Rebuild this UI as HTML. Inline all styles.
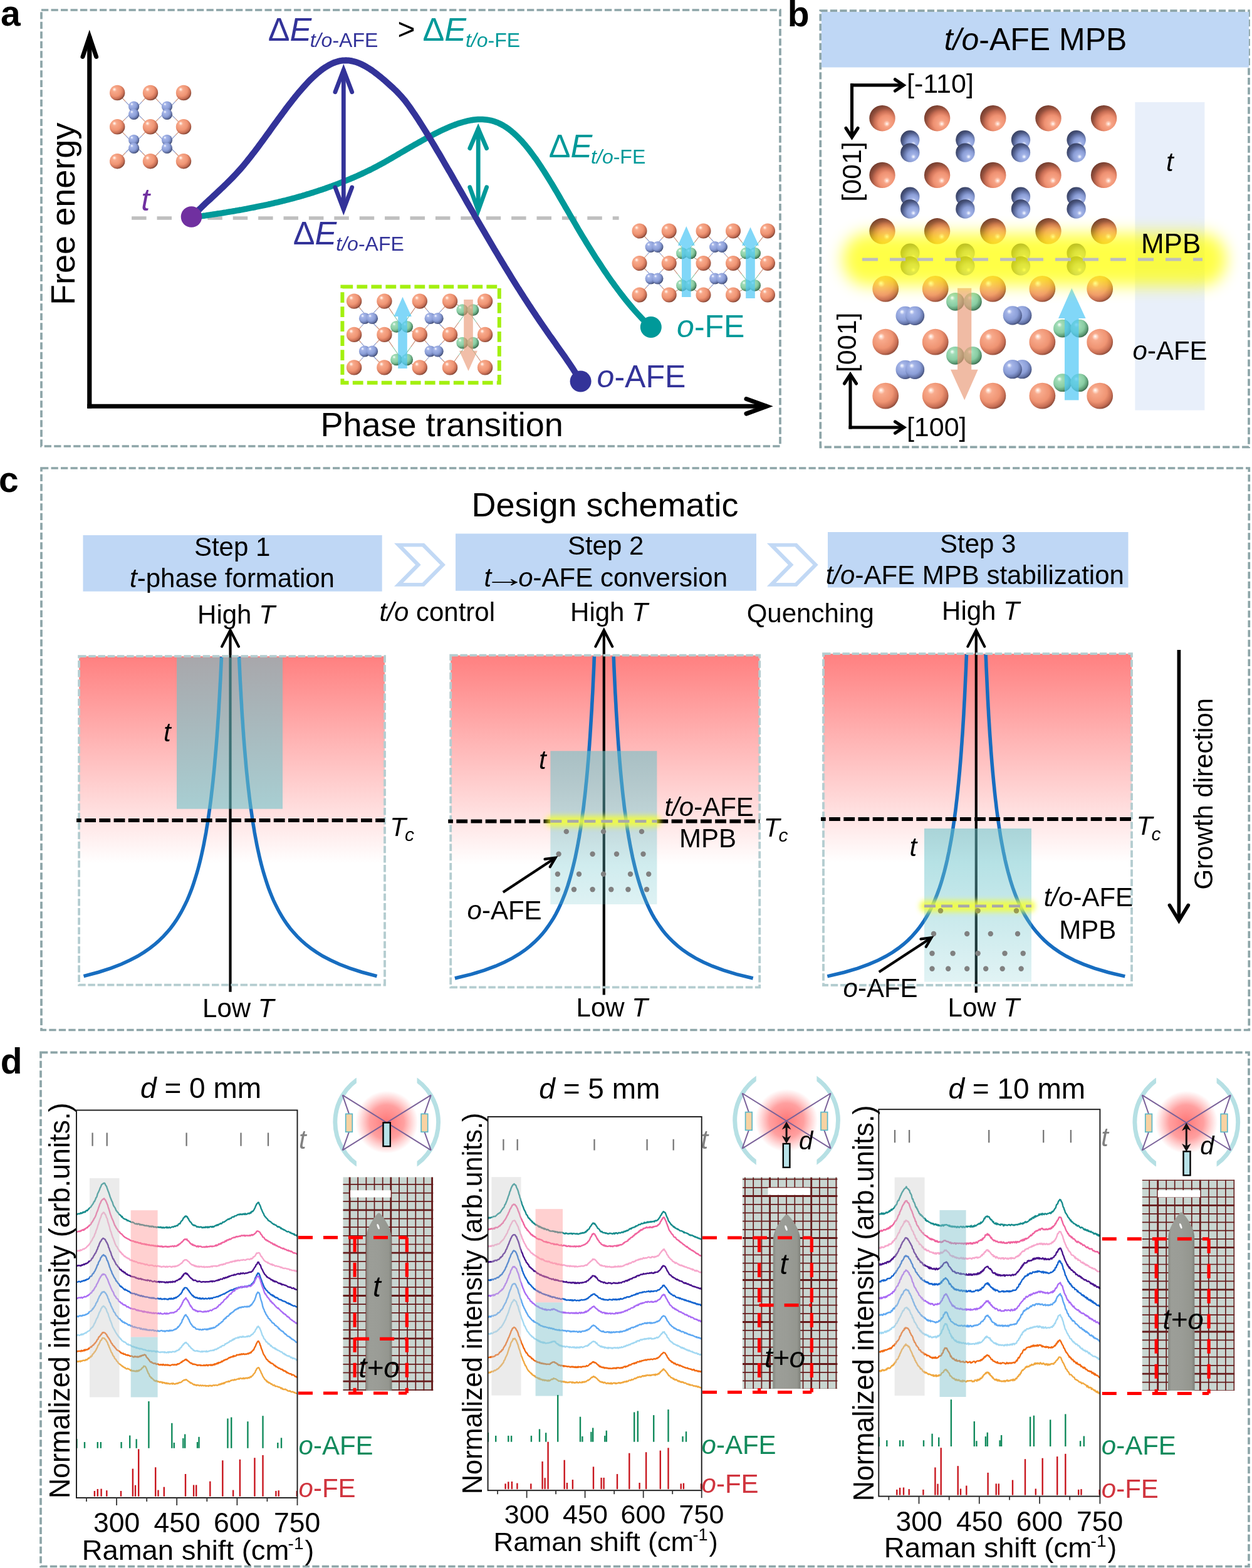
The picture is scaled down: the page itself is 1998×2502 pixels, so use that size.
<!DOCTYPE html>
<html><head><meta charset="utf-8"><title>Figure</title>
<style>html,body{margin:0;padding:0;background:#fff;}svg{display:block}text{font-family:"Liberation Sans",Arial,sans-serif;}</style>
</head><body>
<svg xmlns="http://www.w3.org/2000/svg" width="1998" height="2502" viewBox="0 0 1998 2502">
<rect width="1998" height="2502" fill="#fff"/>
<defs>
<radialGradient id="gO" cx="0.4" cy="0.38" r="0.68" fx="0.3" fy="0.27"><stop offset="0" stop-color="#FFFFFF"/><stop offset="0.07" stop-color="#FFE2D4"/><stop offset="0.2" stop-color="#F8AA8C"/><stop offset="0.58" stop-color="#EF9473"/><stop offset="0.8" stop-color="#C86F55"/><stop offset="0.93" stop-color="#8A4A39"/><stop offset="1" stop-color="#6E3A2D"/></radialGradient>
<radialGradient id="gB" cx="0.4" cy="0.38" r="0.68" fx="0.3" fy="0.27"><stop offset="0" stop-color="#FFFFFF"/><stop offset="0.07" stop-color="#E2E8FB"/><stop offset="0.2" stop-color="#A5B5E8"/><stop offset="0.58" stop-color="#8C9FD8"/><stop offset="0.8" stop-color="#6474A8"/><stop offset="0.93" stop-color="#414C74"/><stop offset="1" stop-color="#333C5C"/></radialGradient>
<radialGradient id="gG" cx="0.4" cy="0.38" r="0.68" fx="0.3" fy="0.27"><stop offset="0" stop-color="#FFFFFF"/><stop offset="0.07" stop-color="#DDF5E6"/><stop offset="0.2" stop-color="#A2DDB8"/><stop offset="0.58" stop-color="#88CCA2"/><stop offset="0.8" stop-color="#5C9A74"/><stop offset="0.93" stop-color="#3A6A4C"/><stop offset="1" stop-color="#2E543C"/></radialGradient>
<radialGradient id="gOo" cx="0.42" cy="0.4" r="0.68" fx="0.32" fy="0.28"><stop offset="0" stop-color="#FFFFFF"/><stop offset="0.07" stop-color="#FFE2D4"/><stop offset="0.2" stop-color="#F8AA8C"/><stop offset="0.58" stop-color="#EF9473"/><stop offset="0.8" stop-color="#C86F55"/><stop offset="0.93" stop-color="#8A4A39"/><stop offset="1" stop-color="#6E3A2D"/></radialGradient>
<radialGradient id="gBo" cx="0.42" cy="0.4" r="0.68" fx="0.32" fy="0.28"><stop offset="0" stop-color="#FFFFFF"/><stop offset="0.07" stop-color="#E2E8FB"/><stop offset="0.2" stop-color="#A5B5E8"/><stop offset="0.58" stop-color="#8C9FD8"/><stop offset="0.8" stop-color="#6474A8"/><stop offset="0.93" stop-color="#414C74"/><stop offset="1" stop-color="#333C5C"/></radialGradient>
<radialGradient id="gGo" cx="0.42" cy="0.4" r="0.68" fx="0.32" fy="0.28"><stop offset="0" stop-color="#FFFFFF"/><stop offset="0.07" stop-color="#DDF5E6"/><stop offset="0.2" stop-color="#A2DDB8"/><stop offset="0.58" stop-color="#88CCA2"/><stop offset="0.8" stop-color="#5C9A74"/><stop offset="0.93" stop-color="#3A6A4C"/><stop offset="1" stop-color="#2E543C"/></radialGradient>
<radialGradient id="gOt" cx="0.63" cy="0.65" r="0.72" fx="0.68" fy="0.72"><stop offset="0" stop-color="#FFFFFF"/><stop offset="0.06" stop-color="#FFD8C8"/><stop offset="0.17" stop-color="#F7A486"/><stop offset="0.42" stop-color="#EF9172"/><stop offset="0.62" stop-color="#C96E54"/><stop offset="0.78" stop-color="#93503D"/><stop offset="1" stop-color="#6A3629"/></radialGradient>
<radialGradient id="gBt" cx="0.63" cy="0.65" r="0.72" fx="0.68" fy="0.72"><stop offset="0" stop-color="#FFFFFF"/><stop offset="0.06" stop-color="#DCE4FA"/><stop offset="0.17" stop-color="#A2B3E7"/><stop offset="0.42" stop-color="#8B9ED7"/><stop offset="0.62" stop-color="#6676A9"/><stop offset="0.78" stop-color="#48547E"/><stop offset="1" stop-color="#343C5A"/></radialGradient>
<filter id="blurB" x="-20%" y="-100%" width="140%" height="300%"><feGaussianBlur stdDeviation="13"/></filter>
<filter id="blurC" x="-20%" y="-200%" width="140%" height="500%"><feGaussianBlur stdDeviation="4"/></filter>
<radialGradient id="glowR"><stop offset="0" stop-color="#FF7070" stop-opacity="0.95"/><stop offset="0.55" stop-color="#FF8080" stop-opacity="0.75"/><stop offset="1" stop-color="#FF9090" stop-opacity="0"/></radialGradient>
<linearGradient id="rodG" x1="0" y1="0" x2="1" y2="0"><stop offset="0" stop-color="#85877F"/><stop offset="0.12" stop-color="#9C9E98"/><stop offset="0.5" stop-color="#9A9C96"/><stop offset="0.88" stop-color="#94968F"/><stop offset="1" stop-color="#7C7E77"/></linearGradient>
</defs>
<rect x="66" y="16" width="1179" height="696" fill="none" stroke="#8DA5A8" stroke-width="3.7" stroke-dasharray="11.3 4.2"/>
<text x="1.1" y="40.9" font-size="57" fill="#000" font-weight="bold" ><tspan font-weight="bold">a</tspan></text>
<line x1="142.8" y1="651.5" x2="142.8" y2="58.0" stroke="#000" stroke-width="7.2" />
<polyline points="132.0,90.5 142.8,58.5 153.6,90.5" stroke="#000" stroke-width="7" fill="none" stroke-linecap="round" stroke-linejoin="miter"/>
<line x1="139.2" y1="648.3" x2="1224.0" y2="648.3" stroke="#000" stroke-width="7" />
<polyline points="1191.0,636.5 1223.5,648.3 1191.0,660.1" stroke="#000" stroke-width="7" fill="none" stroke-linecap="round" stroke-linejoin="miter"/>
<text x="-4.4" y="0.0" font-size="54" fill="#000" transform="translate(119,482.5) rotate(-90)"><tspan>Free energy</tspan></text>
<text x="511.5" y="695.6" font-size="54" fill="#000" ><tspan>Phase transition</tspan></text>
<line x1="210.1" y1="348.0" x2="987.6" y2="348.0" stroke="#BFBFBF" stroke-width="5.6" stroke-dasharray="23.5 16.9"/>
<line x1="187.2" y1="148.0" x2="200.4" y2="162.1" stroke="#C98F78" stroke-width="1.1" />
<line x1="200.4" y1="162.1" x2="213.6" y2="176.2" stroke="#8796C8" stroke-width="1.1" />
<line x1="187.2" y1="202.3" x2="200.4" y2="189.2" stroke="#C98F78" stroke-width="1.1" />
<line x1="200.4" y1="189.2" x2="213.6" y2="176.2" stroke="#8796C8" stroke-width="1.1" />
<line x1="240.0" y1="148.0" x2="226.8" y2="162.1" stroke="#C98F78" stroke-width="1.1" />
<line x1="226.8" y1="162.1" x2="213.6" y2="176.2" stroke="#8796C8" stroke-width="1.1" />
<line x1="240.0" y1="202.3" x2="226.8" y2="189.2" stroke="#C98F78" stroke-width="1.1" />
<line x1="226.8" y1="189.2" x2="213.6" y2="176.2" stroke="#8796C8" stroke-width="1.1" />
<line x1="240.1" y1="148.0" x2="253.3" y2="162.1" stroke="#C98F78" stroke-width="1.1" />
<line x1="253.3" y1="162.1" x2="266.5" y2="176.2" stroke="#8796C8" stroke-width="1.1" />
<line x1="240.1" y1="202.3" x2="253.3" y2="189.2" stroke="#C98F78" stroke-width="1.1" />
<line x1="253.3" y1="189.2" x2="266.5" y2="176.2" stroke="#8796C8" stroke-width="1.1" />
<line x1="292.9" y1="148.0" x2="279.7" y2="162.1" stroke="#C98F78" stroke-width="1.1" />
<line x1="279.7" y1="162.1" x2="266.5" y2="176.2" stroke="#8796C8" stroke-width="1.1" />
<line x1="292.9" y1="202.3" x2="279.7" y2="189.2" stroke="#C98F78" stroke-width="1.1" />
<line x1="279.7" y1="189.2" x2="266.5" y2="176.2" stroke="#8796C8" stroke-width="1.1" />
<line x1="187.2" y1="202.3" x2="200.4" y2="216.1" stroke="#C98F78" stroke-width="1.1" />
<line x1="200.4" y1="216.1" x2="213.6" y2="229.9" stroke="#8796C8" stroke-width="1.1" />
<line x1="187.2" y1="257.2" x2="200.4" y2="243.5" stroke="#C98F78" stroke-width="1.1" />
<line x1="200.4" y1="243.5" x2="213.6" y2="229.9" stroke="#8796C8" stroke-width="1.1" />
<line x1="240.0" y1="202.3" x2="226.8" y2="216.1" stroke="#C98F78" stroke-width="1.1" />
<line x1="226.8" y1="216.1" x2="213.6" y2="229.9" stroke="#8796C8" stroke-width="1.1" />
<line x1="240.0" y1="257.2" x2="226.8" y2="243.5" stroke="#C98F78" stroke-width="1.1" />
<line x1="226.8" y1="243.5" x2="213.6" y2="229.9" stroke="#8796C8" stroke-width="1.1" />
<line x1="240.1" y1="202.3" x2="253.3" y2="216.1" stroke="#C98F78" stroke-width="1.1" />
<line x1="253.3" y1="216.1" x2="266.5" y2="229.9" stroke="#8796C8" stroke-width="1.1" />
<line x1="240.1" y1="257.2" x2="253.3" y2="243.5" stroke="#C98F78" stroke-width="1.1" />
<line x1="253.3" y1="243.5" x2="266.5" y2="229.9" stroke="#8796C8" stroke-width="1.1" />
<line x1="292.9" y1="202.3" x2="279.7" y2="216.1" stroke="#C98F78" stroke-width="1.1" />
<line x1="279.7" y1="216.1" x2="266.5" y2="229.9" stroke="#8796C8" stroke-width="1.1" />
<line x1="292.9" y1="257.2" x2="279.7" y2="243.5" stroke="#C98F78" stroke-width="1.1" />
<line x1="279.7" y1="243.5" x2="266.5" y2="229.9" stroke="#8796C8" stroke-width="1.1" />
<circle cx="187.2" cy="148.0" r="12.2" fill="url(#gO)" />
<circle cx="240.0" cy="148.0" r="12.2" fill="url(#gO)" />
<circle cx="293.0" cy="148.0" r="12.2" fill="url(#gO)" />
<circle cx="187.2" cy="202.3" r="12.2" fill="url(#gO)" />
<circle cx="240.0" cy="202.3" r="12.2" fill="url(#gO)" />
<circle cx="293.0" cy="202.3" r="12.2" fill="url(#gO)" />
<circle cx="187.2" cy="257.2" r="12.2" fill="url(#gO)" />
<circle cx="240.0" cy="257.2" r="12.2" fill="url(#gO)" />
<circle cx="293.0" cy="257.2" r="12.2" fill="url(#gO)" />
<circle cx="213.6" cy="170.0" r="8.6" fill="url(#gB)" />
<circle cx="213.6" cy="182.3" r="8.6" fill="url(#gB)" />
<circle cx="266.5" cy="170.0" r="8.6" fill="url(#gB)" />
<circle cx="266.5" cy="182.3" r="8.6" fill="url(#gB)" />
<circle cx="213.6" cy="223.3" r="8.6" fill="url(#gB)" />
<circle cx="213.6" cy="236.4" r="8.6" fill="url(#gB)" />
<circle cx="266.5" cy="223.3" r="8.6" fill="url(#gB)" />
<circle cx="266.5" cy="236.4" r="8.6" fill="url(#gB)" />
<rect x="546.4" y="457.4" width="250.4" height="153.4" fill="none" stroke="#A3F00F" stroke-width="6" stroke-dasharray="16.8 6.2"/>
<line x1="565.1" y1="480.6" x2="576.5" y2="494.3" stroke="#C98F78" stroke-width="1.1" />
<line x1="576.5" y1="494.3" x2="588.0" y2="508.0" stroke="#8796C8" stroke-width="1.1" />
<line x1="565.1" y1="533.9" x2="576.5" y2="521.0" stroke="#C98F78" stroke-width="1.1" />
<line x1="576.5" y1="521.0" x2="588.0" y2="508.0" stroke="#8796C8" stroke-width="1.1" />
<line x1="613.4" y1="480.6" x2="600.7" y2="494.3" stroke="#C98F78" stroke-width="1.1" />
<line x1="600.7" y1="494.3" x2="588.0" y2="508.0" stroke="#8796C8" stroke-width="1.1" />
<line x1="613.4" y1="533.9" x2="600.7" y2="521.0" stroke="#C98F78" stroke-width="1.1" />
<line x1="600.7" y1="521.0" x2="588.0" y2="508.0" stroke="#8796C8" stroke-width="1.1" />
<line x1="565.1" y1="533.9" x2="576.5" y2="547.2" stroke="#C98F78" stroke-width="1.1" />
<line x1="576.5" y1="547.2" x2="588.0" y2="560.5" stroke="#8796C8" stroke-width="1.1" />
<line x1="565.1" y1="586.4" x2="576.5" y2="573.5" stroke="#C98F78" stroke-width="1.1" />
<line x1="576.5" y1="573.5" x2="588.0" y2="560.5" stroke="#8796C8" stroke-width="1.1" />
<line x1="613.4" y1="533.9" x2="600.7" y2="547.2" stroke="#C98F78" stroke-width="1.1" />
<line x1="600.7" y1="547.2" x2="588.0" y2="560.5" stroke="#8796C8" stroke-width="1.1" />
<line x1="613.4" y1="586.4" x2="600.7" y2="573.5" stroke="#C98F78" stroke-width="1.1" />
<line x1="600.7" y1="573.5" x2="588.0" y2="560.5" stroke="#8796C8" stroke-width="1.1" />
<line x1="669.8" y1="480.6" x2="681.2" y2="494.3" stroke="#C98F78" stroke-width="1.1" />
<line x1="681.2" y1="494.3" x2="692.6" y2="508.0" stroke="#8796C8" stroke-width="1.1" />
<line x1="669.8" y1="533.9" x2="681.2" y2="521.0" stroke="#C98F78" stroke-width="1.1" />
<line x1="681.2" y1="521.0" x2="692.6" y2="508.0" stroke="#8796C8" stroke-width="1.1" />
<line x1="718.0" y1="480.6" x2="705.3" y2="494.3" stroke="#C98F78" stroke-width="1.1" />
<line x1="705.3" y1="494.3" x2="692.6" y2="508.0" stroke="#8796C8" stroke-width="1.1" />
<line x1="718.0" y1="533.9" x2="705.3" y2="521.0" stroke="#C98F78" stroke-width="1.1" />
<line x1="705.3" y1="521.0" x2="692.6" y2="508.0" stroke="#8796C8" stroke-width="1.1" />
<line x1="669.8" y1="533.9" x2="681.2" y2="547.2" stroke="#C98F78" stroke-width="1.1" />
<line x1="681.2" y1="547.2" x2="692.6" y2="560.5" stroke="#8796C8" stroke-width="1.1" />
<line x1="669.8" y1="586.4" x2="681.2" y2="573.5" stroke="#C98F78" stroke-width="1.1" />
<line x1="681.2" y1="573.5" x2="692.6" y2="560.5" stroke="#8796C8" stroke-width="1.1" />
<line x1="718.0" y1="533.9" x2="705.3" y2="547.2" stroke="#C98F78" stroke-width="1.1" />
<line x1="705.3" y1="547.2" x2="692.6" y2="560.5" stroke="#8796C8" stroke-width="1.1" />
<line x1="718.0" y1="586.4" x2="705.3" y2="573.5" stroke="#C98F78" stroke-width="1.1" />
<line x1="705.3" y1="573.5" x2="692.6" y2="560.5" stroke="#8796C8" stroke-width="1.1" />
<line x1="613.4" y1="480.6" x2="627.2" y2="500.9" stroke="#C98F78" stroke-width="1.1" />
<line x1="627.2" y1="500.9" x2="641.1" y2="521.3" stroke="#8CC8A8" stroke-width="1.1" />
<line x1="613.4" y1="533.9" x2="627.2" y2="527.6" stroke="#C98F78" stroke-width="1.1" />
<line x1="627.2" y1="527.6" x2="641.1" y2="521.3" stroke="#8CC8A8" stroke-width="1.1" />
<line x1="669.8" y1="480.6" x2="655.5" y2="500.9" stroke="#C98F78" stroke-width="1.1" />
<line x1="655.5" y1="500.9" x2="641.1" y2="521.3" stroke="#8CC8A8" stroke-width="1.1" />
<line x1="669.8" y1="533.9" x2="655.5" y2="527.6" stroke="#C98F78" stroke-width="1.1" />
<line x1="655.5" y1="527.6" x2="641.1" y2="521.3" stroke="#8CC8A8" stroke-width="1.1" />
<line x1="613.4" y1="533.9" x2="627.2" y2="553.9" stroke="#C98F78" stroke-width="1.1" />
<line x1="627.2" y1="553.9" x2="641.1" y2="573.9" stroke="#8CC8A8" stroke-width="1.1" />
<line x1="613.4" y1="586.4" x2="627.2" y2="580.1" stroke="#C98F78" stroke-width="1.1" />
<line x1="627.2" y1="580.1" x2="641.1" y2="573.9" stroke="#8CC8A8" stroke-width="1.1" />
<line x1="669.8" y1="533.9" x2="655.5" y2="553.9" stroke="#C98F78" stroke-width="1.1" />
<line x1="655.5" y1="553.9" x2="641.1" y2="573.9" stroke="#8CC8A8" stroke-width="1.1" />
<line x1="669.8" y1="586.4" x2="655.5" y2="580.1" stroke="#C98F78" stroke-width="1.1" />
<line x1="655.5" y1="580.1" x2="641.1" y2="573.9" stroke="#8CC8A8" stroke-width="1.1" />
<line x1="718.0" y1="480.6" x2="732.1" y2="487.6" stroke="#C98F78" stroke-width="1.1" />
<line x1="732.1" y1="487.6" x2="746.3" y2="494.7" stroke="#8CC8A8" stroke-width="1.1" />
<line x1="718.0" y1="533.9" x2="732.1" y2="514.3" stroke="#C98F78" stroke-width="1.1" />
<line x1="732.1" y1="514.3" x2="746.3" y2="494.7" stroke="#8CC8A8" stroke-width="1.1" />
<line x1="774.1" y1="480.6" x2="760.2" y2="487.6" stroke="#C98F78" stroke-width="1.1" />
<line x1="760.2" y1="487.6" x2="746.3" y2="494.7" stroke="#8CC8A8" stroke-width="1.1" />
<line x1="774.1" y1="533.9" x2="760.2" y2="514.3" stroke="#C98F78" stroke-width="1.1" />
<line x1="760.2" y1="514.3" x2="746.3" y2="494.7" stroke="#8CC8A8" stroke-width="1.1" />
<line x1="718.0" y1="533.9" x2="732.1" y2="540.5" stroke="#C98F78" stroke-width="1.1" />
<line x1="732.1" y1="540.5" x2="746.3" y2="547.2" stroke="#8CC8A8" stroke-width="1.1" />
<line x1="718.0" y1="586.4" x2="732.1" y2="566.8" stroke="#C98F78" stroke-width="1.1" />
<line x1="732.1" y1="566.8" x2="746.3" y2="547.2" stroke="#8CC8A8" stroke-width="1.1" />
<line x1="774.1" y1="533.9" x2="760.2" y2="540.5" stroke="#C98F78" stroke-width="1.1" />
<line x1="760.2" y1="540.5" x2="746.3" y2="547.2" stroke="#8CC8A8" stroke-width="1.1" />
<line x1="774.1" y1="586.4" x2="760.2" y2="566.8" stroke="#C98F78" stroke-width="1.1" />
<line x1="760.2" y1="566.8" x2="746.3" y2="547.2" stroke="#8CC8A8" stroke-width="1.1" />
<circle cx="565.1" cy="480.6" r="12.2" fill="url(#gO)" />
<circle cx="613.4" cy="480.6" r="12.2" fill="url(#gO)" />
<circle cx="669.8" cy="480.6" r="12.2" fill="url(#gO)" />
<circle cx="718.0" cy="480.6" r="12.2" fill="url(#gO)" />
<circle cx="774.1" cy="480.6" r="12.2" fill="url(#gO)" />
<circle cx="565.1" cy="533.9" r="12.2" fill="url(#gO)" />
<circle cx="613.4" cy="533.9" r="12.2" fill="url(#gO)" />
<circle cx="669.8" cy="533.9" r="12.2" fill="url(#gO)" />
<circle cx="718.0" cy="533.9" r="12.2" fill="url(#gO)" />
<circle cx="774.1" cy="533.9" r="12.2" fill="url(#gO)" />
<circle cx="565.1" cy="586.4" r="12.2" fill="url(#gO)" />
<circle cx="613.4" cy="586.4" r="12.2" fill="url(#gO)" />
<circle cx="669.8" cy="586.4" r="12.2" fill="url(#gO)" />
<circle cx="718.0" cy="586.4" r="12.2" fill="url(#gO)" />
<circle cx="774.1" cy="586.4" r="12.2" fill="url(#gO)" />
<circle cx="582.0" cy="508.0" r="9.1" fill="url(#gB)" />
<circle cx="594.0" cy="508.0" r="9.1" fill="url(#gB)" />
<circle cx="582.0" cy="560.5" r="9.1" fill="url(#gB)" />
<circle cx="594.0" cy="560.5" r="9.1" fill="url(#gB)" />
<circle cx="686.6" cy="508.0" r="9.1" fill="url(#gB)" />
<circle cx="698.6" cy="508.0" r="9.1" fill="url(#gB)" />
<circle cx="686.6" cy="560.5" r="9.1" fill="url(#gB)" />
<circle cx="698.6" cy="560.5" r="9.1" fill="url(#gB)" />
<circle cx="632.5" cy="521.3" r="9.4" fill="url(#gG)" />
<circle cx="649.7" cy="521.3" r="9.4" fill="url(#gG)" />
<circle cx="632.5" cy="573.9" r="9.4" fill="url(#gG)" />
<circle cx="649.7" cy="573.9" r="9.4" fill="url(#gG)" />
<circle cx="737.7" cy="494.7" r="9.4" fill="url(#gG)" />
<circle cx="754.9" cy="494.7" r="9.4" fill="url(#gG)" />
<circle cx="737.7" cy="547.2" r="9.4" fill="url(#gG)" />
<circle cx="754.9" cy="547.2" r="9.4" fill="url(#gG)" />
<polygon points="635.2,588.0 635.2,504.9 628.6,504.9 642.5,473.8 656.8,504.9 649.8,504.9 649.8,588.0" fill="rgba(80,200,245,0.72)" />
<polygon points="740.2,477.9 740.2,559.8 732.9,559.8 747.5,591.9 761.9,559.8 754.8,559.8 754.8,477.9" fill="rgba(232,150,115,0.62)" />
<line x1="1020.5" y1="368.5" x2="1032.2" y2="381.2" stroke="#C98F78" stroke-width="1.1" />
<line x1="1032.2" y1="381.2" x2="1044.0" y2="394.0" stroke="#8796C8" stroke-width="1.1" />
<line x1="1020.5" y1="420.0" x2="1032.2" y2="407.0" stroke="#C98F78" stroke-width="1.1" />
<line x1="1032.2" y1="407.0" x2="1044.0" y2="394.0" stroke="#8796C8" stroke-width="1.1" />
<line x1="1067.7" y1="368.5" x2="1055.8" y2="381.2" stroke="#C98F78" stroke-width="1.1" />
<line x1="1055.8" y1="381.2" x2="1044.0" y2="394.0" stroke="#8796C8" stroke-width="1.1" />
<line x1="1067.7" y1="420.0" x2="1055.8" y2="407.0" stroke="#C98F78" stroke-width="1.1" />
<line x1="1055.8" y1="407.0" x2="1044.0" y2="394.0" stroke="#8796C8" stroke-width="1.1" />
<line x1="1020.5" y1="420.0" x2="1032.2" y2="432.3" stroke="#C98F78" stroke-width="1.1" />
<line x1="1032.2" y1="432.3" x2="1044.0" y2="444.6" stroke="#8796C8" stroke-width="1.1" />
<line x1="1020.5" y1="470.5" x2="1032.2" y2="457.6" stroke="#C98F78" stroke-width="1.1" />
<line x1="1032.2" y1="457.6" x2="1044.0" y2="444.6" stroke="#8796C8" stroke-width="1.1" />
<line x1="1067.7" y1="420.0" x2="1055.8" y2="432.3" stroke="#C98F78" stroke-width="1.1" />
<line x1="1055.8" y1="432.3" x2="1044.0" y2="444.6" stroke="#8796C8" stroke-width="1.1" />
<line x1="1067.7" y1="470.5" x2="1055.8" y2="457.6" stroke="#C98F78" stroke-width="1.1" />
<line x1="1055.8" y1="457.6" x2="1044.0" y2="444.6" stroke="#8796C8" stroke-width="1.1" />
<line x1="1122.5" y1="368.5" x2="1134.5" y2="381.2" stroke="#C98F78" stroke-width="1.1" />
<line x1="1134.5" y1="381.2" x2="1146.5" y2="394.0" stroke="#8796C8" stroke-width="1.1" />
<line x1="1122.5" y1="420.0" x2="1134.5" y2="407.0" stroke="#C98F78" stroke-width="1.1" />
<line x1="1134.5" y1="407.0" x2="1146.5" y2="394.0" stroke="#8796C8" stroke-width="1.1" />
<line x1="1170.0" y1="368.5" x2="1158.2" y2="381.2" stroke="#C98F78" stroke-width="1.1" />
<line x1="1158.2" y1="381.2" x2="1146.5" y2="394.0" stroke="#8796C8" stroke-width="1.1" />
<line x1="1170.0" y1="420.0" x2="1158.2" y2="407.0" stroke="#C98F78" stroke-width="1.1" />
<line x1="1158.2" y1="407.0" x2="1146.5" y2="394.0" stroke="#8796C8" stroke-width="1.1" />
<line x1="1122.5" y1="420.0" x2="1134.5" y2="432.3" stroke="#C98F78" stroke-width="1.1" />
<line x1="1134.5" y1="432.3" x2="1146.5" y2="444.6" stroke="#8796C8" stroke-width="1.1" />
<line x1="1122.5" y1="470.5" x2="1134.5" y2="457.6" stroke="#C98F78" stroke-width="1.1" />
<line x1="1134.5" y1="457.6" x2="1146.5" y2="444.6" stroke="#8796C8" stroke-width="1.1" />
<line x1="1170.0" y1="420.0" x2="1158.2" y2="432.3" stroke="#C98F78" stroke-width="1.1" />
<line x1="1158.2" y1="432.3" x2="1146.5" y2="444.6" stroke="#8796C8" stroke-width="1.1" />
<line x1="1170.0" y1="470.5" x2="1158.2" y2="457.6" stroke="#C98F78" stroke-width="1.1" />
<line x1="1158.2" y1="457.6" x2="1146.5" y2="444.6" stroke="#8796C8" stroke-width="1.1" />
<line x1="1067.7" y1="368.5" x2="1081.5" y2="386.2" stroke="#C98F78" stroke-width="1.1" />
<line x1="1081.5" y1="386.2" x2="1095.3" y2="404.0" stroke="#8CC8A8" stroke-width="1.1" />
<line x1="1067.7" y1="420.0" x2="1081.5" y2="412.0" stroke="#C98F78" stroke-width="1.1" />
<line x1="1081.5" y1="412.0" x2="1095.3" y2="404.0" stroke="#8CC8A8" stroke-width="1.1" />
<line x1="1122.5" y1="368.5" x2="1108.9" y2="386.2" stroke="#C98F78" stroke-width="1.1" />
<line x1="1108.9" y1="386.2" x2="1095.3" y2="404.0" stroke="#8CC8A8" stroke-width="1.1" />
<line x1="1122.5" y1="420.0" x2="1108.9" y2="412.0" stroke="#C98F78" stroke-width="1.1" />
<line x1="1108.9" y1="412.0" x2="1095.3" y2="404.0" stroke="#8CC8A8" stroke-width="1.1" />
<line x1="1067.7" y1="420.0" x2="1081.5" y2="437.7" stroke="#C98F78" stroke-width="1.1" />
<line x1="1081.5" y1="437.7" x2="1095.3" y2="455.4" stroke="#8CC8A8" stroke-width="1.1" />
<line x1="1067.7" y1="470.5" x2="1081.5" y2="462.9" stroke="#C98F78" stroke-width="1.1" />
<line x1="1081.5" y1="462.9" x2="1095.3" y2="455.4" stroke="#8CC8A8" stroke-width="1.1" />
<line x1="1122.5" y1="420.0" x2="1108.9" y2="437.7" stroke="#C98F78" stroke-width="1.1" />
<line x1="1108.9" y1="437.7" x2="1095.3" y2="455.4" stroke="#8CC8A8" stroke-width="1.1" />
<line x1="1122.5" y1="470.5" x2="1108.9" y2="462.9" stroke="#C98F78" stroke-width="1.1" />
<line x1="1108.9" y1="462.9" x2="1095.3" y2="455.4" stroke="#8CC8A8" stroke-width="1.1" />
<line x1="1170.0" y1="368.5" x2="1183.8" y2="386.2" stroke="#C98F78" stroke-width="1.1" />
<line x1="1183.8" y1="386.2" x2="1197.7" y2="404.0" stroke="#8CC8A8" stroke-width="1.1" />
<line x1="1170.0" y1="420.0" x2="1183.8" y2="412.0" stroke="#C98F78" stroke-width="1.1" />
<line x1="1183.8" y1="412.0" x2="1197.7" y2="404.0" stroke="#8CC8A8" stroke-width="1.1" />
<line x1="1225.0" y1="368.5" x2="1211.3" y2="386.2" stroke="#C98F78" stroke-width="1.1" />
<line x1="1211.3" y1="386.2" x2="1197.7" y2="404.0" stroke="#8CC8A8" stroke-width="1.1" />
<line x1="1225.0" y1="420.0" x2="1211.3" y2="412.0" stroke="#C98F78" stroke-width="1.1" />
<line x1="1211.3" y1="412.0" x2="1197.7" y2="404.0" stroke="#8CC8A8" stroke-width="1.1" />
<line x1="1170.0" y1="420.0" x2="1183.8" y2="437.7" stroke="#C98F78" stroke-width="1.1" />
<line x1="1183.8" y1="437.7" x2="1197.7" y2="455.4" stroke="#8CC8A8" stroke-width="1.1" />
<line x1="1170.0" y1="470.5" x2="1183.8" y2="462.9" stroke="#C98F78" stroke-width="1.1" />
<line x1="1183.8" y1="462.9" x2="1197.7" y2="455.4" stroke="#8CC8A8" stroke-width="1.1" />
<line x1="1225.0" y1="420.0" x2="1211.3" y2="437.7" stroke="#C98F78" stroke-width="1.1" />
<line x1="1211.3" y1="437.7" x2="1197.7" y2="455.4" stroke="#8CC8A8" stroke-width="1.1" />
<line x1="1225.0" y1="470.5" x2="1211.3" y2="462.9" stroke="#C98F78" stroke-width="1.1" />
<line x1="1211.3" y1="462.9" x2="1197.7" y2="455.4" stroke="#8CC8A8" stroke-width="1.1" />
<circle cx="1020.5" cy="368.5" r="12.0" fill="url(#gO)" />
<circle cx="1067.7" cy="368.5" r="12.0" fill="url(#gO)" />
<circle cx="1122.5" cy="368.5" r="12.0" fill="url(#gO)" />
<circle cx="1170.0" cy="368.5" r="12.0" fill="url(#gO)" />
<circle cx="1225.0" cy="368.5" r="12.0" fill="url(#gO)" />
<circle cx="1020.5" cy="420.0" r="12.0" fill="url(#gO)" />
<circle cx="1067.7" cy="420.0" r="12.0" fill="url(#gO)" />
<circle cx="1122.5" cy="420.0" r="12.0" fill="url(#gO)" />
<circle cx="1170.0" cy="420.0" r="12.0" fill="url(#gO)" />
<circle cx="1225.0" cy="420.0" r="12.0" fill="url(#gO)" />
<circle cx="1020.5" cy="470.5" r="12.0" fill="url(#gO)" />
<circle cx="1067.7" cy="470.5" r="12.0" fill="url(#gO)" />
<circle cx="1122.5" cy="470.5" r="12.0" fill="url(#gO)" />
<circle cx="1170.0" cy="470.5" r="12.0" fill="url(#gO)" />
<circle cx="1225.0" cy="470.5" r="12.0" fill="url(#gO)" />
<circle cx="1038.5" cy="394.0" r="9.0" fill="url(#gB)" />
<circle cx="1049.5" cy="394.0" r="9.0" fill="url(#gB)" />
<circle cx="1038.5" cy="444.6" r="9.0" fill="url(#gB)" />
<circle cx="1049.5" cy="444.6" r="9.0" fill="url(#gB)" />
<circle cx="1141.0" cy="394.0" r="9.0" fill="url(#gB)" />
<circle cx="1152.0" cy="394.0" r="9.0" fill="url(#gB)" />
<circle cx="1141.0" cy="444.6" r="9.0" fill="url(#gB)" />
<circle cx="1152.0" cy="444.6" r="9.0" fill="url(#gB)" />
<circle cx="1088.3" cy="404.0" r="9.3" fill="url(#gG)" />
<circle cx="1102.3" cy="404.0" r="9.3" fill="url(#gG)" />
<circle cx="1088.3" cy="455.4" r="9.3" fill="url(#gG)" />
<circle cx="1102.3" cy="455.4" r="9.3" fill="url(#gG)" />
<circle cx="1190.7" cy="404.0" r="9.3" fill="url(#gG)" />
<circle cx="1204.7" cy="404.0" r="9.3" fill="url(#gG)" />
<circle cx="1190.7" cy="455.4" r="9.3" fill="url(#gG)" />
<circle cx="1204.7" cy="455.4" r="9.3" fill="url(#gG)" />
<polygon points="1088.0,474.0 1088.0,391.7 1081.8,391.7 1095.3,361.0 1108.8,391.7 1102.6,391.7 1102.6,474.0" fill="rgba(80,200,245,0.72)" />
<polygon points="1190.2,476.0 1190.2,391.7 1184.0,391.7 1197.5,362.4 1211.0,391.7 1204.8,391.7 1204.8,476.0" fill="rgba(80,200,245,0.72)" />
<polyline points="305.7,347.0 308.2,346.7 310.7,346.4 313.2,346.0 315.7,345.7 318.3,345.3 320.8,344.9 323.3,344.6 325.8,344.2 328.3,343.9 330.8,343.5 333.3,343.1 335.8,342.8 338.3,342.4 340.8,342.0 343.4,341.6 345.9,341.2 348.4,340.8 350.9,340.5 353.4,340.1 355.9,339.7 358.4,339.3 360.9,338.9 363.4,338.4 365.9,338.0 368.5,337.6 371.0,337.2 373.5,336.8 376.0,336.3 378.5,335.9 381.0,335.5 383.5,335.0 386.0,334.6 388.5,334.1 391.0,333.6 393.6,333.2 396.1,332.7 398.6,332.2 401.1,331.7 403.6,331.2 406.1,330.8 408.6,330.2 411.1,329.7 413.6,329.2 416.2,328.7 418.7,328.2 421.2,327.7 423.7,327.1 426.2,326.6 428.7,326.0 431.2,325.5 433.7,324.9 436.2,324.3 438.7,323.7 441.3,323.1 443.8,322.6 446.3,321.9 448.8,321.3 451.3,320.7 453.8,320.1 456.3,319.5 458.8,318.8 461.3,318.2 463.8,317.5 466.4,316.8 468.9,316.2 471.4,315.5 473.9,314.8 476.4,314.1 478.9,313.4 481.4,312.7 483.9,311.9 486.4,311.2 488.9,310.4 491.5,309.7 494.0,308.9 496.5,308.1 499.0,307.4 501.5,306.6 504.0,305.8 506.5,304.9 509.0,304.1 511.5,303.3 514.1,302.4 516.6,301.6 519.1,300.7 521.6,299.8 524.1,298.9 526.6,298.0 529.1,297.1 531.6,296.2 534.1,295.3 536.6,294.3 539.2,293.4 541.7,292.4 544.2,291.4 546.7,290.4 549.2,289.4 551.7,288.4 554.2,287.4 556.7,286.4 559.2,285.3 561.7,284.2 564.3,283.2 566.8,282.1 569.3,281.0 571.8,279.9 574.3,278.7 576.8,277.6 579.3,276.4 581.8,275.2 584.3,274.0 586.9,272.8 589.4,271.6 591.9,270.4 594.4,269.1 596.9,267.8 599.4,266.5 601.9,265.2 604.4,263.8 606.9,262.5 609.4,261.1 612.0,259.7 614.5,258.3 617.0,256.9 619.5,255.5 622.0,254.0 624.5,252.6 627.0,251.1 629.5,249.7 632.0,248.2 634.5,246.7 637.1,245.3 639.6,243.8 642.1,242.3 644.6,240.9 647.1,239.4 649.6,237.9 652.1,236.5 654.6,235.0 657.1,233.6 659.6,232.2 662.2,230.7 664.7,229.3 667.2,227.9 669.7,226.5 672.2,225.1 674.7,223.7 677.2,222.3 679.7,220.9 682.2,219.6 684.8,218.2 687.3,216.9 689.8,215.6 692.3,214.3 694.8,213.0 697.3,211.7 699.8,210.5 702.3,209.2 704.8,208.0 707.3,206.9 709.9,205.7 712.4,204.6 714.9,203.5 717.4,202.4 719.9,201.4 722.4,200.4 724.9,199.5 727.4,198.5 729.9,197.6 732.4,196.8 735.0,196.0 737.5,195.2 740.0,194.5 742.5,193.9 745.0,193.2 747.5,192.7 750.0,192.2 752.5,191.7 755.0,191.3 757.5,191.0 760.1,190.8 762.6,190.6 765.1,190.5 767.6,190.5 770.1,190.5 772.6,190.7 775.1,190.9 777.6,191.2 780.1,191.6 782.7,192.1 785.2,192.7 787.7,193.4 790.2,194.3 792.7,195.2 795.2,196.2 797.7,197.4 800.2,198.6 802.7,200.0 805.2,201.5 807.8,203.1 810.3,204.9 812.8,206.7 815.3,208.7 817.8,210.8 820.3,212.9 822.8,215.2 825.3,217.6 827.8,220.1 830.3,222.7 832.9,225.4 835.4,228.3 837.9,231.2 840.4,234.2 842.9,237.3 845.4,240.5 847.9,243.8 850.4,247.2 852.9,250.7 855.5,254.2 858.0,257.9 860.5,261.6 863.0,265.3 865.5,269.2 868.0,273.0 870.5,277.0 873.0,281.0 875.5,285.0 878.0,289.1 880.6,293.3 883.1,297.5 885.6,301.7 888.1,305.9 890.6,310.2 893.1,314.5 895.6,318.8 898.1,323.1 900.6,327.4 903.1,331.8 905.7,336.1 908.2,340.5 910.7,344.8 913.2,349.1 915.7,353.4 918.2,357.7 920.7,362.0 923.2,366.3 925.7,370.5 928.2,374.7 930.8,378.9 933.3,383.0 935.8,387.2 938.3,391.2 940.8,395.3 943.3,399.3 945.8,403.3 948.3,407.3 950.8,411.2 953.4,415.1 955.9,418.9 958.4,422.7 960.9,426.5 963.4,430.3 965.9,434.0 968.4,437.6 970.9,441.3 973.4,444.9 975.9,448.4 978.5,451.9 981.0,455.4 983.5,458.8 986.0,462.2 988.5,465.5 991.0,468.8 993.5,472.0 996.0,475.3 998.5,478.4 1001.0,481.5 1003.6,484.6 1006.1,487.6 1008.6,490.6 1011.1,493.5 1013.6,496.3 1016.1,499.1 1018.6,501.9 1021.1,504.6 1023.6,507.3 1026.1,509.9 1028.7,512.4 1031.2,514.9 1033.7,517.4 1036.2,519.8 1038.7,522.1" stroke="#009999" stroke-width="9.5" fill="none" stroke-linecap="round" stroke-linejoin="round"/>
<polyline points="305.7,346.8 308.2,344.1 310.7,341.5 313.2,338.9 315.8,336.4 318.3,333.9 320.8,331.5 323.3,329.0 325.8,326.6 328.3,324.2 330.8,321.9 333.4,319.5 335.9,317.2 338.4,314.8 340.9,312.5 343.4,310.2 345.9,307.8 348.4,305.5 350.9,303.1 353.5,300.7 356.0,298.3 358.5,295.9 361.0,293.5 363.5,291.0 366.0,288.5 368.5,286.0 371.1,283.4 373.6,280.8 376.1,278.1 378.6,275.4 381.1,272.6 383.6,269.8 386.1,266.9 388.7,263.9 391.2,260.9 393.7,257.9 396.2,254.7 398.7,251.6 401.2,248.4 403.7,245.1 406.3,241.9 408.8,238.5 411.3,235.2 413.8,231.8 416.3,228.4 418.8,225.0 421.3,221.6 423.8,218.1 426.4,214.6 428.9,211.2 431.4,207.7 433.9,204.2 436.4,200.7 438.9,197.3 441.4,193.8 444.0,190.3 446.5,186.9 449.0,183.5 451.5,180.1 454.0,176.7 456.5,173.3 459.0,170.0 461.6,166.7 464.1,163.5 466.6,160.2 469.1,157.1 471.6,153.9 474.1,150.9 476.6,147.8 479.1,144.9 481.7,141.9 484.2,139.1 486.7,136.3 489.2,133.6 491.7,130.9 494.2,128.3 496.7,125.8 499.3,123.4 501.8,121.1 504.3,118.8 506.8,116.6 509.3,114.6 511.8,112.6 514.3,110.7 516.9,108.9 519.4,107.2 521.9,105.7 524.4,104.2 526.9,102.9 529.4,101.6 531.9,100.5 534.5,99.5 537.0,98.7 539.5,97.9 542.0,97.3 544.5,96.9 547.0,96.5 549.5,96.4 552.0,96.3 554.6,96.4 557.1,96.6 559.6,97.0 562.1,97.5 564.6,98.1 567.1,98.8 569.6,99.6 572.2,100.5 574.7,101.6 577.2,102.7 579.7,104.0 582.2,105.3 584.7,106.7 587.2,108.2 589.8,109.8 592.3,111.5 594.8,113.2 597.3,115.0 599.8,116.9 602.3,118.8 604.8,120.8 607.4,122.9 609.9,125.0 612.4,127.1 614.9,129.3 617.4,131.5 619.9,133.7 622.4,136.0 624.9,138.3 627.5,140.6 630.0,143.0 632.5,145.4 635.0,148.0 637.5,150.6 640.0,153.3 642.5,156.2 645.1,159.2 647.6,162.4 650.1,165.7 652.6,169.1 655.1,172.7 657.6,176.3 660.1,180.0 662.7,183.7 665.2,187.5 667.7,191.3 670.2,195.2 672.7,199.1 675.2,203.1 677.7,207.1 680.3,211.2 682.8,215.3 685.3,219.4 687.8,223.5 690.3,227.7 692.8,231.9 695.3,236.1 697.8,240.4 700.4,244.7 702.9,248.9 705.4,253.2 707.9,257.6 710.4,261.9 712.9,266.2 715.4,270.6 718.0,274.9 720.5,279.3 723.0,283.7 725.5,288.1 728.0,292.5 730.5,296.8 733.0,301.2 735.6,305.6 738.1,310.0 740.6,314.4 743.1,318.8 745.6,323.2 748.1,327.5 750.6,331.9 753.2,336.3 755.7,340.6 758.2,345.0 760.7,349.3 763.2,353.7 765.7,358.0 768.2,362.3 770.7,366.6 773.3,370.9 775.8,375.2 778.3,379.5 780.8,383.8 783.3,388.1 785.8,392.3 788.3,396.6 790.9,400.8 793.4,405.0 795.9,409.2 798.4,413.4 800.9,417.6 803.4,421.7 805.9,425.9 808.5,430.0 811.0,434.1 813.5,438.2 816.0,442.3 818.5,446.3 821.0,450.4 823.5,454.4 826.0,458.4 828.6,462.3 831.1,466.3 833.6,470.2 836.1,474.2 838.6,478.0 841.1,481.9 843.6,485.8 846.2,489.6 848.7,493.4 851.2,497.2 853.7,500.9 856.2,504.7 858.7,508.4 861.2,512.1 863.8,515.8 866.3,519.5 868.8,523.1 871.3,526.8 873.8,530.4 876.3,534.0 878.8,537.6 881.4,541.1 883.9,544.7 886.4,548.2 888.9,551.8 891.4,555.3 893.9,558.8 896.4,562.4 898.9,565.9 901.5,569.5 904.0,573.2 906.5,576.8 909.0,580.5 911.5,584.3 914.0,588.1 916.5,592.0 919.1,596.0 921.6,600.1 924.1,604.2 926.6,608.5" stroke="#333399" stroke-width="10" fill="none" stroke-linecap="round" stroke-linejoin="round"/>
<circle cx="305.5" cy="346.0" r="16.8" fill="#7030A0" />
<circle cx="926.6" cy="608.5" r="17.0" fill="#333399" />
<circle cx="1038.8" cy="522.0" r="17.0" fill="#009999" />
<line x1="548.3" y1="110.6" x2="548.3" y2="335.1" stroke="#333399" stroke-width="6.8" />
<polyline points="534.9,146.7 548.3,111.6 561.7,146.7" stroke="#333399" stroke-width="6.8" fill="none" stroke-linecap="round" stroke-linejoin="miter"/>
<polyline points="534.9,299.0 548.3,334.1 561.7,299.0" stroke="#333399" stroke-width="6.8" fill="none" stroke-linecap="round" stroke-linejoin="miter"/>
<line x1="763.2" y1="204.3" x2="763.2" y2="337.1" stroke="#009999" stroke-width="6.8" />
<polyline points="749.8,236.6 763.2,205.3 776.6,236.6" stroke="#009999" stroke-width="6.8" fill="none" stroke-linecap="round" stroke-linejoin="miter"/>
<polyline points="749.8,298.8 763.2,336.1 776.6,298.8" stroke="#009999" stroke-width="6.8" fill="none" stroke-linecap="round" stroke-linejoin="miter"/>
<text x="427.8" y="65.1" font-size="52" fill="#333399" ><tspan>Δ</tspan><tspan font-style="italic">E</tspan></text>
<text x="494.8" y="74.9" font-size="32" fill="#333399" ><tspan font-style="italic">t/o</tspan><tspan>-AFE</tspan></text>
<text x="634.6" y="63.3" font-size="48" fill="#000" ><tspan>&gt;</tspan></text>
<text x="674.6" y="65.1" font-size="52" fill="#009999" ><tspan>Δ</tspan><tspan font-style="italic">E</tspan></text>
<text x="742.9" y="74.9" font-size="32" fill="#009999" ><tspan font-style="italic">t/o</tspan><tspan>-FE</tspan></text>
<text x="875.7" y="250.8" font-size="52" fill="#009999" ><tspan>Δ</tspan><tspan font-style="italic">E</tspan></text>
<text x="943.1" y="260.6" font-size="32" fill="#009999" ><tspan font-style="italic">t/o</tspan><tspan>-FE</tspan></text>
<text x="467.8" y="389.7" font-size="52" fill="#333399" ><tspan>Δ</tspan><tspan font-style="italic">E</tspan></text>
<text x="536.3" y="399.8" font-size="32" fill="#333399" ><tspan font-style="italic">t/o</tspan><tspan>-AFE</tspan></text>
<text x="225.2" y="336.0" font-size="50" fill="#7030A0" ><tspan font-style="italic">t</tspan></text>
<text x="952.6" y="617.5" font-size="50" fill="#333399" ><tspan font-style="italic">o</tspan><tspan>-AFE</tspan></text>
<text x="1080.1" y="538.0" font-size="50" fill="#009999" ><tspan font-style="italic">o</tspan><tspan>-FE</tspan></text>
<rect x="1309.3" y="17.2" width="683.7" height="696.1999999999999" fill="none" stroke="#8DA5A8" stroke-width="3.7" stroke-dasharray="11.3 4.2"/>
<rect x="1310.9" y="18.9" width="682.1" height="88.6" fill="#BFD7F5" />
<text x="1256.7" y="41.7" font-size="57" fill="#000" font-weight="bold" ><tspan font-weight="bold">b</tspan></text>
<text x="1506.7" y="80.1" font-size="50" fill="#000" ><tspan font-style="italic">t/o</tspan><tspan>-AFE MPB</tspan></text>
<rect x="1811.4" y="163.0" width="111.0" height="491.6" fill="#E8EFFA" />
<line x1="1359.5" y1="133.4" x2="1359.5" y2="218.0" stroke="#000" stroke-width="5.1" />
<line x1="1357.0" y1="135.9" x2="1441.0" y2="135.9" stroke="#000" stroke-width="5.1" />
<polyline points="1428.5,126.8 1442.0,135.9 1428.5,145.0" stroke="#000" stroke-width="5.1" fill="none" stroke-linecap="round" stroke-linejoin="miter"/>
<polyline points="1350.0,204.5 1359.5,219.0 1369.0,204.5" stroke="#000" stroke-width="5.1" fill="none" stroke-linecap="round" stroke-linejoin="miter"/>
<text x="1447.1" y="147.5" font-size="43" fill="#000" ><tspan>[-110]</tspan></text>
<text x="-3.1" y="0.0" font-size="43" fill="#000" transform="translate(1373.5,318.7) rotate(-90)"><tspan>[001]</tspan></text>
<line x1="1357.0" y1="598.0" x2="1357.0" y2="684.5" stroke="#000" stroke-width="5.1" />
<line x1="1354.5" y1="682.0" x2="1441.0" y2="682.0" stroke="#000" stroke-width="5.1" />
<polyline points="1347.5,612.0 1357.0,597.5 1366.5,612.0" stroke="#000" stroke-width="5.1" fill="none" stroke-linecap="round" stroke-linejoin="miter"/>
<polyline points="1428.5,672.9 1442.5,682.0 1428.5,691.1" stroke="#000" stroke-width="5.1" fill="none" stroke-linecap="round" stroke-linejoin="miter"/>
<text x="1446.9" y="695.7" font-size="43" fill="#000" ><tspan>[100]</tspan></text>
<text x="-3.1" y="0.0" font-size="43" fill="#000" transform="translate(1366,591) rotate(-90)"><tspan>[001]</tspan></text>
<circle cx="1408.0" cy="188.7" r="20.7" fill="url(#gOt)" />
<circle cx="1495.6" cy="188.7" r="20.7" fill="url(#gOt)" />
<circle cx="1584.8" cy="188.7" r="20.7" fill="url(#gOt)" />
<circle cx="1673.0" cy="188.7" r="20.7" fill="url(#gOt)" />
<circle cx="1761.6" cy="188.7" r="20.7" fill="url(#gOt)" />
<circle cx="1408.0" cy="279.4" r="20.7" fill="url(#gOt)" />
<circle cx="1495.6" cy="279.4" r="20.7" fill="url(#gOt)" />
<circle cx="1584.8" cy="279.4" r="20.7" fill="url(#gOt)" />
<circle cx="1673.0" cy="279.4" r="20.7" fill="url(#gOt)" />
<circle cx="1761.6" cy="279.4" r="20.7" fill="url(#gOt)" />
<circle cx="1408.0" cy="368.8" r="20.7" fill="url(#gOt)" />
<circle cx="1495.6" cy="368.8" r="20.7" fill="url(#gOt)" />
<circle cx="1584.8" cy="368.8" r="20.7" fill="url(#gOt)" />
<circle cx="1673.0" cy="368.8" r="20.7" fill="url(#gOt)" />
<circle cx="1761.6" cy="368.8" r="20.7" fill="url(#gOt)" />
<circle cx="1452.3" cy="223.2" r="15.2" fill="url(#gBt)" />
<circle cx="1452.3" cy="243.6" r="15.2" fill="url(#gBt)" />
<circle cx="1540.4" cy="223.2" r="15.2" fill="url(#gBt)" />
<circle cx="1540.4" cy="243.6" r="15.2" fill="url(#gBt)" />
<circle cx="1629.0" cy="223.2" r="15.2" fill="url(#gBt)" />
<circle cx="1629.0" cy="243.6" r="15.2" fill="url(#gBt)" />
<circle cx="1717.6" cy="223.2" r="15.2" fill="url(#gBt)" />
<circle cx="1717.6" cy="243.6" r="15.2" fill="url(#gBt)" />
<circle cx="1452.3" cy="313.7" r="15.2" fill="url(#gBt)" />
<circle cx="1452.3" cy="333.5" r="15.2" fill="url(#gBt)" />
<circle cx="1540.4" cy="313.7" r="15.2" fill="url(#gBt)" />
<circle cx="1540.4" cy="333.5" r="15.2" fill="url(#gBt)" />
<circle cx="1629.0" cy="313.7" r="15.2" fill="url(#gBt)" />
<circle cx="1629.0" cy="333.5" r="15.2" fill="url(#gBt)" />
<circle cx="1717.6" cy="313.7" r="15.2" fill="url(#gBt)" />
<circle cx="1717.6" cy="333.5" r="15.2" fill="url(#gBt)" />
<circle cx="1452.3" cy="403.7" r="15.2" fill="url(#gBt)" />
<circle cx="1452.3" cy="424.3" r="15.2" fill="url(#gBt)" />
<circle cx="1540.4" cy="403.7" r="15.2" fill="url(#gBt)" />
<circle cx="1540.4" cy="424.3" r="15.2" fill="url(#gBt)" />
<circle cx="1629.0" cy="403.7" r="15.2" fill="url(#gBt)" />
<circle cx="1629.0" cy="424.3" r="15.2" fill="url(#gBt)" />
<circle cx="1717.6" cy="403.7" r="15.2" fill="url(#gBt)" />
<circle cx="1717.6" cy="424.3" r="15.2" fill="url(#gBt)" />
<circle cx="1413.2" cy="460.9" r="20.9" fill="url(#gOo)" />
<circle cx="1492.7" cy="460.9" r="20.9" fill="url(#gOo)" />
<circle cx="1584.4" cy="460.9" r="20.9" fill="url(#gOo)" />
<circle cx="1663.4" cy="460.9" r="20.9" fill="url(#gOo)" />
<circle cx="1755.2" cy="460.9" r="20.9" fill="url(#gOo)" />
<circle cx="1413.2" cy="545.7" r="20.9" fill="url(#gOo)" />
<circle cx="1492.7" cy="545.7" r="20.9" fill="url(#gOo)" />
<circle cx="1584.4" cy="545.7" r="20.9" fill="url(#gOo)" />
<circle cx="1663.4" cy="545.7" r="20.9" fill="url(#gOo)" />
<circle cx="1755.2" cy="545.7" r="20.9" fill="url(#gOo)" />
<circle cx="1413.2" cy="631.6" r="20.9" fill="url(#gOo)" />
<circle cx="1492.7" cy="631.6" r="20.9" fill="url(#gOo)" />
<circle cx="1584.4" cy="631.6" r="20.9" fill="url(#gOo)" />
<circle cx="1663.4" cy="631.6" r="20.9" fill="url(#gOo)" />
<circle cx="1755.2" cy="631.6" r="20.9" fill="url(#gOo)" />
<circle cx="1444.6" cy="503.9" r="15.1" fill="url(#gBo)" />
<circle cx="1460.1" cy="503.9" r="15.1" fill="url(#gBo)" />
<circle cx="1631.3" cy="503.3" r="15.1" fill="url(#gBo)" />
<circle cx="1615.8" cy="503.3" r="15.1" fill="url(#gBo)" />
<circle cx="1444.6" cy="589.8" r="15.1" fill="url(#gBo)" />
<circle cx="1460.1" cy="589.8" r="15.1" fill="url(#gBo)" />
<circle cx="1631.3" cy="589.2" r="15.1" fill="url(#gBo)" />
<circle cx="1615.8" cy="589.2" r="15.1" fill="url(#gBo)" />
<circle cx="1524.5" cy="481.3" r="14.4" fill="url(#gGo)" />
<circle cx="1552.4" cy="481.3" r="14.4" fill="url(#gGo)" />
<circle cx="1524.5" cy="567.3" r="14.4" fill="url(#gGo)" />
<circle cx="1552.4" cy="567.3" r="14.4" fill="url(#gGo)" />
<circle cx="1695.5" cy="524.1" r="14.4" fill="url(#gGo)" />
<circle cx="1722.6" cy="524.1" r="14.4" fill="url(#gGo)" />
<circle cx="1695.5" cy="610.7" r="14.4" fill="url(#gGo)" />
<circle cx="1722.6" cy="610.7" r="14.4" fill="url(#gGo)" />
<polygon points="1528.0,459.7 1528.0,589.8 1517.0,589.8 1539.2,638.6 1560.7,589.8 1550.3,589.8 1550.3,459.7" fill="rgba(232,150,115,0.65)" />
<polygon points="1699.0,638.6 1699.0,508.0 1689.0,508.0 1710.3,459.7 1732.6,508.0 1721.5,508.0 1721.5,638.6" fill="rgba(80,200,245,0.72)" />
<rect x="1345" y="372" width="612" height="84" rx="40" fill="#FFFF00" opacity="0.72" filter="url(#blurB)"/>
<line x1="1376.0" y1="414.0" x2="1919.0" y2="414.0" stroke="#BDBDBD" stroke-width="5" stroke-dasharray="25 19"/>
<text x="1860.9" y="273.4" font-size="42" fill="#000" ><tspan font-style="italic">t</tspan></text>
<text x="1820.9" y="403.7" font-size="44" fill="#000" ><tspan>MPB</tspan></text>
<text x="1807.6" y="573.5" font-size="42" fill="#000" ><tspan font-style="italic">o</tspan><tspan>-AFE</tspan></text>
<rect x="66" y="747" width="1927.3" height="896.5" fill="none" stroke="#8DA5A8" stroke-width="3.7" stroke-dasharray="11.3 4.2"/>
<text x="-2.0" y="785.2" font-size="57" fill="#000" font-weight="bold" ><tspan font-weight="bold">c</tspan></text>
<text x="752.4" y="823.9" font-size="54" fill="#000" ><tspan>Design schematic</tspan></text>
<rect x="132.5" y="854.0" width="477.2" height="89.7" fill="#BFD7F5" />
<rect x="727.0" y="851.5" width="480.0" height="91.2" fill="#BFD7F5" />
<rect x="1321.0" y="849.0" width="479.5" height="88.5" fill="#BFD7F5" />
<path d="M629.0,866.7 L676.9,866.7 L710.9,901.2 L676.9,935.8 L629.0,935.8 L663.0,901.2 Z M643.3,872.6 L673.9,872.6 L702.5,901.2 L673.9,930.0 L643.3,930.0 L671.7,901.2 Z" fill="#C2D9F5" fill-rule="evenodd"/>
<path d="M1223.8,866.7 L1271.7,866.7 L1305.7,901.2 L1271.7,935.8 L1223.8,935.8 L1257.8,901.2 Z M1238.1,872.6 L1268.7,872.6 L1297.3,901.2 L1268.7,930.0 L1238.1,930.0 L1266.5,901.2 Z" fill="#C2D9F5" fill-rule="evenodd"/>
<text x="309.9" y="887.0" font-size="42" fill="#000" ><tspan>Step 1</tspan></text>
<text x="207.1" y="937.4" font-size="42" fill="#000" ><tspan font-style="italic">t</tspan><tspan>-phase formation</tspan></text>
<text x="905.9" y="884.9" font-size="42" fill="#000" ><tspan>Step 2</tspan></text>
<text x="772.4" y="935.7" font-size="42" fill="#000" ><tspan font-style="italic">t</tspan></text>
<text x="0" y="0" font-size="42" fill="#000" transform="translate(771,935.7) scale(1.635,1)">→</text>
<text x="827.2" y="935.7" font-size="42" fill="#000" ><tspan font-style="italic">o</tspan><tspan>-AFE conversion</tspan></text>
<text x="1500.0" y="881.7" font-size="42" fill="#000" ><tspan>Step 3</tspan></text>
<text x="1317.7" y="932.0" font-size="42" fill="#000" ><tspan font-style="italic">t/o</tspan><tspan>-AFE MPB stabilization</tspan></text>
<text x="605.6" y="991.4" font-size="42" fill="#000" ><tspan font-style="italic">t/o</tspan><tspan> control</tspan></text>
<text x="1191.7" y="992.5" font-size="42" fill="#000" ><tspan>Quenching</tspan></text>
<text x="315.1" y="994.7" font-size="42" fill="#000" ><tspan>High </tspan><tspan font-style="italic">T</tspan></text>
<text x="910.1" y="991.4" font-size="42" fill="#000" ><tspan>High </tspan><tspan font-style="italic">T</tspan></text>
<text x="1503.1" y="988.7" font-size="42" fill="#000" ><tspan>High </tspan><tspan font-style="italic">T</tspan></text>
<linearGradient id="redg1" x1="0" y1="1047.2" x2="0" y2="1571.6" gradientUnits="userSpaceOnUse"><stop offset="0" stop-color="#FF8080"/><stop offset="0.63" stop-color="#FFFFFF"/></linearGradient>
<rect x="126.1" y="1047.2" width="487.9" height="524.4" fill="url(#redg1)" />
<polyline points="353.5,1048.0 353.2,1054.4 352.9,1060.7 352.6,1067.1 352.3,1073.5 352.0,1079.8 351.7,1086.2 351.3,1092.6 351.0,1099.0 350.6,1105.3 350.3,1111.7 349.9,1118.1 349.5,1124.4 349.2,1130.8 348.8,1137.2 348.4,1143.5 347.9,1149.9 347.5,1156.3 347.1,1162.7 346.6,1169.0 346.2,1175.4 345.7,1181.8 345.2,1188.1 344.7,1194.5 344.1,1200.9 343.6,1207.2 343.0,1213.6 342.5,1220.0 341.9,1226.4 341.3,1232.7 340.6,1239.1 340.0,1245.5 339.3,1251.8 338.6,1258.2 337.8,1264.6 337.1,1271.0 336.3,1277.3 335.5,1283.7 334.6,1290.1 333.7,1296.4 332.8,1302.8 331.9,1309.2 330.9,1315.5 329.8,1321.9 328.8,1328.3 327.6,1334.7 326.4,1341.0 325.2,1347.4 323.9,1353.8 322.5,1360.1 321.1,1366.5 319.6,1372.9 318.0,1379.2 316.3,1385.6 314.5,1392.0 312.6,1398.3 310.6,1404.7 308.5,1411.1 306.3,1417.5 303.9,1423.8 301.3,1430.2 298.6,1436.6 295.6,1442.9 292.4,1449.3 289.0,1455.7 285.3,1462.0 281.3,1468.4 276.9,1474.8 272.1,1481.2 266.8,1487.5 261.0,1493.9 254.5,1500.3 247.3,1506.6 239.2,1513.0 230.0,1519.4 219.6,1525.8 207.6,1532.1 193.6,1538.5 177.1,1544.9 157.4,1551.2 133.5,1557.6" fill="none" stroke="#176DC0" stroke-width="5.6"/>
<polyline points="381.5,1048.0 381.8,1054.4 382.1,1060.7 382.4,1067.1 382.7,1073.5 383.0,1079.8 383.3,1086.2 383.7,1092.6 384.0,1099.0 384.4,1105.3 384.7,1111.7 385.1,1118.1 385.5,1124.4 385.8,1130.8 386.2,1137.2 386.6,1143.5 387.1,1149.9 387.5,1156.3 387.9,1162.7 388.4,1169.0 388.8,1175.4 389.3,1181.8 389.8,1188.1 390.3,1194.5 390.9,1200.9 391.4,1207.2 392.0,1213.6 392.5,1220.0 393.1,1226.4 393.7,1232.7 394.4,1239.1 395.0,1245.5 395.7,1251.8 396.4,1258.2 397.2,1264.6 397.9,1271.0 398.7,1277.3 399.5,1283.7 400.4,1290.1 401.3,1296.4 402.2,1302.8 403.1,1309.2 404.1,1315.5 405.2,1321.9 406.2,1328.3 407.4,1334.7 408.6,1341.0 409.8,1347.4 411.1,1353.8 412.5,1360.1 413.9,1366.5 415.4,1372.9 417.0,1379.2 418.7,1385.6 420.5,1392.0 422.4,1398.3 424.4,1404.7 426.5,1411.1 428.7,1417.5 431.1,1423.8 433.7,1430.2 436.4,1436.6 439.4,1442.9 442.6,1449.3 446.0,1455.7 449.7,1462.0 453.7,1468.4 458.1,1474.8 462.9,1481.2 468.2,1487.5 474.0,1493.9 480.5,1500.3 487.7,1506.6 495.8,1513.0 505.0,1519.4 515.4,1525.8 527.4,1532.1 541.4,1538.5 557.9,1544.9 577.6,1551.2 601.5,1557.6" fill="none" stroke="#176DC0" stroke-width="5.6"/>
<line x1="367.5" y1="1010.0" x2="367.5" y2="1582.7" stroke="#000" stroke-width="4.2" />
<polyline points="354.1,1031.6 367.5,1005.5 380.9,1031.6" stroke="#000" stroke-width="4.2" fill="none" stroke-linecap="round" stroke-linejoin="miter"/>
<linearGradient id="tealg1" x1="0" y1="1049.2" x2="0" y2="1290.7" gradientUnits="userSpaceOnUse"><stop offset="0" stop-color="#69C3CA" stop-opacity="0.58"/><stop offset="1" stop-color="#69C3CA" stop-opacity="0.58"/></linearGradient>
<rect x="282.0" y="1049.2" width="169.0" height="241.5" fill="url(#tealg1)" />
<rect x="126.1" y="1047.2" width="487.9" height="524.3999999999999" fill="none" stroke="#B4CDD0" stroke-width="3.8" stroke-dasharray="11.5 3.7"/>
<line x1="122.1" y1="1309.0" x2="614.0" y2="1309.0" stroke="#000" stroke-width="6" stroke-dasharray="17.8 5.4" stroke-dashoffset="10.1"/>
<linearGradient id="redg2" x1="0" y1="1045.7" x2="0" y2="1575.3" gradientUnits="userSpaceOnUse"><stop offset="0" stop-color="#FF8080"/><stop offset="0.63" stop-color="#FFFFFF"/></linearGradient>
<rect x="719.2" y="1045.7" width="493.0" height="529.6" fill="url(#redg2)" />
<polyline points="948.4,1047.4 948.1,1053.8 947.9,1060.2 947.6,1066.7 947.3,1073.1 947.0,1079.5 946.7,1085.9 946.4,1092.3 946.1,1098.8 945.8,1105.2 945.4,1111.6 945.1,1118.0 944.7,1124.4 944.4,1130.9 944.0,1137.3 943.6,1143.7 943.2,1150.1 942.8,1156.5 942.4,1163.0 942.0,1169.4 941.6,1175.8 941.1,1182.2 940.7,1188.6 940.2,1195.1 939.7,1201.5 939.2,1207.9 938.7,1214.3 938.1,1220.7 937.6,1227.2 937.0,1233.6 936.4,1240.0 935.8,1246.4 935.1,1252.8 934.5,1259.3 933.8,1265.7 933.1,1272.1 932.3,1278.5 931.6,1284.9 930.8,1291.4 929.9,1297.8 929.1,1304.2 928.2,1310.6 927.2,1317.0 926.3,1323.5 925.2,1329.9 924.2,1336.3 923.0,1342.7 921.9,1349.1 920.6,1355.6 919.3,1362.0 918.0,1368.4 916.5,1374.8 915.0,1381.2 913.4,1387.7 911.7,1394.1 909.9,1400.5 908.0,1406.9 906.0,1413.3 903.8,1419.8 901.5,1426.2 899.0,1432.6 896.4,1439.0 893.5,1445.4 890.4,1451.9 887.1,1458.3 883.5,1464.7 879.5,1471.1 875.2,1477.5 870.5,1484.0 865.3,1490.4 859.5,1496.8 853.0,1503.2 845.8,1509.6 837.6,1516.1 828.3,1522.5 817.6,1528.9 805.2,1535.3 790.6,1541.7 773.2,1548.2 752.0,1554.6 725.9,1561.0" fill="none" stroke="#176DC0" stroke-width="5.6"/>
<polyline points="979.2,1047.4 979.5,1053.8 979.7,1060.2 980.0,1066.7 980.3,1073.1 980.6,1079.5 980.9,1085.9 981.2,1092.3 981.5,1098.8 981.8,1105.2 982.2,1111.6 982.5,1118.0 982.9,1124.4 983.2,1130.9 983.6,1137.3 984.0,1143.7 984.4,1150.1 984.8,1156.5 985.2,1163.0 985.6,1169.4 986.0,1175.8 986.5,1182.2 986.9,1188.6 987.4,1195.1 987.9,1201.5 988.4,1207.9 988.9,1214.3 989.5,1220.7 990.0,1227.2 990.6,1233.6 991.2,1240.0 991.8,1246.4 992.5,1252.8 993.1,1259.3 993.8,1265.7 994.5,1272.1 995.3,1278.5 996.0,1284.9 996.8,1291.4 997.7,1297.8 998.5,1304.2 999.4,1310.6 1000.4,1317.0 1001.3,1323.5 1002.4,1329.9 1003.4,1336.3 1004.6,1342.7 1005.7,1349.1 1007.0,1355.6 1008.3,1362.0 1009.6,1368.4 1011.1,1374.8 1012.6,1381.2 1014.2,1387.7 1015.9,1394.1 1017.7,1400.5 1019.6,1406.9 1021.6,1413.3 1023.8,1419.8 1026.1,1426.2 1028.6,1432.6 1031.2,1439.0 1034.1,1445.4 1037.2,1451.9 1040.5,1458.3 1044.1,1464.7 1048.1,1471.1 1052.4,1477.5 1057.1,1484.0 1062.3,1490.4 1068.1,1496.8 1074.6,1503.2 1081.8,1509.6 1090.0,1516.1 1099.3,1522.5 1110.0,1528.9 1122.4,1535.3 1137.0,1541.7 1154.4,1548.2 1175.6,1554.6 1201.7,1561.0" fill="none" stroke="#176DC0" stroke-width="5.6"/>
<line x1="963.8" y1="1010.0" x2="963.8" y2="1587.5" stroke="#000" stroke-width="4.2" />
<polyline points="950.4,1031.6 963.8,1005.5 977.2,1031.6" stroke="#000" stroke-width="4.2" fill="none" stroke-linecap="round" stroke-linejoin="miter"/>
<linearGradient id="tealg2" x1="0" y1="1198.3" x2="0" y2="1443" gradientUnits="userSpaceOnUse"><stop offset="0" stop-color="#69C3CA" stop-opacity="0.58"/><stop offset="1" stop-color="#69C3CA" stop-opacity="0.22"/></linearGradient>
<rect x="878.4" y="1198.3" width="170.0" height="244.7" fill="url(#tealg2)" />
<rect x="719.2" y="1045.7" width="493.0" height="529.5999999999999" fill="none" stroke="#B4CDD0" stroke-width="3.8" stroke-dasharray="11.5 3.7"/>
<line x1="715.2" y1="1310.5" x2="878.4" y2="1310.5" stroke="#000" stroke-width="6" stroke-dasharray="17.8 5.4" stroke-dashoffset="10.1"/>
<line x1="1048.4" y1="1310.5" x2="1212.2" y2="1310.5" stroke="#000" stroke-width="6" stroke-dasharray="17.8 5.4"/>
<linearGradient id="redg3" x1="0" y1="1043.2" x2="0" y2="1572" gradientUnits="userSpaceOnUse"><stop offset="0" stop-color="#FF8080"/><stop offset="0.63" stop-color="#FFFFFF"/></linearGradient>
<rect x="1314.0" y="1043.2" width="492.0" height="528.8" fill="url(#redg3)" />
<polyline points="1542.5,1044.0 1542.2,1050.4 1541.9,1056.8 1541.7,1063.3 1541.4,1069.7 1541.1,1076.1 1540.8,1082.5 1540.5,1089.0 1540.2,1095.4 1539.9,1101.8 1539.6,1108.2 1539.3,1114.7 1538.9,1121.1 1538.6,1127.5 1538.2,1133.9 1537.9,1140.4 1537.5,1146.8 1537.1,1153.2 1536.7,1159.6 1536.3,1166.1 1535.9,1172.5 1535.4,1178.9 1535.0,1185.3 1534.5,1191.7 1534.1,1198.2 1533.6,1204.6 1533.1,1211.0 1532.6,1217.4 1532.0,1223.9 1531.5,1230.3 1530.9,1236.7 1530.3,1243.1 1529.7,1249.6 1529.0,1256.0 1528.4,1262.4 1527.7,1268.8 1527.0,1275.3 1526.2,1281.7 1525.5,1288.1 1524.7,1294.5 1523.8,1301.0 1523.0,1307.4 1522.0,1313.8 1521.1,1320.2 1520.1,1326.6 1519.1,1333.1 1518.0,1339.5 1516.8,1345.9 1515.6,1352.3 1514.4,1358.8 1513.0,1365.2 1511.7,1371.6 1510.2,1378.0 1508.6,1384.5 1507.0,1390.9 1505.2,1397.3 1503.4,1403.7 1501.4,1410.2 1499.3,1416.6 1497.0,1423.0 1494.6,1429.4 1492.0,1435.8 1489.2,1442.3 1486.2,1448.7 1482.9,1455.1 1479.4,1461.5 1475.5,1468.0 1471.2,1474.4 1466.6,1480.8 1461.4,1487.2 1455.7,1493.7 1449.3,1500.1 1442.1,1506.5 1434.0,1512.9 1424.7,1519.4 1413.9,1525.8 1401.4,1532.2 1386.6,1538.6 1368.9,1545.1 1347.3,1551.5 1320.3,1557.9" fill="none" stroke="#176DC0" stroke-width="5.6"/>
<polyline points="1573.1,1044.0 1573.4,1050.4 1573.7,1056.8 1573.9,1063.3 1574.2,1069.7 1574.5,1076.1 1574.8,1082.5 1575.1,1089.0 1575.4,1095.4 1575.7,1101.8 1576.0,1108.2 1576.3,1114.7 1576.7,1121.1 1577.0,1127.5 1577.4,1133.9 1577.7,1140.4 1578.1,1146.8 1578.5,1153.2 1578.9,1159.6 1579.3,1166.1 1579.7,1172.5 1580.2,1178.9 1580.6,1185.3 1581.1,1191.7 1581.5,1198.2 1582.0,1204.6 1582.5,1211.0 1583.0,1217.4 1583.6,1223.9 1584.1,1230.3 1584.7,1236.7 1585.3,1243.1 1585.9,1249.6 1586.6,1256.0 1587.2,1262.4 1587.9,1268.8 1588.6,1275.3 1589.4,1281.7 1590.1,1288.1 1590.9,1294.5 1591.8,1301.0 1592.6,1307.4 1593.6,1313.8 1594.5,1320.2 1595.5,1326.6 1596.5,1333.1 1597.6,1339.5 1598.8,1345.9 1600.0,1352.3 1601.2,1358.8 1602.6,1365.2 1603.9,1371.6 1605.4,1378.0 1607.0,1384.5 1608.6,1390.9 1610.4,1397.3 1612.2,1403.7 1614.2,1410.2 1616.3,1416.6 1618.6,1423.0 1621.0,1429.4 1623.6,1435.8 1626.4,1442.3 1629.4,1448.7 1632.7,1455.1 1636.2,1461.5 1640.1,1468.0 1644.4,1474.4 1649.0,1480.8 1654.2,1487.2 1659.9,1493.7 1666.3,1500.1 1673.5,1506.5 1681.6,1512.9 1690.9,1519.4 1701.7,1525.8 1714.2,1532.2 1729.0,1538.6 1746.7,1545.1 1768.3,1551.5 1795.3,1557.9" fill="none" stroke="#176DC0" stroke-width="5.6"/>
<line x1="1557.8" y1="1010.0" x2="1557.8" y2="1584.0" stroke="#000" stroke-width="4.2" />
<polyline points="1544.4,1031.6 1557.8,1005.5 1571.2,1031.6" stroke="#000" stroke-width="4.2" fill="none" stroke-linecap="round" stroke-linejoin="miter"/>
<linearGradient id="tealg3" x1="0" y1="1322" x2="0" y2="1566.6" gradientUnits="userSpaceOnUse"><stop offset="0" stop-color="#69C3CA" stop-opacity="0.57"/><stop offset="1" stop-color="#69C3CA" stop-opacity="0.2"/></linearGradient>
<rect x="1475.0" y="1322.0" width="171.0" height="244.6" fill="url(#tealg3)" />
<rect x="1314" y="1043.2" width="492" height="528.8" fill="none" stroke="#B4CDD0" stroke-width="3.8" stroke-dasharray="11.5 3.7"/>
<line x1="1310.0" y1="1307.0" x2="1806.0" y2="1307.0" stroke="#000" stroke-width="6" stroke-dasharray="17.8 5.4" stroke-dashoffset="10.1"/>
<rect x="872" y="1302" width="182" height="17" rx="8" fill="#F5FF30" opacity="0.85" filter="url(#blurC)"/>
<line x1="878.4" y1="1310.5" x2="1048.4" y2="1310.5" stroke="#A8A8A8" stroke-width="4.5" stroke-dasharray="18 9"/>
<circle cx="903.8" cy="1326.9" r="4.2" fill="#808080" />
<circle cx="963.0" cy="1326.9" r="4.2" fill="#808080" />
<circle cx="1024.0" cy="1326.9" r="4.2" fill="#808080" />
<circle cx="891.6" cy="1362.8" r="4.2" fill="#808080" />
<circle cx="945.6" cy="1362.8" r="4.2" fill="#808080" />
<circle cx="984.0" cy="1362.8" r="4.2" fill="#808080" />
<circle cx="1026.5" cy="1362.8" r="4.2" fill="#808080" />
<circle cx="889.9" cy="1394.8" r="4.2" fill="#808080" />
<circle cx="924.0" cy="1394.8" r="4.2" fill="#808080" />
<circle cx="963.0" cy="1394.8" r="4.2" fill="#808080" />
<circle cx="1006.0" cy="1394.8" r="4.2" fill="#808080" />
<circle cx="1035.2" cy="1394.8" r="4.2" fill="#808080" />
<circle cx="889.9" cy="1419.2" r="4.2" fill="#808080" />
<circle cx="916.0" cy="1419.2" r="4.2" fill="#808080" />
<circle cx="945.6" cy="1419.2" r="4.2" fill="#808080" />
<circle cx="975.3" cy="1419.2" r="4.2" fill="#808080" />
<circle cx="1002.4" cy="1419.2" r="4.2" fill="#808080" />
<circle cx="1032.0" cy="1419.2" r="4.2" fill="#808080" />
<circle cx="1490.0" cy="1490.0" r="4.2" fill="#808080" />
<circle cx="1543.2" cy="1490.0" r="4.2" fill="#808080" />
<circle cx="1580.8" cy="1490.0" r="4.2" fill="#808080" />
<circle cx="1624.0" cy="1490.0" r="4.2" fill="#808080" />
<circle cx="1487.5" cy="1521.3" r="4.2" fill="#808080" />
<circle cx="1520.6" cy="1521.3" r="4.2" fill="#808080" />
<circle cx="1560.6" cy="1521.3" r="4.2" fill="#808080" />
<circle cx="1603.5" cy="1521.3" r="4.2" fill="#808080" />
<circle cx="1632.7" cy="1521.3" r="4.2" fill="#808080" />
<circle cx="1487.5" cy="1545.7" r="4.2" fill="#808080" />
<circle cx="1513.2" cy="1545.7" r="4.2" fill="#808080" />
<circle cx="1543.2" cy="1545.7" r="4.2" fill="#808080" />
<circle cx="1573.2" cy="1545.7" r="4.2" fill="#808080" />
<circle cx="1599.7" cy="1545.7" r="4.2" fill="#808080" />
<circle cx="1629.6" cy="1545.7" r="4.2" fill="#808080" />
<rect x="1468" y="1437" width="184" height="18" rx="8" fill="#F5FF30" opacity="0.85" filter="url(#blurC)"/>
<line x1="1475.0" y1="1445.7" x2="1646.0" y2="1445.7" stroke="#A8A8A8" stroke-width="4.5" stroke-dasharray="18 9"/>
<circle cx="1501.0" cy="1453.3" r="4.2" fill="#9A9A50" />
<circle cx="1560.6" cy="1453.3" r="4.2" fill="#9A9A50" />
<circle cx="1622.0" cy="1453.3" r="4.2" fill="#9A9A50" />
<text x="261.1" y="1182.7" font-size="42" fill="#000" ><tspan font-style="italic">t</tspan></text>
<text x="860.1" y="1226.9" font-size="42" fill="#000" ><tspan font-style="italic">t</tspan></text>
<text x="1451.4" y="1366.0" font-size="42" fill="#000" ><tspan font-style="italic">t</tspan></text>
<text x="622.2" y="1333.6" font-size="42" fill="#000" ><tspan font-style="italic">T</tspan></text>
<text x="646.0" y="1342.1" font-size="30" fill="#000" ><tspan font-style="italic">c</tspan></text>
<text x="1218.8" y="1334.9" font-size="42" fill="#000" ><tspan font-style="italic">T</tspan></text>
<text x="1242.6" y="1343.4" font-size="30" fill="#000" ><tspan font-style="italic">c</tspan></text>
<text x="1813.6" y="1332.4" font-size="42" fill="#000" ><tspan font-style="italic">T</tspan></text>
<text x="1837.4" y="1340.9" font-size="30" fill="#000" ><tspan font-style="italic">c</tspan></text>
<text x="1060.5" y="1301.8" font-size="42" fill="#000" ><tspan font-style="italic">t/o</tspan><tspan>-AFE</tspan></text>
<text x="1084.1" y="1352.3" font-size="42" fill="#000" ><tspan>MPB</tspan></text>
<text x="1665.7" y="1446.4" font-size="42" fill="#000" ><tspan font-style="italic">t/o</tspan><tspan>-AFE</tspan></text>
<text x="1690.3" y="1497.5" font-size="42" fill="#000" ><tspan>MPB</tspan></text>
<text x="745.6" y="1467.3" font-size="42" fill="#000" ><tspan font-style="italic">o</tspan><tspan>-AFE</tspan></text>
<text x="1345.6" y="1591.0" font-size="42" fill="#000" ><tspan font-style="italic">o</tspan><tspan>-AFE</tspan></text>
<line x1="802.8" y1="1423.7" x2="883.4" y2="1370.7" stroke="#000" stroke-width="4.2" />
<polyline points="877.7,1383.3 886.4,1368.7 869.5,1370.9" stroke="#000" stroke-width="4.2" fill="none" stroke-linecap="round" stroke-linejoin="miter"/>
<line x1="1402.8" y1="1551.0" x2="1483.4" y2="1498.2" stroke="#000" stroke-width="4.2" />
<polyline points="1477.7,1510.8 1486.4,1496.2 1469.5,1498.4" stroke="#000" stroke-width="4.2" fill="none" stroke-linecap="round" stroke-linejoin="miter"/>
<text x="323.1" y="1622.8" font-size="42" fill="#000" ><tspan>Low </tspan><tspan font-style="italic">T</tspan></text>
<text x="919.6" y="1622.3" font-size="42" fill="#000" ><tspan>Low </tspan><tspan font-style="italic">T</tspan></text>
<text x="1512.6" y="1622.3" font-size="42" fill="#000" ><tspan>Low </tspan><tspan font-style="italic">T</tspan></text>
<line x1="1881.4" y1="1037.0" x2="1881.4" y2="1468.0" stroke="#000" stroke-width="5.7" />
<polyline points="1866.5,1444.5 1881.4,1469.0 1896.3,1444.5" stroke="#000" stroke-width="5.7" fill="none" stroke-linecap="round" stroke-linejoin="miter"/>
<text x="-152.6" y="0.0" font-size="42" fill="#000" transform="translate(1935.3,1267) rotate(-90)"><tspan>Growth direction</tspan></text>
<rect x="65" y="1679.4" width="1928" height="820.0999999999999" fill="none" stroke="#8DA5A8" stroke-width="3.7" stroke-dasharray="11.3 4.2"/>
<text x="0.7" y="1712.6" font-size="57" fill="#000" font-weight="bold" ><tspan font-weight="bold">d</tspan></text>
<text x="224.1" y="1751.8" font-size="46" fill="#000" ><tspan font-style="italic">d</tspan><tspan> = 0 mm</tspan></text>
<text x="860.3" y="1752.5" font-size="46" fill="#000" ><tspan font-style="italic">d</tspan><tspan> = 5 mm</tspan></text>
<text x="1513.5" y="1752.6" font-size="46" fill="#000" ><tspan font-style="italic">d</tspan><tspan> = 10 mm</tspan></text>
<polyline points="122.0,1936.8 122.8,1937.8 123.6,1937.5 124.4,1936.6 125.2,1936.8 126.0,1936.6 126.8,1936.8 127.6,1936.8 128.4,1935.5 129.2,1935.2 130.0,1936.2 130.8,1935.4 131.6,1935.6 132.4,1934.1 133.2,1934.5 134.0,1934.6 134.8,1933.5 135.6,1934.2 136.4,1933.7 137.2,1931.9 138.0,1931.4 138.8,1931.7 139.6,1931.7 140.4,1930.2 141.2,1929.3 142.0,1928.9 142.8,1927.5 143.6,1927.0 144.4,1926.5 145.2,1925.6 146.0,1924.2 146.8,1923.1 147.6,1921.9 148.4,1921.0 149.2,1919.4 150.0,1917.5 150.8,1917.3 151.6,1915.3 152.4,1913.7 153.2,1911.2 154.0,1910.6 154.8,1908.4 155.6,1905.2 156.4,1903.5 157.2,1902.1 158.1,1900.0 158.9,1898.3 159.7,1895.6 160.5,1894.4 161.3,1892.5 162.1,1890.4 162.9,1889.7 163.7,1889.3 164.5,1888.7 165.3,1887.9 166.1,1888.2 166.9,1887.8 167.7,1889.1 168.5,1891.1 169.3,1892.0 170.1,1893.4 170.9,1895.9 171.7,1898.2 172.5,1900.4 173.3,1902.2 174.1,1904.6 174.9,1907.0 175.7,1909.7 176.5,1911.6 177.3,1913.5 178.1,1915.8 178.9,1917.1 179.7,1919.0 180.5,1921.9 181.3,1924.1 182.1,1925.1 182.9,1926.4 183.7,1927.5 184.5,1929.4 185.3,1931.5 186.1,1932.4 186.9,1933.2 187.7,1934.8 188.5,1934.8 189.3,1936.3 190.1,1937.9 190.9,1938.2 191.7,1938.8 192.5,1939.3 193.3,1940.5 194.1,1941.9 194.9,1941.0 195.7,1942.9 196.5,1943.6 197.3,1944.3 198.1,1944.6 198.9,1945.2 199.7,1945.3 200.5,1945.8 201.3,1946.1 202.1,1945.9 202.9,1947.7 203.7,1947.6 204.5,1947.4 205.3,1948.2 206.1,1948.6 206.9,1948.7 207.7,1949.0 208.5,1949.7 209.3,1950.1 210.1,1950.4 210.9,1950.5 211.7,1950.0 212.5,1950.6 213.3,1950.8 214.1,1951.7 214.9,1952.4 215.7,1952.6 216.5,1952.8 217.3,1953.1 218.1,1952.4 218.9,1953.5 219.7,1953.5 220.5,1952.7 221.3,1952.8 222.1,1953.0 222.9,1954.4 223.7,1953.8 224.5,1953.7 225.3,1954.7 226.1,1954.4 226.9,1954.1 227.8,1954.5 228.6,1955.2 229.4,1954.8 230.2,1955.1 231.0,1955.9 231.8,1955.7 232.6,1955.6 233.4,1956.0 234.2,1955.4 235.0,1956.1 235.8,1956.3 236.6,1956.0 237.4,1956.0 238.2,1957.4 239.0,1956.9 239.8,1956.5 240.6,1957.2 241.4,1957.7 242.2,1956.5 243.0,1956.6 243.8,1956.9 244.6,1957.9 245.4,1957.1 246.2,1958.0 247.0,1958.1 247.8,1957.9 248.6,1957.5 249.4,1958.7 250.2,1958.5 251.0,1958.1 251.8,1957.7 252.6,1958.5 253.4,1958.1 254.2,1958.5 255.0,1958.1 255.8,1958.7 256.6,1957.8 257.4,1958.2 258.2,1959.3 259.0,1959.2 259.8,1958.3 260.6,1959.2 261.4,1958.4 262.2,1959.4 263.0,1959.1 263.8,1958.6 264.6,1958.3 265.4,1957.9 266.2,1959.3 267.0,1958.0 267.8,1959.2 268.6,1959.4 269.4,1958.7 270.2,1958.0 271.0,1959.1 271.8,1959.2 272.6,1958.7 273.4,1958.3 274.2,1957.9 275.0,1957.8 275.8,1957.4 276.6,1958.0 277.4,1957.4 278.2,1956.8 279.0,1956.4 279.8,1957.1 280.6,1956.1 281.4,1956.1 282.2,1955.4 283.0,1955.9 283.8,1955.4 284.6,1953.4 285.4,1953.1 286.2,1952.5 287.0,1952.8 287.8,1951.5 288.6,1949.8 289.4,1948.5 290.2,1948.0 291.0,1947.1 291.8,1945.9 292.6,1943.7 293.4,1943.4 294.2,1942.1 295.0,1941.0 295.8,1941.4 296.6,1940.2 297.4,1941.3 298.2,1941.0 299.1,1942.0 299.9,1944.4 300.7,1944.5 301.5,1946.7 302.3,1947.7 303.1,1949.3 303.9,1949.6 304.7,1950.6 305.5,1951.5 306.3,1953.2 307.1,1953.5 307.9,1954.8 308.7,1955.2 309.5,1954.6 310.3,1955.7 311.1,1955.4 311.9,1955.6 312.7,1956.0 313.5,1957.5 314.3,1957.6 315.1,1957.9 315.9,1957.3 316.7,1957.9 317.5,1958.3 318.3,1957.8 319.1,1958.2 319.9,1957.7 320.7,1957.6 321.5,1957.9 322.3,1959.0 323.1,1958.5 323.9,1959.1 324.7,1958.3 325.5,1958.1 326.3,1958.9 327.1,1958.9 327.9,1957.6 328.7,1958.6 329.5,1957.7 330.3,1957.7 331.1,1958.9 331.9,1957.5 332.7,1957.7 333.5,1958.8 334.3,1957.9 335.1,1957.3 335.9,1957.3 336.7,1957.4 337.5,1958.1 338.3,1956.9 339.1,1958.1 339.9,1957.0 340.7,1957.8 341.5,1957.5 342.3,1956.3 343.1,1956.0 343.9,1956.0 344.7,1955.2 345.5,1955.7 346.3,1954.4 347.1,1954.1 347.9,1955.3 348.7,1953.8 349.5,1953.9 350.3,1953.3 351.1,1952.7 351.9,1951.9 352.7,1952.8 353.5,1952.5 354.3,1952.1 355.1,1950.3 355.9,1950.0 356.7,1950.2 357.5,1950.3 358.3,1949.2 359.1,1948.9 359.9,1948.5 360.7,1947.4 361.5,1947.4 362.3,1946.5 363.1,1946.0 363.9,1945.3 364.7,1945.1 365.5,1945.8 366.3,1944.5 367.1,1944.4 367.9,1944.0 368.8,1944.1 369.6,1942.8 370.4,1942.2 371.2,1941.9 372.0,1941.5 372.8,1942.0 373.6,1941.7 374.4,1940.4 375.2,1940.1 376.0,1940.1 376.8,1939.9 377.6,1939.6 378.4,1938.8 379.2,1938.2 380.0,1938.3 380.8,1937.8 381.6,1938.4 382.4,1937.4 383.2,1937.3 384.0,1938.0 384.8,1937.3 385.6,1938.0 386.4,1937.5 387.2,1938.0 388.0,1936.8 388.8,1937.3 389.6,1937.7 390.4,1936.5 391.2,1937.9 392.0,1936.6 392.8,1937.4 393.6,1937.7 394.4,1937.3 395.2,1936.4 396.0,1935.9 396.8,1936.3 397.6,1936.7 398.4,1935.4 399.2,1936.1 400.0,1934.5 400.8,1935.2 401.6,1933.2 402.4,1933.0 403.2,1933.2 404.0,1932.1 404.8,1931.2 405.6,1929.9 406.4,1928.3 407.2,1926.7 408.0,1924.3 408.8,1923.0 409.6,1921.0 410.4,1920.6 411.2,1919.6 412.0,1918.6 412.8,1918.7 413.6,1921.1 414.4,1922.4 415.2,1923.9 416.0,1926.1 416.8,1928.8 417.6,1930.3 418.4,1932.3 419.2,1934.1 420.0,1935.7 420.8,1936.9 421.6,1939.3 422.4,1940.3 423.2,1941.7 424.0,1942.0 424.8,1943.4 425.6,1944.0 426.4,1944.8 427.2,1945.8 428.0,1947.5 428.8,1947.5 429.6,1948.1 430.4,1949.1 431.2,1949.1 432.0,1949.3 432.8,1950.7 433.6,1951.2 434.4,1952.0 435.2,1952.2 436.0,1953.1 436.8,1953.7 437.6,1953.4 438.4,1954.2 439.2,1954.7 440.1,1954.7 440.9,1955.5 441.7,1956.2 442.5,1957.2 443.3,1957.7 444.1,1957.1 444.9,1958.1 445.7,1957.6 446.5,1958.0 447.3,1959.2 448.1,1960.2 448.9,1959.4 449.7,1960.8 450.5,1961.4 451.3,1960.9 452.1,1961.9 452.9,1962.6 453.7,1962.2 454.5,1963.1 455.3,1963.6 456.1,1963.7 456.9,1964.6 457.7,1965.0 458.5,1965.5 459.3,1965.3 460.1,1965.0 460.9,1965.5 461.7,1965.8 462.5,1966.7 463.3,1967.4 464.1,1966.6 464.9,1968.0 465.7,1968.4 466.5,1968.2 467.3,1968.8 468.1,1968.6 468.9,1969.8 469.7,1969.1 470.5,1970.9 471.3,1970.9 472.1,1971.0 472.9,1970.7 473.7,1972.1 474.5,1972.5" stroke="#178C8C" stroke-width="2.4" fill="none" stroke-linejoin="round"/>
<polyline points="122.0,1964.7 122.8,1965.6 123.6,1965.6 124.4,1965.2 125.2,1965.1 126.0,1964.5 126.8,1965.1 127.6,1965.0 128.4,1963.8 129.2,1964.3 130.0,1963.5 130.8,1962.8 131.6,1962.7 132.4,1962.1 133.2,1963.0 134.0,1962.8 134.8,1961.0 135.6,1961.4 136.4,1960.6 137.2,1959.7 138.0,1959.4 138.8,1958.8 139.6,1959.0 140.4,1957.2 141.2,1956.8 142.0,1956.4 142.8,1954.9 143.6,1955.0 144.4,1954.0 145.2,1953.4 146.0,1951.3 146.8,1950.2 147.6,1949.4 148.4,1947.6 149.2,1946.7 150.0,1944.6 150.8,1943.7 151.6,1942.2 152.4,1940.4 153.2,1938.7 154.0,1936.0 154.8,1933.9 155.6,1932.3 156.4,1930.0 157.2,1927.5 158.1,1925.0 158.9,1922.6 159.7,1920.3 160.5,1919.5 161.3,1916.6 162.1,1916.0 162.9,1914.5 163.7,1914.2 164.5,1913.3 165.3,1913.4 166.1,1912.2 166.9,1913.4 167.7,1914.4 168.5,1915.3 169.3,1917.2 170.1,1918.8 170.9,1921.1 171.7,1922.5 172.5,1925.6 173.3,1928.0 174.1,1930.3 174.9,1932.9 175.7,1936.0 176.5,1938.2 177.3,1940.2 178.1,1942.7 178.9,1944.4 179.7,1946.2 180.5,1947.9 181.3,1950.2 182.1,1952.4 182.9,1954.6 183.7,1956.1 184.5,1957.1 185.3,1959.2 186.1,1959.7 186.9,1961.6 187.7,1962.1 188.5,1963.7 189.3,1965.2 190.1,1965.1 190.9,1965.8 191.7,1967.4 192.5,1968.1 193.3,1968.7 194.1,1968.9 194.9,1970.2 195.7,1970.9 196.5,1971.6 197.3,1972.9 198.1,1973.1 198.9,1973.9 199.7,1974.7 200.5,1975.0 201.3,1975.1 202.1,1975.9 202.9,1976.2 203.7,1976.7 204.5,1977.1 205.3,1977.1 206.1,1977.9 206.9,1978.3 207.7,1979.1 208.5,1979.2 209.3,1979.7 210.1,1979.9 210.9,1980.3 211.7,1980.2 212.5,1980.1 213.3,1980.3 214.1,1981.3 214.9,1981.8 215.7,1981.5 216.5,1981.2 217.3,1982.5 218.1,1982.2 218.9,1982.4 219.7,1981.9 220.5,1982.9 221.3,1983.5 222.1,1983.2 222.9,1983.3 223.7,1984.0 224.5,1983.2 225.3,1984.1 226.1,1985.0 226.9,1984.8 227.8,1984.5 228.6,1985.1 229.4,1985.2 230.2,1984.7 231.0,1984.9 231.8,1986.1 232.6,1985.3 233.4,1985.1 234.2,1986.5 235.0,1986.1 235.8,1986.0 236.6,1986.4 237.4,1986.9 238.2,1986.1 239.0,1987.0 239.8,1987.2 240.6,1987.5 241.4,1986.7 242.2,1987.4 243.0,1986.9 243.8,1987.5 244.6,1987.0 245.4,1988.1 246.2,1988.3 247.0,1987.6 247.8,1987.5 248.6,1988.8 249.4,1988.4 250.2,1988.8 251.0,1987.5 251.8,1989.0 252.6,1988.6 253.4,1988.2 254.2,1988.5 255.0,1989.1 255.8,1989.2 256.6,1988.3 257.4,1989.1 258.2,1988.4 259.0,1989.7 259.8,1988.9 260.6,1989.7 261.4,1989.5 262.2,1989.3 263.0,1988.8 263.8,1989.3 264.6,1988.7 265.4,1988.7 266.2,1989.6 267.0,1989.1 267.8,1989.7 268.6,1988.9 269.4,1989.6 270.2,1989.6 271.0,1988.9 271.8,1988.6 272.6,1989.0 273.4,1989.1 274.2,1988.4 275.0,1988.5 275.8,1988.2 276.6,1989.0 277.4,1989.3 278.2,1988.1 279.0,1987.7 279.8,1988.6 280.6,1988.6 281.4,1988.6 282.2,1987.7 283.0,1987.0 283.8,1987.4 284.6,1985.9 285.4,1986.4 286.2,1984.9 287.0,1984.8 287.8,1984.4 288.6,1983.5 289.4,1982.4 290.2,1981.7 291.0,1981.7 291.8,1980.3 292.6,1979.6 293.4,1978.2 294.2,1978.3 295.0,1977.2 295.8,1977.3 296.6,1977.8 297.4,1978.2 298.2,1977.1 299.1,1979.0 299.9,1979.9 300.7,1979.9 301.5,1980.9 302.3,1982.1 303.1,1983.5 303.9,1983.5 304.7,1985.0 305.5,1985.4 306.3,1985.0 307.1,1986.8 307.9,1985.8 308.7,1986.4 309.5,1987.6 310.3,1987.0 311.1,1987.7 311.9,1987.6 312.7,1988.3 313.5,1989.1 314.3,1989.4 315.1,1988.2 315.9,1988.3 316.7,1989.7 317.5,1988.5 318.3,1988.9 319.1,1988.8 319.9,1988.8 320.7,1988.7 321.5,1989.7 322.3,1989.9 323.1,1989.8 323.9,1990.1 324.7,1989.8 325.5,1989.4 326.3,1989.7 327.1,1990.3 327.9,1989.7 328.7,1989.0 329.5,1988.7 330.3,1990.1 331.1,1989.5 331.9,1989.1 332.7,1989.4 333.5,1989.3 334.3,1989.2 335.1,1988.4 335.9,1988.8 336.7,1988.8 337.5,1988.4 338.3,1989.3 339.1,1988.5 339.9,1988.7 340.7,1988.6 341.5,1988.5 342.3,1988.3 343.1,1988.1 343.9,1987.1 344.7,1988.0 345.5,1986.4 346.3,1987.4 347.1,1987.0 347.9,1986.7 348.7,1985.1 349.5,1984.8 350.3,1985.6 351.1,1984.7 351.9,1984.2 352.7,1984.9 353.5,1983.0 354.3,1983.4 355.1,1982.9 355.9,1982.0 356.7,1982.1 357.5,1982.2 358.3,1982.1 359.1,1980.3 359.9,1980.7 360.7,1979.6 361.5,1980.4 362.3,1978.8 363.1,1978.4 363.9,1978.5 364.7,1978.7 365.5,1977.7 366.3,1977.0 367.1,1977.7 367.9,1977.4 368.8,1977.1 369.6,1975.9 370.4,1975.7 371.2,1975.1 372.0,1975.3 372.8,1974.6 373.6,1974.3 374.4,1974.7 375.2,1974.7 376.0,1973.9 376.8,1972.9 377.6,1973.5 378.4,1973.0 379.2,1973.6 380.0,1973.0 380.8,1973.0 381.6,1972.6 382.4,1972.2 383.2,1972.7 384.0,1972.5 384.8,1971.5 385.6,1971.3 386.4,1971.6 387.2,1971.8 388.0,1971.1 388.8,1971.5 389.6,1971.9 390.4,1971.0 391.2,1972.3 392.0,1972.0 392.8,1971.5 393.6,1971.4 394.4,1971.5 395.2,1971.4 396.0,1972.1 396.8,1971.6 397.6,1971.6 398.4,1970.9 399.2,1972.0 400.0,1970.9 400.8,1970.8 401.6,1970.1 402.4,1971.3 403.2,1970.2 404.0,1970.5 404.8,1970.0 405.6,1969.5 406.4,1968.6 407.2,1968.1 408.0,1967.3 408.8,1966.4 409.6,1964.6 410.4,1964.6 411.2,1964.3 412.0,1964.9 412.8,1964.9 413.6,1965.4 414.4,1966.3 415.2,1966.8 416.0,1969.0 416.8,1969.7 417.6,1970.6 418.4,1971.8 419.2,1973.8 420.0,1974.1 420.8,1974.4 421.6,1975.2 422.4,1976.9 423.2,1977.4 424.0,1978.6 424.8,1978.1 425.6,1979.0 426.4,1980.1 427.2,1979.5 428.0,1980.1 428.8,1981.3 429.6,1981.3 430.4,1981.5 431.2,1982.2 432.0,1983.2 432.8,1983.5 433.6,1983.2 434.4,1983.6 435.2,1985.2 436.0,1985.3 436.8,1984.9 437.6,1986.4 438.4,1985.4 439.2,1986.3 440.1,1987.5 440.9,1987.6 441.7,1987.3 442.5,1988.6 443.3,1988.5 444.1,1989.3 444.9,1989.7 445.7,1989.3 446.5,1990.1 447.3,1990.2 448.1,1991.2 448.9,1991.3 449.7,1991.5 450.5,1992.0 451.3,1992.6 452.1,1991.8 452.9,1992.0 453.7,1993.2 454.5,1993.6 455.3,1993.5 456.1,1993.8 456.9,1994.0 457.7,1995.1 458.5,1995.3 459.3,1995.3 460.1,1994.7 460.9,1996.3 461.7,1996.0 462.5,1995.9 463.3,1996.4 464.1,1997.3 464.9,1996.5 465.7,1997.0 466.5,1997.6 467.3,1998.8 468.1,1998.9 468.9,1999.6 469.7,1999.2 470.5,1999.5 471.3,1999.7 472.1,2000.0 472.9,2000.3 473.7,2001.0 474.5,2001.5" stroke="#F0649E" stroke-width="2.4" fill="none" stroke-linejoin="round"/>
<polyline points="122.0,1996.3 122.8,1996.5 123.6,1995.8 124.4,1995.7 125.2,1995.8 126.0,1995.7 126.8,1995.4 127.6,1995.9 128.4,1994.3 129.2,1994.8 130.0,1995.1 130.8,1994.4 131.6,1993.8 132.4,1993.1 133.2,1992.7 134.0,1993.2 134.8,1992.6 135.6,1991.8 136.4,1991.6 137.2,1991.1 138.0,1990.4 138.8,1989.0 139.6,1988.4 140.4,1988.1 141.2,1986.7 142.0,1986.4 142.8,1985.0 143.6,1983.7 144.4,1982.8 145.2,1981.1 146.0,1980.2 146.8,1979.0 147.6,1976.9 148.4,1975.6 149.2,1974.1 150.0,1973.2 150.8,1970.9 151.6,1968.5 152.4,1967.5 153.2,1964.1 154.0,1962.2 154.8,1960.2 155.6,1957.6 156.4,1954.7 157.2,1952.7 158.1,1949.7 158.9,1947.5 159.7,1944.8 160.5,1943.3 161.3,1940.9 162.1,1938.1 162.9,1936.7 163.7,1936.9 164.5,1935.0 165.3,1934.4 166.1,1935.0 166.9,1936.0 167.7,1937.8 168.5,1938.3 169.3,1940.7 170.1,1943.0 170.9,1944.1 171.7,1947.5 172.5,1950.8 173.3,1952.9 174.1,1955.7 174.9,1958.2 175.7,1961.9 176.5,1964.7 177.3,1966.0 178.1,1969.2 178.9,1971.5 179.7,1974.2 180.5,1975.6 181.3,1977.9 182.1,1980.0 182.9,1982.2 183.7,1984.5 184.5,1986.3 185.3,1987.8 186.1,1989.1 186.9,1989.6 187.7,1991.4 188.5,1993.1 189.3,1993.7 190.1,1995.2 190.9,1996.9 191.7,1996.7 192.5,1998.8 193.3,1998.5 194.1,1999.8 194.9,2001.5 195.7,2001.1 196.5,2002.4 197.3,2002.9 198.1,2004.3 198.9,2005.1 199.7,2004.6 200.5,2005.5 201.3,2006.7 202.1,2006.7 202.9,2006.7 203.7,2008.0 204.5,2007.8 205.3,2008.5 206.1,2008.2 206.9,2010.2 207.7,2010.1 208.5,2010.9 209.3,2011.3 210.1,2010.6 210.9,2011.3 211.7,2011.5 212.5,2012.4 213.3,2012.8 214.1,2012.1 214.9,2012.5 215.7,2013.5 216.5,2013.3 217.3,2013.1 218.1,2013.5 218.9,2014.3 219.7,2014.6 220.5,2015.5 221.3,2015.0 222.1,2015.4 222.9,2014.9 223.7,2015.5 224.5,2015.5 225.3,2016.4 226.1,2015.9 226.9,2016.0 227.8,2016.4 228.6,2016.8 229.4,2016.8 230.2,2017.4 231.0,2016.9 231.8,2018.1 232.6,2018.0 233.4,2017.9 234.2,2017.3 235.0,2017.9 235.8,2018.6 236.6,2018.7 237.4,2019.1 238.2,2019.4 239.0,2018.6 239.8,2019.0 240.6,2018.9 241.4,2018.7 242.2,2018.8 243.0,2019.1 243.8,2019.0 244.6,2019.8 245.4,2020.2 246.2,2020.1 247.0,2020.4 247.8,2019.7 248.6,2019.8 249.4,2020.5 250.2,2021.1 251.0,2020.4 251.8,2019.8 252.6,2019.9 253.4,2020.5 254.2,2021.0 255.0,2020.3 255.8,2020.6 256.6,2021.3 257.4,2021.9 258.2,2020.9 259.0,2021.4 259.8,2021.3 260.6,2020.6 261.4,2021.1 262.2,2020.8 263.0,2021.0 263.8,2021.9 264.6,2021.8 265.4,2020.8 266.2,2020.8 267.0,2021.9 267.8,2020.9 268.6,2021.2 269.4,2021.1 270.2,2020.8 271.0,2020.7 271.8,2020.9 272.6,2021.2 273.4,2022.1 274.2,2021.5 275.0,2020.8 275.8,2021.4 276.6,2020.7 277.4,2021.0 278.2,2020.5 279.0,2021.4 279.8,2020.3 280.6,2020.8 281.4,2020.3 282.2,2020.4 283.0,2019.7 283.8,2019.9 284.6,2018.8 285.4,2018.8 286.2,2018.2 287.0,2017.6 287.8,2017.1 288.6,2016.4 289.4,2015.5 290.2,2015.5 291.0,2014.3 291.8,2013.4 292.6,2011.8 293.4,2011.8 294.2,2010.7 295.0,2010.3 295.8,2010.3 296.6,2010.5 297.4,2010.2 298.2,2010.7 299.1,2011.7 299.9,2012.3 300.7,2013.0 301.5,2013.3 302.3,2014.5 303.1,2015.7 303.9,2016.2 304.7,2016.8 305.5,2017.9 306.3,2018.2 307.1,2018.6 307.9,2018.0 308.7,2018.8 309.5,2019.7 310.3,2019.1 311.1,2020.6 311.9,2019.6 312.7,2021.0 313.5,2020.1 314.3,2021.2 315.1,2021.3 315.9,2020.6 316.7,2021.6 317.5,2020.5 318.3,2021.7 319.1,2021.0 319.9,2021.2 320.7,2020.7 321.5,2021.5 322.3,2021.0 323.1,2021.7 323.9,2021.9 324.7,2021.6 325.5,2020.7 326.3,2022.2 327.1,2022.1 327.9,2021.7 328.7,2021.2 329.5,2021.5 330.3,2022.0 331.1,2021.3 331.9,2021.8 332.7,2021.5 333.5,2021.2 334.3,2022.0 335.1,2021.1 335.9,2021.4 336.7,2020.4 337.5,2021.1 338.3,2020.3 339.1,2021.3 339.9,2020.1 340.7,2020.1 341.5,2020.1 342.3,2020.0 343.1,2020.5 343.9,2020.1 344.7,2019.8 345.5,2020.8 346.3,2020.5 347.1,2019.9 347.9,2020.0 348.7,2019.8 349.5,2018.7 350.3,2019.4 351.1,2018.3 351.9,2018.6 352.7,2018.1 353.5,2017.5 354.3,2018.3 355.1,2018.3 355.9,2017.1 356.7,2017.8 357.5,2016.7 358.3,2016.9 359.1,2017.2 359.9,2016.6 360.7,2015.3 361.5,2015.6 362.3,2015.3 363.1,2014.9 363.9,2015.5 364.7,2014.7 365.5,2014.9 366.3,2014.5 367.1,2014.1 367.9,2013.2 368.8,2013.9 369.6,2014.1 370.4,2012.7 371.2,2013.3 372.0,2012.8 372.8,2012.4 373.6,2012.8 374.4,2013.0 375.2,2011.3 376.0,2012.6 376.8,2011.6 377.6,2012.1 378.4,2010.9 379.2,2011.7 380.0,2010.6 380.8,2010.8 381.6,2011.7 382.4,2011.1 383.2,2011.2 384.0,2010.6 384.8,2010.6 385.6,2010.5 386.4,2010.9 387.2,2010.8 388.0,2009.9 388.8,2010.3 389.6,2010.4 390.4,2010.4 391.2,2010.9 392.0,2010.7 392.8,2009.6 393.6,2009.9 394.4,2009.4 395.2,2009.1 396.0,2009.1 396.8,2009.1 397.6,2009.9 398.4,2009.5 399.2,2009.5 400.0,2008.5 400.8,2007.9 401.6,2008.9 402.4,2008.2 403.2,2007.9 404.0,2005.8 404.8,2005.7 405.6,2005.3 406.4,2004.6 407.2,2003.9 408.0,2002.3 408.8,2001.0 409.6,1999.4 410.4,1999.8 411.2,1999.6 412.0,1999.2 412.8,1999.0 413.6,1999.1 414.4,1999.9 415.2,2001.9 416.0,2003.4 416.8,2004.8 417.6,2004.9 418.4,2006.8 419.2,2007.8 420.0,2008.7 420.8,2010.3 421.6,2011.4 422.4,2011.8 423.2,2012.5 424.0,2013.1 424.8,2013.6 425.6,2013.9 426.4,2014.0 427.2,2015.3 428.0,2014.6 428.8,2015.9 429.6,2015.9 430.4,2016.5 431.2,2017.0 432.0,2017.0 432.8,2018.1 433.6,2017.3 434.4,2017.2 435.2,2019.0 436.0,2018.2 436.8,2018.5 437.6,2019.0 438.4,2019.5 439.2,2020.4 440.1,2020.2 440.9,2019.8 441.7,2020.4 442.5,2020.5 443.3,2020.8 444.1,2020.9 444.9,2020.8 445.7,2021.4 446.5,2021.6 447.3,2021.5 448.1,2022.7 448.9,2022.2 449.7,2022.1 450.5,2023.0 451.3,2023.6 452.1,2023.8 452.9,2023.7 453.7,2024.1 454.5,2023.7 455.3,2023.6 456.1,2024.0 456.9,2024.3 457.7,2024.4 458.5,2024.9 459.3,2024.6 460.1,2024.8 460.9,2025.2 461.7,2025.3 462.5,2026.5 463.3,2026.2 464.1,2025.9 464.9,2026.4 465.7,2027.3 466.5,2027.0 467.3,2027.2 468.1,2027.1 468.9,2027.0 469.7,2027.8 470.5,2027.1 471.3,2028.5 472.1,2027.5 472.9,2028.7 473.7,2028.3 474.5,2029.0" stroke="#F7A8CC" stroke-width="2.4" fill="none" stroke-linejoin="round"/>
<polyline points="122.0,2020.2 122.8,2019.4 123.6,2020.0 124.4,2019.2 125.2,2019.3 126.0,2019.5 126.8,2019.2 127.6,2019.7 128.4,2020.0 129.2,2018.9 130.0,2019.4 130.8,2018.3 131.6,2018.8 132.4,2018.0 133.2,2018.1 134.0,2017.1 134.8,2018.0 135.6,2016.6 136.4,2016.7 137.2,2016.0 138.0,2016.4 138.8,2015.6 139.6,2015.2 140.4,2014.9 141.2,2013.5 142.0,2012.6 142.8,2013.1 143.6,2011.6 144.4,2011.6 145.2,2010.9 146.0,2009.5 146.8,2007.7 147.6,2007.8 148.4,2006.3 149.2,2004.5 150.0,2003.1 150.8,2002.2 151.6,2000.2 152.4,1999.9 153.2,1997.9 154.0,1996.4 154.8,1993.9 155.6,1992.9 156.4,1989.8 157.2,1988.8 158.1,1986.2 158.9,1984.0 159.7,1982.4 160.5,1980.8 161.3,1980.2 162.1,1978.3 162.9,1977.4 163.7,1976.8 164.5,1975.8 165.3,1976.2 166.1,1976.5 166.9,1977.4 167.7,1977.6 168.5,1979.3 169.3,1980.9 170.1,1982.2 170.9,1983.5 171.7,1985.3 172.5,1987.1 173.3,1990.5 174.1,1991.5 174.9,1994.4 175.7,1996.4 176.5,1997.9 177.3,2000.2 178.1,2003.2 178.9,2004.7 179.7,2007.1 180.5,2008.9 181.3,2009.2 182.1,2011.7 182.9,2012.2 183.7,2014.3 184.5,2015.6 185.3,2017.7 186.1,2018.3 186.9,2018.8 187.7,2020.4 188.5,2021.4 189.3,2021.9 190.1,2023.1 190.9,2024.7 191.7,2025.7 192.5,2026.2 193.3,2025.8 194.1,2027.8 194.9,2027.8 195.7,2029.0 196.5,2028.6 197.3,2029.1 198.1,2030.9 198.9,2030.4 199.7,2030.5 200.5,2031.8 201.3,2033.0 202.1,2033.2 202.9,2032.9 203.7,2034.3 204.5,2034.4 205.3,2034.9 206.1,2034.9 206.9,2034.9 207.7,2036.1 208.5,2035.7 209.3,2036.8 210.1,2036.5 210.9,2037.3 211.7,2037.0 212.5,2037.2 213.3,2037.7 214.1,2037.5 214.9,2037.5 215.7,2038.5 216.5,2039.2 217.3,2038.5 218.1,2039.7 218.9,2039.8 219.7,2040.0 220.5,2039.6 221.3,2040.8 222.1,2040.7 222.9,2040.5 223.7,2040.0 224.5,2040.9 225.3,2040.2 226.1,2041.8 226.9,2041.1 227.8,2041.3 228.6,2041.8 229.4,2042.1 230.2,2042.2 231.0,2042.2 231.8,2042.6 232.6,2043.1 233.4,2042.6 234.2,2042.9 235.0,2043.5 235.8,2042.3 236.6,2042.7 237.4,2043.1 238.2,2043.1 239.0,2044.3 239.8,2043.2 240.6,2043.3 241.4,2043.7 242.2,2044.2 243.0,2044.8 243.8,2045.2 244.6,2045.0 245.4,2044.8 246.2,2044.0 247.0,2044.1 247.8,2045.1 248.6,2045.5 249.4,2044.7 250.2,2045.9 251.0,2045.3 251.8,2045.4 252.6,2045.6 253.4,2044.8 254.2,2045.0 255.0,2046.3 255.8,2045.3 256.6,2045.0 257.4,2045.4 258.2,2046.1 259.0,2045.4 259.8,2045.4 260.6,2045.5 261.4,2045.9 262.2,2046.3 263.0,2045.6 263.8,2046.6 264.6,2046.7 265.4,2046.5 266.2,2045.3 267.0,2045.7 267.8,2046.7 268.6,2046.5 269.4,2045.3 270.2,2045.8 271.0,2045.6 271.8,2046.2 272.6,2045.0 273.4,2045.4 274.2,2046.0 275.0,2046.1 275.8,2044.6 276.6,2045.4 277.4,2045.3 278.2,2045.5 279.0,2044.6 279.8,2045.2 280.6,2043.8 281.4,2043.4 282.2,2043.1 283.0,2043.4 283.8,2042.3 284.6,2042.1 285.4,2041.5 286.2,2040.7 287.0,2041.5 287.8,2039.8 288.6,2040.0 289.4,2038.8 290.2,2037.0 291.0,2037.2 291.8,2034.7 292.6,2035.3 293.4,2032.9 294.2,2032.5 295.0,2032.4 295.8,2031.2 296.6,2032.3 297.4,2031.5 298.2,2033.2 299.1,2032.6 299.9,2034.3 300.7,2034.7 301.5,2035.8 302.3,2037.1 303.1,2037.8 303.9,2038.7 304.7,2039.8 305.5,2039.8 306.3,2040.4 307.1,2041.8 307.9,2041.6 308.7,2043.1 309.5,2042.7 310.3,2043.1 311.1,2042.7 311.9,2042.9 312.7,2043.3 313.5,2044.3 314.3,2044.6 315.1,2045.2 315.9,2044.5 316.7,2045.0 317.5,2044.5 318.3,2044.2 319.1,2044.8 319.9,2045.3 320.7,2045.5 321.5,2045.8 322.3,2045.7 323.1,2045.2 323.9,2045.2 324.7,2045.2 325.5,2045.1 326.3,2045.5 327.1,2045.3 327.9,2045.7 328.7,2045.1 329.5,2045.1 330.3,2045.6 331.1,2045.3 331.9,2045.1 332.7,2045.1 333.5,2045.5 334.3,2045.1 335.1,2044.5 335.9,2044.5 336.7,2045.0 337.5,2044.0 338.3,2044.6 339.1,2045.2 339.9,2044.0 340.7,2044.3 341.5,2044.5 342.3,2044.7 343.1,2044.2 343.9,2043.9 344.7,2043.4 345.5,2043.3 346.3,2043.4 347.1,2042.7 347.9,2043.2 348.7,2041.7 349.5,2042.7 350.3,2042.4 351.1,2041.5 351.9,2040.8 352.7,2041.0 353.5,2041.1 354.3,2041.2 355.1,2041.0 355.9,2039.7 356.7,2039.2 357.5,2039.0 358.3,2040.1 359.1,2039.3 359.9,2038.2 360.7,2038.8 361.5,2038.9 362.3,2038.1 363.1,2037.2 363.9,2038.1 364.7,2037.4 365.5,2036.3 366.3,2036.9 367.1,2036.2 367.9,2036.1 368.8,2035.5 369.6,2035.1 370.4,2035.1 371.2,2035.0 372.0,2034.6 372.8,2035.1 373.6,2033.6 374.4,2033.6 375.2,2034.5 376.0,2033.8 376.8,2033.6 377.6,2033.5 378.4,2032.7 379.2,2032.8 380.0,2032.3 380.8,2032.1 381.6,2033.3 382.4,2032.8 383.2,2032.9 384.0,2031.4 384.8,2032.4 385.6,2031.7 386.4,2032.0 387.2,2032.2 388.0,2031.1 388.8,2031.7 389.6,2031.9 390.4,2032.4 391.2,2031.7 392.0,2031.3 392.8,2031.7 393.6,2031.6 394.4,2031.0 395.2,2031.3 396.0,2030.7 396.8,2030.1 397.6,2030.3 398.4,2029.7 399.2,2030.0 400.0,2029.6 400.8,2029.8 401.6,2029.0 402.4,2028.4 403.2,2028.1 404.0,2026.0 404.8,2025.2 405.6,2023.8 406.4,2022.3 407.2,2021.6 408.0,2020.1 408.8,2017.9 409.6,2017.7 410.4,2016.6 411.2,2014.3 412.0,2013.9 412.8,2014.2 413.6,2016.2 414.4,2017.7 415.2,2018.1 416.0,2019.9 416.8,2022.7 417.6,2024.3 418.4,2025.6 419.2,2027.3 420.0,2029.1 420.8,2030.5 421.6,2031.9 422.4,2033.4 423.2,2034.0 424.0,2034.8 424.8,2035.6 425.6,2037.5 426.4,2037.2 427.2,2038.3 428.0,2038.8 428.8,2039.1 429.6,2039.8 430.4,2039.7 431.2,2040.5 432.0,2041.6 432.8,2042.3 433.6,2041.8 434.4,2042.2 435.2,2043.8 436.0,2042.9 436.8,2044.4 437.6,2044.9 438.4,2044.1 439.2,2045.5 440.1,2044.8 440.9,2045.0 441.7,2045.7 442.5,2046.1 443.3,2046.9 444.1,2047.0 444.9,2047.8 445.7,2048.0 446.5,2047.4 447.3,2047.9 448.1,2049.0 448.9,2048.3 449.7,2050.0 450.5,2050.1 451.3,2049.4 452.1,2049.8 452.9,2050.1 453.7,2050.6 454.5,2050.7 455.3,2050.6 456.1,2051.3 456.9,2051.4 457.7,2052.0 458.5,2052.4 459.3,2053.4 460.1,2053.3 460.9,2053.5 461.7,2054.2 462.5,2053.7 463.3,2054.0 464.1,2054.0 464.9,2055.2 465.7,2055.6 466.5,2055.9 467.3,2055.6 468.1,2055.1 468.9,2055.3 469.7,2056.7 470.5,2057.1 471.3,2056.8 472.1,2057.6 472.9,2057.9 473.7,2057.9 474.5,2057.5" stroke="#4A148C" stroke-width="2.4" fill="none" stroke-linejoin="round"/>
<polyline points="122.0,2045.8 122.8,2045.6 123.6,2045.6 124.4,2045.6 125.2,2044.8 126.0,2044.9 126.8,2044.8 127.6,2045.4 128.4,2045.7 129.2,2045.3 130.0,2044.2 130.8,2044.6 131.6,2044.6 132.4,2043.6 133.2,2043.3 134.0,2043.9 134.8,2043.0 135.6,2043.3 136.4,2042.2 137.2,2042.9 138.0,2041.7 138.8,2041.4 139.6,2041.1 140.4,2041.2 141.2,2040.6 142.0,2039.9 142.8,2039.0 143.6,2037.3 144.4,2036.7 145.2,2036.5 146.0,2036.3 146.8,2034.9 147.6,2033.0 148.4,2032.2 149.2,2032.0 150.0,2030.0 150.8,2029.2 151.6,2027.7 152.4,2026.1 153.2,2024.2 154.0,2022.6 154.8,2020.3 155.6,2018.2 156.4,2017.7 157.2,2014.3 158.1,2012.9 158.9,2011.6 159.7,2010.4 160.5,2007.6 161.3,2006.2 162.1,2005.8 162.9,2004.0 163.7,2003.3 164.5,2002.8 165.3,2002.1 166.1,2003.8 166.9,2003.9 167.7,2003.6 168.5,2004.9 169.3,2006.4 170.1,2008.5 170.9,2011.1 171.7,2011.9 172.5,2014.1 173.3,2016.4 174.1,2018.9 174.9,2021.7 175.7,2023.3 176.5,2026.0 177.3,2027.5 178.1,2029.3 178.9,2031.9 179.7,2033.3 180.5,2034.8 181.3,2036.6 182.1,2037.9 182.9,2039.5 183.7,2040.3 184.5,2041.9 185.3,2044.0 186.1,2044.2 186.9,2045.5 187.7,2046.5 188.5,2047.8 189.3,2048.3 190.1,2049.7 190.9,2050.9 191.7,2051.9 192.5,2052.9 193.3,2052.4 194.1,2054.0 194.9,2054.0 195.7,2054.9 196.5,2055.8 197.3,2056.8 198.1,2057.1 198.9,2058.2 199.7,2057.1 200.5,2058.1 201.3,2058.8 202.1,2058.6 202.9,2059.0 203.7,2060.0 204.5,2060.7 205.3,2060.4 206.1,2060.7 206.9,2061.4 207.7,2062.5 208.5,2062.5 209.3,2063.6 210.1,2063.2 210.9,2064.0 211.7,2063.8 212.5,2064.0 213.3,2064.1 214.1,2063.9 214.9,2064.1 215.7,2065.3 216.5,2065.9 217.3,2064.8 218.1,2065.3 218.9,2065.8 219.7,2066.0 220.5,2067.1 221.3,2066.4 222.1,2066.7 222.9,2067.2 223.7,2068.1 224.5,2067.3 225.3,2068.0 226.1,2067.3 226.9,2068.1 227.8,2069.0 228.6,2068.1 229.4,2068.5 230.2,2069.1 231.0,2069.2 231.8,2069.3 232.6,2069.5 233.4,2069.8 234.2,2069.4 235.0,2069.6 235.8,2069.8 236.6,2070.2 237.4,2070.4 238.2,2071.0 239.0,2070.4 239.8,2070.6 240.6,2071.3 241.4,2071.6 242.2,2070.6 243.0,2071.5 243.8,2070.8 244.6,2071.7 245.4,2070.7 246.2,2071.6 247.0,2071.8 247.8,2072.1 248.6,2072.5 249.4,2072.4 250.2,2072.1 251.0,2072.1 251.8,2071.4 252.6,2072.3 253.4,2072.4 254.2,2072.8 255.0,2071.9 255.8,2072.6 256.6,2071.8 257.4,2073.0 258.2,2073.2 259.0,2072.6 259.8,2073.0 260.6,2073.0 261.4,2072.5 262.2,2072.1 263.0,2073.2 263.8,2072.6 264.6,2072.3 265.4,2072.7 266.2,2073.4 267.0,2073.5 267.8,2072.9 268.6,2073.5 269.4,2072.2 270.2,2072.7 271.0,2071.8 271.8,2072.1 272.6,2073.1 273.4,2071.6 274.2,2072.5 275.0,2072.1 275.8,2072.7 276.6,2072.6 277.4,2071.0 278.2,2071.0 279.0,2071.9 279.8,2070.6 280.6,2070.0 281.4,2070.8 282.2,2070.0 283.0,2069.0 283.8,2068.9 284.6,2068.1 285.4,2067.5 286.2,2066.9 287.0,2065.5 287.8,2065.2 288.6,2064.8 289.4,2063.1 290.2,2062.2 291.0,2060.1 291.8,2058.6 292.6,2057.1 293.4,2057.5 294.2,2055.1 295.0,2054.8 295.8,2054.8 296.6,2054.9 297.4,2055.0 298.2,2055.4 299.1,2056.9 299.9,2057.5 300.7,2059.3 301.5,2059.4 302.3,2061.7 303.1,2061.9 303.9,2063.5 304.7,2064.6 305.5,2065.1 306.3,2066.4 307.1,2067.7 307.9,2067.1 308.7,2067.9 309.5,2069.7 310.3,2069.3 311.1,2069.6 311.9,2070.8 312.7,2070.9 313.5,2070.2 314.3,2071.1 315.1,2070.6 315.9,2071.8 316.7,2071.6 317.5,2072.1 318.3,2071.0 319.1,2072.5 319.9,2071.5 320.7,2072.6 321.5,2072.0 322.3,2072.7 323.1,2071.5 323.9,2071.4 324.7,2072.1 325.5,2072.9 326.3,2072.1 327.1,2072.2 327.9,2071.6 328.7,2072.2 329.5,2072.0 330.3,2072.7 331.1,2072.4 331.9,2072.0 332.7,2071.4 333.5,2071.3 334.3,2072.6 335.1,2072.0 335.9,2071.3 336.7,2072.1 337.5,2071.1 338.3,2071.4 339.1,2071.9 339.9,2070.6 340.7,2070.4 341.5,2070.1 342.3,2070.1 343.1,2070.2 343.9,2069.9 344.7,2069.6 345.5,2068.9 346.3,2069.3 347.1,2069.0 347.9,2069.2 348.7,2068.1 349.5,2068.2 350.3,2067.5 351.1,2067.8 351.9,2066.6 352.7,2066.7 353.5,2066.2 354.3,2065.9 355.1,2065.6 355.9,2065.2 356.7,2064.5 357.5,2064.9 358.3,2064.7 359.1,2063.7 359.9,2063.4 360.7,2063.1 361.5,2062.1 362.3,2062.1 363.1,2061.5 363.9,2061.1 364.7,2060.6 365.5,2060.4 366.3,2059.5 367.1,2059.2 367.9,2058.8 368.8,2059.0 369.6,2058.1 370.4,2058.6 371.2,2058.5 372.0,2057.9 372.8,2056.9 373.6,2057.5 374.4,2056.3 375.2,2056.0 376.0,2056.1 376.8,2055.9 377.6,2055.3 378.4,2055.6 379.2,2055.5 380.0,2054.4 380.8,2054.1 381.6,2054.2 382.4,2054.5 383.2,2054.3 384.0,2053.3 384.8,2053.5 385.6,2054.3 386.4,2054.3 387.2,2053.6 388.0,2053.8 388.8,2053.9 389.6,2052.8 390.4,2052.5 391.2,2053.3 392.0,2052.8 392.8,2053.2 393.6,2052.4 394.4,2052.5 395.2,2052.9 396.0,2051.6 396.8,2051.8 397.6,2051.1 398.4,2051.4 399.2,2051.3 400.0,2051.2 400.8,2050.3 401.6,2048.6 402.4,2048.3 403.2,2047.6 404.0,2046.7 404.8,2045.5 405.6,2044.5 406.4,2042.9 407.2,2039.9 408.0,2038.0 408.8,2037.4 409.6,2034.3 410.4,2034.1 411.2,2031.6 412.0,2032.0 412.8,2031.6 413.6,2032.7 414.4,2034.7 415.2,2037.5 416.0,2039.7 416.8,2041.5 417.6,2043.6 418.4,2046.2 419.2,2048.0 420.0,2050.0 420.8,2052.1 421.6,2053.6 422.4,2055.7 423.2,2055.6 424.0,2057.5 424.8,2058.6 425.6,2058.9 426.4,2060.1 427.2,2060.6 428.0,2062.5 428.8,2062.4 429.6,2062.6 430.4,2063.9 431.2,2064.6 432.0,2065.8 432.8,2066.0 433.6,2065.8 434.4,2067.4 435.2,2066.5 436.0,2068.1 436.8,2067.5 437.6,2069.2 438.4,2068.7 439.2,2070.1 440.1,2070.6 440.9,2070.9 441.7,2070.3 442.5,2071.2 443.3,2071.2 444.1,2072.6 444.9,2073.4 445.7,2073.1 446.5,2073.7 447.3,2074.1 448.1,2073.7 448.9,2074.4 449.7,2074.8 450.5,2075.8 451.3,2075.6 452.1,2076.0 452.9,2076.6 453.7,2076.4 454.5,2076.6 455.3,2077.2 456.1,2077.3 456.9,2078.7 457.7,2078.7 458.5,2079.3 459.3,2079.6 460.1,2079.1 460.9,2080.7 461.7,2081.0 462.5,2080.1 463.3,2081.1 464.1,2082.0 464.9,2081.7 465.7,2082.8 466.5,2082.8 467.3,2083.1 468.1,2083.8 468.9,2083.9 469.7,2083.9 470.5,2083.4 471.3,2084.4 472.1,2085.0 472.9,2085.1 473.7,2085.5 474.5,2085.4" stroke="#1565D0" stroke-width="2.4" fill="none" stroke-linejoin="round"/>
<polyline points="122.0,2072.2 122.8,2071.2 123.6,2071.8 124.4,2071.4 125.2,2070.8 126.0,2070.5 126.8,2070.6 127.6,2070.8 128.4,2071.0 129.2,2070.1 130.0,2070.0 130.8,2071.0 131.6,2071.2 132.4,2070.1 133.2,2069.9 134.0,2069.9 134.8,2068.8 135.6,2069.3 136.4,2069.2 137.2,2069.3 138.0,2068.4 138.8,2067.9 139.6,2067.2 140.4,2067.6 141.2,2066.5 142.0,2065.8 142.8,2065.7 143.6,2064.5 144.4,2063.3 145.2,2063.4 146.0,2063.0 146.8,2061.3 147.6,2060.0 148.4,2059.0 149.2,2059.2 150.0,2056.8 150.8,2056.4 151.6,2054.2 152.4,2053.5 153.2,2052.7 154.0,2050.1 154.8,2048.6 155.6,2047.5 156.4,2045.8 157.2,2044.1 158.1,2042.1 158.9,2039.9 159.7,2039.2 160.5,2037.2 161.3,2036.5 162.1,2035.0 162.9,2033.8 163.7,2034.3 164.5,2032.8 165.3,2033.7 166.1,2033.1 166.9,2033.7 167.7,2034.0 168.5,2034.9 169.3,2037.1 170.1,2038.2 170.9,2040.1 171.7,2041.2 172.5,2043.7 173.3,2045.9 174.1,2048.0 174.9,2049.8 175.7,2051.4 176.5,2053.8 177.3,2055.5 178.1,2057.1 178.9,2059.1 179.7,2060.3 180.5,2061.5 181.3,2063.1 182.1,2065.9 182.9,2067.1 183.7,2068.3 184.5,2068.6 185.3,2070.7 186.1,2071.7 186.9,2072.3 187.7,2072.9 188.5,2073.5 189.3,2075.8 190.1,2076.7 190.9,2077.2 191.7,2077.3 192.5,2078.5 193.3,2079.4 194.1,2079.5 194.9,2079.4 195.7,2081.4 196.5,2081.2 197.3,2082.2 198.1,2082.4 198.9,2082.0 199.7,2083.1 200.5,2082.9 201.3,2083.7 202.1,2085.2 202.9,2085.2 203.7,2085.4 204.5,2085.0 205.3,2086.3 206.1,2086.5 206.9,2086.9 207.7,2087.3 208.5,2088.0 209.3,2087.5 210.1,2088.1 210.9,2088.2 211.7,2088.6 212.5,2089.0 213.3,2088.5 214.1,2088.5 214.9,2088.9 215.7,2089.0 216.5,2090.0 217.3,2089.9 218.1,2090.9 218.9,2090.1 219.7,2090.3 220.5,2091.6 221.3,2090.6 222.1,2091.2 222.9,2091.9 223.7,2091.9 224.5,2091.6 225.3,2091.5 226.1,2092.4 226.9,2092.1 227.8,2093.2 228.6,2092.4 229.4,2093.6 230.2,2092.3 231.0,2093.4 231.8,2093.0 232.6,2093.4 233.4,2093.5 234.2,2094.2 235.0,2093.4 235.8,2094.4 236.6,2093.4 237.4,2094.4 238.2,2094.8 239.0,2094.3 239.8,2095.1 240.6,2094.4 241.4,2094.5 242.2,2095.5 243.0,2095.7 243.8,2095.4 244.6,2094.6 245.4,2095.8 246.2,2095.0 247.0,2095.9 247.8,2095.1 248.6,2095.0 249.4,2095.1 250.2,2095.8 251.0,2096.3 251.8,2095.7 252.6,2095.1 253.4,2096.0 254.2,2096.4 255.0,2096.3 255.8,2095.1 256.6,2095.6 257.4,2096.4 258.2,2096.3 259.0,2096.7 259.8,2096.6 260.6,2096.5 261.4,2096.3 262.2,2095.8 263.0,2095.2 263.8,2096.4 264.6,2095.9 265.4,2096.5 266.2,2095.3 267.0,2096.4 267.8,2096.0 268.6,2096.4 269.4,2096.0 270.2,2095.5 271.0,2095.5 271.8,2094.7 272.6,2094.8 273.4,2095.2 274.2,2094.4 275.0,2094.5 275.8,2094.8 276.6,2094.5 277.4,2094.7 278.2,2093.6 279.0,2093.5 279.8,2092.9 280.6,2093.0 281.4,2092.3 282.2,2092.3 283.0,2090.4 283.8,2089.7 284.6,2089.2 285.4,2088.9 286.2,2088.0 287.0,2086.2 287.8,2085.1 288.6,2084.3 289.4,2082.3 290.2,2081.6 291.0,2078.8 291.8,2078.2 292.6,2075.6 293.4,2074.9 294.2,2073.7 295.0,2073.0 295.8,2072.4 296.6,2070.9 297.4,2072.3 298.2,2073.6 299.1,2074.5 299.9,2075.5 300.7,2077.5 301.5,2078.4 302.3,2080.8 303.1,2081.7 303.9,2084.0 304.7,2083.8 305.5,2085.8 306.3,2086.1 307.1,2088.1 307.9,2089.2 308.7,2089.1 309.5,2090.3 310.3,2089.9 311.1,2090.0 311.9,2091.7 312.7,2091.4 313.5,2091.2 314.3,2092.4 315.1,2093.0 315.9,2091.9 316.7,2092.9 317.5,2092.6 318.3,2092.2 319.1,2092.3 319.9,2092.3 320.7,2092.7 321.5,2092.8 322.3,2093.1 323.1,2093.2 323.9,2093.6 324.7,2093.5 325.5,2092.4 326.3,2093.0 327.1,2093.3 327.9,2092.2 328.7,2092.7 329.5,2093.2 330.3,2092.5 331.1,2092.5 331.9,2091.7 332.7,2092.7 333.5,2092.2 334.3,2091.3 335.1,2091.0 335.9,2090.4 336.7,2091.0 337.5,2091.4 338.3,2091.0 339.1,2089.6 339.9,2089.4 340.7,2088.9 341.5,2088.7 342.3,2088.1 343.1,2087.6 343.9,2087.7 344.7,2087.7 345.5,2087.0 346.3,2086.0 347.1,2084.9 347.9,2085.2 348.7,2083.4 349.5,2082.4 350.3,2082.0 351.1,2082.2 351.9,2081.3 352.7,2079.9 353.5,2078.9 354.3,2078.8 355.1,2077.8 355.9,2077.4 356.7,2076.1 357.5,2074.6 358.3,2073.8 359.1,2073.2 359.9,2072.8 360.7,2072.3 361.5,2071.2 362.3,2069.5 363.1,2070.2 363.9,2068.6 364.7,2067.9 365.5,2066.5 366.3,2065.8 367.1,2064.9 367.9,2064.8 368.8,2064.5 369.6,2062.7 370.4,2062.2 371.2,2061.3 372.0,2060.2 372.8,2059.5 373.6,2060.1 374.4,2059.8 375.2,2057.7 376.0,2057.2 376.8,2057.3 377.6,2056.5 378.4,2056.0 379.2,2056.5 380.0,2055.0 380.8,2054.6 381.6,2055.4 382.4,2054.7 383.2,2054.5 384.0,2054.2 384.8,2053.0 385.6,2054.4 386.4,2052.7 387.2,2053.0 388.0,2053.3 388.8,2053.9 389.6,2054.1 390.4,2052.6 391.2,2052.8 392.0,2052.5 392.8,2052.7 393.6,2053.9 394.4,2052.5 395.2,2053.2 396.0,2052.5 396.8,2052.1 397.6,2052.4 398.4,2052.1 399.2,2052.3 400.0,2052.5 400.8,2051.5 401.6,2051.0 402.4,2050.0 403.2,2049.1 404.0,2048.6 404.8,2047.4 405.6,2047.0 406.4,2044.5 407.2,2042.6 408.0,2041.0 408.8,2039.7 409.6,2037.9 410.4,2036.9 411.2,2036.9 412.0,2036.4 412.8,2036.8 413.6,2038.4 414.4,2040.4 415.2,2041.5 416.0,2045.1 416.8,2046.9 417.6,2049.9 418.4,2052.4 419.2,2054.5 420.0,2056.3 420.8,2058.6 421.6,2061.2 422.4,2063.3 423.2,2064.7 424.0,2064.7 424.8,2066.9 425.6,2067.6 426.4,2069.3 427.2,2070.4 428.0,2070.8 428.8,2071.7 429.6,2073.3 430.4,2073.6 431.2,2075.8 432.0,2076.7 432.8,2076.2 433.6,2078.3 434.4,2079.2 435.2,2078.7 436.0,2080.4 436.8,2081.0 437.6,2081.3 438.4,2083.1 439.2,2083.5 440.1,2084.6 440.9,2085.6 441.7,2086.4 442.5,2086.6 443.3,2087.7 444.1,2087.1 444.9,2088.3 445.7,2089.3 446.5,2090.0 447.3,2090.5 448.1,2091.9 448.9,2092.3 449.7,2093.4 450.5,2093.5 451.3,2095.0 452.1,2094.7 452.9,2096.4 453.7,2096.4 454.5,2096.8 455.3,2097.9 456.1,2097.7 456.9,2099.3 457.7,2099.9 458.5,2100.9 459.3,2100.4 460.1,2101.6 460.9,2102.5 461.7,2102.3 462.5,2104.0 463.3,2104.9 464.1,2105.1 464.9,2105.9 465.7,2106.8 466.5,2106.7 467.3,2107.4 468.1,2108.6 468.9,2108.8 469.7,2108.8 470.5,2109.8 471.3,2110.7 472.1,2111.4 472.9,2110.8 473.7,2111.4 474.5,2112.8" stroke="#AA6CF5" stroke-width="2.4" fill="none" stroke-linejoin="round"/>
<polyline points="122.0,2101.0 122.8,2101.0 123.6,2100.5 124.4,2100.3 125.2,2101.1 126.0,2099.9 126.8,2099.8 127.6,2099.3 128.4,2099.3 129.2,2100.0 130.0,2099.9 130.8,2099.0 131.6,2099.6 132.4,2098.5 133.2,2098.6 134.0,2098.8 134.8,2098.8 135.6,2097.9 136.4,2098.2 137.2,2097.3 138.0,2097.2 138.8,2097.1 139.6,2096.2 140.4,2095.7 141.2,2095.8 142.0,2093.8 142.8,2093.2 143.6,2092.6 144.4,2092.3 145.2,2091.9 146.0,2091.2 146.8,2090.4 147.6,2088.4 148.4,2088.7 149.2,2086.6 150.0,2086.6 150.8,2084.4 151.6,2083.8 152.4,2082.2 153.2,2079.6 154.0,2078.9 154.8,2077.1 155.6,2076.4 156.4,2073.4 157.2,2072.0 158.1,2069.9 158.9,2068.0 159.7,2067.2 160.5,2065.9 161.3,2063.8 162.1,2063.7 162.9,2061.7 163.7,2062.1 164.5,2061.3 165.3,2061.6 166.1,2060.9 166.9,2062.1 167.7,2062.5 168.5,2063.7 169.3,2064.5 170.1,2066.2 170.9,2067.5 171.7,2069.4 172.5,2072.3 173.3,2072.9 174.1,2076.1 174.9,2078.0 175.7,2079.0 176.5,2081.4 177.3,2083.9 178.1,2085.2 178.9,2087.0 179.7,2088.7 180.5,2089.7 181.3,2092.6 182.1,2093.6 182.9,2094.2 183.7,2095.6 184.5,2097.4 185.3,2098.9 186.1,2099.4 186.9,2100.1 187.7,2101.2 188.5,2102.4 189.3,2103.8 190.1,2104.3 190.9,2104.4 191.7,2104.8 192.5,2106.5 193.3,2106.6 194.1,2108.2 194.9,2107.6 195.7,2109.6 196.5,2109.8 197.3,2109.5 198.1,2109.6 198.9,2111.4 199.7,2110.7 200.5,2111.2 201.3,2112.0 202.1,2112.1 202.9,2112.3 203.7,2113.5 204.5,2114.0 205.3,2114.6 206.1,2113.7 206.9,2114.1 207.7,2115.0 208.5,2115.8 209.3,2115.2 210.1,2116.1 210.9,2115.6 211.7,2117.2 212.5,2117.4 213.3,2117.7 214.1,2117.1 214.9,2116.9 215.7,2118.3 216.5,2117.9 217.3,2118.0 218.1,2118.3 218.9,2119.0 219.7,2119.2 220.5,2118.9 221.3,2118.9 222.1,2118.9 222.9,2118.9 223.7,2120.5 224.5,2120.7 225.3,2119.4 226.1,2120.4 226.9,2121.2 227.8,2120.7 228.6,2121.5 229.4,2120.3 230.2,2121.4 231.0,2121.7 231.8,2120.7 232.6,2121.0 233.4,2122.3 234.2,2121.3 235.0,2122.0 235.8,2122.6 236.6,2122.4 237.4,2122.6 238.2,2122.0 239.0,2122.9 239.8,2121.9 240.6,2122.4 241.4,2122.7 242.2,2123.1 243.0,2122.1 243.8,2122.2 244.6,2122.8 245.4,2122.5 246.2,2123.8 247.0,2123.1 247.8,2123.4 248.6,2123.2 249.4,2124.0 250.2,2124.1 251.0,2124.2 251.8,2122.9 252.6,2123.8 253.4,2124.1 254.2,2124.4 255.0,2123.8 255.8,2123.7 256.6,2123.3 257.4,2123.0 258.2,2123.1 259.0,2123.5 259.8,2124.2 260.6,2123.7 261.4,2124.0 262.2,2123.5 263.0,2124.7 263.8,2124.6 264.6,2123.5 265.4,2123.6 266.2,2123.2 267.0,2123.6 267.8,2123.3 268.6,2124.0 269.4,2123.3 270.2,2123.8 271.0,2122.6 271.8,2123.6 272.6,2123.3 273.4,2122.6 274.2,2123.2 275.0,2123.2 275.8,2123.0 276.6,2122.5 277.4,2121.8 278.2,2121.7 279.0,2121.6 279.8,2120.5 280.6,2121.0 281.4,2120.4 282.2,2119.6 283.0,2119.1 283.8,2117.3 284.6,2117.7 285.4,2116.2 286.2,2115.6 287.0,2114.4 287.8,2112.8 288.6,2111.9 289.4,2110.6 290.2,2109.2 291.0,2105.9 291.8,2105.6 292.6,2103.6 293.4,2101.7 294.2,2100.6 295.0,2098.9 295.8,2098.5 296.6,2097.8 297.4,2099.7 298.2,2100.4 299.1,2101.2 299.9,2102.8 300.7,2104.8 301.5,2105.5 302.3,2107.8 303.1,2109.7 303.9,2110.9 304.7,2112.9 305.5,2113.0 306.3,2114.8 307.1,2115.9 307.9,2116.2 308.7,2117.8 309.5,2117.7 310.3,2117.8 311.1,2118.4 311.9,2119.2 312.7,2120.5 313.5,2120.7 314.3,2121.0 315.1,2120.9 315.9,2120.8 316.7,2121.2 317.5,2121.3 318.3,2122.0 319.1,2121.2 319.9,2121.3 320.7,2121.9 321.5,2122.1 322.3,2122.0 323.1,2121.1 323.9,2121.8 324.7,2121.2 325.5,2121.2 326.3,2121.1 327.1,2120.6 327.9,2120.8 328.7,2121.6 329.5,2121.7 330.3,2120.5 331.1,2121.7 331.9,2120.8 332.7,2121.2 333.5,2119.9 334.3,2119.8 335.1,2120.8 335.9,2119.5 336.7,2119.3 337.5,2120.1 338.3,2118.8 339.1,2119.2 339.9,2119.5 340.7,2118.0 341.5,2118.8 342.3,2118.5 343.1,2118.2 343.9,2117.1 344.7,2117.0 345.5,2115.4 346.3,2115.5 347.1,2115.4 347.9,2114.8 348.7,2113.1 349.5,2113.5 350.3,2112.1 351.1,2111.7 351.9,2111.4 352.7,2110.5 353.5,2109.3 354.3,2109.4 355.1,2108.8 355.9,2107.8 356.7,2105.9 357.5,2105.0 358.3,2105.2 359.1,2103.7 359.9,2102.9 360.7,2103.4 361.5,2101.3 362.3,2100.9 363.1,2100.2 363.9,2100.4 364.7,2099.7 365.5,2098.7 366.3,2097.4 367.1,2096.2 367.9,2096.8 368.8,2094.9 369.6,2094.9 370.4,2094.5 371.2,2093.4 372.0,2093.4 372.8,2092.8 373.6,2091.3 374.4,2091.3 375.2,2089.8 376.0,2089.8 376.8,2089.7 377.6,2088.6 378.4,2088.3 379.2,2088.5 380.0,2087.2 380.8,2088.0 381.6,2086.4 382.4,2086.3 383.2,2086.6 384.0,2085.8 384.8,2086.6 385.6,2085.7 386.4,2085.2 387.2,2085.9 388.0,2085.5 388.8,2085.8 389.6,2084.9 390.4,2084.8 391.2,2085.1 392.0,2085.4 392.8,2084.8 393.6,2084.7 394.4,2085.6 395.2,2084.5 396.0,2084.5 396.8,2085.1 397.6,2085.0 398.4,2084.3 399.2,2082.9 400.0,2083.4 400.8,2081.7 401.6,2082.1 402.4,2080.4 403.2,2079.3 404.0,2078.4 404.8,2076.6 405.6,2075.8 406.4,2074.2 407.2,2071.9 408.0,2069.9 408.8,2066.7 409.6,2064.7 410.4,2063.9 411.2,2061.9 412.0,2062.3 412.8,2062.5 413.6,2063.3 414.4,2065.6 415.2,2069.5 416.0,2072.5 416.8,2075.2 417.6,2077.4 418.4,2080.3 419.2,2084.5 420.0,2086.8 420.8,2088.9 421.6,2090.2 422.4,2093.2 423.2,2093.6 424.0,2096.1 424.8,2097.6 425.6,2098.4 426.4,2100.4 427.2,2100.6 428.0,2103.0 428.8,2104.0 429.6,2104.1 430.4,2105.0 431.2,2106.7 432.0,2106.9 432.8,2108.2 433.6,2109.2 434.4,2110.5 435.2,2111.0 436.0,2111.0 436.8,2111.9 437.6,2112.3 438.4,2114.2 439.2,2115.0 440.1,2114.8 440.9,2115.9 441.7,2116.5 442.5,2117.1 443.3,2117.4 444.1,2119.0 444.9,2120.3 445.7,2119.7 446.5,2121.4 447.3,2122.1 448.1,2122.4 448.9,2123.6 449.7,2123.6 450.5,2124.6 451.3,2124.4 452.1,2125.2 452.9,2126.6 453.7,2127.6 454.5,2127.7 455.3,2129.1 456.1,2129.0 456.9,2129.5 457.7,2130.8 458.5,2131.6 459.3,2132.2 460.1,2132.5 460.9,2132.4 461.7,2133.1 462.5,2134.2 463.3,2133.9 464.1,2135.0 464.9,2136.3 465.7,2136.1 466.5,2137.3 467.3,2137.3 468.1,2137.6 468.9,2138.5 469.7,2139.0 470.5,2139.5 471.3,2140.1 472.1,2141.6 472.9,2141.6 473.7,2142.0 474.5,2142.2" stroke="#5EA8F2" stroke-width="2.4" fill="none" stroke-linejoin="round"/>
<polyline points="122.0,2130.4 122.8,2131.1 123.6,2130.3 124.4,2129.9 125.2,2130.2 126.0,2130.6 126.8,2130.9 127.6,2130.5 128.4,2129.9 129.2,2129.2 130.0,2130.1 130.8,2128.6 131.6,2129.2 132.4,2129.6 133.2,2128.3 134.0,2128.3 134.8,2127.6 135.6,2127.5 136.4,2126.6 137.2,2127.0 138.0,2126.7 138.8,2125.3 139.6,2124.6 140.4,2124.4 141.2,2124.0 142.0,2123.5 142.8,2123.2 143.6,2122.1 144.4,2120.5 145.2,2119.6 146.0,2119.3 146.8,2117.9 147.6,2117.8 148.4,2116.5 149.2,2115.3 150.0,2113.6 150.8,2111.5 151.6,2110.9 152.4,2108.5 153.2,2106.6 154.0,2104.6 154.8,2103.3 155.6,2102.3 156.4,2099.9 157.2,2097.9 158.1,2095.4 158.9,2093.6 159.7,2092.5 160.5,2090.9 161.3,2088.2 162.1,2087.3 162.9,2086.0 163.7,2084.7 164.5,2084.7 165.3,2083.8 166.1,2085.2 166.9,2085.1 167.7,2086.4 168.5,2087.8 169.3,2088.4 170.1,2091.3 170.9,2093.3 171.7,2094.6 172.5,2096.2 173.3,2099.3 174.1,2101.7 174.9,2103.3 175.7,2106.4 176.5,2107.9 177.3,2110.0 178.1,2111.8 178.9,2114.7 179.7,2116.9 180.5,2118.6 181.3,2119.7 182.1,2121.4 182.9,2122.6 183.7,2124.2 184.5,2125.8 185.3,2127.0 186.1,2128.0 186.9,2129.8 187.7,2130.3 188.5,2132.1 189.3,2132.4 190.1,2133.9 190.9,2134.4 191.7,2135.3 192.5,2137.0 193.3,2136.8 194.1,2138.6 194.9,2139.2 195.7,2139.8 196.5,2140.2 197.3,2141.2 198.1,2140.9 198.9,2141.8 199.7,2141.7 200.5,2142.2 201.3,2143.3 202.1,2144.1 202.9,2145.2 203.7,2145.4 204.5,2144.6 205.3,2146.3 206.1,2145.9 206.9,2146.3 207.7,2146.3 208.5,2146.5 209.3,2147.4 210.1,2147.9 210.9,2148.7 211.7,2148.7 212.5,2148.3 213.3,2149.2 214.1,2149.9 214.9,2149.2 215.7,2149.6 216.5,2149.8 217.3,2151.2 218.1,2150.1 218.9,2151.1 219.7,2150.9 220.5,2151.7 221.3,2151.6 222.1,2151.4 222.9,2152.6 223.7,2152.3 224.5,2151.7 225.3,2152.2 226.1,2152.3 226.9,2152.8 227.8,2152.7 228.6,2153.6 229.4,2153.8 230.2,2153.6 231.0,2153.5 231.8,2154.3 232.6,2154.0 233.4,2154.8 234.2,2155.1 235.0,2155.1 235.8,2155.6 236.6,2154.7 237.4,2155.7 238.2,2155.1 239.0,2156.0 239.8,2155.7 240.6,2155.3 241.4,2155.4 242.2,2156.5 243.0,2156.0 243.8,2155.6 244.6,2156.3 245.4,2155.7 246.2,2155.7 247.0,2156.1 247.8,2157.1 248.6,2156.2 249.4,2157.4 250.2,2156.1 251.0,2156.7 251.8,2156.2 252.6,2157.4 253.4,2157.4 254.2,2157.7 255.0,2157.8 255.8,2158.0 256.6,2157.3 257.4,2157.3 258.2,2157.7 259.0,2157.6 259.8,2157.1 260.6,2157.6 261.4,2157.5 262.2,2158.3 263.0,2157.1 263.8,2158.1 264.6,2158.1 265.4,2158.5 266.2,2157.9 267.0,2158.1 267.8,2157.2 268.6,2158.4 269.4,2157.0 270.2,2157.9 271.0,2157.0 271.8,2157.2 272.6,2157.8 273.4,2157.3 274.2,2157.7 275.0,2156.8 275.8,2156.5 276.6,2156.8 277.4,2156.9 278.2,2157.2 279.0,2157.1 279.8,2156.0 280.6,2156.7 281.4,2155.8 282.2,2154.8 283.0,2155.0 283.8,2154.8 284.6,2154.5 285.4,2152.9 286.2,2153.6 287.0,2152.3 287.8,2150.6 288.6,2150.2 289.4,2150.2 290.2,2147.9 291.0,2147.3 291.8,2146.8 292.6,2144.8 293.4,2144.8 294.2,2143.7 295.0,2142.6 295.8,2143.1 296.6,2141.9 297.4,2142.3 298.2,2143.8 299.1,2144.3 299.9,2144.6 300.7,2145.9 301.5,2147.7 302.3,2147.7 303.1,2148.5 303.9,2150.1 304.7,2150.4 305.5,2152.0 306.3,2151.9 307.1,2152.4 307.9,2153.7 308.7,2154.7 309.5,2154.4 310.3,2155.4 311.1,2155.8 311.9,2155.7 312.7,2155.6 313.5,2155.5 314.3,2155.2 315.1,2156.1 315.9,2155.6 316.7,2156.4 317.5,2156.2 318.3,2156.5 319.1,2156.6 319.9,2156.6 320.7,2157.2 321.5,2156.6 322.3,2155.9 323.1,2157.2 323.9,2156.9 324.7,2156.3 325.5,2156.4 326.3,2156.5 327.1,2156.2 327.9,2156.6 328.7,2157.1 329.5,2155.5 330.3,2156.8 331.1,2156.9 331.9,2156.6 332.7,2155.9 333.5,2156.1 334.3,2155.7 335.1,2155.5 335.9,2155.0 336.7,2155.0 337.5,2155.3 338.3,2154.8 339.1,2154.5 339.9,2155.0 340.7,2154.2 341.5,2154.9 342.3,2153.4 343.1,2153.3 343.9,2153.4 344.7,2152.7 345.5,2153.3 346.3,2152.4 347.1,2151.4 347.9,2151.2 348.7,2151.6 349.5,2150.6 350.3,2150.1 351.1,2149.5 351.9,2148.8 352.7,2149.5 353.5,2148.3 354.3,2147.7 355.1,2147.0 355.9,2147.2 356.7,2147.1 357.5,2146.9 358.3,2146.4 359.1,2144.4 359.9,2144.7 360.7,2144.1 361.5,2143.7 362.3,2143.0 363.1,2143.3 363.9,2142.3 364.7,2141.6 365.5,2141.9 366.3,2140.7 367.1,2139.5 367.9,2140.0 368.8,2140.1 369.6,2139.1 370.4,2138.0 371.2,2138.5 372.0,2136.9 372.8,2137.7 373.6,2136.2 374.4,2137.0 375.2,2135.6 376.0,2135.2 376.8,2135.0 377.6,2135.1 378.4,2135.1 379.2,2134.5 380.0,2133.6 380.8,2134.7 381.6,2134.4 382.4,2133.4 383.2,2132.7 384.0,2133.2 384.8,2133.9 385.6,2133.8 386.4,2132.5 387.2,2132.4 388.0,2133.6 388.8,2132.6 389.6,2133.1 390.4,2133.5 391.2,2133.3 392.0,2133.2 392.8,2132.8 393.6,2133.1 394.4,2132.1 395.2,2133.0 396.0,2131.8 396.8,2131.5 397.6,2132.3 398.4,2132.5 399.2,2131.8 400.0,2131.2 400.8,2130.0 401.6,2130.2 402.4,2129.0 403.2,2128.9 404.0,2127.9 404.8,2126.5 405.6,2126.0 406.4,2125.2 407.2,2123.7 408.0,2121.3 408.8,2121.0 409.6,2119.6 410.4,2117.5 411.2,2117.7 412.0,2116.2 412.8,2116.9 413.6,2118.6 414.4,2118.9 415.2,2121.2 416.0,2122.7 416.8,2125.1 417.6,2127.4 418.4,2130.1 419.2,2131.6 420.0,2132.5 420.8,2135.1 421.6,2136.5 422.4,2137.0 423.2,2137.9 424.0,2139.9 424.8,2141.2 425.6,2141.0 426.4,2142.0 427.2,2142.8 428.0,2144.6 428.8,2143.8 429.6,2144.4 430.4,2145.4 431.2,2146.4 432.0,2147.8 432.8,2146.9 433.6,2148.7 434.4,2148.9 435.2,2150.0 436.0,2150.6 436.8,2150.8 437.6,2150.5 438.4,2152.1 439.2,2151.2 440.1,2153.2 440.9,2152.8 441.7,2153.0 442.5,2154.5 443.3,2154.4 444.1,2154.7 444.9,2155.0 445.7,2155.7 446.5,2155.8 447.3,2156.7 448.1,2157.1 448.9,2157.2 449.7,2157.3 450.5,2158.0 451.3,2159.4 452.1,2159.7 452.9,2160.5 453.7,2159.7 454.5,2161.4 455.3,2161.8 456.1,2161.3 456.9,2162.7 457.7,2163.2 458.5,2163.4 459.3,2163.3 460.1,2164.3 460.9,2163.5 461.7,2163.9 462.5,2164.3 463.3,2165.6 464.1,2166.4 464.9,2165.6 465.7,2165.9 466.5,2167.5 467.3,2167.8 468.1,2167.0 468.9,2167.2 469.7,2168.0 470.5,2168.4 471.3,2168.3 472.1,2168.9 472.9,2170.3 473.7,2169.4 474.5,2170.4" stroke="#A2D8F2" stroke-width="2.4" fill="none" stroke-linejoin="round"/>
<polyline points="122.0,2156.9 122.8,2156.8 123.6,2156.1 124.4,2155.8 125.2,2156.1 126.0,2156.0 126.8,2156.0 127.6,2155.7 128.4,2155.8 129.2,2156.5 130.0,2154.8 130.8,2155.0 131.6,2155.9 132.4,2155.1 133.2,2155.4 134.0,2154.1 134.8,2155.3 135.6,2153.5 136.4,2154.5 137.2,2153.4 138.0,2153.8 138.8,2153.6 139.6,2153.2 140.4,2153.2 141.2,2151.6 142.0,2152.2 142.8,2151.3 143.6,2150.1 144.4,2149.6 145.2,2148.8 146.0,2149.5 146.8,2147.9 147.6,2147.2 148.4,2146.1 149.2,2146.4 150.0,2145.1 150.8,2143.6 151.6,2143.6 152.4,2142.1 153.2,2141.4 154.0,2140.1 154.8,2138.5 155.6,2137.2 156.4,2136.8 157.2,2134.4 158.1,2133.0 158.9,2133.0 159.7,2131.5 160.5,2130.8 161.3,2129.2 162.1,2129.0 162.9,2127.3 163.7,2126.2 164.5,2126.8 165.3,2126.0 166.1,2126.3 166.9,2126.6 167.7,2127.1 168.5,2128.1 169.3,2129.1 170.1,2129.3 170.9,2131.8 171.7,2132.2 172.5,2134.1 173.3,2134.9 174.1,2135.9 174.9,2137.7 175.7,2138.9 176.5,2140.4 177.3,2142.3 178.1,2143.5 178.9,2144.0 179.7,2146.0 180.5,2146.9 181.3,2147.3 182.1,2148.9 182.9,2149.0 183.7,2150.9 184.5,2151.1 185.3,2152.4 186.1,2153.7 186.9,2154.1 187.7,2154.5 188.5,2155.2 189.3,2155.3 190.1,2156.2 190.9,2156.1 191.7,2157.3 192.5,2158.5 193.3,2158.2 194.1,2159.1 194.9,2159.7 195.7,2159.6 196.5,2159.3 197.3,2161.0 198.1,2160.6 198.9,2160.8 199.7,2160.5 200.5,2161.9 201.3,2162.3 202.1,2162.1 202.9,2161.8 203.7,2162.9 204.5,2162.3 205.3,2162.8 206.1,2162.8 206.9,2163.5 207.7,2163.9 208.5,2163.9 209.3,2163.5 210.1,2163.8 210.9,2163.9 211.7,2164.5 212.5,2165.4 213.3,2165.0 214.1,2165.4 214.9,2164.3 215.7,2164.3 216.5,2165.2 217.3,2164.7 218.1,2164.8 218.9,2165.5 219.7,2164.4 220.5,2165.6 221.3,2164.8 222.1,2165.0 222.9,2163.9 223.7,2163.8 224.5,2164.5 225.3,2163.1 226.1,2163.6 226.9,2162.7 227.8,2162.2 228.6,2162.8 229.4,2162.4 230.2,2161.4 231.0,2161.7 231.8,2162.1 232.6,2162.6 233.4,2164.9 234.2,2165.6 235.0,2166.8 235.8,2167.5 236.6,2168.2 237.4,2169.9 238.2,2170.2 239.0,2172.1 239.8,2172.8 240.6,2173.5 241.4,2172.9 242.2,2173.5 243.0,2174.9 243.8,2174.7 244.6,2175.2 245.4,2175.7 246.2,2175.2 247.0,2175.8 247.8,2175.4 248.6,2175.5 249.4,2177.1 250.2,2176.9 251.0,2176.9 251.8,2176.3 252.6,2176.6 253.4,2177.7 254.2,2177.9 255.0,2177.5 255.8,2178.0 256.6,2177.2 257.4,2178.0 258.2,2177.9 259.0,2177.2 259.8,2178.4 260.6,2177.0 261.4,2177.5 262.2,2177.9 263.0,2178.7 263.8,2177.8 264.6,2177.4 265.4,2178.4 266.2,2178.4 267.0,2177.5 267.8,2178.5 268.6,2178.0 269.4,2178.1 270.2,2178.9 271.0,2178.7 271.8,2179.0 272.6,2178.5 273.4,2178.0 274.2,2177.9 275.0,2177.5 275.8,2177.4 276.6,2178.0 277.4,2177.4 278.2,2178.0 279.0,2177.3 279.8,2177.6 280.6,2178.1 281.4,2177.3 282.2,2177.8 283.0,2176.6 283.8,2176.1 284.6,2176.7 285.4,2175.9 286.2,2176.0 287.0,2175.4 287.8,2174.7 288.6,2174.1 289.4,2173.3 290.2,2173.9 291.0,2172.0 291.8,2171.7 292.6,2171.8 293.4,2171.0 294.2,2170.8 295.0,2169.8 295.8,2169.1 296.6,2170.0 297.4,2168.9 298.2,2170.7 299.1,2170.4 299.9,2171.4 300.7,2172.4 301.5,2172.5 302.3,2173.6 303.1,2174.3 303.9,2174.4 304.7,2175.5 305.5,2175.0 306.3,2175.3 307.1,2176.5 307.9,2177.1 308.7,2176.7 309.5,2176.4 310.3,2177.2 311.1,2177.1 311.9,2177.1 312.7,2177.4 313.5,2178.2 314.3,2178.0 315.1,2178.8 315.9,2177.9 316.7,2178.6 317.5,2178.1 318.3,2178.2 319.1,2178.0 319.9,2179.0 320.7,2178.3 321.5,2178.9 322.3,2179.0 323.1,2178.8 323.9,2178.9 324.7,2179.0 325.5,2178.0 326.3,2179.1 327.1,2178.6 327.9,2179.1 328.7,2177.9 329.5,2177.8 330.3,2178.7 331.1,2178.1 331.9,2179.2 332.7,2178.0 333.5,2178.2 334.3,2178.0 335.1,2178.2 335.9,2177.6 336.7,2178.7 337.5,2177.6 338.3,2178.5 339.1,2178.5 339.9,2177.3 340.7,2177.9 341.5,2177.8 342.3,2176.3 343.1,2177.5 343.9,2176.4 344.7,2176.0 345.5,2176.5 346.3,2175.2 347.1,2174.7 347.9,2175.9 348.7,2174.1 349.5,2174.8 350.3,2174.3 351.1,2173.8 351.9,2174.1 352.7,2173.7 353.5,2172.1 354.3,2172.6 355.1,2172.7 355.9,2171.5 356.7,2170.7 357.5,2171.1 358.3,2169.8 359.1,2170.0 359.9,2169.8 360.7,2168.9 361.5,2169.2 362.3,2169.2 363.1,2168.2 363.9,2167.9 364.7,2167.0 365.5,2166.3 366.3,2166.7 367.1,2166.0 367.9,2166.2 368.8,2165.0 369.6,2165.3 370.4,2165.0 371.2,2165.1 372.0,2163.6 372.8,2164.7 373.6,2163.2 374.4,2164.1 375.2,2163.7 376.0,2163.6 376.8,2163.4 377.6,2161.8 378.4,2162.0 379.2,2162.2 380.0,2161.6 380.8,2161.9 381.6,2162.1 382.4,2160.9 383.2,2161.0 384.0,2161.7 384.8,2160.8 385.6,2160.3 386.4,2161.3 387.2,2160.5 388.0,2160.9 388.8,2160.1 389.6,2160.9 390.4,2161.2 391.2,2160.6 392.0,2160.4 392.8,2161.0 393.6,2160.5 394.4,2160.3 395.2,2159.6 396.0,2160.3 396.8,2160.3 397.6,2158.7 398.4,2158.9 399.2,2159.1 400.0,2157.8 400.8,2158.4 401.6,2156.6 402.4,2156.1 403.2,2155.5 404.0,2154.0 404.8,2154.0 405.6,2152.0 406.4,2150.2 407.2,2148.9 408.0,2147.2 408.8,2145.0 409.6,2143.4 410.4,2142.0 411.2,2140.6 412.0,2140.0 412.8,2140.1 413.6,2142.1 414.4,2143.3 415.2,2146.4 416.0,2147.7 416.8,2151.0 417.6,2152.9 418.4,2154.7 419.2,2157.2 420.0,2159.5 420.8,2161.3 421.6,2162.4 422.4,2163.6 423.2,2164.8 424.0,2166.7 424.8,2167.9 425.6,2169.3 426.4,2169.5 427.2,2170.1 428.0,2171.7 428.8,2172.2 429.6,2173.1 430.4,2172.7 431.2,2174.5 432.0,2174.5 432.8,2175.5 433.6,2175.2 434.4,2175.6 435.2,2176.2 436.0,2176.8 436.8,2177.3 437.6,2179.1 438.4,2179.1 439.2,2178.8 440.1,2180.8 440.9,2180.4 441.7,2181.3 442.5,2181.7 443.3,2181.7 444.1,2182.9 444.9,2183.6 445.7,2183.1 446.5,2183.5 447.3,2184.0 448.1,2185.1 448.9,2185.0 449.7,2184.8 450.5,2185.1 451.3,2186.6 452.1,2186.2 452.9,2187.6 453.7,2187.7 454.5,2187.5 455.3,2187.7 456.1,2189.1 456.9,2188.7 457.7,2190.4 458.5,2190.0 459.3,2190.1 460.1,2191.3 460.9,2191.4 461.7,2191.8 462.5,2192.4 463.3,2192.3 464.1,2192.0 464.9,2192.6 465.7,2194.3 466.5,2194.0 467.3,2193.5 468.1,2194.0 468.9,2194.3 469.7,2194.9 470.5,2195.9 471.3,2196.7 472.1,2196.5 472.9,2196.7 473.7,2197.7 474.5,2196.8" stroke="#F26A12" stroke-width="2.4" fill="none" stroke-linejoin="round"/>
<polyline points="122.0,2173.3 122.8,2172.8 123.6,2172.1 124.4,2172.9 125.2,2171.9 126.0,2172.5 126.8,2172.2 127.6,2171.6 128.4,2172.8 129.2,2171.5 130.0,2171.6 130.8,2171.9 131.6,2171.1 132.4,2170.7 133.2,2170.8 134.0,2170.7 134.8,2171.1 135.6,2170.4 136.4,2170.7 137.2,2169.2 138.0,2169.9 138.8,2169.8 139.6,2169.3 140.4,2167.8 141.2,2167.0 142.0,2167.5 142.8,2166.4 143.6,2166.1 144.4,2164.6 145.2,2165.2 146.0,2163.5 146.8,2163.6 147.6,2161.1 148.4,2160.6 149.2,2159.9 150.0,2158.6 150.8,2157.1 151.6,2157.1 152.4,2155.1 153.2,2154.3 154.0,2152.2 154.8,2151.1 155.6,2149.2 156.4,2146.8 157.2,2146.1 158.1,2144.6 158.9,2142.9 159.7,2141.0 160.5,2138.9 161.3,2138.8 162.1,2137.9 162.9,2135.6 163.7,2134.8 164.5,2135.0 165.3,2135.4 166.1,2135.1 166.9,2136.1 167.7,2136.9 168.5,2137.5 169.3,2138.7 170.1,2140.2 170.9,2141.3 171.7,2142.8 172.5,2145.7 173.3,2146.5 174.1,2149.3 174.9,2150.7 175.7,2152.9 176.5,2154.8 177.3,2156.7 178.1,2158.4 178.9,2159.2 179.7,2161.6 180.5,2163.1 181.3,2164.2 182.1,2164.8 182.9,2167.4 183.7,2168.3 184.5,2168.8 185.3,2169.8 186.1,2171.6 186.9,2172.3 187.7,2172.8 188.5,2174.5 189.3,2175.5 190.1,2175.8 190.9,2176.8 191.7,2177.1 192.5,2177.3 193.3,2178.7 194.1,2179.2 194.9,2180.0 195.7,2179.7 196.5,2181.2 197.3,2181.3 198.1,2181.9 198.9,2182.5 199.7,2182.3 200.5,2183.4 201.3,2183.9 202.1,2184.4 202.9,2184.1 203.7,2183.6 204.5,2184.3 205.3,2184.5 206.1,2184.7 206.9,2185.4 207.7,2186.0 208.5,2186.9 209.3,2185.7 210.1,2187.4 210.9,2186.9 211.7,2187.5 212.5,2187.7 213.3,2187.1 214.1,2187.8 214.9,2188.0 215.7,2187.4 216.5,2188.4 217.3,2188.3 218.1,2186.9 218.9,2188.2 219.7,2187.3 220.5,2188.0 221.3,2186.4 222.1,2187.3 222.9,2186.4 223.7,2185.6 224.5,2185.3 225.3,2185.1 226.1,2183.6 226.9,2182.7 227.8,2182.4 228.6,2181.5 229.4,2179.8 230.2,2180.0 231.0,2180.0 231.8,2180.4 232.6,2181.7 233.4,2183.1 234.2,2185.1 235.0,2187.4 235.8,2188.9 236.6,2191.4 237.4,2192.0 238.2,2193.7 239.0,2196.2 239.8,2196.7 240.6,2197.2 241.4,2199.1 242.2,2198.6 243.0,2199.8 243.8,2200.2 244.6,2201.2 245.4,2201.8 246.2,2203.0 247.0,2202.7 247.8,2203.7 248.6,2204.1 249.4,2202.9 250.2,2203.3 251.0,2204.7 251.8,2204.1 252.6,2204.6 253.4,2205.1 254.2,2204.9 255.0,2205.8 255.8,2204.7 256.6,2205.2 257.4,2205.1 258.2,2205.6 259.0,2206.9 259.8,2205.5 260.6,2206.4 261.4,2206.1 262.2,2207.0 263.0,2206.2 263.8,2207.3 264.6,2207.0 265.4,2207.8 266.2,2206.5 267.0,2207.3 267.8,2208.0 268.6,2207.5 269.4,2207.4 270.2,2208.3 271.0,2208.2 271.8,2208.2 272.6,2207.6 273.4,2207.5 274.2,2207.5 275.0,2208.6 275.8,2207.2 276.6,2207.3 277.4,2208.1 278.2,2208.5 279.0,2208.6 279.8,2207.9 280.6,2208.3 281.4,2207.4 282.2,2207.5 283.0,2207.8 283.8,2206.7 284.6,2207.3 285.4,2206.6 286.2,2205.8 287.0,2206.0 287.8,2206.2 288.6,2205.9 289.4,2205.3 290.2,2204.9 291.0,2203.8 291.8,2203.2 292.6,2202.8 293.4,2202.4 294.2,2201.8 295.0,2202.4 295.8,2202.0 296.6,2201.1 297.4,2201.3 298.2,2202.2 299.1,2202.9 299.9,2203.6 300.7,2203.8 301.5,2204.7 302.3,2205.3 303.1,2205.4 303.9,2206.8 304.7,2206.6 305.5,2206.7 306.3,2207.2 307.1,2208.4 307.9,2208.4 308.7,2209.3 309.5,2209.7 310.3,2208.9 311.1,2210.0 311.9,2210.0 312.7,2210.0 313.5,2210.9 314.3,2209.7 315.1,2210.2 315.9,2210.3 316.7,2210.2 317.5,2210.9 318.3,2211.3 319.1,2210.8 319.9,2210.2 320.7,2210.6 321.5,2211.4 322.3,2211.0 323.1,2210.4 323.9,2210.8 324.7,2211.3 325.5,2211.0 326.3,2210.8 327.1,2211.1 327.9,2210.7 328.7,2211.9 329.5,2211.1 330.3,2211.3 331.1,2211.4 331.9,2211.3 332.7,2212.0 333.5,2210.8 334.3,2211.3 335.1,2210.8 335.9,2210.6 336.7,2211.6 337.5,2211.0 338.3,2211.6 339.1,2211.2 339.9,2210.4 340.7,2210.4 341.5,2210.2 342.3,2210.9 343.1,2210.5 343.9,2210.2 344.7,2210.1 345.5,2210.1 346.3,2210.7 347.1,2210.5 347.9,2210.2 348.7,2209.9 349.5,2208.7 350.3,2208.9 351.1,2209.4 351.9,2208.2 352.7,2208.8 353.5,2207.5 354.3,2208.4 355.1,2207.3 355.9,2207.0 356.7,2207.9 357.5,2206.3 358.3,2207.3 359.1,2206.0 359.9,2205.7 360.7,2205.2 361.5,2204.8 362.3,2205.1 363.1,2204.9 363.9,2204.4 364.7,2203.7 365.5,2204.8 366.3,2204.5 367.1,2203.9 367.9,2202.9 368.8,2202.6 369.6,2202.9 370.4,2202.2 371.2,2202.1 372.0,2201.8 372.8,2202.5 373.6,2202.1 374.4,2201.1 375.2,2202.1 376.0,2201.4 376.8,2201.5 377.6,2201.1 378.4,2200.6 379.2,2200.5 380.0,2200.3 380.8,2199.6 381.6,2200.8 382.4,2199.8 383.2,2199.2 384.0,2199.2 384.8,2199.5 385.6,2200.0 386.4,2199.6 387.2,2199.3 388.0,2200.1 388.8,2198.8 389.6,2199.0 390.4,2200.0 391.2,2199.2 392.0,2199.2 392.8,2198.4 393.6,2199.2 394.4,2199.3 395.2,2199.3 396.0,2198.0 396.8,2198.5 397.6,2198.7 398.4,2198.5 399.2,2196.9 400.0,2196.6 400.8,2197.4 401.6,2196.0 402.4,2195.4 403.2,2195.2 404.0,2193.5 404.8,2192.4 405.6,2191.9 406.4,2190.7 407.2,2189.8 408.0,2187.0 408.8,2186.3 409.6,2184.1 410.4,2183.6 411.2,2182.8 412.0,2182.1 412.8,2182.4 413.6,2183.2 414.4,2185.2 415.2,2186.9 416.0,2188.1 416.8,2190.5 417.6,2191.8 418.4,2193.6 419.2,2195.5 420.0,2197.0 420.8,2198.1 421.6,2199.3 422.4,2201.0 423.2,2201.1 424.0,2202.5 424.8,2202.5 425.6,2204.6 426.4,2203.8 427.2,2205.6 428.0,2205.2 428.8,2206.5 429.6,2206.0 430.4,2207.0 431.2,2207.0 432.0,2208.0 432.8,2208.7 433.6,2208.2 434.4,2209.4 435.2,2209.6 436.0,2210.7 436.8,2210.3 437.6,2210.0 438.4,2210.7 439.2,2212.1 440.1,2211.8 440.9,2212.0 441.7,2212.1 442.5,2212.4 443.3,2212.5 444.1,2213.5 444.9,2213.1 445.7,2213.4 446.5,2213.7 447.3,2214.1 448.1,2215.5 448.9,2214.6 449.7,2214.7 450.5,2216.4 451.3,2216.0 452.1,2217.0 452.9,2217.0 453.7,2216.8 454.5,2217.0 455.3,2216.5 456.1,2217.5 456.9,2217.5 457.7,2217.9 458.5,2219.0 459.3,2218.8 460.1,2219.6 460.9,2219.6 461.7,2220.0 462.5,2219.0 463.3,2219.9 464.1,2220.7 464.9,2220.8 465.7,2221.2 466.5,2220.8 467.3,2220.5 468.1,2221.4 468.9,2221.7 469.7,2222.2 470.5,2221.8 471.3,2222.9 472.1,2223.1 472.9,2223.1 473.7,2223.3 474.5,2223.9" stroke="#F0A840" stroke-width="2.4" fill="none" stroke-linejoin="round"/>
<rect x="143.0" y="1880.0" width="47.5" height="349.5" fill="rgba(205,205,205,0.4)" />
<rect x="208.7" y="1931.2" width="42.9" height="202.3" fill="rgba(255,150,150,0.45)" />
<rect x="208.7" y="2133.5" width="42.9" height="96.0" fill="rgba(130,195,205,0.48)" />
<line x1="122.4" y1="2310.8" x2="122.4" y2="2296.0" stroke="#118A5C" stroke-width="2.4" />
<line x1="135.0" y1="2310.8" x2="135.0" y2="2301.0" stroke="#118A5C" stroke-width="2.4" />
<line x1="155.8" y1="2310.8" x2="155.8" y2="2301.0" stroke="#118A5C" stroke-width="2.4" />
<line x1="160.8" y1="2310.8" x2="160.8" y2="2301.0" stroke="#118A5C" stroke-width="2.4" />
<line x1="193.6" y1="2310.8" x2="193.6" y2="2301.0" stroke="#118A5C" stroke-width="2.4" />
<line x1="207.2" y1="2310.8" x2="207.2" y2="2290.5" stroke="#118A5C" stroke-width="2.4" />
<line x1="217.7" y1="2310.8" x2="217.7" y2="2296.3" stroke="#118A5C" stroke-width="2.4" />
<line x1="237.4" y1="2310.8" x2="237.4" y2="2236.0" stroke="#118A5C" stroke-width="2.4" />
<line x1="274.3" y1="2310.8" x2="274.3" y2="2270.8" stroke="#118A5C" stroke-width="2.4" />
<line x1="277.8" y1="2310.8" x2="277.8" y2="2302.0" stroke="#118A5C" stroke-width="2.4" />
<line x1="292.3" y1="2310.8" x2="292.3" y2="2294.9" stroke="#118A5C" stroke-width="2.4" />
<line x1="295.2" y1="2310.8" x2="295.2" y2="2288.5" stroke="#118A5C" stroke-width="2.4" />
<line x1="315.0" y1="2310.8" x2="315.0" y2="2301.0" stroke="#118A5C" stroke-width="2.4" />
<line x1="317.5" y1="2310.8" x2="317.5" y2="2292.8" stroke="#118A5C" stroke-width="2.4" />
<line x1="363.4" y1="2310.8" x2="363.4" y2="2263.5" stroke="#118A5C" stroke-width="2.4" />
<line x1="369.2" y1="2310.8" x2="369.2" y2="2261.5" stroke="#118A5C" stroke-width="2.4" />
<line x1="395.4" y1="2310.8" x2="395.4" y2="2268.2" stroke="#118A5C" stroke-width="2.4" />
<line x1="419.5" y1="2310.8" x2="419.5" y2="2259.2" stroke="#118A5C" stroke-width="2.4" />
<line x1="443.3" y1="2310.8" x2="443.3" y2="2302.0" stroke="#118A5C" stroke-width="2.4" />
<line x1="449.0" y1="2310.8" x2="449.0" y2="2294.3" stroke="#118A5C" stroke-width="2.4" />
<line x1="150.9" y1="2387.8" x2="150.9" y2="2379.0" stroke="#C8161E" stroke-width="2.4" />
<line x1="155.8" y1="2387.8" x2="155.8" y2="2376.0" stroke="#C8161E" stroke-width="2.4" />
<line x1="161.6" y1="2387.8" x2="161.6" y2="2375.6" stroke="#C8161E" stroke-width="2.4" />
<line x1="170.3" y1="2387.8" x2="170.3" y2="2378.2" stroke="#C8161E" stroke-width="2.4" />
<line x1="193.0" y1="2387.8" x2="193.0" y2="2379.0" stroke="#C8161E" stroke-width="2.4" />
<line x1="211.9" y1="2387.8" x2="211.9" y2="2343.6" stroke="#C8161E" stroke-width="2.4" />
<line x1="216.0" y1="2387.8" x2="216.0" y2="2369.8" stroke="#C8161E" stroke-width="2.4" />
<line x1="221.2" y1="2387.8" x2="221.2" y2="2312.3" stroke="#C8161E" stroke-width="2.4" />
<line x1="248.2" y1="2387.8" x2="248.2" y2="2341.3" stroke="#C8161E" stroke-width="2.4" />
<line x1="252.5" y1="2387.8" x2="252.5" y2="2377.6" stroke="#C8161E" stroke-width="2.4" />
<line x1="261.8" y1="2387.8" x2="261.8" y2="2372.7" stroke="#C8161E" stroke-width="2.4" />
<line x1="296.0" y1="2387.8" x2="296.0" y2="2352.0" stroke="#C8161E" stroke-width="2.4" />
<line x1="309.1" y1="2387.8" x2="309.1" y2="2369.5" stroke="#C8161E" stroke-width="2.4" />
<line x1="313.2" y1="2387.8" x2="313.2" y2="2369.5" stroke="#C8161E" stroke-width="2.4" />
<line x1="335.3" y1="2387.8" x2="335.3" y2="2363.7" stroke="#C8161E" stroke-width="2.4" />
<line x1="355.3" y1="2387.8" x2="355.3" y2="2330.3" stroke="#C8161E" stroke-width="2.4" />
<line x1="372.1" y1="2387.8" x2="372.1" y2="2377.6" stroke="#C8161E" stroke-width="2.4" />
<line x1="382.9" y1="2387.8" x2="382.9" y2="2328.8" stroke="#C8161E" stroke-width="2.4" />
<line x1="406.4" y1="2387.8" x2="406.4" y2="2326.2" stroke="#C8161E" stroke-width="2.4" />
<line x1="419.5" y1="2387.8" x2="419.5" y2="2321.9" stroke="#C8161E" stroke-width="2.4" />
<line x1="440.4" y1="2387.8" x2="440.4" y2="2379.0" stroke="#C8161E" stroke-width="2.4" />
<line x1="444.7" y1="2387.8" x2="444.7" y2="2378.2" stroke="#C8161E" stroke-width="2.4" />
<line x1="473.8" y1="2387.8" x2="473.8" y2="2379.0" stroke="#C8161E" stroke-width="2.4" />
<line x1="147.6" y1="1807.5" x2="147.6" y2="1828.7" stroke="#777" stroke-width="2.3" />
<line x1="170.7" y1="1807.5" x2="170.7" y2="1828.7" stroke="#777" stroke-width="2.3" />
<line x1="297.6" y1="1807.5" x2="297.6" y2="1828.7" stroke="#777" stroke-width="2.3" />
<line x1="384.5" y1="1807.5" x2="384.5" y2="1828.7" stroke="#777" stroke-width="2.3" />
<line x1="428.0" y1="1807.5" x2="428.0" y2="1828.7" stroke="#777" stroke-width="2.3" />
<text x="477.1" y="1832.8" font-size="42" fill="#808080" ><tspan font-style="italic">t</tspan></text>
<rect x="122" y="1771.5" width="352.5" height="618.5" fill="none" stroke="#1a1a1a" stroke-width="1.9"/>
<line x1="138.0" y1="2390.0" x2="138.0" y2="2396.0" stroke="#333" stroke-width="1.8" />
<line x1="186.1" y1="2390.0" x2="186.1" y2="2402.0" stroke="#333" stroke-width="1.8" />
<line x1="234.2" y1="2390.0" x2="234.2" y2="2396.0" stroke="#333" stroke-width="1.8" />
<line x1="282.2" y1="2390.0" x2="282.2" y2="2402.0" stroke="#333" stroke-width="1.8" />
<line x1="330.3" y1="2390.0" x2="330.3" y2="2396.0" stroke="#333" stroke-width="1.8" />
<line x1="378.4" y1="2390.0" x2="378.4" y2="2402.0" stroke="#333" stroke-width="1.8" />
<line x1="426.4" y1="2390.0" x2="426.4" y2="2396.0" stroke="#333" stroke-width="1.8" />
<line x1="474.5" y1="2390.0" x2="474.5" y2="2402.0" stroke="#333" stroke-width="1.8" />
<text x="149.0" y="2444.8" font-size="44.5" fill="#000" ><tspan>300</tspan></text>
<text x="245.5" y="2444.8" font-size="44.5" fill="#000" ><tspan>450</tspan></text>
<text x="341.0" y="2444.8" font-size="44.5" fill="#000" ><tspan>600</tspan></text>
<text x="437.1" y="2444.8" font-size="44.5" fill="#000" ><tspan>750</tspan></text>
<text x="0" y="0" font-size="44" fill="#000" transform="translate(130.67,2489.20) scale(1.0326,1)" ><tspan>Raman shift (cm</tspan></text>
<text x="459.6" y="2471.8" font-size="28.0" fill="#000" ><tspan>-1</tspan></text>
<text x="486.5" y="2489.2" font-size="44" fill="#000" ><tspan>)</tspan></text>
<text x="-3.81" y="0" font-size="46.5" fill="#000" transform="translate(111.3,2387.7) rotate(-90) scale(0.9664,1)">Normalized intensity (arb.units.)</text>
<polyline points="778.6,1944.4 779.4,1944.2 780.2,1942.7 780.9,1942.6 781.7,1943.6 782.5,1943.3 783.3,1943.0 784.0,1942.3 784.8,1942.5 785.6,1942.3 786.4,1942.0 787.1,1941.1 787.9,1941.2 788.7,1940.9 789.5,1941.0 790.2,1941.1 791.0,1940.6 791.8,1939.6 792.6,1939.0 793.3,1938.2 794.1,1937.3 794.9,1936.7 795.7,1936.7 796.4,1935.8 797.2,1935.2 798.0,1935.3 798.8,1933.8 799.5,1933.0 800.3,1931.5 801.1,1930.1 801.9,1929.5 802.6,1928.0 803.4,1927.3 804.2,1926.6 805.0,1924.6 805.7,1922.3 806.5,1921.7 807.3,1919.8 808.1,1917.8 808.8,1916.1 809.6,1913.8 810.4,1911.7 811.2,1908.8 811.9,1907.5 812.7,1905.2 813.5,1901.6 814.3,1900.4 815.0,1898.1 815.8,1895.7 816.6,1894.0 817.4,1892.4 818.1,1891.7 818.9,1890.1 819.7,1890.0 820.5,1889.0 821.2,1890.0 822.0,1890.7 822.8,1890.9 823.6,1892.4 824.3,1894.7 825.1,1896.3 825.9,1898.1 826.7,1900.0 827.4,1902.6 828.2,1905.7 829.0,1907.4 829.8,1911.2 830.5,1912.7 831.3,1916.2 832.1,1917.7 832.9,1921.1 833.6,1922.9 834.4,1924.7 835.2,1926.8 836.0,1929.0 836.7,1930.7 837.5,1932.0 838.3,1933.5 839.1,1935.5 839.8,1937.7 840.6,1938.6 841.4,1939.0 842.2,1941.4 842.9,1942.5 843.7,1943.8 844.5,1943.7 845.3,1945.6 846.0,1945.5 846.8,1947.3 847.6,1947.5 848.4,1948.2 849.1,1950.0 849.9,1949.5 850.7,1950.9 851.5,1952.1 852.2,1951.7 853.0,1952.3 853.8,1953.9 854.6,1953.7 855.3,1954.7 856.1,1954.1 856.9,1955.1 857.7,1955.3 858.4,1956.5 859.2,1956.0 860.0,1957.8 860.8,1956.7 861.5,1958.2 862.3,1957.5 863.1,1958.2 863.9,1959.4 864.7,1958.7 865.4,1959.1 866.2,1960.2 867.0,1960.0 867.8,1959.8 868.5,1961.6 869.3,1960.5 870.1,1960.6 870.9,1961.3 871.6,1962.0 872.4,1962.5 873.2,1961.7 874.0,1962.3 874.7,1962.0 875.5,1962.9 876.3,1963.7 877.1,1963.8 877.8,1964.3 878.6,1964.3 879.4,1964.6 880.2,1964.6 880.9,1964.4 881.7,1964.2 882.5,1965.0 883.3,1964.6 884.0,1964.5 884.8,1965.2 885.6,1966.0 886.4,1965.0 887.1,1965.9 887.9,1965.7 888.7,1966.1 889.5,1965.6 890.2,1967.0 891.0,1966.1 891.8,1966.7 892.6,1966.6 893.3,1966.0 894.1,1967.0 894.9,1966.5 895.7,1966.5 896.4,1966.5 897.2,1966.8 898.0,1966.8 898.8,1967.8 899.5,1967.7 900.3,1968.5 901.1,1968.5 901.9,1968.7 902.6,1967.6 903.4,1968.0 904.2,1967.8 905.0,1968.4 905.7,1968.5 906.5,1968.9 907.3,1968.8 908.1,1968.1 908.8,1968.4 909.6,1968.6 910.4,1967.9 911.2,1967.9 911.9,1968.6 912.7,1968.1 913.5,1969.2 914.3,1968.4 915.0,1968.2 915.8,1968.3 916.6,1968.4 917.4,1968.4 918.1,1968.9 918.9,1968.8 919.7,1968.5 920.5,1969.0 921.2,1968.3 922.0,1969.4 922.8,1969.4 923.6,1969.0 924.3,1968.4 925.1,1968.5 925.9,1968.5 926.7,1967.5 927.4,1968.0 928.2,1968.0 929.0,1967.2 929.8,1966.9 930.5,1967.8 931.3,1966.9 932.1,1966.8 932.9,1967.1 933.6,1966.3 934.4,1965.3 935.2,1966.0 936.0,1964.4 936.7,1963.3 937.5,1963.7 938.3,1962.0 939.1,1961.4 939.8,1961.4 940.6,1960.1 941.4,1957.9 942.2,1957.4 942.9,1956.2 943.7,1955.1 944.5,1953.6 945.3,1953.3 946.0,1951.8 946.8,1951.7 947.6,1951.8 948.4,1953.0 949.2,1952.3 949.9,1954.2 950.7,1954.4 951.5,1956.1 952.3,1957.0 953.0,1958.3 953.8,1959.9 954.6,1960.3 955.4,1960.8 956.1,1961.7 956.9,1962.4 957.7,1964.3 958.5,1964.5 959.2,1965.6 960.0,1965.6 960.8,1965.0 961.6,1966.4 962.3,1966.9 963.1,1967.1 963.9,1966.9 964.7,1966.9 965.4,1967.3 966.2,1968.0 967.0,1967.3 967.8,1967.8 968.5,1967.9 969.3,1968.7 970.1,1968.5 970.9,1968.8 971.6,1968.7 972.4,1967.9 973.2,1967.8 974.0,1968.2 974.7,1967.9 975.5,1968.1 976.3,1968.5 977.1,1968.9 977.8,1968.4 978.6,1968.7 979.4,1967.5 980.2,1967.9 980.9,1968.9 981.7,1967.5 982.5,1967.9 983.3,1967.2 984.0,1967.2 984.8,1968.4 985.6,1968.5 986.4,1967.9 987.1,1967.0 987.9,1967.2 988.7,1966.9 989.5,1967.5 990.2,1967.3 991.0,1966.8 991.8,1966.7 992.6,1965.8 993.3,1966.3 994.1,1966.7 994.9,1966.1 995.7,1964.8 996.4,1965.2 997.2,1965.2 998.0,1964.2 998.8,1964.9 999.5,1963.8 1000.3,1963.9 1001.1,1963.1 1001.9,1963.7 1002.6,1963.0 1003.4,1962.3 1004.2,1961.2 1005.0,1961.3 1005.7,1960.3 1006.5,1960.8 1007.3,1960.9 1008.1,1959.3 1008.8,1959.5 1009.6,1959.0 1010.4,1958.5 1011.2,1958.6 1011.9,1958.6 1012.7,1957.8 1013.5,1957.1 1014.3,1957.5 1015.0,1956.1 1015.8,1956.4 1016.6,1955.9 1017.4,1955.7 1018.1,1955.5 1018.9,1954.1 1019.7,1954.4 1020.5,1953.8 1021.2,1953.9 1022.0,1954.0 1022.8,1953.2 1023.6,1951.9 1024.3,1952.4 1025.1,1952.5 1025.9,1952.5 1026.7,1951.9 1027.4,1951.9 1028.2,1950.4 1029.0,1951.7 1029.8,1951.2 1030.5,1950.8 1031.3,1951.2 1032.1,1951.0 1032.9,1949.6 1033.6,1950.6 1034.4,1950.5 1035.2,1949.5 1036.0,1950.3 1036.8,1950.0 1037.5,1949.3 1038.3,1950.2 1039.1,1949.1 1039.9,1949.8 1040.6,1949.4 1041.4,1949.0 1042.2,1949.4 1043.0,1949.1 1043.7,1948.5 1044.5,1949.5 1045.3,1947.8 1046.1,1947.5 1046.8,1947.9 1047.6,1948.1 1048.4,1947.4 1049.2,1947.0 1049.9,1946.0 1050.7,1945.6 1051.5,1944.2 1052.3,1943.1 1053.0,1942.4 1053.8,1940.4 1054.6,1939.1 1055.4,1938.7 1056.1,1936.3 1056.9,1935.8 1057.7,1934.7 1058.5,1933.3 1059.2,1933.4 1060.0,1933.9 1060.8,1934.8 1061.6,1935.0 1062.3,1936.7 1063.1,1938.9 1063.9,1941.0 1064.7,1942.6 1065.4,1943.9 1066.2,1946.4 1067.0,1948.6 1067.8,1949.0 1068.5,1950.5 1069.3,1951.4 1070.1,1952.5 1070.9,1954.1 1071.6,1954.0 1072.4,1955.3 1073.2,1955.8 1074.0,1956.5 1074.7,1957.8 1075.5,1957.0 1076.3,1958.7 1077.1,1958.4 1077.8,1959.5 1078.6,1960.2 1079.4,1960.4 1080.2,1960.5 1080.9,1961.6 1081.7,1960.9 1082.5,1962.1 1083.3,1962.2 1084.0,1962.8 1084.8,1963.7 1085.6,1964.0 1086.4,1964.1 1087.1,1963.9 1087.9,1964.2 1088.7,1964.9 1089.5,1964.9 1090.2,1965.3 1091.0,1966.8 1091.8,1965.7 1092.6,1967.2 1093.3,1966.9 1094.1,1967.2 1094.9,1967.4 1095.7,1967.4 1096.4,1968.3 1097.2,1968.2 1098.0,1968.9 1098.8,1969.0 1099.5,1970.3 1100.3,1970.7 1101.1,1970.2 1101.9,1970.8 1102.6,1971.6 1103.4,1971.0 1104.2,1970.9 1105.0,1971.4 1105.7,1971.7 1106.5,1972.7 1107.3,1972.5 1108.1,1972.8 1108.8,1973.8 1109.6,1973.2 1110.4,1974.4 1111.2,1974.4 1111.9,1974.3 1112.7,1975.3 1113.5,1974.8 1114.3,1975.9 1115.0,1976.2 1115.8,1975.8 1116.6,1976.4 1117.4,1977.1 1118.1,1977.0 1118.9,1977.2 1119.7,1977.7" stroke="#178C8C" stroke-width="2.4" fill="none" stroke-linejoin="round"/>
<polyline points="778.6,1962.1 779.4,1961.8 780.2,1962.1 780.9,1960.9 781.7,1961.4 782.5,1961.4 783.3,1960.8 784.0,1960.7 784.8,1960.3 785.6,1961.4 786.4,1960.3 787.1,1960.3 787.9,1960.8 788.7,1959.5 789.5,1960.5 790.2,1959.0 791.0,1958.5 791.8,1958.8 792.6,1958.5 793.3,1959.0 794.1,1958.6 794.9,1958.0 795.7,1957.1 796.4,1956.8 797.2,1955.8 798.0,1956.2 798.8,1954.8 799.5,1954.0 800.3,1953.9 801.1,1952.3 801.9,1951.8 802.6,1951.8 803.4,1949.6 804.2,1948.6 805.0,1947.6 805.7,1946.5 806.5,1945.5 807.3,1943.9 808.1,1942.6 808.8,1941.0 809.6,1939.4 810.4,1938.3 811.2,1936.2 811.9,1934.6 812.7,1933.4 813.5,1930.6 814.3,1929.0 815.0,1928.5 815.8,1926.3 816.6,1925.5 817.4,1923.3 818.1,1922.9 818.9,1922.7 819.7,1921.5 820.5,1922.1 821.2,1922.0 822.0,1922.2 822.8,1924.0 823.6,1924.1 824.3,1925.6 825.1,1927.4 825.9,1928.6 826.7,1931.4 827.4,1933.0 828.2,1935.0 829.0,1937.0 829.8,1939.7 830.5,1941.8 831.3,1943.6 832.1,1944.9 832.9,1946.7 833.6,1948.7 834.4,1949.7 835.2,1951.4 836.0,1954.4 836.7,1954.5 837.5,1957.2 838.3,1958.2 839.1,1959.8 839.8,1959.7 840.6,1961.2 841.4,1963.1 842.2,1962.8 842.9,1963.9 843.7,1965.3 844.5,1965.8 845.3,1966.6 846.0,1968.2 846.8,1968.1 847.6,1970.2 848.4,1970.3 849.1,1970.0 849.9,1972.0 850.7,1971.5 851.5,1972.5 852.2,1973.1 853.0,1973.0 853.8,1974.1 854.6,1973.8 855.3,1974.5 856.1,1976.1 856.9,1976.4 857.7,1976.3 858.4,1976.9 859.2,1977.6 860.0,1976.8 860.8,1977.7 861.5,1977.5 862.3,1977.8 863.1,1978.1 863.9,1978.6 864.7,1978.7 865.4,1979.2 866.2,1979.8 867.0,1980.5 867.8,1981.1 868.5,1981.4 869.3,1981.4 870.1,1981.3 870.9,1982.2 871.6,1981.3 872.4,1981.4 873.2,1982.8 874.0,1982.7 874.7,1982.2 875.5,1982.7 876.3,1982.8 877.1,1983.2 877.8,1983.4 878.6,1983.6 879.4,1984.4 880.2,1984.6 880.9,1984.4 881.7,1984.4 882.5,1984.3 883.3,1985.2 884.0,1985.7 884.8,1984.7 885.6,1985.6 886.4,1985.8 887.1,1985.8 887.9,1985.0 888.7,1986.0 889.5,1985.5 890.2,1985.7 891.0,1986.4 891.8,1986.7 892.6,1986.7 893.3,1987.1 894.1,1987.1 894.9,1986.9 895.7,1986.3 896.4,1987.6 897.2,1987.8 898.0,1987.9 898.8,1987.6 899.5,1986.8 900.3,1987.1 901.1,1987.1 901.9,1988.0 902.6,1988.0 903.4,1987.5 904.2,1988.8 905.0,1988.9 905.7,1988.8 906.5,1988.2 907.3,1988.0 908.1,1987.9 908.8,1989.0 909.6,1988.9 910.4,1988.2 911.2,1989.3 911.9,1988.8 912.7,1988.6 913.5,1988.6 914.3,1989.2 915.0,1988.8 915.8,1989.1 916.6,1988.3 917.4,1989.2 918.1,1988.5 918.9,1989.5 919.7,1988.4 920.5,1988.6 921.2,1988.9 922.0,1988.6 922.8,1988.7 923.6,1989.3 924.3,1988.1 925.1,1988.9 925.9,1988.7 926.7,1988.7 927.4,1988.0 928.2,1987.8 929.0,1987.4 929.8,1987.4 930.5,1986.8 931.3,1986.4 932.1,1986.5 932.9,1985.7 933.6,1985.7 934.4,1985.3 935.2,1984.4 936.0,1983.5 936.7,1983.5 937.5,1983.1 938.3,1981.1 939.1,1980.7 939.8,1979.7 940.6,1978.8 941.4,1977.1 942.2,1975.1 942.9,1973.5 943.7,1973.1 944.5,1970.9 945.3,1969.3 946.0,1969.8 946.8,1968.3 947.6,1968.5 948.4,1968.9 949.2,1969.5 949.9,1971.3 950.7,1972.0 951.5,1973.6 952.3,1975.0 953.0,1977.1 953.8,1977.2 954.6,1979.3 955.4,1979.8 956.1,1980.9 956.9,1982.6 957.7,1983.0 958.5,1983.3 959.2,1984.8 960.0,1985.9 960.8,1985.9 961.6,1986.2 962.3,1987.0 963.1,1987.6 963.9,1986.6 964.7,1987.1 965.4,1988.4 966.2,1988.6 967.0,1987.6 967.8,1988.5 968.5,1988.9 969.3,1988.6 970.1,1988.8 970.9,1988.6 971.6,1988.2 972.4,1988.2 973.2,1988.0 974.0,1988.9 974.7,1988.1 975.5,1988.9 976.3,1988.5 977.1,1988.5 977.8,1989.3 978.6,1988.3 979.4,1988.4 980.2,1988.2 980.9,1987.8 981.7,1987.8 982.5,1988.2 983.3,1988.5 984.0,1987.2 984.8,1988.5 985.6,1987.9 986.4,1986.8 987.1,1987.7 987.9,1987.0 988.7,1987.0 989.5,1986.1 990.2,1986.5 991.0,1986.2 991.8,1986.3 992.6,1985.6 993.3,1985.4 994.1,1985.0 994.9,1983.7 995.7,1983.0 996.4,1983.2 997.2,1982.1 998.0,1981.6 998.8,1981.4 999.5,1981.2 1000.3,1980.7 1001.1,1980.2 1001.9,1980.1 1002.6,1978.1 1003.4,1978.2 1004.2,1976.8 1005.0,1977.1 1005.7,1976.1 1006.5,1975.0 1007.3,1974.6 1008.1,1974.5 1008.8,1973.6 1009.6,1973.7 1010.4,1972.1 1011.2,1971.4 1011.9,1971.7 1012.7,1970.5 1013.5,1969.1 1014.3,1969.5 1015.0,1968.2 1015.8,1968.6 1016.6,1967.4 1017.4,1967.1 1018.1,1966.7 1018.9,1965.5 1019.7,1965.7 1020.5,1963.6 1021.2,1963.6 1022.0,1963.9 1022.8,1962.1 1023.6,1962.6 1024.3,1962.7 1025.1,1961.8 1025.9,1961.7 1026.7,1960.0 1027.4,1960.4 1028.2,1960.2 1029.0,1959.6 1029.8,1959.3 1030.5,1959.6 1031.3,1958.4 1032.1,1958.0 1032.9,1958.8 1033.6,1959.2 1034.4,1958.9 1035.2,1958.6 1036.0,1957.9 1036.8,1958.9 1037.5,1957.5 1038.3,1957.8 1039.1,1958.6 1039.9,1958.8 1040.6,1957.9 1041.4,1958.7 1042.2,1957.3 1043.0,1958.0 1043.7,1957.1 1044.5,1957.2 1045.3,1957.0 1046.1,1956.5 1046.8,1956.8 1047.6,1956.7 1048.4,1955.9 1049.2,1956.1 1049.9,1954.5 1050.7,1954.6 1051.5,1953.8 1052.3,1952.6 1053.0,1952.3 1053.8,1949.8 1054.6,1948.9 1055.4,1947.5 1056.1,1945.8 1056.9,1945.4 1057.7,1943.6 1058.5,1942.7 1059.2,1942.4 1060.0,1942.8 1060.8,1944.7 1061.6,1946.1 1062.3,1947.8 1063.1,1949.2 1063.9,1952.2 1064.7,1953.7 1065.4,1956.1 1066.2,1957.6 1067.0,1960.5 1067.8,1962.6 1068.5,1963.6 1069.3,1964.8 1070.1,1965.6 1070.9,1967.1 1071.6,1968.2 1072.4,1969.2 1073.2,1969.9 1074.0,1970.7 1074.7,1972.4 1075.5,1973.5 1076.3,1974.1 1077.1,1974.5 1077.8,1974.3 1078.6,1975.5 1079.4,1977.0 1080.2,1977.9 1080.9,1977.9 1081.7,1978.6 1082.5,1979.4 1083.3,1979.3 1084.0,1980.7 1084.8,1980.7 1085.6,1982.1 1086.4,1982.1 1087.1,1983.0 1087.9,1983.4 1088.7,1984.0 1089.5,1984.4 1090.2,1985.8 1091.0,1986.0 1091.8,1986.1 1092.6,1986.8 1093.3,1988.0 1094.1,1988.3 1094.9,1988.7 1095.7,1989.7 1096.4,1988.9 1097.2,1990.2 1098.0,1990.8 1098.8,1991.1 1099.5,1992.4 1100.3,1993.0 1101.1,1992.6 1101.9,1993.5 1102.6,1994.2 1103.4,1994.7 1104.2,1994.6 1105.0,1995.8 1105.7,1995.6 1106.5,1995.8 1107.3,1997.1 1108.1,1997.6 1108.8,1997.7 1109.6,1998.4 1110.4,1999.6 1111.2,1999.8 1111.9,1999.6 1112.7,2000.9 1113.5,2000.8 1114.3,2001.0 1115.0,2001.9 1115.8,2002.6 1116.6,2003.2 1117.4,2003.3 1118.1,2003.7 1118.9,2003.7 1119.7,2003.5" stroke="#F0649E" stroke-width="2.4" fill="none" stroke-linejoin="round"/>
<polyline points="778.6,1988.5 779.4,1987.9 780.2,1989.2 780.9,1988.3 781.7,1988.6 782.5,1988.7 783.3,1987.8 784.0,1988.7 784.8,1987.8 785.6,1987.3 786.4,1988.0 787.1,1987.5 787.9,1988.2 788.7,1987.2 789.5,1986.5 790.2,1986.1 791.0,1985.9 791.8,1986.4 792.6,1986.4 793.3,1985.0 794.1,1985.1 794.9,1984.9 795.7,1985.1 796.4,1984.8 797.2,1984.1 798.0,1983.2 798.8,1982.4 799.5,1981.2 800.3,1981.1 801.1,1979.6 801.9,1979.0 802.6,1978.9 803.4,1977.5 804.2,1976.7 805.0,1975.1 805.7,1973.6 806.5,1972.6 807.3,1971.3 808.1,1969.3 808.8,1968.8 809.6,1967.3 810.4,1964.4 811.2,1962.7 811.9,1961.8 812.7,1959.9 813.5,1957.3 814.3,1956.1 815.0,1953.9 815.8,1953.3 816.6,1951.4 817.4,1950.0 818.1,1948.5 818.9,1948.1 819.7,1947.8 820.5,1947.5 821.2,1947.5 822.0,1948.1 822.8,1949.7 823.6,1951.3 824.3,1952.6 825.1,1953.9 825.9,1956.0 826.7,1956.9 827.4,1959.2 828.2,1962.1 829.0,1963.2 829.8,1965.5 830.5,1968.8 831.3,1970.0 832.1,1972.0 832.9,1974.3 833.6,1977.0 834.4,1977.5 835.2,1980.6 836.0,1981.4 836.7,1983.4 837.5,1984.7 838.3,1985.6 839.1,1988.3 839.8,1988.3 840.6,1990.6 841.4,1991.8 842.2,1992.2 842.9,1994.1 843.7,1993.6 844.5,1994.7 845.3,1996.1 846.0,1996.3 846.8,1998.3 847.6,1998.6 848.4,1999.7 849.1,1999.6 849.9,1999.9 850.7,2001.9 851.5,2001.4 852.2,2002.3 853.0,2002.4 853.8,2003.7 854.6,2004.0 855.3,2004.1 856.1,2004.3 856.9,2005.2 857.7,2006.4 858.4,2005.8 859.2,2006.4 860.0,2007.4 860.8,2007.8 861.5,2008.5 862.3,2008.6 863.1,2009.3 863.9,2008.5 864.7,2010.1 865.4,2009.0 866.2,2009.4 867.0,2009.7 867.8,2011.1 868.5,2011.0 869.3,2011.9 870.1,2012.3 870.9,2012.5 871.6,2012.3 872.4,2012.1 873.2,2013.3 874.0,2013.2 874.7,2012.6 875.5,2013.4 876.3,2012.8 877.1,2013.1 877.8,2014.3 878.6,2014.6 879.4,2015.1 880.2,2015.1 880.9,2014.3 881.7,2015.5 882.5,2016.1 883.3,2015.8 884.0,2015.7 884.8,2015.6 885.6,2015.4 886.4,2016.5 887.1,2017.2 887.9,2016.0 888.7,2017.3 889.5,2017.6 890.2,2016.9 891.0,2017.9 891.8,2016.9 892.6,2017.3 893.3,2017.9 894.1,2018.5 894.9,2018.1 895.7,2017.6 896.4,2019.1 897.2,2018.6 898.0,2019.1 898.8,2018.3 899.5,2018.6 900.3,2018.4 901.1,2018.6 901.9,2019.2 902.6,2019.2 903.4,2019.7 904.2,2020.1 905.0,2019.4 905.7,2020.5 906.5,2020.1 907.3,2019.7 908.1,2019.6 908.8,2020.9 909.6,2020.5 910.4,2019.6 911.2,2020.7 911.9,2020.3 912.7,2020.4 913.5,2021.0 914.3,2020.2 915.0,2020.3 915.8,2020.8 916.6,2021.4 917.4,2020.2 918.1,2021.4 918.9,2021.2 919.7,2020.4 920.5,2021.2 921.2,2021.1 922.0,2021.2 922.8,2021.0 923.6,2020.6 924.3,2020.9 925.1,2020.4 925.9,2020.7 926.7,2020.6 927.4,2020.0 928.2,2020.1 929.0,2020.2 929.8,2020.2 930.5,2020.3 931.3,2020.4 932.1,2019.5 932.9,2019.7 933.6,2019.1 934.4,2018.7 935.2,2018.2 936.0,2019.1 936.7,2018.7 937.5,2018.0 938.3,2016.5 939.1,2015.8 939.8,2015.1 940.6,2014.7 941.4,2014.1 942.2,2012.6 942.9,2012.4 943.7,2012.0 944.5,2011.5 945.3,2009.8 946.0,2009.0 946.8,2010.0 947.6,2009.3 948.4,2009.4 949.2,2009.6 949.9,2010.5 950.7,2011.2 951.5,2012.0 952.3,2012.9 953.0,2014.2 953.8,2015.4 954.6,2015.4 955.4,2016.2 956.1,2017.0 956.9,2018.1 957.7,2018.5 958.5,2019.3 959.2,2018.4 960.0,2019.7 960.8,2019.2 961.6,2019.9 962.3,2020.1 963.1,2020.4 963.9,2020.1 964.7,2019.9 965.4,2019.9 966.2,2021.5 967.0,2021.6 967.8,2021.0 968.5,2020.5 969.3,2021.7 970.1,2021.2 970.9,2021.2 971.6,2021.5 972.4,2020.8 973.2,2020.9 974.0,2021.9 974.7,2021.8 975.5,2022.2 976.3,2021.3 977.1,2022.1 977.8,2022.0 978.6,2021.4 979.4,2022.0 980.2,2020.8 980.9,2020.6 981.7,2021.7 982.5,2020.6 983.3,2021.2 984.0,2021.5 984.8,2021.4 985.6,2020.6 986.4,2021.4 987.1,2020.2 987.9,2020.9 988.7,2021.4 989.5,2020.7 990.2,2020.2 991.0,2021.2 991.8,2020.6 992.6,2020.5 993.3,2020.5 994.1,2020.3 994.9,2019.5 995.7,2019.7 996.4,2019.0 997.2,2018.3 998.0,2018.1 998.8,2017.8 999.5,2017.2 1000.3,2017.8 1001.1,2017.2 1001.9,2017.7 1002.6,2016.0 1003.4,2016.9 1004.2,2015.7 1005.0,2015.5 1005.7,2015.2 1006.5,2015.9 1007.3,2015.1 1008.1,2014.5 1008.8,2013.7 1009.6,2013.2 1010.4,2013.3 1011.2,2014.0 1011.9,2012.8 1012.7,2012.9 1013.5,2012.9 1014.3,2011.2 1015.0,2011.3 1015.8,2011.2 1016.6,2010.6 1017.4,2010.5 1018.1,2010.7 1018.9,2009.5 1019.7,2010.2 1020.5,2009.2 1021.2,2009.6 1022.0,2008.5 1022.8,2009.3 1023.6,2008.4 1024.3,2008.9 1025.1,2008.9 1025.9,2008.0 1026.7,2006.9 1027.4,2007.3 1028.2,2008.1 1029.0,2007.4 1029.8,2007.5 1030.5,2006.9 1031.3,2007.5 1032.1,2007.3 1032.9,2006.8 1033.6,2006.6 1034.4,2005.8 1035.2,2005.6 1036.0,2005.9 1036.8,2006.7 1037.5,2006.8 1038.3,2006.7 1039.1,2006.8 1039.9,2005.4 1040.6,2005.3 1041.4,2005.6 1042.2,2005.2 1043.0,2006.0 1043.7,2006.4 1044.5,2006.3 1045.3,2004.8 1046.1,2005.5 1046.8,2005.3 1047.6,2005.0 1048.4,2004.3 1049.2,2003.6 1049.9,2004.2 1050.7,2003.7 1051.5,2002.8 1052.3,2001.7 1053.0,2000.1 1053.8,1999.5 1054.6,1998.4 1055.4,1997.3 1056.1,1996.1 1056.9,1995.8 1057.7,1994.9 1058.5,1993.5 1059.2,1994.4 1060.0,1993.2 1060.8,1995.4 1061.6,1995.9 1062.3,1997.3 1063.1,1998.2 1063.9,2000.4 1064.7,2002.2 1065.4,2002.6 1066.2,2003.7 1067.0,2006.0 1067.8,2006.2 1068.5,2007.0 1069.3,2008.5 1070.1,2008.8 1070.9,2009.6 1071.6,2010.4 1072.4,2010.7 1073.2,2012.5 1074.0,2012.6 1074.7,2013.3 1075.5,2013.2 1076.3,2014.4 1077.1,2015.2 1077.8,2015.7 1078.6,2014.5 1079.4,2015.4 1080.2,2015.4 1080.9,2016.4 1081.7,2017.0 1082.5,2017.3 1083.3,2017.2 1084.0,2018.6 1084.8,2018.4 1085.6,2019.3 1086.4,2018.7 1087.1,2019.4 1087.9,2018.8 1088.7,2019.8 1089.5,2020.3 1090.2,2019.9 1091.0,2020.9 1091.8,2020.4 1092.6,2021.2 1093.3,2021.7 1094.1,2021.8 1094.9,2021.6 1095.7,2022.0 1096.4,2022.5 1097.2,2023.3 1098.0,2023.2 1098.8,2023.1 1099.5,2023.6 1100.3,2023.8 1101.1,2023.8 1101.9,2024.8 1102.6,2024.9 1103.4,2025.0 1104.2,2024.7 1105.0,2026.4 1105.7,2025.3 1106.5,2025.7 1107.3,2026.2 1108.1,2027.3 1108.8,2027.8 1109.6,2027.7 1110.4,2027.1 1111.2,2028.4 1111.9,2027.3 1112.7,2027.7 1113.5,2027.9 1114.3,2028.9 1115.0,2029.2 1115.8,2029.5 1116.6,2030.2 1117.4,2030.1 1118.1,2030.3 1118.9,2029.7 1119.7,2031.1" stroke="#F7A8CC" stroke-width="2.4" fill="none" stroke-linejoin="round"/>
<polyline points="778.6,2014.3 779.4,2014.2 780.2,2012.9 780.9,2013.9 781.7,2013.5 782.5,2013.5 783.3,2012.9 784.0,2013.6 784.8,2013.6 785.6,2013.4 786.4,2012.5 787.1,2013.0 787.9,2011.8 788.7,2012.5 789.5,2011.3 790.2,2011.0 791.0,2010.9 791.8,2011.4 792.6,2011.6 793.3,2010.4 794.1,2010.3 794.9,2009.8 795.7,2009.7 796.4,2009.4 797.2,2008.6 798.0,2007.2 798.8,2006.1 799.5,2006.7 800.3,2004.9 801.1,2004.9 801.9,2004.1 802.6,2002.0 803.4,2001.0 804.2,2000.2 805.0,1999.7 805.7,1998.4 806.5,1997.2 807.3,1994.5 808.1,1993.5 808.8,1992.2 809.6,1989.7 810.4,1988.2 811.2,1985.8 811.9,1984.9 812.7,1982.3 813.5,1980.4 814.3,1978.8 815.0,1976.4 815.8,1975.5 816.6,1973.4 817.4,1972.1 818.1,1971.4 818.9,1970.6 819.7,1970.2 820.5,1970.3 821.2,1970.4 822.0,1970.4 822.8,1971.7 823.6,1973.3 824.3,1973.5 825.1,1976.3 825.9,1978.0 826.7,1979.9 827.4,1981.7 828.2,1984.3 829.0,1987.3 829.8,1989.9 830.5,1992.4 831.3,1994.2 832.1,1996.6 832.9,1998.7 833.6,1999.7 834.4,2002.5 835.2,2004.6 836.0,2006.2 836.7,2007.1 837.5,2009.4 838.3,2010.4 839.1,2011.9 839.8,2013.8 840.6,2015.0 841.4,2015.3 842.2,2017.3 842.9,2017.5 843.7,2018.7 844.5,2020.7 845.3,2021.8 846.0,2021.6 846.8,2023.3 847.6,2023.2 848.4,2024.4 849.1,2024.9 849.9,2025.2 850.7,2026.4 851.5,2027.3 852.2,2028.4 853.0,2027.7 853.8,2028.6 854.6,2028.7 855.3,2029.6 856.1,2030.2 856.9,2031.5 857.7,2032.2 858.4,2031.5 859.2,2032.4 860.0,2032.8 860.8,2033.2 861.5,2034.4 862.3,2034.7 863.1,2033.7 863.9,2034.6 864.7,2035.2 865.4,2035.7 866.2,2035.8 867.0,2036.6 867.8,2035.8 868.5,2036.7 869.3,2037.6 870.1,2036.8 870.9,2037.1 871.6,2038.1 872.4,2037.6 873.2,2038.6 874.0,2038.2 874.7,2038.5 875.5,2039.0 876.3,2040.0 877.1,2039.9 877.8,2040.2 878.6,2040.4 879.4,2040.3 880.2,2041.4 880.9,2041.1 881.7,2041.3 882.5,2040.6 883.3,2041.1 884.0,2041.9 884.8,2042.7 885.6,2042.5 886.4,2041.6 887.1,2043.0 887.9,2042.2 888.7,2043.0 889.5,2042.6 890.2,2042.5 891.0,2043.8 891.8,2043.5 892.6,2043.9 893.3,2044.2 894.1,2044.2 894.9,2044.1 895.7,2044.1 896.4,2044.5 897.2,2044.2 898.0,2044.4 898.8,2045.4 899.5,2044.8 900.3,2045.5 901.1,2045.6 901.9,2045.3 902.6,2046.0 903.4,2045.4 904.2,2045.0 905.0,2046.4 905.7,2046.4 906.5,2046.4 907.3,2046.8 908.1,2046.1 908.8,2046.2 909.6,2046.6 910.4,2047.1 911.2,2046.2 911.9,2047.1 912.7,2047.4 913.5,2046.4 914.3,2046.1 915.0,2046.4 915.8,2047.2 916.6,2046.5 917.4,2047.8 918.1,2046.4 918.9,2047.7 919.7,2046.9 920.5,2047.8 921.2,2046.9 922.0,2046.5 922.8,2047.4 923.6,2046.8 924.3,2047.8 925.1,2047.6 925.9,2046.6 926.7,2046.9 927.4,2047.0 928.2,2047.2 929.0,2046.3 929.8,2046.7 930.5,2046.5 931.3,2046.4 932.1,2046.2 932.9,2045.8 933.6,2045.4 934.4,2045.2 935.2,2045.8 936.0,2044.7 936.7,2043.6 937.5,2043.6 938.3,2043.6 939.1,2042.9 939.8,2041.3 940.6,2041.1 941.4,2040.3 942.2,2040.1 942.9,2038.3 943.7,2038.5 944.5,2037.6 945.3,2035.7 946.0,2035.9 946.8,2035.7 947.6,2035.9 948.4,2036.5 949.2,2035.9 949.9,2037.5 950.7,2037.0 951.5,2039.1 952.3,2039.1 953.0,2039.6 953.8,2041.6 954.6,2042.6 955.4,2042.8 956.1,2043.7 956.9,2043.6 957.7,2043.9 958.5,2045.0 959.2,2045.6 960.0,2045.1 960.8,2045.6 961.6,2045.7 962.3,2045.9 963.1,2047.1 963.9,2045.9 964.7,2046.0 965.4,2046.4 966.2,2047.5 967.0,2047.3 967.8,2047.7 968.5,2047.7 969.3,2048.0 970.1,2047.6 970.9,2046.7 971.6,2046.9 972.4,2047.4 973.2,2047.0 974.0,2047.3 974.7,2047.2 975.5,2048.4 976.3,2048.3 977.1,2047.9 977.8,2047.4 978.6,2047.4 979.4,2046.8 980.2,2047.4 980.9,2046.9 981.7,2047.5 982.5,2047.9 983.3,2047.2 984.0,2047.6 984.8,2047.7 985.6,2047.8 986.4,2047.0 987.1,2046.6 987.9,2047.6 988.7,2046.9 989.5,2046.4 990.2,2046.9 991.0,2047.0 991.8,2047.0 992.6,2045.9 993.3,2045.5 994.1,2045.3 994.9,2045.1 995.7,2044.7 996.4,2045.6 997.2,2044.9 998.0,2043.7 998.8,2043.5 999.5,2043.3 1000.3,2044.3 1001.1,2042.9 1001.9,2043.4 1002.6,2042.1 1003.4,2041.7 1004.2,2042.6 1005.0,2040.9 1005.7,2041.2 1006.5,2040.9 1007.3,2040.3 1008.1,2040.6 1008.8,2040.4 1009.6,2039.0 1010.4,2038.8 1011.2,2038.7 1011.9,2038.4 1012.7,2038.3 1013.5,2038.2 1014.3,2037.1 1015.0,2037.8 1015.8,2036.6 1016.6,2035.6 1017.4,2035.9 1018.1,2035.8 1018.9,2034.9 1019.7,2035.7 1020.5,2035.0 1021.2,2034.6 1022.0,2033.9 1022.8,2033.4 1023.6,2033.4 1024.3,2033.7 1025.1,2033.6 1025.9,2033.4 1026.7,2032.1 1027.4,2033.1 1028.2,2032.8 1029.0,2032.6 1029.8,2032.2 1030.5,2032.6 1031.3,2032.6 1032.1,2031.9 1032.9,2031.6 1033.6,2031.7 1034.4,2032.0 1035.2,2031.8 1036.0,2031.9 1036.8,2031.1 1037.5,2031.6 1038.3,2030.9 1039.1,2031.4 1039.9,2030.5 1040.6,2031.3 1041.4,2031.5 1042.2,2031.8 1043.0,2031.0 1043.7,2031.5 1044.5,2030.3 1045.3,2029.9 1046.1,2030.6 1046.8,2030.0 1047.6,2029.9 1048.4,2029.9 1049.2,2029.8 1049.9,2029.6 1050.7,2028.2 1051.5,2028.0 1052.3,2027.4 1053.0,2026.7 1053.8,2025.7 1054.6,2024.5 1055.4,2024.0 1056.1,2021.7 1056.9,2021.9 1057.7,2020.1 1058.5,2019.6 1059.2,2020.2 1060.0,2020.1 1060.8,2020.6 1061.6,2021.2 1062.3,2022.4 1063.1,2024.2 1063.9,2025.4 1064.7,2027.8 1065.4,2028.3 1066.2,2029.9 1067.0,2031.1 1067.8,2032.6 1068.5,2033.8 1069.3,2034.4 1070.1,2034.5 1070.9,2035.1 1071.6,2036.4 1072.4,2036.8 1073.2,2037.9 1074.0,2037.6 1074.7,2038.9 1075.5,2038.9 1076.3,2039.2 1077.1,2039.5 1077.8,2040.8 1078.6,2040.8 1079.4,2041.3 1080.2,2042.1 1080.9,2041.2 1081.7,2042.4 1082.5,2042.4 1083.3,2042.7 1084.0,2044.0 1084.8,2043.4 1085.6,2044.0 1086.4,2044.3 1087.1,2044.2 1087.9,2044.8 1088.7,2044.6 1089.5,2045.7 1090.2,2046.3 1091.0,2047.2 1091.8,2047.4 1092.6,2046.7 1093.3,2048.0 1094.1,2047.0 1094.9,2047.4 1095.7,2048.3 1096.4,2048.8 1097.2,2049.0 1098.0,2048.4 1098.8,2049.3 1099.5,2049.7 1100.3,2049.8 1101.1,2050.7 1101.9,2051.0 1102.6,2050.2 1103.4,2051.1 1104.2,2051.7 1105.0,2052.2 1105.7,2052.2 1106.5,2053.0 1107.3,2052.9 1108.1,2052.6 1108.8,2053.6 1109.6,2053.5 1110.4,2053.7 1111.2,2054.0 1111.9,2054.5 1112.7,2054.7 1113.5,2054.5 1114.3,2055.3 1115.0,2055.0 1115.8,2055.7 1116.6,2056.3 1117.4,2055.9 1118.1,2055.5 1118.9,2057.0 1119.7,2056.1" stroke="#4A148C" stroke-width="2.4" fill="none" stroke-linejoin="round"/>
<polyline points="778.6,2042.5 779.4,2042.2 780.2,2042.7 780.9,2042.6 781.7,2043.2 782.5,2042.0 783.3,2042.3 784.0,2042.8 784.8,2041.4 785.6,2041.9 786.4,2041.3 787.1,2042.1 787.9,2041.1 788.7,2040.7 789.5,2040.3 790.2,2040.2 791.0,2040.7 791.8,2039.4 792.6,2038.9 793.3,2038.9 794.1,2038.1 794.9,2038.7 795.7,2038.3 796.4,2037.3 797.2,2036.4 798.0,2035.3 798.8,2035.6 799.5,2034.1 800.3,2033.7 801.1,2033.5 801.9,2031.4 802.6,2031.0 803.4,2029.5 804.2,2028.4 805.0,2026.9 805.7,2026.0 806.5,2024.2 807.3,2021.8 808.1,2021.4 808.8,2018.7 809.6,2017.1 810.4,2015.3 811.2,2013.5 811.9,2011.8 812.7,2008.7 813.5,2007.1 814.3,2005.4 815.0,2003.3 815.8,2001.1 816.6,2000.4 817.4,1999.2 818.1,1997.6 818.9,1996.6 819.7,1995.4 820.5,1995.8 821.2,1996.5 822.0,1996.4 822.8,1997.5 823.6,1998.8 824.3,2000.2 825.1,2002.5 825.9,2004.1 826.7,2007.3 827.4,2009.5 828.2,2011.0 829.0,2013.1 829.8,2015.4 830.5,2019.1 831.3,2020.8 832.1,2022.6 832.9,2024.7 833.6,2028.0 834.4,2029.2 835.2,2032.2 836.0,2033.2 836.7,2035.4 837.5,2036.6 838.3,2038.7 839.1,2039.3 839.8,2040.9 840.6,2042.1 841.4,2043.2 842.2,2045.2 842.9,2047.0 843.7,2046.5 844.5,2048.9 845.3,2049.0 846.0,2049.7 846.8,2050.3 847.6,2051.7 848.4,2052.1 849.1,2053.5 849.9,2054.1 850.7,2054.3 851.5,2056.2 852.2,2056.3 853.0,2057.2 853.8,2056.9 854.6,2058.3 855.3,2058.8 856.1,2059.4 856.9,2059.0 857.7,2060.7 858.4,2060.3 859.2,2060.2 860.0,2061.9 860.8,2061.4 861.5,2062.7 862.3,2062.0 863.1,2062.2 863.9,2063.3 864.7,2063.7 865.4,2064.2 866.2,2064.5 867.0,2064.4 867.8,2065.3 868.5,2065.3 869.3,2065.0 870.1,2066.0 870.9,2065.9 871.6,2066.5 872.4,2066.1 873.2,2066.5 874.0,2066.8 874.7,2067.7 875.5,2066.9 876.3,2067.8 877.1,2068.0 877.8,2069.0 878.6,2068.1 879.4,2068.9 880.2,2069.6 880.9,2069.2 881.7,2070.3 882.5,2069.3 883.3,2069.9 884.0,2069.8 884.8,2070.0 885.6,2069.8 886.4,2071.1 887.1,2071.1 887.9,2071.6 888.7,2071.2 889.5,2070.9 890.2,2071.8 891.0,2072.4 891.8,2072.0 892.6,2071.6 893.3,2072.2 894.1,2072.9 894.9,2073.0 895.7,2072.8 896.4,2073.1 897.2,2072.1 898.0,2072.4 898.8,2072.4 899.5,2073.2 900.3,2073.4 901.1,2072.7 901.9,2074.1 902.6,2073.8 903.4,2074.2 904.2,2074.7 905.0,2074.4 905.7,2074.5 906.5,2074.4 907.3,2074.3 908.1,2074.8 908.8,2074.9 909.6,2074.2 910.4,2075.0 911.2,2074.0 911.9,2074.7 912.7,2075.4 913.5,2074.3 914.3,2075.4 915.0,2074.8 915.8,2075.3 916.6,2074.4 917.4,2074.2 918.1,2074.6 918.9,2075.1 919.7,2075.6 920.5,2075.1 921.2,2075.0 922.0,2074.8 922.8,2075.0 923.6,2075.3 924.3,2075.5 925.1,2074.6 925.9,2075.1 926.7,2074.5 927.4,2074.3 928.2,2073.9 929.0,2074.3 929.8,2074.5 930.5,2074.2 931.3,2074.0 932.1,2074.3 932.9,2073.6 933.6,2073.8 934.4,2073.3 935.2,2073.6 936.0,2072.3 936.7,2072.1 937.5,2072.3 938.3,2071.0 939.1,2071.3 939.8,2070.0 940.6,2069.1 941.4,2069.1 942.2,2068.4 942.9,2067.2 943.7,2066.5 944.5,2067.0 945.3,2065.6 946.0,2065.5 946.8,2064.8 947.6,2065.0 948.4,2064.7 949.2,2064.9 949.9,2066.5 950.7,2066.8 951.5,2066.9 952.3,2067.7 953.0,2068.6 953.8,2068.5 954.6,2070.0 955.4,2071.1 956.1,2071.1 956.9,2071.2 957.7,2071.0 958.5,2072.0 959.2,2072.4 960.0,2072.8 960.8,2073.4 961.6,2072.6 962.3,2072.5 963.1,2074.0 963.9,2073.4 964.7,2074.1 965.4,2073.7 966.2,2074.3 967.0,2073.9 967.8,2074.1 968.5,2074.0 969.3,2074.6 970.1,2074.3 970.9,2074.6 971.6,2073.7 972.4,2073.4 973.2,2073.4 974.0,2073.8 974.7,2073.9 975.5,2074.1 976.3,2073.8 977.1,2074.5 977.8,2073.6 978.6,2072.9 979.4,2073.7 980.2,2073.9 980.9,2073.2 981.7,2074.0 982.5,2073.0 983.3,2074.1 984.0,2073.3 984.8,2074.1 985.6,2073.5 986.4,2073.6 987.1,2072.7 987.9,2073.7 988.7,2073.8 989.5,2072.3 990.2,2072.9 991.0,2072.1 991.8,2073.1 992.6,2072.9 993.3,2072.8 994.1,2072.4 994.9,2071.6 995.7,2071.8 996.4,2070.7 997.2,2070.6 998.0,2071.0 998.8,2071.1 999.5,2070.2 1000.3,2069.5 1001.1,2069.3 1001.9,2069.5 1002.6,2069.3 1003.4,2069.9 1004.2,2069.2 1005.0,2069.3 1005.7,2068.8 1006.5,2068.4 1007.3,2068.2 1008.1,2067.1 1008.8,2067.7 1009.6,2067.1 1010.4,2066.9 1011.2,2066.4 1011.9,2066.1 1012.7,2066.4 1013.5,2066.1 1014.3,2064.8 1015.0,2065.6 1015.8,2064.9 1016.6,2063.8 1017.4,2064.7 1018.1,2064.6 1018.9,2063.7 1019.7,2063.4 1020.5,2062.9 1021.2,2062.6 1022.0,2062.9 1022.8,2062.6 1023.6,2062.7 1024.3,2062.5 1025.1,2061.6 1025.9,2062.3 1026.7,2061.7 1027.4,2061.5 1028.2,2061.0 1029.0,2061.5 1029.8,2061.5 1030.5,2061.6 1031.3,2061.5 1032.1,2060.7 1032.9,2060.9 1033.6,2061.0 1034.4,2060.6 1035.2,2059.9 1036.0,2061.1 1036.8,2061.3 1037.5,2060.6 1038.3,2061.3 1039.1,2059.9 1039.9,2060.8 1040.6,2060.4 1041.4,2060.8 1042.2,2060.3 1043.0,2060.8 1043.7,2059.9 1044.5,2059.9 1045.3,2060.0 1046.1,2059.9 1046.8,2059.7 1047.6,2060.4 1048.4,2059.4 1049.2,2059.2 1049.9,2058.2 1050.7,2058.4 1051.5,2058.3 1052.3,2057.7 1053.0,2057.4 1053.8,2056.1 1054.6,2054.9 1055.4,2054.9 1056.1,2054.2 1056.9,2053.3 1057.7,2051.2 1058.5,2051.7 1059.2,2050.7 1060.0,2051.1 1060.8,2052.5 1061.6,2053.5 1062.3,2054.2 1063.1,2054.9 1063.9,2056.4 1064.7,2057.4 1065.4,2058.4 1066.2,2059.4 1067.0,2061.6 1067.8,2062.5 1068.5,2062.1 1069.3,2063.9 1070.1,2064.4 1070.9,2065.0 1071.6,2064.8 1072.4,2065.8 1073.2,2066.7 1074.0,2067.0 1074.7,2067.8 1075.5,2066.8 1076.3,2067.7 1077.1,2068.1 1077.8,2068.6 1078.6,2069.8 1079.4,2070.1 1080.2,2070.3 1080.9,2070.3 1081.7,2070.8 1082.5,2071.2 1083.3,2070.5 1084.0,2071.5 1084.8,2072.4 1085.6,2071.3 1086.4,2072.1 1087.1,2072.2 1087.9,2073.3 1088.7,2073.0 1089.5,2072.7 1090.2,2073.4 1091.0,2074.1 1091.8,2074.2 1092.6,2073.6 1093.3,2075.2 1094.1,2074.6 1094.9,2074.4 1095.7,2075.6 1096.4,2076.0 1097.2,2076.1 1098.0,2075.6 1098.8,2075.7 1099.5,2077.1 1100.3,2077.0 1101.1,2076.4 1101.9,2077.6 1102.6,2077.1 1103.4,2077.9 1104.2,2078.5 1105.0,2078.0 1105.7,2078.5 1106.5,2079.3 1107.3,2078.8 1108.1,2079.6 1108.8,2078.9 1109.6,2080.2 1110.4,2079.7 1111.2,2080.2 1111.9,2081.3 1112.7,2081.2 1113.5,2080.5 1114.3,2081.7 1115.0,2081.3 1115.8,2081.6 1116.6,2081.5 1117.4,2081.5 1118.1,2083.0 1118.9,2082.3 1119.7,2082.2" stroke="#1565D0" stroke-width="2.4" fill="none" stroke-linejoin="round"/>
<polyline points="778.6,2068.5 779.4,2067.4 780.2,2067.8 780.9,2067.2 781.7,2067.0 782.5,2068.5 783.3,2067.6 784.0,2067.7 784.8,2066.8 785.6,2067.0 786.4,2066.3 787.1,2067.4 787.9,2065.8 788.7,2067.1 789.5,2066.9 790.2,2065.4 791.0,2065.2 791.8,2064.7 792.6,2064.1 793.3,2064.4 794.1,2064.1 794.9,2064.2 795.7,2063.0 796.4,2061.9 797.2,2061.7 798.0,2060.6 798.8,2059.7 799.5,2059.5 800.3,2059.4 801.1,2057.3 801.9,2057.7 802.6,2056.5 803.4,2055.6 804.2,2053.7 805.0,2051.9 805.7,2051.3 806.5,2048.8 807.3,2047.8 808.1,2046.6 808.8,2044.4 809.6,2042.9 810.4,2040.0 811.2,2039.1 811.9,2035.9 812.7,2034.2 813.5,2032.5 814.3,2031.1 815.0,2027.9 815.8,2026.3 816.6,2025.5 817.4,2023.2 818.1,2022.3 818.9,2021.1 819.7,2021.9 820.5,2021.4 821.2,2021.0 822.0,2022.5 822.8,2023.3 823.6,2023.7 824.3,2024.9 825.1,2027.7 825.9,2029.6 826.7,2031.3 827.4,2033.2 828.2,2036.0 829.0,2039.4 829.8,2041.4 830.5,2043.8 831.3,2046.2 832.1,2047.8 832.9,2051.0 833.6,2052.4 834.4,2055.2 835.2,2056.6 836.0,2058.6 836.7,2060.6 837.5,2062.4 838.3,2063.6 839.1,2065.4 839.8,2066.0 840.6,2067.1 841.4,2068.3 842.2,2069.7 842.9,2071.6 843.7,2071.8 844.5,2072.6 845.3,2073.3 846.0,2075.3 846.8,2076.5 847.6,2076.5 848.4,2076.8 849.1,2078.5 849.9,2079.4 850.7,2079.3 851.5,2080.1 852.2,2080.5 853.0,2081.4 853.8,2082.1 854.6,2083.1 855.3,2082.7 856.1,2084.2 856.9,2084.1 857.7,2084.3 858.4,2085.3 859.2,2084.8 860.0,2085.7 860.8,2086.7 861.5,2086.9 862.3,2087.3 863.1,2087.1 863.9,2087.7 864.7,2088.2 865.4,2087.6 866.2,2089.1 867.0,2089.1 867.8,2088.9 868.5,2089.3 869.3,2090.1 870.1,2088.8 870.9,2089.4 871.6,2090.6 872.4,2089.4 873.2,2090.6 874.0,2090.1 874.7,2090.0 875.5,2089.7 876.3,2090.1 877.1,2090.2 877.8,2090.5 878.6,2090.6 879.4,2090.1 880.2,2089.1 880.9,2089.5 881.7,2089.9 882.5,2088.6 883.3,2089.2 884.0,2088.5 884.8,2088.8 885.6,2089.5 886.4,2090.3 887.1,2090.3 887.9,2090.2 888.7,2091.3 889.5,2090.9 890.2,2092.3 891.0,2092.4 891.8,2092.3 892.6,2093.0 893.3,2092.8 894.1,2093.3 894.9,2093.6 895.7,2094.1 896.4,2093.2 897.2,2094.6 898.0,2094.5 898.8,2093.6 899.5,2094.8 900.3,2093.9 901.1,2094.9 901.9,2093.9 902.6,2095.0 903.4,2095.1 904.2,2094.7 905.0,2094.9 905.7,2095.1 906.5,2095.0 907.3,2094.5 908.1,2095.3 908.8,2095.5 909.6,2095.0 910.4,2095.5 911.2,2094.8 911.9,2094.9 912.7,2095.3 913.5,2094.8 914.3,2095.6 915.0,2095.6 915.8,2094.7 916.6,2095.0 917.4,2095.8 918.1,2095.2 918.9,2094.4 919.7,2095.7 920.5,2094.7 921.2,2095.1 922.0,2095.8 922.8,2095.5 923.6,2095.5 924.3,2094.3 925.1,2094.6 925.9,2094.4 926.7,2095.7 927.4,2094.4 928.2,2094.2 929.0,2095.0 929.8,2095.0 930.5,2094.8 931.3,2094.3 932.1,2094.7 932.9,2094.1 933.6,2092.9 934.4,2093.9 935.2,2092.3 936.0,2093.6 936.7,2092.5 937.5,2092.2 938.3,2091.1 939.1,2091.5 939.8,2090.1 940.6,2089.8 941.4,2088.3 942.2,2088.5 942.9,2088.0 943.7,2086.9 944.5,2086.5 945.3,2085.6 946.0,2085.1 946.8,2085.3 947.6,2084.3 948.4,2084.8 949.2,2085.9 949.9,2086.4 950.7,2087.4 951.5,2087.9 952.3,2088.6 953.0,2089.3 953.8,2089.4 954.6,2091.0 955.4,2091.7 956.1,2091.3 956.9,2092.1 957.7,2092.6 958.5,2093.5 959.2,2092.9 960.0,2093.3 960.8,2094.8 961.6,2094.8 962.3,2094.5 963.1,2094.3 963.9,2094.2 964.7,2094.6 965.4,2095.9 966.2,2094.7 967.0,2096.1 967.8,2095.1 968.5,2096.1 969.3,2095.3 970.1,2096.1 970.9,2096.2 971.6,2095.9 972.4,2095.4 973.2,2095.9 974.0,2095.5 974.7,2096.6 975.5,2095.8 976.3,2096.0 977.1,2095.6 977.8,2095.7 978.6,2096.4 979.4,2096.4 980.2,2096.2 980.9,2096.4 981.7,2096.4 982.5,2094.8 983.3,2095.2 984.0,2094.8 984.8,2095.9 985.6,2094.7 986.4,2095.7 987.1,2094.6 987.9,2094.5 988.7,2094.6 989.5,2095.3 990.2,2094.1 991.0,2093.9 991.8,2094.6 992.6,2093.5 993.3,2093.8 994.1,2093.4 994.9,2093.5 995.7,2092.8 996.4,2092.1 997.2,2091.7 998.0,2092.5 998.8,2091.2 999.5,2090.9 1000.3,2091.0 1001.1,2091.3 1001.9,2090.0 1002.6,2089.5 1003.4,2089.2 1004.2,2089.0 1005.0,2089.3 1005.7,2088.4 1006.5,2087.9 1007.3,2087.2 1008.1,2086.8 1008.8,2086.6 1009.6,2086.8 1010.4,2086.5 1011.2,2086.0 1011.9,2084.6 1012.7,2085.4 1013.5,2084.0 1014.3,2083.6 1015.0,2083.5 1015.8,2082.5 1016.6,2082.8 1017.4,2083.1 1018.1,2081.4 1018.9,2082.5 1019.7,2081.2 1020.5,2080.6 1021.2,2080.8 1022.0,2079.8 1022.8,2079.9 1023.6,2080.3 1024.3,2079.2 1025.1,2079.7 1025.9,2078.7 1026.7,2079.2 1027.4,2079.0 1028.2,2078.6 1029.0,2078.2 1029.8,2077.7 1030.5,2077.3 1031.3,2077.8 1032.1,2077.5 1032.9,2078.2 1033.6,2076.9 1034.4,2076.8 1035.2,2077.2 1036.0,2077.5 1036.8,2077.8 1037.5,2077.6 1038.3,2077.0 1039.1,2076.7 1039.9,2077.6 1040.6,2076.7 1041.4,2077.8 1042.2,2077.5 1043.0,2077.8 1043.7,2077.0 1044.5,2077.0 1045.3,2077.1 1046.1,2076.1 1046.8,2077.1 1047.6,2076.5 1048.4,2076.3 1049.2,2075.0 1049.9,2074.9 1050.7,2074.2 1051.5,2073.9 1052.3,2073.3 1053.0,2073.3 1053.8,2071.7 1054.6,2070.8 1055.4,2069.5 1056.1,2068.4 1056.9,2066.8 1057.7,2066.9 1058.5,2066.0 1059.2,2065.4 1060.0,2066.6 1060.8,2066.2 1061.6,2068.7 1062.3,2069.6 1063.1,2071.6 1063.9,2072.7 1064.7,2073.7 1065.4,2075.8 1066.2,2076.8 1067.0,2078.6 1067.8,2078.9 1068.5,2081.1 1069.3,2082.2 1070.1,2082.8 1070.9,2083.2 1071.6,2084.5 1072.4,2084.8 1073.2,2086.4 1074.0,2086.9 1074.7,2086.8 1075.5,2087.9 1076.3,2087.6 1077.1,2089.2 1077.8,2089.3 1078.6,2088.7 1079.4,2090.2 1080.2,2090.2 1080.9,2091.1 1081.7,2090.7 1082.5,2091.5 1083.3,2092.9 1084.0,2092.7 1084.8,2093.0 1085.6,2093.7 1086.4,2093.2 1087.1,2093.7 1087.9,2094.5 1088.7,2094.8 1089.5,2095.4 1090.2,2095.9 1091.0,2095.5 1091.8,2096.3 1092.6,2097.5 1093.3,2097.7 1094.1,2097.9 1094.9,2097.4 1095.7,2098.7 1096.4,2098.2 1097.2,2098.7 1098.0,2099.2 1098.8,2100.7 1099.5,2100.1 1100.3,2100.4 1101.1,2100.4 1101.9,2101.2 1102.6,2102.2 1103.4,2101.8 1104.2,2102.3 1105.0,2102.2 1105.7,2102.6 1106.5,2102.8 1107.3,2104.3 1108.1,2104.7 1108.8,2104.4 1109.6,2104.9 1110.4,2104.9 1111.2,2105.8 1111.9,2105.3 1112.7,2105.8 1113.5,2106.8 1114.3,2106.5 1115.0,2107.8 1115.8,2107.3 1116.6,2106.8 1117.4,2107.9 1118.1,2108.8 1118.9,2108.0 1119.7,2108.7" stroke="#AA6CF5" stroke-width="2.4" fill="none" stroke-linejoin="round"/>
<polyline points="778.6,2101.6 779.4,2102.0 780.2,2100.5 780.9,2101.4 781.7,2100.3 782.5,2101.1 783.3,2101.3 784.0,2100.6 784.8,2099.4 785.6,2099.6 786.4,2099.7 787.1,2100.1 787.9,2099.0 788.7,2098.4 789.5,2098.9 790.2,2098.5 791.0,2098.5 791.8,2097.5 792.6,2097.3 793.3,2097.0 794.1,2095.3 794.9,2094.5 795.7,2095.1 796.4,2094.2 797.2,2093.8 798.0,2093.0 798.8,2091.1 799.5,2090.4 800.3,2090.4 801.1,2088.9 801.9,2088.1 802.6,2087.2 803.4,2084.5 804.2,2083.5 805.0,2081.8 805.7,2080.5 806.5,2079.1 807.3,2078.2 808.1,2075.2 808.8,2073.7 809.6,2071.6 810.4,2070.4 811.2,2067.7 811.9,2065.1 812.7,2062.4 813.5,2060.4 814.3,2058.0 815.0,2057.3 815.8,2054.2 816.6,2052.3 817.4,2050.5 818.1,2049.4 818.9,2049.1 819.7,2048.4 820.5,2048.3 821.2,2048.7 822.0,2048.4 822.8,2050.0 823.6,2051.2 824.3,2053.4 825.1,2054.4 825.9,2056.2 826.7,2058.4 827.4,2061.6 828.2,2064.2 829.0,2065.8 829.8,2069.2 830.5,2071.8 831.3,2073.3 832.1,2075.2 832.9,2078.7 833.6,2079.8 834.4,2083.1 835.2,2084.1 836.0,2086.1 836.7,2087.8 837.5,2088.9 838.3,2090.9 839.1,2092.0 839.8,2094.1 840.6,2094.8 841.4,2096.8 842.2,2097.9 842.9,2099.7 843.7,2100.5 844.5,2101.2 845.3,2102.5 846.0,2102.7 846.8,2104.2 847.6,2104.7 848.4,2105.8 849.1,2106.6 849.9,2107.0 850.7,2108.0 851.5,2107.2 852.2,2109.3 853.0,2109.1 853.8,2109.7 854.6,2109.8 855.3,2110.4 856.1,2111.3 856.9,2111.4 857.7,2111.3 858.4,2112.2 859.2,2112.4 860.0,2114.1 860.8,2113.0 861.5,2114.4 862.3,2114.8 863.1,2115.5 863.9,2115.4 864.7,2115.7 865.4,2115.8 866.2,2116.6 867.0,2116.8 867.8,2116.5 868.5,2117.5 869.3,2117.2 870.1,2117.2 870.9,2117.2 871.6,2118.0 872.4,2118.1 873.2,2117.9 874.0,2118.4 874.7,2118.6 875.5,2119.5 876.3,2118.5 877.1,2118.6 877.8,2119.5 878.6,2119.8 879.4,2119.1 880.2,2120.0 880.9,2119.6 881.7,2119.9 882.5,2121.0 883.3,2120.0 884.0,2120.4 884.8,2121.0 885.6,2121.7 886.4,2121.8 887.1,2121.5 887.9,2121.7 888.7,2122.3 889.5,2122.0 890.2,2122.5 891.0,2122.1 891.8,2121.7 892.6,2123.1 893.3,2122.1 894.1,2122.8 894.9,2123.1 895.7,2122.9 896.4,2122.8 897.2,2122.4 898.0,2123.1 898.8,2122.7 899.5,2123.5 900.3,2123.4 901.1,2122.9 901.9,2123.5 902.6,2123.7 903.4,2123.5 904.2,2124.7 905.0,2123.7 905.7,2123.5 906.5,2123.5 907.3,2123.6 908.1,2124.3 908.8,2123.7 909.6,2124.4 910.4,2125.2 911.2,2124.2 911.9,2125.0 912.7,2124.8 913.5,2124.3 914.3,2124.7 915.0,2124.1 915.8,2124.8 916.6,2124.3 917.4,2124.4 918.1,2124.9 918.9,2124.8 919.7,2124.5 920.5,2124.5 921.2,2124.7 922.0,2125.8 922.8,2125.8 923.6,2124.8 924.3,2124.3 925.1,2125.0 925.9,2125.6 926.7,2124.5 927.4,2125.6 928.2,2124.7 929.0,2124.3 929.8,2123.9 930.5,2124.1 931.3,2124.4 932.1,2123.8 932.9,2123.8 933.6,2124.1 934.4,2123.5 935.2,2122.6 936.0,2122.3 936.7,2123.1 937.5,2121.6 938.3,2121.5 939.1,2121.5 939.8,2121.3 940.6,2120.0 941.4,2119.6 942.2,2118.7 942.9,2118.2 943.7,2117.0 944.5,2115.9 945.3,2115.8 946.0,2115.5 946.8,2114.5 947.6,2115.2 948.4,2115.2 949.2,2115.5 949.9,2116.3 950.7,2116.8 951.5,2117.5 952.3,2119.3 953.0,2119.0 953.8,2120.0 954.6,2119.9 955.4,2121.0 956.1,2122.4 956.9,2122.4 957.7,2123.1 958.5,2123.9 959.2,2123.9 960.0,2124.6 960.8,2124.8 961.6,2124.0 962.3,2124.9 963.1,2124.1 963.9,2125.2 964.7,2125.8 965.4,2125.7 966.2,2126.0 967.0,2125.6 967.8,2126.0 968.5,2125.2 969.3,2125.4 970.1,2125.1 970.9,2125.2 971.6,2126.3 972.4,2125.3 973.2,2126.4 974.0,2125.6 974.7,2126.5 975.5,2126.7 976.3,2125.2 977.1,2126.1 977.8,2126.2 978.6,2125.8 979.4,2125.1 980.2,2125.9 980.9,2126.2 981.7,2125.8 982.5,2125.2 983.3,2125.8 984.0,2124.9 984.8,2125.1 985.6,2125.3 986.4,2125.5 987.1,2125.3 987.9,2125.0 988.7,2126.0 989.5,2124.5 990.2,2124.5 991.0,2125.3 991.8,2124.4 992.6,2125.1 993.3,2124.9 994.1,2124.1 994.9,2124.1 995.7,2123.5 996.4,2123.9 997.2,2124.0 998.0,2123.2 998.8,2122.5 999.5,2123.1 1000.3,2121.3 1001.1,2122.2 1001.9,2122.3 1002.6,2120.8 1003.4,2121.1 1004.2,2120.0 1005.0,2120.1 1005.7,2120.7 1006.5,2119.0 1007.3,2118.8 1008.1,2118.4 1008.8,2118.1 1009.6,2117.9 1010.4,2118.7 1011.2,2117.9 1011.9,2117.4 1012.7,2117.5 1013.5,2117.0 1014.3,2117.1 1015.0,2115.8 1015.8,2115.8 1016.6,2116.1 1017.4,2114.8 1018.1,2115.5 1018.9,2114.4 1019.7,2114.2 1020.5,2113.9 1021.2,2113.1 1022.0,2113.3 1022.8,2113.6 1023.6,2113.6 1024.3,2112.9 1025.1,2111.9 1025.9,2112.5 1026.7,2112.4 1027.4,2112.2 1028.2,2111.4 1029.0,2111.0 1029.8,2111.6 1030.5,2111.0 1031.3,2111.8 1032.1,2111.7 1032.9,2110.4 1033.6,2111.4 1034.4,2110.9 1035.2,2110.8 1036.0,2110.8 1036.8,2111.4 1037.5,2110.2 1038.3,2111.5 1039.1,2111.5 1039.9,2110.6 1040.6,2111.5 1041.4,2111.1 1042.2,2110.9 1043.0,2110.6 1043.7,2110.8 1044.5,2110.4 1045.3,2110.6 1046.1,2109.6 1046.8,2109.7 1047.6,2109.2 1048.4,2108.5 1049.2,2109.2 1049.9,2108.6 1050.7,2107.6 1051.5,2107.9 1052.3,2107.1 1053.0,2106.3 1053.8,2105.2 1054.6,2103.7 1055.4,2103.3 1056.1,2101.5 1056.9,2101.0 1057.7,2100.6 1058.5,2099.5 1059.2,2099.9 1060.0,2100.1 1060.8,2100.2 1061.6,2101.1 1062.3,2102.2 1063.1,2104.0 1063.9,2104.8 1064.7,2107.5 1065.4,2107.9 1066.2,2108.9 1067.0,2110.2 1067.8,2111.6 1068.5,2112.5 1069.3,2113.8 1070.1,2114.2 1070.9,2114.7 1071.6,2115.8 1072.4,2116.5 1073.2,2117.1 1074.0,2117.4 1074.7,2118.2 1075.5,2119.4 1076.3,2118.8 1077.1,2119.8 1077.8,2119.8 1078.6,2120.7 1079.4,2120.6 1080.2,2121.6 1080.9,2122.3 1081.7,2122.2 1082.5,2122.6 1083.3,2121.9 1084.0,2123.2 1084.8,2123.6 1085.6,2123.1 1086.4,2124.4 1087.1,2124.8 1087.9,2125.3 1088.7,2124.8 1089.5,2124.7 1090.2,2125.1 1091.0,2125.1 1091.8,2126.2 1092.6,2127.3 1093.3,2126.6 1094.1,2127.1 1094.9,2126.8 1095.7,2128.1 1096.4,2127.8 1097.2,2128.0 1098.0,2129.1 1098.8,2129.2 1099.5,2129.3 1100.3,2129.8 1101.1,2129.2 1101.9,2130.4 1102.6,2130.4 1103.4,2130.8 1104.2,2130.6 1105.0,2131.1 1105.7,2130.8 1106.5,2131.6 1107.3,2131.9 1108.1,2132.4 1108.8,2132.5 1109.6,2133.0 1110.4,2133.1 1111.2,2134.1 1111.9,2133.0 1112.7,2134.1 1113.5,2134.5 1114.3,2134.8 1115.0,2134.0 1115.8,2134.4 1116.6,2135.4 1117.4,2135.5 1118.1,2135.2 1118.9,2136.3 1119.7,2135.9" stroke="#5EA8F2" stroke-width="2.4" fill="none" stroke-linejoin="round"/>
<polyline points="778.6,2128.3 779.4,2128.5 780.2,2128.0 780.9,2128.7 781.7,2128.9 782.5,2128.3 783.3,2127.9 784.0,2126.9 784.8,2128.1 785.6,2127.7 786.4,2127.4 787.1,2127.0 787.9,2125.6 788.7,2125.7 789.5,2125.6 790.2,2125.4 791.0,2124.4 791.8,2125.0 792.6,2124.0 793.3,2123.8 794.1,2123.5 794.9,2121.9 795.7,2121.2 796.4,2121.2 797.2,2119.7 798.0,2118.8 798.8,2117.9 799.5,2118.2 800.3,2117.3 801.1,2115.6 801.9,2114.6 802.6,2113.5 803.4,2111.8 804.2,2110.5 805.0,2109.1 805.7,2107.3 806.5,2106.3 807.3,2104.3 808.1,2101.8 808.8,2099.8 809.6,2098.7 810.4,2096.2 811.2,2094.6 811.9,2092.1 812.7,2089.6 813.5,2086.8 814.3,2085.2 815.0,2082.8 815.8,2081.3 816.6,2078.6 817.4,2078.2 818.1,2076.9 818.9,2075.9 819.7,2074.3 820.5,2073.8 821.2,2074.4 822.0,2075.4 822.8,2076.2 823.6,2076.5 824.3,2078.4 825.1,2081.5 825.9,2082.9 826.7,2084.4 827.4,2087.6 828.2,2090.4 829.0,2093.1 829.8,2094.4 830.5,2097.8 831.3,2099.3 832.1,2102.5 832.9,2104.6 833.6,2106.0 834.4,2108.3 835.2,2110.7 836.0,2113.0 836.7,2115.3 837.5,2115.8 838.3,2117.4 839.1,2119.6 839.8,2120.6 840.6,2122.2 841.4,2123.9 842.2,2124.9 842.9,2125.5 843.7,2126.5 844.5,2128.0 845.3,2128.8 846.0,2129.8 846.8,2130.4 847.6,2131.6 848.4,2131.5 849.1,2133.2 849.9,2133.2 850.7,2133.9 851.5,2133.9 852.2,2135.8 853.0,2135.9 853.8,2136.5 854.6,2136.6 855.3,2136.6 856.1,2137.8 856.9,2138.2 857.7,2138.1 858.4,2139.5 859.2,2138.7 860.0,2140.3 860.8,2140.8 861.5,2139.8 862.3,2141.5 863.1,2141.8 863.9,2141.1 864.7,2141.5 865.4,2142.4 866.2,2141.4 867.0,2142.9 867.8,2141.8 868.5,2142.9 869.3,2142.2 870.1,2143.0 870.9,2143.5 871.6,2143.4 872.4,2143.1 873.2,2143.0 874.0,2142.8 874.7,2143.0 875.5,2142.8 876.3,2142.7 877.1,2142.3 877.8,2142.2 878.6,2142.2 879.4,2141.3 880.2,2141.9 880.9,2140.8 881.7,2141.1 882.5,2140.4 883.3,2140.5 884.0,2140.5 884.8,2140.2 885.6,2141.2 886.4,2140.8 887.1,2142.8 887.9,2143.3 888.7,2144.3 889.5,2144.1 890.2,2144.4 891.0,2145.8 891.8,2145.4 892.6,2147.0 893.3,2146.5 894.1,2147.6 894.9,2146.7 895.7,2147.3 896.4,2148.3 897.2,2147.4 898.0,2148.6 898.8,2148.2 899.5,2148.6 900.3,2148.1 901.1,2148.4 901.9,2149.5 902.6,2149.3 903.4,2148.5 904.2,2148.5 905.0,2148.6 905.7,2148.8 906.5,2149.0 907.3,2149.5 908.1,2149.2 908.8,2150.3 909.6,2149.0 910.4,2149.7 911.2,2149.9 911.9,2150.2 912.7,2149.8 913.5,2150.1 914.3,2149.3 915.0,2149.6 915.8,2150.5 916.6,2149.2 917.4,2150.1 918.1,2150.7 918.9,2150.7 919.7,2149.5 920.5,2150.8 921.2,2150.0 922.0,2149.4 922.8,2150.5 923.6,2150.0 924.3,2150.7 925.1,2149.3 925.9,2150.4 926.7,2149.5 927.4,2149.0 928.2,2149.1 929.0,2150.0 929.8,2150.2 930.5,2149.7 931.3,2149.5 932.1,2148.9 932.9,2148.6 933.6,2148.5 934.4,2147.7 935.2,2147.6 936.0,2147.4 936.7,2148.1 937.5,2147.7 938.3,2146.3 939.1,2146.8 939.8,2145.0 940.6,2145.2 941.4,2143.6 942.2,2143.6 942.9,2143.5 943.7,2142.4 944.5,2141.7 945.3,2141.1 946.0,2140.9 946.8,2140.2 947.6,2140.8 948.4,2140.8 949.2,2141.2 949.9,2141.0 950.7,2142.5 951.5,2143.6 952.3,2142.9 953.0,2144.3 953.8,2145.4 954.6,2146.2 955.4,2146.9 956.1,2146.6 956.9,2147.4 957.7,2148.3 958.5,2149.0 959.2,2148.0 960.0,2148.2 960.8,2149.8 961.6,2148.8 962.3,2149.1 963.1,2149.7 963.9,2149.3 964.7,2150.9 965.4,2149.6 966.2,2149.8 967.0,2150.6 967.8,2150.5 968.5,2151.2 969.3,2151.4 970.1,2150.1 970.9,2151.6 971.6,2150.3 972.4,2150.8 973.2,2150.6 974.0,2150.5 974.7,2150.4 975.5,2151.5 976.3,2150.8 977.1,2150.8 977.8,2151.7 978.6,2150.8 979.4,2150.4 980.2,2150.4 980.9,2150.7 981.7,2150.2 982.5,2151.1 983.3,2150.6 984.0,2151.1 984.8,2150.6 985.6,2150.0 986.4,2151.4 987.1,2150.9 987.9,2150.6 988.7,2149.8 989.5,2150.5 990.2,2150.1 991.0,2150.3 991.8,2149.1 992.6,2149.8 993.3,2150.1 994.1,2149.7 994.9,2149.2 995.7,2148.2 996.4,2148.7 997.2,2148.5 998.0,2147.6 998.8,2148.3 999.5,2147.1 1000.3,2146.4 1001.1,2146.8 1001.9,2147.2 1002.6,2146.5 1003.4,2145.5 1004.2,2145.4 1005.0,2145.9 1005.7,2145.7 1006.5,2144.5 1007.3,2144.3 1008.1,2143.6 1008.8,2143.9 1009.6,2143.9 1010.4,2142.7 1011.2,2143.2 1011.9,2142.3 1012.7,2142.3 1013.5,2142.0 1014.3,2141.6 1015.0,2140.5 1015.8,2141.5 1016.6,2139.7 1017.4,2139.7 1018.1,2139.2 1018.9,2139.8 1019.7,2139.2 1020.5,2139.8 1021.2,2138.2 1022.0,2137.8 1022.8,2137.4 1023.6,2137.7 1024.3,2138.3 1025.1,2137.3 1025.9,2137.4 1026.7,2136.8 1027.4,2136.6 1028.2,2137.2 1029.0,2135.9 1029.8,2136.6 1030.5,2137.1 1031.3,2136.0 1032.1,2136.2 1032.9,2136.4 1033.6,2135.7 1034.4,2135.5 1035.2,2136.6 1036.0,2135.2 1036.8,2135.5 1037.5,2135.9 1038.3,2135.2 1039.1,2135.2 1039.9,2136.5 1040.6,2136.4 1041.4,2135.9 1042.2,2136.5 1043.0,2136.2 1043.7,2136.0 1044.5,2135.3 1045.3,2135.8 1046.1,2135.0 1046.8,2134.9 1047.6,2134.4 1048.4,2133.8 1049.2,2134.8 1049.9,2134.4 1050.7,2134.0 1051.5,2132.8 1052.3,2132.6 1053.0,2131.7 1053.8,2130.4 1054.6,2129.7 1055.4,2128.2 1056.1,2128.4 1056.9,2127.2 1057.7,2125.4 1058.5,2126.0 1059.2,2125.8 1060.0,2125.0 1060.8,2127.2 1061.6,2128.2 1062.3,2128.6 1063.1,2129.8 1063.9,2130.6 1064.7,2133.3 1065.4,2134.5 1066.2,2134.9 1067.0,2135.8 1067.8,2137.4 1068.5,2139.0 1069.3,2139.1 1070.1,2140.3 1070.9,2141.1 1071.6,2141.0 1072.4,2142.2 1073.2,2142.1 1074.0,2143.7 1074.7,2143.7 1075.5,2144.9 1076.3,2144.6 1077.1,2145.0 1077.8,2145.5 1078.6,2145.9 1079.4,2146.8 1080.2,2146.5 1080.9,2146.4 1081.7,2147.8 1082.5,2147.3 1083.3,2147.7 1084.0,2148.4 1084.8,2148.9 1085.6,2148.9 1086.4,2150.3 1087.1,2149.7 1087.9,2151.0 1088.7,2150.3 1089.5,2150.2 1090.2,2151.8 1091.0,2151.5 1091.8,2151.2 1092.6,2152.5 1093.3,2153.0 1094.1,2152.7 1094.9,2153.5 1095.7,2154.3 1096.4,2153.5 1097.2,2154.3 1098.0,2155.2 1098.8,2154.4 1099.5,2155.6 1100.3,2154.7 1101.1,2155.9 1101.9,2156.0 1102.6,2156.6 1103.4,2156.6 1104.2,2157.1 1105.0,2156.5 1105.7,2158.0 1106.5,2157.7 1107.3,2158.3 1108.1,2158.6 1108.8,2158.5 1109.6,2159.4 1110.4,2159.4 1111.2,2158.9 1111.9,2158.9 1112.7,2160.2 1113.5,2160.8 1114.3,2160.1 1115.0,2160.3 1115.8,2161.2 1116.6,2161.9 1117.4,2161.6 1118.1,2161.0 1118.9,2161.9 1119.7,2162.1" stroke="#A2D8F2" stroke-width="2.4" fill="none" stroke-linejoin="round"/>
<polyline points="778.6,2165.8 779.4,2166.4 780.2,2166.1 780.9,2165.8 781.7,2165.9 782.5,2165.0 783.3,2166.1 784.0,2165.0 784.8,2164.7 785.6,2165.4 786.4,2164.7 787.1,2165.1 787.9,2164.5 788.7,2164.1 789.5,2164.2 790.2,2163.4 791.0,2162.0 791.8,2162.4 792.6,2161.9 793.3,2161.5 794.1,2161.7 794.9,2161.2 795.7,2160.2 796.4,2159.8 797.2,2157.8 798.0,2157.8 798.8,2157.1 799.5,2155.9 800.3,2156.2 801.1,2153.8 801.9,2154.1 802.6,2153.3 803.4,2151.1 804.2,2149.4 805.0,2148.8 805.7,2146.9 806.5,2146.7 807.3,2144.5 808.1,2142.3 808.8,2141.4 809.6,2139.3 810.4,2137.5 811.2,2135.0 811.9,2134.3 812.7,2132.1 813.5,2130.2 814.3,2128.1 815.0,2126.5 815.8,2123.6 816.6,2122.8 817.4,2120.8 818.1,2119.4 818.9,2119.3 819.7,2118.4 820.5,2117.8 821.2,2118.4 822.0,2118.6 822.8,2119.7 823.6,2121.1 824.3,2122.5 825.1,2123.3 825.9,2125.3 826.7,2127.0 827.4,2130.2 828.2,2132.4 829.0,2133.3 829.8,2135.7 830.5,2138.1 831.3,2139.5 832.1,2142.4 832.9,2144.4 833.6,2145.5 834.4,2147.5 835.2,2149.8 836.0,2151.8 836.7,2152.1 837.5,2154.5 838.3,2156.1 839.1,2157.2 839.8,2158.8 840.6,2158.7 841.4,2159.7 842.2,2162.0 842.9,2162.1 843.7,2163.4 844.5,2164.0 845.3,2164.9 846.0,2164.7 846.8,2165.5 847.6,2166.2 848.4,2168.1 849.1,2167.4 849.9,2168.5 850.7,2168.7 851.5,2170.0 852.2,2170.5 853.0,2171.2 853.8,2171.5 854.6,2172.0 855.3,2171.5 856.1,2172.3 856.9,2173.5 857.7,2172.9 858.4,2173.9 859.2,2173.8 860.0,2173.7 860.8,2174.9 861.5,2173.8 862.3,2175.0 863.1,2175.5 863.9,2175.8 864.7,2174.8 865.4,2175.9 866.2,2175.6 867.0,2176.3 867.8,2175.5 868.5,2176.3 869.3,2176.5 870.1,2176.2 870.9,2176.3 871.6,2177.1 872.4,2176.9 873.2,2176.6 874.0,2176.7 874.7,2176.9 875.5,2176.8 876.3,2176.8 877.1,2177.0 877.8,2176.8 878.6,2175.2 879.4,2175.3 880.2,2175.1 880.9,2174.0 881.7,2173.8 882.5,2173.3 883.3,2173.5 884.0,2173.3 884.8,2173.1 885.6,2174.4 886.4,2175.0 887.1,2174.7 887.9,2175.1 888.7,2175.9 889.5,2177.1 890.2,2176.6 891.0,2177.9 891.8,2178.7 892.6,2177.9 893.3,2178.1 894.1,2178.9 894.9,2179.5 895.7,2178.7 896.4,2178.6 897.2,2179.4 898.0,2179.5 898.8,2179.2 899.5,2180.4 900.3,2179.3 901.1,2180.3 901.9,2179.8 902.6,2179.6 903.4,2180.2 904.2,2180.3 905.0,2180.3 905.7,2180.8 906.5,2180.6 907.3,2180.4 908.1,2180.3 908.8,2181.0 909.6,2181.4 910.4,2181.5 911.2,2180.6 911.9,2181.3 912.7,2180.8 913.5,2181.3 914.3,2180.4 915.0,2181.6 915.8,2181.1 916.6,2181.6 917.4,2181.9 918.1,2180.7 918.9,2181.9 919.7,2182.1 920.5,2180.9 921.2,2181.6 922.0,2182.0 922.8,2180.6 923.6,2181.6 924.3,2181.1 925.1,2181.3 925.9,2180.8 926.7,2181.1 927.4,2181.9 928.2,2180.8 929.0,2181.0 929.8,2180.5 930.5,2180.8 931.3,2180.4 932.1,2180.5 932.9,2180.5 933.6,2180.5 934.4,2180.5 935.2,2180.3 936.0,2179.0 936.7,2179.5 937.5,2180.0 938.3,2179.4 939.1,2178.7 939.8,2178.3 940.6,2177.2 941.4,2176.1 942.2,2175.9 942.9,2176.4 943.7,2175.0 944.5,2174.5 945.3,2173.8 946.0,2173.0 946.8,2173.7 947.6,2173.0 948.4,2174.3 949.2,2174.3 949.9,2174.1 950.7,2174.9 951.5,2175.2 952.3,2176.1 953.0,2176.9 953.8,2177.7 954.6,2178.3 955.4,2178.3 956.1,2180.2 956.9,2179.8 957.7,2181.1 958.5,2180.2 959.2,2181.3 960.0,2181.9 960.8,2181.4 961.6,2182.2 962.3,2181.6 963.1,2182.5 963.9,2181.8 964.7,2183.0 965.4,2183.3 966.2,2182.4 967.0,2182.4 967.8,2183.2 968.5,2182.7 969.3,2183.2 970.1,2182.9 970.9,2183.8 971.6,2183.4 972.4,2183.8 973.2,2183.3 974.0,2183.4 974.7,2183.8 975.5,2183.9 976.3,2183.7 977.1,2183.2 977.8,2183.5 978.6,2183.7 979.4,2182.8 980.2,2182.7 980.9,2183.5 981.7,2182.9 982.5,2183.6 983.3,2182.4 984.0,2183.5 984.8,2182.4 985.6,2182.3 986.4,2182.5 987.1,2182.7 987.9,2182.3 988.7,2183.0 989.5,2183.3 990.2,2182.8 991.0,2182.0 991.8,2182.9 992.6,2182.9 993.3,2181.8 994.1,2182.5 994.9,2181.7 995.7,2180.6 996.4,2180.4 997.2,2180.4 998.0,2181.5 998.8,2180.0 999.5,2180.8 1000.3,2180.3 1001.1,2180.4 1001.9,2179.6 1002.6,2178.7 1003.4,2179.3 1004.2,2177.8 1005.0,2178.0 1005.7,2177.7 1006.5,2178.1 1007.3,2177.3 1008.1,2176.5 1008.8,2176.2 1009.6,2176.0 1010.4,2176.0 1011.2,2175.9 1011.9,2174.8 1012.7,2176.1 1013.5,2175.2 1014.3,2174.3 1015.0,2174.6 1015.8,2174.9 1016.6,2173.3 1017.4,2172.9 1018.1,2172.9 1018.9,2173.2 1019.7,2173.4 1020.5,2172.6 1021.2,2171.6 1022.0,2172.3 1022.8,2172.5 1023.6,2171.8 1024.3,2170.9 1025.1,2171.3 1025.9,2171.1 1026.7,2171.0 1027.4,2170.3 1028.2,2170.5 1029.0,2170.2 1029.8,2170.5 1030.5,2169.4 1031.3,2170.2 1032.1,2170.5 1032.9,2169.6 1033.6,2169.2 1034.4,2169.1 1035.2,2169.2 1036.0,2169.6 1036.8,2169.4 1037.5,2168.8 1038.3,2169.2 1039.1,2168.8 1039.9,2168.8 1040.6,2168.9 1041.4,2169.4 1042.2,2168.9 1043.0,2168.5 1043.7,2168.0 1044.5,2168.2 1045.3,2168.6 1046.1,2168.5 1046.8,2167.7 1047.6,2167.5 1048.4,2167.8 1049.2,2166.5 1049.9,2166.9 1050.7,2166.3 1051.5,2165.3 1052.3,2165.1 1053.0,2163.7 1053.8,2163.4 1054.6,2162.2 1055.4,2160.9 1056.1,2160.3 1056.9,2160.1 1057.7,2159.2 1058.5,2158.1 1059.2,2158.4 1060.0,2158.4 1060.8,2158.7 1061.6,2159.2 1062.3,2160.5 1063.1,2161.9 1063.9,2162.8 1064.7,2164.9 1065.4,2166.0 1066.2,2167.4 1067.0,2167.5 1067.8,2169.8 1068.5,2170.3 1069.3,2170.9 1070.1,2171.2 1070.9,2172.5 1071.6,2172.3 1072.4,2174.0 1073.2,2173.3 1074.0,2174.3 1074.7,2174.4 1075.5,2175.9 1076.3,2175.1 1077.1,2176.1 1077.8,2175.6 1078.6,2177.3 1079.4,2177.7 1080.2,2177.6 1080.9,2176.9 1081.7,2177.6 1082.5,2177.6 1083.3,2178.4 1084.0,2179.4 1084.8,2178.4 1085.6,2178.7 1086.4,2179.4 1087.1,2179.9 1087.9,2179.7 1088.7,2180.3 1089.5,2181.2 1090.2,2180.9 1091.0,2181.0 1091.8,2181.8 1092.6,2182.0 1093.3,2181.9 1094.1,2182.8 1094.9,2182.8 1095.7,2183.0 1096.4,2183.0 1097.2,2182.6 1098.0,2183.8 1098.8,2184.0 1099.5,2184.0 1100.3,2184.2 1101.1,2184.4 1101.9,2184.9 1102.6,2184.4 1103.4,2185.0 1104.2,2185.9 1105.0,2186.1 1105.7,2186.0 1106.5,2185.1 1107.3,2186.0 1108.1,2185.6 1108.8,2187.2 1109.6,2187.0 1110.4,2187.4 1111.2,2187.3 1111.9,2186.8 1112.7,2187.6 1113.5,2188.3 1114.3,2187.5 1115.0,2188.6 1115.8,2187.8 1116.6,2188.2 1117.4,2188.7 1118.1,2188.2 1118.9,2188.9 1119.7,2189.3" stroke="#F26A12" stroke-width="2.4" fill="none" stroke-linejoin="round"/>
<polyline points="778.6,2190.4 779.4,2190.8 780.2,2190.5 780.9,2189.5 781.7,2190.4 782.5,2189.7 783.3,2189.8 784.0,2188.5 784.8,2188.8 785.6,2188.4 786.4,2188.4 787.1,2188.7 787.9,2187.1 788.7,2187.2 789.5,2186.5 790.2,2187.1 791.0,2186.3 791.8,2185.9 792.6,2185.5 793.3,2184.4 794.1,2184.5 794.9,2183.9 795.7,2183.6 796.4,2182.0 797.2,2181.7 798.0,2180.9 798.8,2179.4 799.5,2179.6 800.3,2177.7 801.1,2177.5 801.9,2175.6 802.6,2175.3 803.4,2174.3 804.2,2171.5 805.0,2170.3 805.7,2169.5 806.5,2167.1 807.3,2165.3 808.1,2163.7 808.8,2162.2 809.6,2160.4 810.4,2158.0 811.2,2155.1 811.9,2153.3 812.7,2150.4 813.5,2149.1 814.3,2147.0 815.0,2144.0 815.8,2141.8 816.6,2141.0 817.4,2139.6 818.1,2138.5 818.9,2136.1 819.7,2136.8 820.5,2136.4 821.2,2135.6 822.0,2135.9 822.8,2138.1 823.6,2138.1 824.3,2140.3 825.1,2142.0 825.9,2144.4 826.7,2145.9 827.4,2148.9 828.2,2151.7 829.0,2153.6 829.8,2155.5 830.5,2158.8 831.3,2160.7 832.1,2164.0 832.9,2165.2 833.6,2167.2 834.4,2169.7 835.2,2171.5 836.0,2172.9 836.7,2175.4 837.5,2176.6 838.3,2179.2 839.1,2179.4 839.8,2180.7 840.6,2182.7 841.4,2184.3 842.2,2185.8 842.9,2186.5 843.7,2187.8 844.5,2188.1 845.3,2189.5 846.0,2189.8 846.8,2190.7 847.6,2191.9 848.4,2191.5 849.1,2193.3 849.9,2193.6 850.7,2194.6 851.5,2194.8 852.2,2194.6 853.0,2196.2 853.8,2195.6 854.6,2197.0 855.3,2197.9 856.1,2197.8 856.9,2198.0 857.7,2198.9 858.4,2198.5 859.2,2199.9 860.0,2198.9 860.8,2200.6 861.5,2199.5 862.3,2201.2 863.1,2200.7 863.9,2201.2 864.7,2201.0 865.4,2202.0 866.2,2202.6 867.0,2201.5 867.8,2202.3 868.5,2201.8 869.3,2203.0 870.1,2202.0 870.9,2202.5 871.6,2202.4 872.4,2203.3 873.2,2202.5 874.0,2203.6 874.7,2203.4 875.5,2202.2 876.3,2203.5 877.1,2203.1 877.8,2202.6 878.6,2202.3 879.4,2201.3 880.2,2200.8 880.9,2200.5 881.7,2201.2 882.5,2200.5 883.3,2199.3 884.0,2199.3 884.8,2200.1 885.6,2200.1 886.4,2200.1 887.1,2200.4 887.9,2201.1 888.7,2201.7 889.5,2202.0 890.2,2202.5 891.0,2203.3 891.8,2203.9 892.6,2203.8 893.3,2203.6 894.1,2203.6 894.9,2203.6 895.7,2205.2 896.4,2204.1 897.2,2204.9 898.0,2204.5 898.8,2204.2 899.5,2205.2 900.3,2205.2 901.1,2204.4 901.9,2205.5 902.6,2206.0 903.4,2205.1 904.2,2205.3 905.0,2206.2 905.7,2205.9 906.5,2206.1 907.3,2205.6 908.1,2206.1 908.8,2205.4 909.6,2205.2 910.4,2205.4 911.2,2205.4 911.9,2205.5 912.7,2206.6 913.5,2205.2 914.3,2206.3 915.0,2205.6 915.8,2205.8 916.6,2206.8 917.4,2206.1 918.1,2206.2 918.9,2206.5 919.7,2205.3 920.5,2205.7 921.2,2205.3 922.0,2206.5 922.8,2206.2 923.6,2206.5 924.3,2206.0 925.1,2205.2 925.9,2205.8 926.7,2206.3 927.4,2206.4 928.2,2206.2 929.0,2204.8 929.8,2206.1 930.5,2205.3 931.3,2205.4 932.1,2204.4 932.9,2205.6 933.6,2205.0 934.4,2204.5 935.2,2204.7 936.0,2203.7 936.7,2203.3 937.5,2202.8 938.3,2202.1 939.1,2202.6 939.8,2201.8 940.6,2201.3 941.4,2200.9 942.2,2199.7 942.9,2199.0 943.7,2198.4 944.5,2197.4 945.3,2197.9 946.0,2197.2 946.8,2196.3 947.6,2196.2 948.4,2197.4 949.2,2196.9 949.9,2197.7 950.7,2198.0 951.5,2199.2 952.3,2199.4 953.0,2200.4 953.8,2200.7 954.6,2202.2 955.4,2202.8 956.1,2202.8 956.9,2204.3 957.7,2204.8 958.5,2205.2 959.2,2204.5 960.0,2205.6 960.8,2205.8 961.6,2205.1 962.3,2205.7 963.1,2206.7 963.9,2206.5 964.7,2205.7 965.4,2205.9 966.2,2206.7 967.0,2207.5 967.8,2207.4 968.5,2207.7 969.3,2206.7 970.1,2206.7 970.9,2207.6 971.6,2207.1 972.4,2207.9 973.2,2207.6 974.0,2207.0 974.7,2208.1 975.5,2206.6 976.3,2208.1 977.1,2208.0 977.8,2207.5 978.6,2206.8 979.4,2206.9 980.2,2206.6 980.9,2207.3 981.7,2206.6 982.5,2207.8 983.3,2207.2 984.0,2207.8 984.8,2206.9 985.6,2207.1 986.4,2207.1 987.1,2206.2 987.9,2206.3 988.7,2207.0 989.5,2206.3 990.2,2207.2 991.0,2206.9 991.8,2206.0 992.6,2206.3 993.3,2206.4 994.1,2205.3 994.9,2206.0 995.7,2204.8 996.4,2204.5 997.2,2205.2 998.0,2204.7 998.8,2204.8 999.5,2203.8 1000.3,2204.8 1001.1,2203.7 1001.9,2204.1 1002.6,2204.0 1003.4,2202.8 1004.2,2202.4 1005.0,2202.4 1005.7,2202.4 1006.5,2202.8 1007.3,2201.7 1008.1,2201.0 1008.8,2201.7 1009.6,2201.5 1010.4,2201.3 1011.2,2201.0 1011.9,2199.8 1012.7,2199.6 1013.5,2199.1 1014.3,2199.7 1015.0,2199.6 1015.8,2198.5 1016.6,2198.6 1017.4,2197.5 1018.1,2197.2 1018.9,2197.9 1019.7,2197.1 1020.5,2197.0 1021.2,2196.4 1022.0,2197.6 1022.8,2197.1 1023.6,2197.0 1024.3,2195.9 1025.1,2195.4 1025.9,2195.2 1026.7,2196.3 1027.4,2195.5 1028.2,2194.9 1029.0,2195.9 1029.8,2195.7 1030.5,2194.5 1031.3,2195.4 1032.1,2194.3 1032.9,2194.1 1033.6,2194.2 1034.4,2194.9 1035.2,2194.5 1036.0,2194.3 1036.8,2194.9 1037.5,2194.0 1038.3,2194.9 1039.1,2194.8 1039.9,2194.1 1040.6,2193.6 1041.4,2194.0 1042.2,2193.9 1043.0,2193.5 1043.7,2193.3 1044.5,2194.3 1045.3,2193.1 1046.1,2194.5 1046.8,2192.8 1047.6,2193.1 1048.4,2193.2 1049.2,2193.4 1049.9,2192.0 1050.7,2191.6 1051.5,2192.4 1052.3,2191.3 1053.0,2189.8 1053.8,2190.1 1054.6,2188.3 1055.4,2187.9 1056.1,2187.5 1056.9,2186.0 1057.7,2186.3 1058.5,2184.5 1059.2,2184.5 1060.0,2185.5 1060.8,2186.6 1061.6,2186.9 1062.3,2187.9 1063.1,2189.1 1063.9,2189.8 1064.7,2191.0 1065.4,2192.6 1066.2,2192.6 1067.0,2195.0 1067.8,2195.1 1068.5,2195.6 1069.3,2196.1 1070.1,2197.5 1070.9,2198.3 1071.6,2198.1 1072.4,2198.6 1073.2,2199.3 1074.0,2199.2 1074.7,2200.8 1075.5,2199.8 1076.3,2201.2 1077.1,2201.8 1077.8,2202.0 1078.6,2201.2 1079.4,2201.8 1080.2,2201.8 1080.9,2203.3 1081.7,2203.4 1082.5,2204.2 1083.3,2203.1 1084.0,2204.5 1084.8,2204.0 1085.6,2204.8 1086.4,2205.5 1087.1,2204.7 1087.9,2205.7 1088.7,2205.0 1089.5,2205.1 1090.2,2205.9 1091.0,2205.8 1091.8,2207.0 1092.6,2206.9 1093.3,2206.7 1094.1,2206.7 1094.9,2207.5 1095.7,2208.3 1096.4,2208.3 1097.2,2208.8 1098.0,2208.4 1098.8,2209.3 1099.5,2208.7 1100.3,2210.0 1101.1,2209.2 1101.9,2210.3 1102.6,2210.4 1103.4,2210.3 1104.2,2210.1 1105.0,2210.1 1105.7,2210.7 1106.5,2211.6 1107.3,2211.5 1108.1,2211.7 1108.8,2211.4 1109.6,2211.5 1110.4,2212.4 1111.2,2211.7 1111.9,2211.8 1112.7,2212.7 1113.5,2213.5 1114.3,2212.3 1115.0,2212.7 1115.8,2213.6 1116.6,2213.4 1117.4,2214.3 1118.1,2214.1 1118.9,2214.3 1119.7,2213.6" stroke="#F0A840" stroke-width="2.4" fill="none" stroke-linejoin="round"/>
<rect x="784.4" y="1878.2" width="47.1" height="348.4" fill="rgba(205,205,205,0.4)" />
<rect x="854.6" y="1929.2" width="43.4" height="149.1" fill="rgba(255,150,150,0.45)" />
<rect x="854.6" y="2078.3" width="43.4" height="149.2" fill="rgba(130,195,205,0.48)" />
<line x1="779.0" y1="2300.7" x2="779.0" y2="2285.9" stroke="#118A5C" stroke-width="2.4" />
<line x1="791.2" y1="2300.7" x2="791.2" y2="2290.9" stroke="#118A5C" stroke-width="2.4" />
<line x1="811.3" y1="2300.7" x2="811.3" y2="2290.9" stroke="#118A5C" stroke-width="2.4" />
<line x1="816.1" y1="2300.7" x2="816.1" y2="2290.9" stroke="#118A5C" stroke-width="2.4" />
<line x1="847.9" y1="2300.7" x2="847.9" y2="2290.9" stroke="#118A5C" stroke-width="2.4" />
<line x1="861.0" y1="2300.7" x2="861.0" y2="2280.4" stroke="#118A5C" stroke-width="2.4" />
<line x1="871.2" y1="2300.7" x2="871.2" y2="2286.2" stroke="#118A5C" stroke-width="2.4" />
<line x1="890.2" y1="2300.7" x2="890.2" y2="2225.9" stroke="#118A5C" stroke-width="2.4" />
<line x1="926.0" y1="2300.7" x2="926.0" y2="2260.7" stroke="#118A5C" stroke-width="2.4" />
<line x1="929.4" y1="2300.7" x2="929.4" y2="2291.9" stroke="#118A5C" stroke-width="2.4" />
<line x1="943.4" y1="2300.7" x2="943.4" y2="2284.8" stroke="#118A5C" stroke-width="2.4" />
<line x1="946.2" y1="2300.7" x2="946.2" y2="2278.4" stroke="#118A5C" stroke-width="2.4" />
<line x1="965.3" y1="2300.7" x2="965.3" y2="2290.9" stroke="#118A5C" stroke-width="2.4" />
<line x1="967.8" y1="2300.7" x2="967.8" y2="2282.7" stroke="#118A5C" stroke-width="2.4" />
<line x1="1012.2" y1="2300.7" x2="1012.2" y2="2253.4" stroke="#118A5C" stroke-width="2.4" />
<line x1="1017.8" y1="2300.7" x2="1017.8" y2="2251.4" stroke="#118A5C" stroke-width="2.4" />
<line x1="1043.2" y1="2300.7" x2="1043.2" y2="2258.1" stroke="#118A5C" stroke-width="2.4" />
<line x1="1066.5" y1="2300.7" x2="1066.5" y2="2249.1" stroke="#118A5C" stroke-width="2.4" />
<line x1="1089.5" y1="2300.7" x2="1089.5" y2="2291.9" stroke="#118A5C" stroke-width="2.4" />
<line x1="1095.0" y1="2300.7" x2="1095.0" y2="2284.2" stroke="#118A5C" stroke-width="2.4" />
<line x1="806.6" y1="2376.2" x2="806.6" y2="2367.4" stroke="#C8161E" stroke-width="2.4" />
<line x1="811.3" y1="2376.2" x2="811.3" y2="2364.4" stroke="#C8161E" stroke-width="2.4" />
<line x1="816.9" y1="2376.2" x2="816.9" y2="2364.0" stroke="#C8161E" stroke-width="2.4" />
<line x1="825.4" y1="2376.2" x2="825.4" y2="2366.6" stroke="#C8161E" stroke-width="2.4" />
<line x1="847.3" y1="2376.2" x2="847.3" y2="2367.4" stroke="#C8161E" stroke-width="2.4" />
<line x1="865.6" y1="2376.2" x2="865.6" y2="2332.0" stroke="#C8161E" stroke-width="2.4" />
<line x1="869.6" y1="2376.2" x2="869.6" y2="2358.2" stroke="#C8161E" stroke-width="2.4" />
<line x1="874.6" y1="2376.2" x2="874.6" y2="2300.7" stroke="#C8161E" stroke-width="2.4" />
<line x1="900.7" y1="2376.2" x2="900.7" y2="2329.7" stroke="#C8161E" stroke-width="2.4" />
<line x1="904.9" y1="2376.2" x2="904.9" y2="2366.0" stroke="#C8161E" stroke-width="2.4" />
<line x1="913.9" y1="2376.2" x2="913.9" y2="2361.1" stroke="#C8161E" stroke-width="2.4" />
<line x1="947.0" y1="2376.2" x2="947.0" y2="2340.4" stroke="#C8161E" stroke-width="2.4" />
<line x1="959.6" y1="2376.2" x2="959.6" y2="2357.9" stroke="#C8161E" stroke-width="2.4" />
<line x1="963.6" y1="2376.2" x2="963.6" y2="2357.9" stroke="#C8161E" stroke-width="2.4" />
<line x1="985.0" y1="2376.2" x2="985.0" y2="2352.1" stroke="#C8161E" stroke-width="2.4" />
<line x1="1004.3" y1="2376.2" x2="1004.3" y2="2318.7" stroke="#C8161E" stroke-width="2.4" />
<line x1="1020.6" y1="2376.2" x2="1020.6" y2="2366.0" stroke="#C8161E" stroke-width="2.4" />
<line x1="1031.1" y1="2376.2" x2="1031.1" y2="2317.2" stroke="#C8161E" stroke-width="2.4" />
<line x1="1053.8" y1="2376.2" x2="1053.8" y2="2314.6" stroke="#C8161E" stroke-width="2.4" />
<line x1="1066.5" y1="2376.2" x2="1066.5" y2="2310.3" stroke="#C8161E" stroke-width="2.4" />
<line x1="1086.7" y1="2376.2" x2="1086.7" y2="2367.4" stroke="#C8161E" stroke-width="2.4" />
<line x1="1090.9" y1="2376.2" x2="1090.9" y2="2366.6" stroke="#C8161E" stroke-width="2.4" />
<line x1="1119.0" y1="2376.2" x2="1119.0" y2="2367.4" stroke="#C8161E" stroke-width="2.4" />
<line x1="803.4" y1="1817.8" x2="803.4" y2="1835.5" stroke="#777" stroke-width="2.3" />
<line x1="825.7" y1="1817.8" x2="825.7" y2="1835.5" stroke="#777" stroke-width="2.3" />
<line x1="948.5" y1="1817.8" x2="948.5" y2="1835.5" stroke="#777" stroke-width="2.3" />
<line x1="1032.6" y1="1817.8" x2="1032.6" y2="1835.5" stroke="#777" stroke-width="2.3" />
<line x1="1074.7" y1="1817.8" x2="1074.7" y2="1835.5" stroke="#777" stroke-width="2.3" />
<text x="1118.5" y="1833.0" font-size="42" fill="#808080" ><tspan font-style="italic">t</tspan></text>
<rect x="778.6" y="1782" width="341.1" height="596.2" fill="none" stroke="#1a1a1a" stroke-width="1.9"/>
<line x1="794.1" y1="2378.2" x2="794.1" y2="2384.2" stroke="#333" stroke-width="1.8" />
<line x1="840.6" y1="2378.2" x2="840.6" y2="2390.2" stroke="#333" stroke-width="1.8" />
<line x1="887.1" y1="2378.2" x2="887.1" y2="2384.2" stroke="#333" stroke-width="1.8" />
<line x1="933.6" y1="2378.2" x2="933.6" y2="2390.2" stroke="#333" stroke-width="1.8" />
<line x1="980.2" y1="2378.2" x2="980.2" y2="2384.2" stroke="#333" stroke-width="1.8" />
<line x1="1026.7" y1="2378.2" x2="1026.7" y2="2390.2" stroke="#333" stroke-width="1.8" />
<line x1="1073.2" y1="2378.2" x2="1073.2" y2="2384.2" stroke="#333" stroke-width="1.8" />
<line x1="1119.7" y1="2378.2" x2="1119.7" y2="2390.2" stroke="#333" stroke-width="1.8" />
<text x="804.8" y="2431.3" font-size="43" fill="#000" ><tspan>300</tspan></text>
<text x="898.1" y="2431.3" font-size="43" fill="#000" ><tspan>450</tspan></text>
<text x="990.5" y="2431.3" font-size="43" fill="#000" ><tspan>600</tspan></text>
<text x="1083.6" y="2431.3" font-size="43" fill="#000" ><tspan>750</tspan></text>
<text x="0" y="0" font-size="42.5" fill="#000" transform="translate(787.40,2474.90) scale(1.0339,1)" ><tspan>Raman shift (cm</tspan></text>
<text x="1105.5" y="2458.1" font-size="27.045454545454547" fill="#000" ><tspan>-1</tspan></text>
<text x="1131.5" y="2474.9" font-size="42.5" fill="#000" ><tspan>)</tspan></text>
<text x="-3.69" y="0" font-size="45" fill="#000" transform="translate(768.5,2380.6) rotate(-90) scale(0.9621,1)">Normalized intensity (arb.units.)</text>
<polyline points="1402.3,1936.7 1403.1,1937.4 1403.9,1936.9 1404.7,1937.4 1405.5,1937.4 1406.3,1935.9 1407.1,1935.7 1407.9,1937.5 1408.7,1936.0 1409.5,1935.8 1410.3,1937.4 1411.1,1936.0 1411.9,1936.7 1412.7,1935.6 1413.5,1935.7 1414.3,1934.3 1415.1,1935.2 1415.9,1935.4 1416.7,1934.2 1417.5,1934.4 1418.3,1933.8 1419.2,1931.9 1420.0,1933.1 1420.8,1932.2 1421.6,1930.9 1422.4,1929.7 1423.2,1931.0 1424.0,1929.4 1424.8,1929.2 1425.6,1928.8 1426.4,1927.5 1427.2,1927.1 1428.0,1924.8 1428.8,1924.7 1429.6,1922.7 1430.4,1922.6 1431.2,1921.2 1432.0,1917.9 1432.8,1916.5 1433.6,1915.2 1434.4,1915.4 1435.2,1912.4 1436.0,1911.2 1436.8,1908.6 1437.6,1907.3 1438.4,1905.2 1439.2,1903.4 1440.0,1902.2 1440.8,1900.6 1441.6,1899.8 1442.4,1897.9 1443.2,1897.4 1444.0,1896.3 1444.8,1896.0 1445.6,1894.8 1446.4,1893.5 1447.2,1895.5 1448.0,1896.3 1448.8,1897.0 1449.6,1897.3 1450.5,1899.1 1451.3,1899.4 1452.1,1902.7 1452.9,1904.0 1453.7,1905.3 1454.5,1906.8 1455.3,1910.8 1456.1,1913.3 1456.9,1913.2 1457.7,1917.0 1458.5,1918.0 1459.3,1919.4 1460.1,1921.6 1460.9,1924.5 1461.7,1926.5 1462.5,1926.2 1463.3,1929.1 1464.1,1929.2 1464.9,1932.3 1465.7,1932.7 1466.5,1935.3 1467.3,1936.7 1468.1,1936.7 1468.9,1939.0 1469.7,1938.4 1470.5,1938.8 1471.3,1940.9 1472.1,1940.5 1472.9,1941.7 1473.7,1943.0 1474.5,1944.2 1475.3,1943.8 1476.1,1944.2 1476.9,1946.9 1477.7,1946.1 1478.5,1948.3 1479.3,1948.7 1480.1,1948.0 1480.9,1948.7 1481.7,1949.3 1482.5,1950.1 1483.4,1950.4 1484.2,1950.7 1485.0,1951.3 1485.8,1952.4 1486.6,1951.8 1487.4,1952.0 1488.2,1953.0 1489.0,1952.2 1489.8,1952.6 1490.6,1954.5 1491.4,1953.7 1492.2,1954.0 1493.0,1953.0 1493.8,1954.2 1494.6,1954.8 1495.4,1953.7 1496.2,1955.3 1497.0,1955.5 1497.8,1954.3 1498.6,1955.8 1499.4,1955.5 1500.2,1956.1 1501.0,1955.3 1501.8,1956.2 1502.6,1956.2 1503.4,1954.4 1504.2,1954.4 1505.0,1955.7 1505.8,1956.2 1506.6,1954.3 1507.4,1954.6 1508.2,1954.8 1509.0,1954.1 1509.8,1954.2 1510.6,1954.3 1511.4,1954.6 1512.2,1955.4 1513.0,1955.0 1513.8,1955.5 1514.7,1956.7 1515.5,1955.2 1516.3,1956.8 1517.1,1957.4 1517.9,1956.5 1518.7,1956.5 1519.5,1958.0 1520.3,1956.7 1521.1,1956.7 1521.9,1957.4 1522.7,1958.1 1523.5,1956.7 1524.3,1957.2 1525.1,1957.3 1525.9,1958.5 1526.7,1957.6 1527.5,1958.6 1528.3,1957.0 1529.1,1957.4 1529.9,1958.1 1530.7,1958.7 1531.5,1957.7 1532.3,1957.1 1533.1,1956.9 1533.9,1957.8 1534.7,1957.0 1535.5,1958.5 1536.3,1958.5 1537.1,1956.9 1537.9,1957.1 1538.7,1958.4 1539.5,1957.9 1540.3,1958.3 1541.1,1957.1 1541.9,1956.6 1542.7,1956.9 1543.5,1958.1 1544.3,1956.8 1545.1,1956.9 1545.9,1957.0 1546.8,1956.9 1547.6,1956.8 1548.4,1957.9 1549.2,1956.0 1550.0,1955.6 1550.8,1957.7 1551.6,1957.4 1552.4,1957.6 1553.2,1956.1 1554.0,1957.2 1554.8,1957.0 1555.6,1955.1 1556.4,1956.1 1557.2,1956.2 1558.0,1955.5 1558.8,1954.9 1559.6,1954.0 1560.4,1953.8 1561.2,1953.2 1562.0,1952.4 1562.8,1953.2 1563.6,1952.0 1564.4,1952.7 1565.2,1950.3 1566.0,1951.6 1566.8,1950.4 1567.6,1950.1 1568.4,1949.1 1569.2,1948.1 1570.0,1946.3 1570.8,1943.9 1571.6,1944.5 1572.4,1942.1 1573.2,1941.5 1574.0,1941.6 1574.8,1940.8 1575.6,1940.4 1576.4,1941.8 1577.2,1941.4 1578.0,1941.4 1578.8,1942.1 1579.7,1944.5 1580.5,1944.6 1581.3,1946.4 1582.1,1946.3 1582.9,1946.9 1583.7,1948.6 1584.5,1950.0 1585.3,1949.2 1586.1,1951.3 1586.9,1952.2 1587.7,1952.4 1588.5,1952.9 1589.3,1951.3 1590.1,1953.1 1590.9,1954.0 1591.7,1952.3 1592.5,1953.1 1593.3,1953.3 1594.1,1954.1 1594.9,1954.0 1595.7,1954.2 1596.5,1955.1 1597.3,1953.3 1598.1,1953.5 1598.9,1953.8 1599.7,1953.8 1600.5,1953.8 1601.3,1956.0 1602.1,1955.7 1602.9,1953.9 1603.7,1954.9 1604.5,1954.5 1605.3,1954.5 1606.1,1954.6 1606.9,1955.3 1607.7,1955.2 1608.5,1954.6 1609.3,1954.2 1610.1,1954.5 1611.0,1954.0 1611.8,1955.0 1612.6,1955.4 1613.4,1954.5 1614.2,1953.8 1615.0,1954.0 1615.8,1954.4 1616.6,1954.9 1617.4,1955.3 1618.2,1954.3 1619.0,1955.2 1619.8,1954.8 1620.6,1954.2 1621.4,1954.0 1622.2,1954.2 1623.0,1954.5 1623.8,1953.7 1624.6,1954.2 1625.4,1953.5 1626.2,1952.8 1627.0,1953.3 1627.8,1953.5 1628.6,1951.8 1629.4,1952.4 1630.2,1952.2 1631.0,1953.0 1631.8,1952.9 1632.6,1951.3 1633.4,1952.3 1634.2,1951.8 1635.0,1950.2 1635.8,1950.4 1636.6,1949.3 1637.4,1950.7 1638.2,1950.0 1639.0,1950.2 1639.8,1949.5 1640.6,1948.8 1641.4,1948.5 1642.2,1947.7 1643.0,1946.1 1643.9,1946.7 1644.7,1944.8 1645.5,1944.6 1646.3,1945.6 1647.1,1943.4 1647.9,1943.0 1648.7,1942.4 1649.5,1943.8 1650.3,1941.6 1651.1,1940.7 1651.9,1942.2 1652.7,1940.0 1653.5,1941.3 1654.3,1940.5 1655.1,1940.4 1655.9,1940.3 1656.7,1939.1 1657.5,1939.3 1658.3,1937.2 1659.1,1938.7 1659.9,1937.8 1660.7,1938.1 1661.5,1936.6 1662.3,1938.0 1663.1,1938.4 1663.9,1936.3 1664.7,1936.9 1665.5,1937.5 1666.3,1938.1 1667.1,1936.7 1667.9,1936.5 1668.7,1936.6 1669.5,1937.4 1670.3,1937.7 1671.1,1936.7 1671.9,1936.5 1672.7,1936.4 1673.5,1936.1 1674.3,1936.1 1675.2,1935.0 1676.0,1935.7 1676.8,1936.4 1677.6,1934.6 1678.4,1934.9 1679.2,1932.9 1680.0,1933.5 1680.8,1932.8 1681.6,1931.7 1682.4,1930.3 1683.2,1929.0 1684.0,1928.0 1684.8,1927.1 1685.6,1923.7 1686.4,1921.8 1687.2,1921.6 1688.0,1920.3 1688.8,1917.7 1689.6,1916.1 1690.4,1915.8 1691.2,1914.0 1692.0,1914.3 1692.8,1914.8 1693.6,1917.0 1694.4,1918.1 1695.2,1919.9 1696.0,1923.3 1696.8,1926.2 1697.6,1927.0 1698.4,1930.2 1699.2,1931.6 1700.0,1934.7 1700.8,1935.9 1701.6,1936.8 1702.4,1938.2 1703.2,1939.2 1704.0,1941.5 1704.8,1942.5 1705.6,1943.1 1706.4,1944.6 1707.2,1945.4 1708.1,1947.4 1708.9,1946.7 1709.7,1949.5 1710.5,1949.0 1711.3,1950.0 1712.1,1950.4 1712.9,1951.9 1713.7,1952.4 1714.5,1952.4 1715.3,1952.8 1716.1,1953.9 1716.9,1954.7 1717.7,1954.1 1718.5,1955.4 1719.3,1956.5 1720.1,1955.7 1720.9,1955.6 1721.7,1956.1 1722.5,1957.7 1723.3,1958.0 1724.1,1959.1 1724.9,1959.3 1725.7,1958.3 1726.5,1958.5 1727.3,1959.1 1728.1,1959.3 1728.9,1961.0 1729.7,1961.7 1730.5,1962.2 1731.3,1961.0 1732.1,1962.9 1732.9,1961.9 1733.7,1962.6 1734.5,1963.7 1735.3,1962.5 1736.1,1962.9 1736.9,1965.0 1737.7,1964.1 1738.5,1964.6 1739.4,1965.5 1740.2,1966.0 1741.0,1964.8 1741.8,1965.9 1742.6,1966.5 1743.4,1967.0 1744.2,1966.6 1745.0,1967.9 1745.8,1969.1 1746.6,1968.1 1747.4,1968.7 1748.2,1968.0 1749.0,1968.7 1749.8,1970.0 1750.6,1969.0 1751.4,1971.2 1752.2,1971.5 1753.0,1969.9 1753.8,1972.2 1754.6,1971.1 1755.4,1972.4" stroke="#178C8C" stroke-width="2.4" fill="none" stroke-linejoin="round"/>
<polyline points="1402.3,1964.8 1403.1,1963.6 1403.9,1964.5 1404.7,1964.3 1405.5,1964.6 1406.3,1963.1 1407.1,1964.2 1407.9,1964.5 1408.7,1963.6 1409.5,1963.1 1410.3,1961.9 1411.1,1962.6 1411.9,1962.0 1412.7,1962.6 1413.5,1962.3 1414.3,1961.7 1415.1,1960.4 1415.9,1961.2 1416.7,1960.7 1417.5,1959.2 1418.3,1960.5 1419.2,1959.4 1420.0,1957.6 1420.8,1959.0 1421.6,1956.5 1422.4,1956.2 1423.2,1956.5 1424.0,1955.4 1424.8,1954.5 1425.6,1953.8 1426.4,1952.4 1427.2,1951.0 1428.0,1949.6 1428.8,1948.1 1429.6,1948.4 1430.4,1947.2 1431.2,1945.2 1432.0,1944.2 1432.8,1941.7 1433.6,1939.8 1434.4,1938.3 1435.2,1937.7 1436.0,1933.8 1436.8,1933.0 1437.6,1930.4 1438.4,1929.7 1439.2,1926.8 1440.0,1924.9 1440.8,1923.3 1441.6,1922.0 1442.4,1921.1 1443.2,1918.8 1444.0,1919.0 1444.8,1916.5 1445.6,1916.5 1446.4,1916.0 1447.2,1916.2 1448.0,1918.4 1448.8,1919.2 1449.6,1919.1 1450.5,1920.5 1451.3,1922.8 1452.1,1925.4 1452.9,1927.6 1453.7,1929.6 1454.5,1931.4 1455.3,1932.6 1456.1,1935.4 1456.9,1937.2 1457.7,1940.1 1458.5,1942.4 1459.3,1943.6 1460.1,1945.7 1460.9,1948.9 1461.7,1948.9 1462.5,1952.5 1463.3,1954.4 1464.1,1956.1 1464.9,1956.2 1465.7,1958.1 1466.5,1959.5 1467.3,1960.9 1468.1,1962.9 1468.9,1963.3 1469.7,1963.5 1470.5,1965.8 1471.3,1965.9 1472.1,1967.1 1472.9,1968.3 1473.7,1967.4 1474.5,1970.0 1475.3,1970.5 1476.1,1970.8 1476.9,1971.5 1477.7,1972.0 1478.5,1972.0 1479.3,1973.4 1480.1,1972.7 1480.9,1974.4 1481.7,1975.2 1482.5,1975.2 1483.4,1976.0 1484.2,1977.4 1485.0,1977.6 1485.8,1976.2 1486.6,1978.2 1487.4,1978.1 1488.2,1977.1 1489.0,1978.2 1489.8,1978.2 1490.6,1978.1 1491.4,1979.5 1492.2,1980.7 1493.0,1979.5 1493.8,1981.1 1494.6,1980.9 1495.4,1979.8 1496.2,1981.7 1497.0,1981.2 1497.8,1982.2 1498.6,1981.8 1499.4,1981.9 1500.2,1981.0 1501.0,1982.2 1501.8,1982.5 1502.6,1982.3 1503.4,1981.1 1504.2,1981.8 1505.0,1981.0 1505.8,1979.9 1506.6,1979.5 1507.4,1979.4 1508.2,1979.6 1509.0,1979.5 1509.8,1980.4 1510.6,1981.0 1511.4,1980.9 1512.2,1980.9 1513.0,1981.8 1513.8,1981.4 1514.7,1982.1 1515.5,1983.2 1516.3,1982.6 1517.1,1982.3 1517.9,1984.3 1518.7,1984.1 1519.5,1983.4 1520.3,1983.6 1521.1,1984.1 1521.9,1984.3 1522.7,1983.5 1523.5,1983.1 1524.3,1983.7 1525.1,1985.1 1525.9,1983.6 1526.7,1984.4 1527.5,1983.8 1528.3,1983.9 1529.1,1983.8 1529.9,1984.4 1530.7,1983.9 1531.5,1983.6 1532.3,1983.8 1533.1,1983.9 1533.9,1984.7 1534.7,1983.7 1535.5,1983.6 1536.3,1984.6 1537.1,1984.5 1537.9,1985.2 1538.7,1983.6 1539.5,1984.4 1540.3,1984.4 1541.1,1983.5 1541.9,1985.7 1542.7,1983.9 1543.5,1983.6 1544.3,1984.4 1545.1,1983.6 1545.9,1984.7 1546.8,1984.0 1547.6,1983.4 1548.4,1983.1 1549.2,1984.7 1550.0,1983.5 1550.8,1984.7 1551.6,1983.8 1552.4,1984.8 1553.2,1983.2 1554.0,1982.9 1554.8,1982.8 1555.6,1984.0 1556.4,1983.4 1557.2,1982.5 1558.0,1981.7 1558.8,1982.9 1559.6,1983.3 1560.4,1982.1 1561.2,1980.4 1562.0,1980.1 1562.8,1979.9 1563.6,1979.6 1564.4,1978.8 1565.2,1978.3 1566.0,1979.1 1566.8,1979.0 1567.6,1976.6 1568.4,1977.6 1569.2,1975.5 1570.0,1975.3 1570.8,1974.6 1571.6,1973.7 1572.4,1970.6 1573.2,1970.4 1574.0,1970.4 1574.8,1970.8 1575.6,1968.6 1576.4,1969.2 1577.2,1970.9 1578.0,1969.8 1578.8,1971.3 1579.7,1972.0 1580.5,1973.8 1581.3,1975.4 1582.1,1974.5 1582.9,1976.7 1583.7,1977.5 1584.5,1978.4 1585.3,1978.4 1586.1,1979.9 1586.9,1979.1 1587.7,1979.6 1588.5,1979.6 1589.3,1981.3 1590.1,1980.9 1590.9,1980.6 1591.7,1980.7 1592.5,1982.2 1593.3,1982.1 1594.1,1982.5 1594.9,1981.9 1595.7,1982.3 1596.5,1981.6 1597.3,1983.0 1598.1,1981.4 1598.9,1982.6 1599.7,1983.3 1600.5,1983.2 1601.3,1981.8 1602.1,1982.2 1602.9,1983.7 1603.7,1983.2 1604.5,1983.8 1605.3,1983.8 1606.1,1982.8 1606.9,1983.9 1607.7,1983.5 1608.5,1982.5 1609.3,1982.6 1610.1,1981.8 1611.0,1982.6 1611.8,1983.9 1612.6,1981.8 1613.4,1982.9 1614.2,1981.8 1615.0,1981.7 1615.8,1983.0 1616.6,1982.0 1617.4,1981.5 1618.2,1981.7 1619.0,1982.8 1619.8,1982.6 1620.6,1981.1 1621.4,1981.5 1622.2,1983.2 1623.0,1981.2 1623.8,1981.9 1624.6,1981.3 1625.4,1982.0 1626.2,1981.4 1627.0,1981.6 1627.8,1980.7 1628.6,1979.6 1629.4,1979.3 1630.2,1978.8 1631.0,1980.3 1631.8,1978.2 1632.6,1977.7 1633.4,1979.6 1634.2,1977.5 1635.0,1978.8 1635.8,1976.5 1636.6,1977.0 1637.4,1976.0 1638.2,1977.1 1639.0,1976.1 1639.8,1975.7 1640.6,1975.4 1641.4,1975.1 1642.2,1973.3 1643.0,1973.3 1643.9,1972.3 1644.7,1970.8 1645.5,1971.9 1646.3,1970.7 1647.1,1970.5 1647.9,1968.4 1648.7,1968.6 1649.5,1967.7 1650.3,1967.7 1651.1,1965.5 1651.9,1965.6 1652.7,1965.3 1653.5,1963.8 1654.3,1964.4 1655.1,1964.3 1655.9,1963.1 1656.7,1963.2 1657.5,1962.7 1658.3,1961.4 1659.1,1961.4 1659.9,1962.7 1660.7,1960.9 1661.5,1961.0 1662.3,1960.0 1663.1,1960.3 1663.9,1960.2 1664.7,1962.1 1665.5,1961.6 1666.3,1962.0 1667.1,1962.2 1667.9,1961.3 1668.7,1962.1 1669.5,1961.1 1670.3,1960.8 1671.1,1962.0 1671.9,1961.8 1672.7,1961.8 1673.5,1960.6 1674.3,1961.1 1675.2,1960.1 1676.0,1961.2 1676.8,1960.8 1677.6,1958.9 1678.4,1960.0 1679.2,1957.8 1680.0,1957.0 1680.8,1957.8 1681.6,1956.0 1682.4,1955.7 1683.2,1955.0 1684.0,1952.4 1684.8,1952.8 1685.6,1950.3 1686.4,1949.2 1687.2,1947.5 1688.0,1946.9 1688.8,1945.6 1689.6,1943.3 1690.4,1942.1 1691.2,1942.2 1692.0,1942.6 1692.8,1942.5 1693.6,1943.8 1694.4,1946.9 1695.2,1948.6 1696.0,1951.4 1696.8,1953.5 1697.6,1955.4 1698.4,1956.2 1699.2,1957.7 1700.0,1959.9 1700.8,1961.9 1701.6,1963.7 1702.4,1965.2 1703.2,1966.0 1704.0,1968.5 1704.8,1968.2 1705.6,1969.7 1706.4,1971.7 1707.2,1972.5 1708.1,1972.1 1708.9,1972.8 1709.7,1974.9 1710.5,1973.7 1711.3,1974.7 1712.1,1976.3 1712.9,1977.0 1713.7,1976.7 1714.5,1977.1 1715.3,1978.0 1716.1,1979.9 1716.9,1979.7 1717.7,1981.5 1718.5,1981.6 1719.3,1982.6 1720.1,1980.8 1720.9,1981.6 1721.7,1981.7 1722.5,1983.2 1723.3,1983.5 1724.1,1983.2 1724.9,1984.9 1725.7,1984.3 1726.5,1985.2 1727.3,1985.5 1728.1,1987.3 1728.9,1986.8 1729.7,1986.9 1730.5,1986.8 1731.3,1988.1 1732.1,1989.0 1732.9,1989.6 1733.7,1990.5 1734.5,1990.7 1735.3,1989.8 1736.1,1989.9 1736.9,1991.8 1737.7,1992.3 1738.5,1992.0 1739.4,1993.2 1740.2,1992.9 1741.0,1992.6 1741.8,1992.7 1742.6,1992.8 1743.4,1994.7 1744.2,1995.6 1745.0,1996.0 1745.8,1995.4 1746.6,1996.2 1747.4,1997.2 1748.2,1997.3 1749.0,1997.1 1749.8,1997.0 1750.6,1997.7 1751.4,1997.2 1752.2,1997.5 1753.0,1999.1 1753.8,2000.2 1754.6,1999.4 1755.4,1999.4" stroke="#F0649E" stroke-width="2.4" fill="none" stroke-linejoin="round"/>
<polyline points="1402.3,1990.7 1403.1,1990.9 1403.9,1991.6 1404.7,1990.6 1405.5,1991.7 1406.3,1989.6 1407.1,1989.8 1407.9,1990.2 1408.7,1989.7 1409.5,1990.6 1410.3,1990.3 1411.1,1990.3 1411.9,1989.3 1412.7,1987.7 1413.5,1988.7 1414.3,1988.3 1415.1,1987.8 1415.9,1987.0 1416.7,1987.6 1417.5,1987.7 1418.3,1985.3 1419.2,1986.2 1420.0,1985.0 1420.8,1984.8 1421.6,1985.2 1422.4,1984.7 1423.2,1983.3 1424.0,1981.5 1424.8,1982.5 1425.6,1979.9 1426.4,1979.5 1427.2,1979.6 1428.0,1977.4 1428.8,1976.2 1429.6,1976.8 1430.4,1975.5 1431.2,1972.8 1432.0,1971.6 1432.8,1969.9 1433.6,1968.1 1434.4,1966.8 1435.2,1967.0 1436.0,1963.1 1436.8,1961.8 1437.6,1960.0 1438.4,1958.0 1439.2,1957.4 1440.0,1956.2 1440.8,1954.9 1441.6,1952.9 1442.4,1952.1 1443.2,1949.0 1444.0,1948.8 1444.8,1949.7 1445.6,1947.2 1446.4,1947.5 1447.2,1948.2 1448.0,1948.2 1448.8,1949.6 1449.6,1949.3 1450.5,1951.0 1451.3,1954.1 1452.1,1953.8 1452.9,1957.3 1453.7,1957.3 1454.5,1961.1 1455.3,1962.3 1456.1,1964.1 1456.9,1964.7 1457.7,1966.4 1458.5,1969.9 1459.3,1970.2 1460.1,1971.9 1460.9,1975.0 1461.7,1976.7 1462.5,1976.2 1463.3,1979.8 1464.1,1980.0 1464.9,1980.9 1465.7,1981.5 1466.5,1983.2 1467.3,1985.7 1468.1,1985.0 1468.9,1985.6 1469.7,1986.5 1470.5,1987.3 1471.3,1988.7 1472.1,1990.8 1472.9,1989.5 1473.7,1990.4 1474.5,1992.8 1475.3,1993.6 1476.1,1994.1 1476.9,1992.9 1477.7,1993.7 1478.5,1995.6 1479.3,1994.9 1480.1,1995.9 1480.9,1995.4 1481.7,1995.1 1482.5,1996.2 1483.4,1997.5 1484.2,1997.9 1485.0,1997.7 1485.8,1997.8 1486.6,1998.2 1487.4,1998.3 1488.2,1998.7 1489.0,1999.7 1489.8,1998.4 1490.6,1999.5 1491.4,2000.5 1492.2,2000.4 1493.0,1999.0 1493.8,2001.0 1494.6,2000.7 1495.4,1999.2 1496.2,1999.5 1497.0,1999.3 1497.8,1998.9 1498.6,2001.0 1499.4,1999.5 1500.2,2000.5 1501.0,1998.4 1501.8,1997.9 1502.6,1999.6 1503.4,1999.0 1504.2,1999.0 1505.0,1997.7 1505.8,1996.8 1506.6,1996.8 1507.4,1994.7 1508.2,1995.5 1509.0,1995.2 1509.8,1994.6 1510.6,1996.1 1511.4,1996.1 1512.2,1997.3 1513.0,1997.8 1513.8,1998.6 1514.7,1999.6 1515.5,2001.0 1516.3,2002.7 1517.1,2003.3 1517.9,2003.8 1518.7,2004.3 1519.5,2003.5 1520.3,2005.6 1521.1,2004.3 1521.9,2004.3 1522.7,2005.5 1523.5,2006.4 1524.3,2005.7 1525.1,2006.7 1525.9,2006.0 1526.7,2007.8 1527.5,2006.8 1528.3,2007.0 1529.1,2007.2 1529.9,2008.1 1530.7,2008.5 1531.5,2007.5 1532.3,2007.4 1533.1,2007.9 1533.9,2006.6 1534.7,2007.5 1535.5,2008.6 1536.3,2008.5 1537.1,2006.8 1537.9,2008.8 1538.7,2007.7 1539.5,2009.1 1540.3,2007.7 1541.1,2007.4 1541.9,2008.2 1542.7,2009.0 1543.5,2007.9 1544.3,2009.0 1545.1,2008.6 1545.9,2007.8 1546.8,2007.6 1547.6,2008.1 1548.4,2007.8 1549.2,2007.7 1550.0,2008.4 1550.8,2008.9 1551.6,2008.1 1552.4,2007.0 1553.2,2007.1 1554.0,2007.4 1554.8,2007.9 1555.6,2006.6 1556.4,2006.4 1557.2,2006.8 1558.0,2006.6 1558.8,2005.8 1559.6,2006.8 1560.4,2007.5 1561.2,2006.3 1562.0,2006.5 1562.8,2006.4 1563.6,2006.0 1564.4,2005.7 1565.2,2004.1 1566.0,2004.1 1566.8,2002.2 1567.6,2003.3 1568.4,2001.3 1569.2,2000.7 1570.0,2000.9 1570.8,1998.5 1571.6,1997.4 1572.4,1998.0 1573.2,1996.7 1574.0,1994.9 1574.8,1994.4 1575.6,1995.0 1576.4,1994.3 1577.2,1996.7 1578.0,1995.8 1578.8,1996.8 1579.7,1997.9 1580.5,1999.1 1581.3,1999.9 1582.1,2001.2 1582.9,2002.1 1583.7,2002.4 1584.5,2002.2 1585.3,2005.0 1586.1,2004.9 1586.9,2003.9 1587.7,2005.2 1588.5,2006.3 1589.3,2007.3 1590.1,2005.3 1590.9,2005.5 1591.7,2006.8 1592.5,2006.9 1593.3,2008.2 1594.1,2008.2 1594.9,2007.2 1595.7,2007.5 1596.5,2008.0 1597.3,2008.8 1598.1,2007.2 1598.9,2007.8 1599.7,2007.1 1600.5,2008.4 1601.3,2007.0 1602.1,2009.2 1602.9,2008.2 1603.7,2008.3 1604.5,2007.2 1605.3,2007.5 1606.1,2008.1 1606.9,2009.0 1607.7,2008.2 1608.5,2007.5 1609.3,2009.2 1610.1,2008.4 1611.0,2008.0 1611.8,2007.1 1612.6,2007.3 1613.4,2008.7 1614.2,2006.8 1615.0,2007.7 1615.8,2007.8 1616.6,2007.1 1617.4,2008.0 1618.2,2008.2 1619.0,2008.0 1619.8,2007.5 1620.6,2006.0 1621.4,2005.3 1622.2,2005.7 1623.0,2004.9 1623.8,2004.1 1624.6,2005.1 1625.4,2002.9 1626.2,2003.6 1627.0,2003.2 1627.8,2000.5 1628.6,2001.6 1629.4,1999.6 1630.2,1998.4 1631.0,1997.7 1631.8,1996.6 1632.6,1997.0 1633.4,1996.1 1634.2,1996.6 1635.0,1996.0 1635.8,1993.7 1636.6,1994.1 1637.4,1993.6 1638.2,1992.7 1639.0,1992.5 1639.8,1992.1 1640.6,1992.7 1641.4,1991.4 1642.2,1990.4 1643.0,1990.3 1643.9,1990.4 1644.7,1990.2 1645.5,1989.0 1646.3,1989.7 1647.1,1988.1 1647.9,1988.8 1648.7,1988.3 1649.5,1986.9 1650.3,1987.9 1651.1,1986.7 1651.9,1986.7 1652.7,1986.5 1653.5,1986.3 1654.3,1985.6 1655.1,1984.4 1655.9,1985.9 1656.7,1985.9 1657.5,1984.8 1658.3,1984.9 1659.1,1984.1 1659.9,1985.5 1660.7,1984.9 1661.5,1983.8 1662.3,1985.3 1663.1,1985.7 1663.9,1984.3 1664.7,1985.9 1665.5,1984.8 1666.3,1984.2 1667.1,1985.5 1667.9,1984.7 1668.7,1985.7 1669.5,1985.3 1670.3,1984.2 1671.1,1985.2 1671.9,1985.9 1672.7,1985.0 1673.5,1985.0 1674.3,1985.7 1675.2,1984.5 1676.0,1984.3 1676.8,1984.3 1677.6,1984.5 1678.4,1982.6 1679.2,1981.8 1680.0,1982.8 1680.8,1981.6 1681.6,1980.2 1682.4,1980.6 1683.2,1979.5 1684.0,1977.4 1684.8,1977.1 1685.6,1975.1 1686.4,1973.3 1687.2,1970.5 1688.0,1968.2 1688.8,1968.2 1689.6,1967.1 1690.4,1965.2 1691.2,1965.1 1692.0,1965.5 1692.8,1965.6 1693.6,1968.0 1694.4,1969.5 1695.2,1971.2 1696.0,1972.9 1696.8,1976.4 1697.6,1978.2 1698.4,1981.6 1699.2,1982.5 1700.0,1985.1 1700.8,1986.5 1701.6,1988.8 1702.4,1990.9 1703.2,1991.2 1704.0,1992.5 1704.8,1994.8 1705.6,1995.4 1706.4,1997.2 1707.2,1997.4 1708.1,1998.2 1708.9,2000.2 1709.7,2002.0 1710.5,2002.7 1711.3,2002.7 1712.1,2003.1 1712.9,2003.1 1713.7,2004.3 1714.5,2005.0 1715.3,2007.2 1716.1,2005.8 1716.9,2008.4 1717.7,2007.9 1718.5,2008.4 1719.3,2008.6 1720.1,2010.8 1720.9,2009.5 1721.7,2011.0 1722.5,2011.4 1723.3,2011.1 1724.1,2011.7 1724.9,2014.1 1725.7,2014.1 1726.5,2014.5 1727.3,2015.4 1728.1,2013.9 1728.9,2015.9 1729.7,2016.5 1730.5,2015.7 1731.3,2016.7 1732.1,2018.4 1732.9,2017.4 1733.7,2018.9 1734.5,2017.9 1735.3,2019.6 1736.1,2019.1 1736.9,2020.1 1737.7,2020.2 1738.5,2021.9 1739.4,2022.0 1740.2,2021.9 1741.0,2022.7 1741.8,2022.6 1742.6,2023.9 1743.4,2023.0 1744.2,2024.1 1745.0,2024.7 1745.8,2024.6 1746.6,2024.2 1747.4,2024.9 1748.2,2026.5 1749.0,2025.9 1749.8,2027.6 1750.6,2027.4 1751.4,2028.9 1752.2,2029.0 1753.0,2029.1 1753.8,2028.7 1754.6,2028.3 1755.4,2029.9" stroke="#F7A8CC" stroke-width="2.4" fill="none" stroke-linejoin="round"/>
<polyline points="1402.3,2018.5 1403.1,2018.8 1403.9,2017.0 1404.7,2016.8 1405.5,2018.6 1406.3,2017.9 1407.1,2017.1 1407.9,2017.6 1408.7,2016.0 1409.5,2016.7 1410.3,2016.8 1411.1,2016.4 1411.9,2015.1 1412.7,2014.8 1413.5,2015.7 1414.3,2016.0 1415.1,2013.9 1415.9,2013.3 1416.7,2013.1 1417.5,2014.4 1418.3,2013.0 1419.2,2012.7 1420.0,2013.5 1420.8,2012.1 1421.6,2010.7 1422.4,2011.1 1423.2,2008.8 1424.0,2008.8 1424.8,2009.0 1425.6,2007.0 1426.4,2005.8 1427.2,2006.0 1428.0,2004.6 1428.8,2005.1 1429.6,2001.9 1430.4,2002.5 1431.2,2000.2 1432.0,1999.9 1432.8,1997.7 1433.6,1996.8 1434.4,1994.4 1435.2,1992.6 1436.0,1991.6 1436.8,1990.7 1437.6,1988.0 1438.4,1986.0 1439.2,1984.8 1440.0,1982.4 1440.8,1981.4 1441.6,1980.6 1442.4,1979.3 1443.2,1978.3 1444.0,1976.7 1444.8,1975.4 1445.6,1975.0 1446.4,1975.6 1447.2,1975.5 1448.0,1976.8 1448.8,1976.8 1449.6,1978.9 1450.5,1979.7 1451.3,1981.2 1452.1,1982.9 1452.9,1984.0 1453.7,1985.6 1454.5,1987.1 1455.3,1988.3 1456.1,1991.9 1456.9,1993.0 1457.7,1993.8 1458.5,1997.6 1459.3,1998.4 1460.1,2000.1 1460.9,2001.2 1461.7,2002.0 1462.5,2005.5 1463.3,2004.9 1464.1,2006.6 1464.9,2009.3 1465.7,2008.4 1466.5,2010.3 1467.3,2011.3 1468.1,2011.7 1468.9,2014.3 1469.7,2013.9 1470.5,2013.7 1471.3,2015.6 1472.1,2015.2 1472.9,2017.5 1473.7,2018.6 1474.5,2019.3 1475.3,2017.8 1476.1,2019.8 1476.9,2019.4 1477.7,2020.3 1478.5,2020.3 1479.3,2020.8 1480.1,2020.8 1480.9,2022.3 1481.7,2021.4 1482.5,2023.8 1483.4,2021.9 1484.2,2024.4 1485.0,2022.8 1485.8,2022.8 1486.6,2024.6 1487.4,2024.3 1488.2,2025.1 1489.0,2024.6 1489.8,2025.0 1490.6,2023.8 1491.4,2025.3 1492.2,2025.0 1493.0,2026.1 1493.8,2023.8 1494.6,2023.9 1495.4,2025.3 1496.2,2025.8 1497.0,2024.4 1497.8,2024.8 1498.6,2024.1 1499.4,2023.3 1500.2,2023.0 1501.0,2022.8 1501.8,2020.7 1502.6,2020.5 1503.4,2020.7 1504.2,2018.5 1505.0,2017.9 1505.8,2016.2 1506.6,2015.3 1507.4,2015.0 1508.2,2014.6 1509.0,2014.7 1509.8,2013.7 1510.6,2013.6 1511.4,2014.8 1512.2,2015.4 1513.0,2017.2 1513.8,2019.5 1514.7,2021.0 1515.5,2021.4 1516.3,2022.5 1517.1,2023.5 1517.9,2024.6 1518.7,2026.3 1519.5,2026.5 1520.3,2028.7 1521.1,2028.6 1521.9,2028.6 1522.7,2029.3 1523.5,2028.8 1524.3,2030.8 1525.1,2031.2 1525.9,2030.6 1526.7,2031.7 1527.5,2030.9 1528.3,2031.0 1529.1,2031.2 1529.9,2031.3 1530.7,2032.4 1531.5,2032.6 1532.3,2033.0 1533.1,2031.6 1533.9,2033.3 1534.7,2032.7 1535.5,2032.6 1536.3,2033.0 1537.1,2032.9 1537.9,2032.4 1538.7,2032.9 1539.5,2033.6 1540.3,2033.9 1541.1,2034.4 1541.9,2032.7 1542.7,2034.4 1543.5,2034.3 1544.3,2034.1 1545.1,2034.8 1545.9,2032.8 1546.8,2034.3 1547.6,2034.6 1548.4,2032.8 1549.2,2033.9 1550.0,2034.8 1550.8,2033.2 1551.6,2034.5 1552.4,2034.6 1553.2,2033.4 1554.0,2032.7 1554.8,2032.8 1555.6,2034.2 1556.4,2033.1 1557.2,2032.7 1558.0,2032.9 1558.8,2033.9 1559.6,2032.1 1560.4,2031.3 1561.2,2033.3 1562.0,2031.5 1562.8,2031.3 1563.6,2032.3 1564.4,2030.2 1565.2,2029.3 1566.0,2030.6 1566.8,2028.5 1567.6,2027.7 1568.4,2028.6 1569.2,2026.1 1570.0,2026.8 1570.8,2024.5 1571.6,2023.5 1572.4,2022.4 1573.2,2022.4 1574.0,2021.8 1574.8,2021.0 1575.6,2021.2 1576.4,2020.8 1577.2,2022.6 1578.0,2023.5 1578.8,2023.9 1579.7,2025.1 1580.5,2024.3 1581.3,2025.7 1582.1,2026.6 1582.9,2027.4 1583.7,2030.2 1584.5,2030.8 1585.3,2031.5 1586.1,2031.3 1586.9,2030.7 1587.7,2032.0 1588.5,2031.5 1589.3,2034.0 1590.1,2032.8 1590.9,2033.1 1591.7,2035.0 1592.5,2033.4 1593.3,2035.4 1594.1,2034.1 1594.9,2035.1 1595.7,2033.9 1596.5,2035.9 1597.3,2034.8 1598.1,2034.8 1598.9,2035.6 1599.7,2035.5 1600.5,2034.7 1601.3,2034.4 1602.1,2035.5 1602.9,2034.2 1603.7,2036.3 1604.5,2035.0 1605.3,2034.6 1606.1,2034.9 1606.9,2034.4 1607.7,2034.8 1608.5,2035.3 1609.3,2034.9 1610.1,2034.7 1611.0,2034.5 1611.8,2034.9 1612.6,2035.5 1613.4,2034.6 1614.2,2035.3 1615.0,2034.5 1615.8,2033.6 1616.6,2033.6 1617.4,2035.1 1618.2,2034.1 1619.0,2033.7 1619.8,2033.7 1620.6,2034.1 1621.4,2032.4 1622.2,2031.7 1623.0,2030.9 1623.8,2029.2 1624.6,2029.5 1625.4,2028.3 1626.2,2027.3 1627.0,2026.0 1627.8,2024.9 1628.6,2024.4 1629.4,2021.9 1630.2,2022.7 1631.0,2019.5 1631.8,2020.3 1632.6,2017.6 1633.4,2018.2 1634.2,2016.0 1635.0,2014.8 1635.8,2015.3 1636.6,2015.5 1637.4,2015.1 1638.2,2014.7 1639.0,2014.6 1639.8,2011.9 1640.6,2012.3 1641.4,2011.3 1642.2,2012.5 1643.0,2011.4 1643.9,2011.7 1644.7,2011.5 1645.5,2011.7 1646.3,2010.6 1647.1,2010.8 1647.9,2009.7 1648.7,2008.3 1649.5,2010.1 1650.3,2007.9 1651.1,2007.7 1651.9,2009.3 1652.7,2007.8 1653.5,2008.6 1654.3,2006.9 1655.1,2007.3 1655.9,2008.4 1656.7,2006.7 1657.5,2007.8 1658.3,2008.8 1659.1,2007.1 1659.9,2008.3 1660.7,2008.5 1661.5,2008.2 1662.3,2008.7 1663.1,2008.7 1663.9,2007.2 1664.7,2007.7 1665.5,2008.7 1666.3,2009.9 1667.1,2008.2 1667.9,2009.2 1668.7,2008.1 1669.5,2010.0 1670.3,2009.0 1671.1,2009.3 1671.9,2009.6 1672.7,2008.4 1673.5,2009.7 1674.3,2009.8 1675.2,2009.9 1676.0,2008.3 1676.8,2008.0 1677.6,2007.5 1678.4,2009.0 1679.2,2007.4 1680.0,2006.8 1680.8,2006.5 1681.6,2006.2 1682.4,2004.4 1683.2,2003.5 1684.0,2003.4 1684.8,2002.2 1685.6,1999.7 1686.4,1997.7 1687.2,1998.2 1688.0,1996.2 1688.8,1994.5 1689.6,1992.9 1690.4,1993.4 1691.2,1991.8 1692.0,1991.6 1692.8,1992.1 1693.6,1994.0 1694.4,1996.3 1695.2,1997.8 1696.0,2001.4 1696.8,2003.0 1697.6,2004.8 1698.4,2007.5 1699.2,2009.5 1700.0,2011.5 1700.8,2013.0 1701.6,2014.8 1702.4,2016.3 1703.2,2018.5 1704.0,2018.3 1704.8,2021.0 1705.6,2021.0 1706.4,2023.4 1707.2,2022.5 1708.1,2024.5 1708.9,2025.3 1709.7,2026.8 1710.5,2026.4 1711.3,2027.3 1712.1,2027.7 1712.9,2029.5 1713.7,2030.2 1714.5,2029.5 1715.3,2030.6 1716.1,2031.2 1716.9,2033.7 1717.7,2033.1 1718.5,2033.9 1719.3,2033.9 1720.1,2035.3 1720.9,2036.2 1721.7,2036.4 1722.5,2035.4 1723.3,2037.0 1724.1,2037.6 1724.9,2037.1 1725.7,2039.4 1726.5,2038.8 1727.3,2039.2 1728.1,2040.5 1728.9,2040.9 1729.7,2041.2 1730.5,2042.5 1731.3,2042.2 1732.1,2042.3 1732.9,2042.1 1733.7,2043.7 1734.5,2043.8 1735.3,2044.6 1736.1,2044.7 1736.9,2044.3 1737.7,2044.8 1738.5,2045.6 1739.4,2045.9 1740.2,2048.2 1741.0,2048.0 1741.8,2047.6 1742.6,2049.2 1743.4,2049.5 1744.2,2048.5 1745.0,2050.6 1745.8,2049.8 1746.6,2052.1 1747.4,2050.5 1748.2,2051.2 1749.0,2051.6 1749.8,2053.5 1750.6,2053.8 1751.4,2053.6 1752.2,2053.0 1753.0,2054.1 1753.8,2055.2 1754.6,2054.1 1755.4,2056.5" stroke="#4A148C" stroke-width="2.4" fill="none" stroke-linejoin="round"/>
<polyline points="1402.3,2045.6 1403.1,2045.7 1403.9,2045.0 1404.7,2044.7 1405.5,2045.4 1406.3,2043.6 1407.1,2043.5 1407.9,2042.9 1408.7,2042.8 1409.5,2044.1 1410.3,2042.2 1411.1,2043.5 1411.9,2042.5 1412.7,2043.4 1413.5,2042.8 1414.3,2042.3 1415.1,2042.4 1415.9,2040.1 1416.7,2040.3 1417.5,2040.1 1418.3,2039.8 1419.2,2040.0 1420.0,2040.0 1420.8,2039.1 1421.6,2039.0 1422.4,2037.9 1423.2,2036.4 1424.0,2036.1 1424.8,2036.0 1425.6,2035.4 1426.4,2033.5 1427.2,2032.5 1428.0,2032.2 1428.8,2030.3 1429.6,2030.8 1430.4,2027.6 1431.2,2027.9 1432.0,2026.3 1432.8,2024.2 1433.6,2023.8 1434.4,2022.1 1435.2,2021.7 1436.0,2020.0 1436.8,2017.7 1437.6,2016.8 1438.4,2015.2 1439.2,2011.9 1440.0,2011.9 1440.8,2010.5 1441.6,2009.5 1442.4,2007.7 1443.2,2005.7 1444.0,2004.4 1444.8,2004.9 1445.6,2003.4 1446.4,2004.6 1447.2,2004.3 1448.0,2005.3 1448.8,2004.8 1449.6,2005.5 1450.5,2008.1 1451.3,2008.8 1452.1,2009.5 1452.9,2011.5 1453.7,2012.8 1454.5,2015.0 1455.3,2016.4 1456.1,2017.6 1456.9,2021.0 1457.7,2022.4 1458.5,2023.7 1459.3,2024.2 1460.1,2025.5 1460.9,2028.2 1461.7,2029.8 1462.5,2030.8 1463.3,2031.0 1464.1,2033.4 1464.9,2034.0 1465.7,2034.7 1466.5,2036.3 1467.3,2036.9 1468.1,2038.2 1468.9,2039.3 1469.7,2040.7 1470.5,2039.3 1471.3,2041.2 1472.1,2042.7 1472.9,2042.7 1473.7,2043.1 1474.5,2044.3 1475.3,2042.8 1476.1,2045.2 1476.9,2045.2 1477.7,2045.6 1478.5,2045.3 1479.3,2046.5 1480.1,2045.6 1480.9,2046.9 1481.7,2046.6 1482.5,2048.6 1483.4,2048.5 1484.2,2048.0 1485.0,2048.9 1485.8,2048.3 1486.6,2048.8 1487.4,2048.1 1488.2,2050.0 1489.0,2049.9 1489.8,2050.0 1490.6,2048.5 1491.4,2050.3 1492.2,2048.4 1493.0,2049.8 1493.8,2049.6 1494.6,2048.5 1495.4,2049.3 1496.2,2050.3 1497.0,2049.5 1497.8,2048.5 1498.6,2049.4 1499.4,2047.9 1500.2,2048.8 1501.0,2047.0 1501.8,2045.6 1502.6,2047.0 1503.4,2044.0 1504.2,2043.5 1505.0,2043.7 1505.8,2041.1 1506.6,2041.2 1507.4,2041.1 1508.2,2039.8 1509.0,2039.0 1509.8,2040.2 1510.6,2040.9 1511.4,2041.3 1512.2,2042.7 1513.0,2043.4 1513.8,2045.1 1514.7,2048.0 1515.5,2049.3 1516.3,2048.3 1517.1,2049.9 1517.9,2051.0 1518.7,2053.4 1519.5,2052.8 1520.3,2053.5 1521.1,2055.6 1521.9,2054.7 1522.7,2057.2 1523.5,2056.4 1524.3,2057.9 1525.1,2058.1 1525.9,2057.0 1526.7,2058.7 1527.5,2058.1 1528.3,2057.8 1529.1,2057.6 1529.9,2059.3 1530.7,2059.1 1531.5,2058.7 1532.3,2060.1 1533.1,2058.7 1533.9,2059.4 1534.7,2058.6 1535.5,2059.3 1536.3,2060.7 1537.1,2059.9 1537.9,2059.1 1538.7,2059.4 1539.5,2060.4 1540.3,2059.6 1541.1,2061.1 1541.9,2059.2 1542.7,2061.2 1543.5,2060.6 1544.3,2061.1 1545.1,2060.1 1545.9,2059.4 1546.8,2059.7 1547.6,2060.8 1548.4,2059.3 1549.2,2059.5 1550.0,2061.1 1550.8,2061.3 1551.6,2061.3 1552.4,2061.2 1553.2,2060.5 1554.0,2061.2 1554.8,2060.7 1555.6,2060.2 1556.4,2059.8 1557.2,2058.7 1558.0,2058.8 1558.8,2059.0 1559.6,2059.3 1560.4,2058.3 1561.2,2060.0 1562.0,2058.8 1562.8,2058.9 1563.6,2058.9 1564.4,2056.8 1565.2,2057.9 1566.0,2057.5 1566.8,2055.3 1567.6,2054.2 1568.4,2055.1 1569.2,2054.5 1570.0,2053.3 1570.8,2051.5 1571.6,2051.0 1572.4,2049.0 1573.2,2048.5 1574.0,2048.3 1574.8,2048.7 1575.6,2047.0 1576.4,2049.2 1577.2,2047.5 1578.0,2050.3 1578.8,2049.4 1579.7,2051.7 1580.5,2052.6 1581.3,2053.9 1582.1,2053.7 1582.9,2055.1 1583.7,2054.9 1584.5,2056.9 1585.3,2055.8 1586.1,2058.2 1586.9,2058.1 1587.7,2057.2 1588.5,2059.7 1589.3,2058.6 1590.1,2058.3 1590.9,2059.0 1591.7,2058.7 1592.5,2059.5 1593.3,2060.7 1594.1,2061.5 1594.9,2060.8 1595.7,2061.4 1596.5,2061.4 1597.3,2061.2 1598.1,2060.5 1598.9,2060.2 1599.7,2060.0 1600.5,2061.0 1601.3,2060.1 1602.1,2061.4 1602.9,2060.4 1603.7,2061.0 1604.5,2060.8 1605.3,2061.0 1606.1,2059.8 1606.9,2060.0 1607.7,2060.9 1608.5,2059.7 1609.3,2060.7 1610.1,2061.3 1611.0,2059.8 1611.8,2061.1 1612.6,2060.2 1613.4,2060.8 1614.2,2059.7 1615.0,2060.1 1615.8,2059.8 1616.6,2058.5 1617.4,2059.1 1618.2,2059.1 1619.0,2058.6 1619.8,2058.7 1620.6,2058.8 1621.4,2057.9 1622.2,2057.1 1623.0,2054.5 1623.8,2054.8 1624.6,2053.5 1625.4,2053.1 1626.2,2049.6 1627.0,2048.7 1627.8,2049.3 1628.6,2046.5 1629.4,2045.9 1630.2,2044.3 1631.0,2042.6 1631.8,2041.4 1632.6,2040.6 1633.4,2040.5 1634.2,2038.4 1635.0,2038.2 1635.8,2036.3 1636.6,2036.7 1637.4,2036.0 1638.2,2035.8 1639.0,2035.7 1639.8,2033.3 1640.6,2035.0 1641.4,2033.7 1642.2,2032.5 1643.0,2032.6 1643.9,2031.3 1644.7,2031.3 1645.5,2032.4 1646.3,2031.8 1647.1,2031.9 1647.9,2029.9 1648.7,2029.5 1649.5,2029.9 1650.3,2030.0 1651.1,2030.3 1651.9,2029.1 1652.7,2030.0 1653.5,2029.5 1654.3,2028.7 1655.1,2029.8 1655.9,2028.1 1656.7,2029.3 1657.5,2028.3 1658.3,2028.0 1659.1,2029.0 1659.9,2029.2 1660.7,2029.5 1661.5,2029.0 1662.3,2030.5 1663.1,2030.3 1663.9,2029.0 1664.7,2028.8 1665.5,2031.3 1666.3,2030.1 1667.1,2029.5 1667.9,2029.8 1668.7,2031.2 1669.5,2030.1 1670.3,2030.6 1671.1,2031.4 1671.9,2030.7 1672.7,2031.4 1673.5,2032.1 1674.3,2031.7 1675.2,2031.2 1676.0,2031.0 1676.8,2030.0 1677.6,2030.5 1678.4,2030.2 1679.2,2029.6 1680.0,2028.8 1680.8,2028.8 1681.6,2026.7 1682.4,2027.0 1683.2,2026.5 1684.0,2023.1 1684.8,2022.2 1685.6,2022.5 1686.4,2018.7 1687.2,2018.8 1688.0,2016.6 1688.8,2013.8 1689.6,2013.9 1690.4,2011.5 1691.2,2013.2 1692.0,2012.2 1692.8,2014.6 1693.6,2016.0 1694.4,2016.1 1695.2,2019.0 1696.0,2020.9 1696.8,2024.9 1697.6,2025.9 1698.4,2028.3 1699.2,2030.8 1700.0,2034.8 1700.8,2035.4 1701.6,2037.4 1702.4,2039.5 1703.2,2041.4 1704.0,2042.6 1704.8,2045.2 1705.6,2045.1 1706.4,2046.6 1707.2,2048.7 1708.1,2048.3 1708.9,2049.1 1709.7,2051.7 1710.5,2051.4 1711.3,2053.6 1712.1,2054.3 1712.9,2054.1 1713.7,2054.8 1714.5,2055.0 1715.3,2057.6 1716.1,2057.2 1716.9,2057.7 1717.7,2058.0 1718.5,2058.8 1719.3,2061.0 1720.1,2059.9 1720.9,2061.5 1721.7,2062.3 1722.5,2062.7 1723.3,2063.3 1724.1,2063.6 1724.9,2063.7 1725.7,2065.9 1726.5,2066.6 1727.3,2066.4 1728.1,2066.2 1728.9,2068.4 1729.7,2067.3 1730.5,2067.7 1731.3,2069.4 1732.1,2070.5 1732.9,2070.4 1733.7,2069.8 1734.5,2072.5 1735.3,2071.0 1736.1,2072.0 1736.9,2074.1 1737.7,2074.2 1738.5,2074.6 1739.4,2073.5 1740.2,2075.9 1741.0,2075.3 1741.8,2074.9 1742.6,2077.3 1743.4,2078.2 1744.2,2076.6 1745.0,2078.0 1745.8,2079.6 1746.6,2078.8 1747.4,2079.2 1748.2,2080.8 1749.0,2080.5 1749.8,2082.4 1750.6,2082.5 1751.4,2083.0 1752.2,2083.1 1753.0,2082.4 1753.8,2084.0 1754.6,2084.3 1755.4,2084.5" stroke="#1565D0" stroke-width="2.4" fill="none" stroke-linejoin="round"/>
<polyline points="1402.3,2071.8 1403.1,2071.1 1403.9,2070.7 1404.7,2072.3 1405.5,2070.9 1406.3,2070.2 1407.1,2072.1 1407.9,2070.8 1408.7,2071.1 1409.5,2070.1 1410.3,2069.4 1411.1,2069.7 1411.9,2070.6 1412.7,2069.0 1413.5,2070.3 1414.3,2068.5 1415.1,2069.6 1415.9,2067.6 1416.7,2067.8 1417.5,2066.7 1418.3,2066.3 1419.2,2066.7 1420.0,2065.8 1420.8,2065.7 1421.6,2064.4 1422.4,2064.0 1423.2,2063.3 1424.0,2064.0 1424.8,2061.2 1425.6,2061.2 1426.4,2061.4 1427.2,2059.7 1428.0,2057.9 1428.8,2058.6 1429.6,2055.3 1430.4,2054.1 1431.2,2052.5 1432.0,2052.2 1432.8,2051.7 1433.6,2048.8 1434.4,2047.2 1435.2,2046.7 1436.0,2043.2 1436.8,2041.3 1437.6,2041.1 1438.4,2037.9 1439.2,2037.2 1440.0,2034.5 1440.8,2034.0 1441.6,2033.1 1442.4,2030.8 1443.2,2029.2 1444.0,2029.1 1444.8,2028.6 1445.6,2026.6 1446.4,2027.0 1447.2,2027.5 1448.0,2028.3 1448.8,2028.6 1449.6,2030.6 1450.5,2030.9 1451.3,2034.0 1452.1,2034.3 1452.9,2035.9 1453.7,2037.4 1454.5,2039.5 1455.3,2041.8 1456.1,2045.4 1456.9,2046.3 1457.7,2048.3 1458.5,2051.5 1459.3,2053.4 1460.1,2054.7 1460.9,2055.2 1461.7,2057.0 1462.5,2059.0 1463.3,2059.9 1464.1,2061.6 1464.9,2062.6 1465.7,2063.9 1466.5,2066.3 1467.3,2067.1 1468.1,2067.8 1468.9,2068.9 1469.7,2070.2 1470.5,2071.3 1471.3,2070.5 1472.1,2073.3 1472.9,2073.1 1473.7,2073.6 1474.5,2075.7 1475.3,2075.9 1476.1,2075.5 1476.9,2075.3 1477.7,2076.8 1478.5,2077.3 1479.3,2077.6 1480.1,2077.4 1480.9,2079.0 1481.7,2078.6 1482.5,2080.2 1483.4,2079.9 1484.2,2079.7 1485.0,2081.3 1485.8,2080.6 1486.6,2080.0 1487.4,2080.7 1488.2,2080.3 1489.0,2081.4 1489.8,2082.6 1490.6,2082.8 1491.4,2082.2 1492.2,2081.0 1493.0,2081.2 1493.8,2081.1 1494.6,2081.4 1495.4,2081.8 1496.2,2080.1 1497.0,2081.0 1497.8,2080.4 1498.6,2080.5 1499.4,2080.4 1500.2,2078.6 1501.0,2078.3 1501.8,2076.5 1502.6,2075.8 1503.4,2074.9 1504.2,2072.0 1505.0,2071.5 1505.8,2069.9 1506.6,2067.5 1507.4,2066.3 1508.2,2066.6 1509.0,2064.9 1509.8,2064.6 1510.6,2065.4 1511.4,2067.1 1512.2,2068.4 1513.0,2070.1 1513.8,2071.8 1514.7,2073.4 1515.5,2075.8 1516.3,2077.6 1517.1,2077.8 1517.9,2080.3 1518.7,2080.7 1519.5,2083.3 1520.3,2084.0 1521.1,2082.8 1521.9,2084.8 1522.7,2084.5 1523.5,2084.5 1524.3,2086.8 1525.1,2087.2 1525.9,2087.3 1526.7,2087.3 1527.5,2088.3 1528.3,2087.6 1529.1,2088.1 1529.9,2088.2 1530.7,2088.9 1531.5,2089.1 1532.3,2087.9 1533.1,2087.8 1533.9,2088.8 1534.7,2089.0 1535.5,2088.5 1536.3,2089.9 1537.1,2089.9 1537.9,2089.6 1538.7,2089.3 1539.5,2089.8 1540.3,2088.7 1541.1,2090.2 1541.9,2088.6 1542.7,2090.5 1543.5,2089.9 1544.3,2089.1 1545.1,2088.9 1545.9,2089.9 1546.8,2089.6 1547.6,2090.2 1548.4,2088.8 1549.2,2090.6 1550.0,2089.5 1550.8,2089.6 1551.6,2090.2 1552.4,2089.9 1553.2,2089.4 1554.0,2089.0 1554.8,2089.3 1555.6,2088.2 1556.4,2088.6 1557.2,2089.9 1558.0,2088.0 1558.8,2087.7 1559.6,2089.4 1560.4,2088.0 1561.2,2088.1 1562.0,2087.9 1562.8,2087.8 1563.6,2086.5 1564.4,2087.1 1565.2,2084.7 1566.0,2086.1 1566.8,2084.1 1567.6,2084.1 1568.4,2082.5 1569.2,2082.6 1570.0,2080.7 1570.8,2080.3 1571.6,2078.6 1572.4,2078.8 1573.2,2077.8 1574.0,2075.8 1574.8,2076.7 1575.6,2077.0 1576.4,2075.5 1577.2,2075.9 1578.0,2078.4 1578.8,2079.4 1579.7,2078.4 1580.5,2081.1 1581.3,2082.5 1582.1,2082.0 1582.9,2084.2 1583.7,2083.9 1584.5,2085.9 1585.3,2086.0 1586.1,2086.6 1586.9,2086.4 1587.7,2088.2 1588.5,2088.7 1589.3,2088.2 1590.1,2088.0 1590.9,2088.4 1591.7,2089.1 1592.5,2091.1 1593.3,2090.7 1594.1,2091.3 1594.9,2091.1 1595.7,2089.8 1596.5,2090.5 1597.3,2092.0 1598.1,2091.8 1598.9,2092.2 1599.7,2091.9 1600.5,2091.7 1601.3,2091.8 1602.1,2092.2 1602.9,2091.1 1603.7,2090.1 1604.5,2090.8 1605.3,2090.1 1606.1,2090.7 1606.9,2091.4 1607.7,2090.6 1608.5,2090.5 1609.3,2090.1 1610.1,2090.6 1611.0,2091.0 1611.8,2091.1 1612.6,2091.8 1613.4,2089.6 1614.2,2090.0 1615.0,2089.5 1615.8,2091.4 1616.6,2090.6 1617.4,2090.5 1618.2,2090.7 1619.0,2088.6 1619.8,2090.5 1620.6,2088.7 1621.4,2088.9 1622.2,2087.7 1623.0,2087.7 1623.8,2085.8 1624.6,2084.8 1625.4,2083.7 1626.2,2083.8 1627.0,2082.0 1627.8,2080.1 1628.6,2079.5 1629.4,2078.8 1630.2,2077.2 1631.0,2076.7 1631.8,2076.2 1632.6,2074.7 1633.4,2074.1 1634.2,2072.1 1635.0,2072.7 1635.8,2072.2 1636.6,2070.6 1637.4,2068.9 1638.2,2068.6 1639.0,2069.8 1639.8,2069.5 1640.6,2068.7 1641.4,2067.8 1642.2,2067.4 1643.0,2065.9 1643.9,2066.7 1644.7,2067.2 1645.5,2064.9 1646.3,2065.5 1647.1,2065.7 1647.9,2064.8 1648.7,2063.7 1649.5,2063.1 1650.3,2064.0 1651.1,2064.2 1651.9,2063.8 1652.7,2062.4 1653.5,2063.0 1654.3,2063.0 1655.1,2061.8 1655.9,2062.5 1656.7,2061.5 1657.5,2061.0 1658.3,2060.4 1659.1,2062.1 1659.9,2062.2 1660.7,2060.5 1661.5,2060.6 1662.3,2061.3 1663.1,2061.2 1663.9,2062.6 1664.7,2061.4 1665.5,2062.5 1666.3,2062.6 1667.1,2062.2 1667.9,2063.6 1668.7,2062.7 1669.5,2063.0 1670.3,2063.4 1671.1,2062.8 1671.9,2062.3 1672.7,2064.2 1673.5,2063.7 1674.3,2063.1 1675.2,2062.9 1676.0,2063.1 1676.8,2062.1 1677.6,2061.3 1678.4,2062.2 1679.2,2062.6 1680.0,2060.2 1680.8,2061.8 1681.6,2059.6 1682.4,2060.3 1683.2,2058.8 1684.0,2056.6 1684.8,2055.2 1685.6,2055.5 1686.4,2054.3 1687.2,2052.4 1688.0,2050.4 1688.8,2049.0 1689.6,2048.5 1690.4,2047.8 1691.2,2047.6 1692.0,2046.5 1692.8,2048.6 1693.6,2050.2 1694.4,2051.1 1695.2,2051.7 1696.0,2054.4 1696.8,2057.8 1697.6,2059.6 1698.4,2063.0 1699.2,2064.4 1700.0,2066.5 1700.8,2067.1 1701.6,2069.7 1702.4,2071.7 1703.2,2073.6 1704.0,2075.0 1704.8,2074.7 1705.6,2076.4 1706.4,2078.7 1707.2,2077.6 1708.1,2078.5 1708.9,2079.7 1709.7,2081.9 1710.5,2081.8 1711.3,2083.5 1712.1,2084.6 1712.9,2085.3 1713.7,2084.2 1714.5,2086.4 1715.3,2087.4 1716.1,2087.8 1716.9,2088.8 1717.7,2089.4 1718.5,2089.5 1719.3,2090.7 1720.1,2090.5 1720.9,2090.1 1721.7,2091.1 1722.5,2093.2 1723.3,2092.4 1724.1,2093.2 1724.9,2094.8 1725.7,2094.9 1726.5,2095.7 1727.3,2095.4 1728.1,2096.1 1728.9,2095.6 1729.7,2096.4 1730.5,2096.8 1731.3,2098.2 1732.1,2098.7 1732.9,2098.2 1733.7,2100.0 1734.5,2099.2 1735.3,2100.4 1736.1,2100.1 1736.9,2101.7 1737.7,2101.4 1738.5,2103.8 1739.4,2102.9 1740.2,2104.5 1741.0,2104.0 1741.8,2104.2 1742.6,2106.0 1743.4,2105.1 1744.2,2106.1 1745.0,2106.9 1745.8,2108.2 1746.6,2108.0 1747.4,2106.9 1748.2,2108.3 1749.0,2110.0 1749.8,2110.2 1750.6,2109.5 1751.4,2109.4 1752.2,2110.1 1753.0,2111.8 1753.8,2110.8 1754.6,2113.0 1755.4,2111.9" stroke="#AA6CF5" stroke-width="2.4" fill="none" stroke-linejoin="round"/>
<polyline points="1402.3,2099.0 1403.1,2098.9 1403.9,2097.7 1404.7,2098.3 1405.5,2098.5 1406.3,2097.5 1407.1,2098.0 1407.9,2098.1 1408.7,2098.8 1409.5,2097.0 1410.3,2096.5 1411.1,2097.2 1411.9,2097.2 1412.7,2096.7 1413.5,2097.4 1414.3,2095.5 1415.1,2095.9 1415.9,2095.5 1416.7,2094.5 1417.5,2094.8 1418.3,2094.4 1419.2,2093.8 1420.0,2094.3 1420.8,2094.3 1421.6,2093.7 1422.4,2091.3 1423.2,2091.1 1424.0,2091.8 1424.8,2089.0 1425.6,2088.2 1426.4,2087.3 1427.2,2088.6 1428.0,2086.5 1428.8,2085.3 1429.6,2083.5 1430.4,2084.2 1431.2,2083.2 1432.0,2081.2 1432.8,2080.3 1433.6,2078.1 1434.4,2075.9 1435.2,2074.1 1436.0,2072.7 1436.8,2070.7 1437.6,2069.6 1438.4,2067.1 1439.2,2065.4 1440.0,2065.9 1440.8,2064.2 1441.6,2062.7 1442.4,2060.3 1443.2,2059.5 1444.0,2058.8 1444.8,2058.8 1445.6,2057.3 1446.4,2057.7 1447.2,2058.0 1448.0,2059.2 1448.8,2058.8 1449.6,2059.0 1450.5,2061.2 1451.3,2063.8 1452.1,2063.7 1452.9,2066.5 1453.7,2067.1 1454.5,2069.4 1455.3,2072.1 1456.1,2072.8 1456.9,2075.6 1457.7,2077.7 1458.5,2079.1 1459.3,2081.8 1460.1,2083.7 1460.9,2084.0 1461.7,2086.7 1462.5,2088.2 1463.3,2089.2 1464.1,2090.5 1464.9,2091.8 1465.7,2093.4 1466.5,2094.4 1467.3,2094.5 1468.1,2096.4 1468.9,2097.5 1469.7,2097.8 1470.5,2099.7 1471.3,2099.1 1472.1,2100.5 1472.9,2101.2 1473.7,2102.0 1474.5,2101.6 1475.3,2103.4 1476.1,2102.7 1476.9,2104.2 1477.7,2104.5 1478.5,2105.6 1479.3,2106.4 1480.1,2107.2 1480.9,2105.8 1481.7,2107.8 1482.5,2107.1 1483.4,2107.5 1484.2,2106.7 1485.0,2108.9 1485.8,2107.7 1486.6,2108.0 1487.4,2108.3 1488.2,2108.3 1489.0,2108.6 1489.8,2108.8 1490.6,2109.4 1491.4,2109.1 1492.2,2110.1 1493.0,2110.5 1493.8,2110.5 1494.6,2109.0 1495.4,2109.6 1496.2,2109.6 1497.0,2109.3 1497.8,2108.2 1498.6,2107.2 1499.4,2108.1 1500.2,2107.2 1501.0,2105.7 1501.8,2105.6 1502.6,2103.1 1503.4,2103.6 1504.2,2102.5 1505.0,2101.2 1505.8,2097.6 1506.6,2097.5 1507.4,2096.4 1508.2,2093.9 1509.0,2094.5 1509.8,2093.5 1510.6,2094.2 1511.4,2094.8 1512.2,2096.8 1513.0,2099.8 1513.8,2100.9 1514.7,2103.1 1515.5,2105.1 1516.3,2104.5 1517.1,2107.5 1517.9,2108.7 1518.7,2109.2 1519.5,2109.3 1520.3,2109.7 1521.1,2111.0 1521.9,2111.4 1522.7,2111.6 1523.5,2113.1 1524.3,2113.4 1525.1,2112.8 1525.9,2112.9 1526.7,2113.9 1527.5,2114.7 1528.3,2114.8 1529.1,2114.9 1529.9,2115.7 1530.7,2115.5 1531.5,2114.9 1532.3,2115.7 1533.1,2115.6 1533.9,2114.9 1534.7,2114.6 1535.5,2115.2 1536.3,2116.1 1537.1,2116.2 1537.9,2115.2 1538.7,2115.8 1539.5,2114.7 1540.3,2116.0 1541.1,2115.7 1541.9,2116.5 1542.7,2116.7 1543.5,2114.8 1544.3,2117.0 1545.1,2115.1 1545.9,2117.0 1546.8,2117.1 1547.6,2115.2 1548.4,2115.3 1549.2,2115.0 1550.0,2116.8 1550.8,2116.3 1551.6,2116.8 1552.4,2116.3 1553.2,2115.2 1554.0,2116.1 1554.8,2114.9 1555.6,2114.7 1556.4,2114.8 1557.2,2115.3 1558.0,2114.2 1558.8,2114.5 1559.6,2114.3 1560.4,2114.5 1561.2,2113.4 1562.0,2112.9 1562.8,2112.8 1563.6,2112.1 1564.4,2112.2 1565.2,2110.0 1566.0,2109.5 1566.8,2108.4 1567.6,2108.4 1568.4,2108.5 1569.2,2106.8 1570.0,2105.8 1570.8,2105.3 1571.6,2103.9 1572.4,2101.5 1573.2,2100.3 1574.0,2100.3 1574.8,2099.1 1575.6,2099.8 1576.4,2098.8 1577.2,2100.0 1578.0,2101.6 1578.8,2101.5 1579.7,2102.4 1580.5,2105.0 1581.3,2104.8 1582.1,2107.7 1582.9,2108.1 1583.7,2109.7 1584.5,2109.7 1585.3,2110.4 1586.1,2110.6 1586.9,2110.8 1587.7,2113.5 1588.5,2112.2 1589.3,2112.3 1590.1,2114.7 1590.9,2114.1 1591.7,2114.5 1592.5,2115.6 1593.3,2115.4 1594.1,2114.4 1594.9,2114.6 1595.7,2115.7 1596.5,2115.8 1597.3,2114.8 1598.1,2115.0 1598.9,2115.7 1599.7,2114.6 1600.5,2116.4 1601.3,2116.1 1602.1,2114.9 1602.9,2115.9 1603.7,2115.9 1604.5,2114.7 1605.3,2115.4 1606.1,2116.2 1606.9,2115.4 1607.7,2115.9 1608.5,2114.7 1609.3,2116.4 1610.1,2115.5 1611.0,2115.2 1611.8,2113.7 1612.6,2114.4 1613.4,2113.4 1614.2,2114.3 1615.0,2113.6 1615.8,2113.6 1616.6,2113.5 1617.4,2113.0 1618.2,2113.1 1619.0,2113.5 1619.8,2112.2 1620.6,2112.7 1621.4,2112.9 1622.2,2111.5 1623.0,2111.1 1623.8,2108.0 1624.6,2108.2 1625.4,2105.9 1626.2,2106.3 1627.0,2103.9 1627.8,2103.0 1628.6,2101.7 1629.4,2098.8 1630.2,2097.3 1631.0,2097.7 1631.8,2096.4 1632.6,2094.3 1633.4,2092.2 1634.2,2091.1 1635.0,2092.1 1635.8,2091.0 1636.6,2089.6 1637.4,2089.8 1638.2,2089.6 1639.0,2087.1 1639.8,2088.3 1640.6,2088.4 1641.4,2087.6 1642.2,2087.2 1643.0,2085.6 1643.9,2085.6 1644.7,2083.9 1645.5,2085.1 1646.3,2084.4 1647.1,2083.4 1647.9,2082.2 1648.7,2082.2 1649.5,2082.4 1650.3,2083.3 1651.1,2082.0 1651.9,2082.6 1652.7,2080.8 1653.5,2080.7 1654.3,2080.5 1655.1,2080.5 1655.9,2081.6 1656.7,2080.5 1657.5,2080.3 1658.3,2081.1 1659.1,2080.6 1659.9,2081.7 1660.7,2081.3 1661.5,2081.7 1662.3,2080.9 1663.1,2080.9 1663.9,2081.3 1664.7,2082.8 1665.5,2082.8 1666.3,2082.1 1667.1,2082.1 1667.9,2081.3 1668.7,2083.3 1669.5,2082.8 1670.3,2082.5 1671.1,2082.0 1671.9,2082.7 1672.7,2083.3 1673.5,2082.3 1674.3,2082.2 1675.2,2082.8 1676.0,2082.6 1676.8,2081.2 1677.6,2081.1 1678.4,2081.5 1679.2,2081.9 1680.0,2080.6 1680.8,2079.1 1681.6,2078.9 1682.4,2077.9 1683.2,2078.2 1684.0,2075.8 1684.8,2076.2 1685.6,2073.1 1686.4,2071.3 1687.2,2069.3 1688.0,2068.8 1688.8,2067.4 1689.6,2066.8 1690.4,2065.7 1691.2,2065.1 1692.0,2064.2 1692.8,2067.3 1693.6,2067.1 1694.4,2069.1 1695.2,2071.2 1696.0,2074.7 1696.8,2077.5 1697.6,2079.3 1698.4,2081.6 1699.2,2083.4 1700.0,2087.1 1700.8,2089.5 1701.6,2090.0 1702.4,2092.1 1703.2,2095.0 1704.0,2096.4 1704.8,2096.5 1705.6,2099.9 1706.4,2100.5 1707.2,2101.6 1708.1,2101.8 1708.9,2104.4 1709.7,2104.2 1710.5,2105.6 1711.3,2107.4 1712.1,2107.9 1712.9,2107.2 1713.7,2107.9 1714.5,2108.9 1715.3,2109.5 1716.1,2112.1 1716.9,2112.0 1717.7,2112.6 1718.5,2113.0 1719.3,2114.0 1720.1,2114.6 1720.9,2116.0 1721.7,2115.9 1722.5,2117.7 1723.3,2118.3 1724.1,2119.0 1724.9,2119.3 1725.7,2118.6 1726.5,2119.8 1727.3,2121.5 1728.1,2120.9 1728.9,2122.1 1729.7,2121.8 1730.5,2123.9 1731.3,2123.3 1732.1,2124.0 1732.9,2125.7 1733.7,2124.5 1734.5,2124.9 1735.3,2126.5 1736.1,2127.1 1736.9,2126.9 1737.7,2128.2 1738.5,2129.6 1739.4,2130.5 1740.2,2131.2 1741.0,2131.4 1741.8,2130.3 1742.6,2131.5 1743.4,2132.3 1744.2,2131.8 1745.0,2134.2 1745.8,2133.5 1746.6,2135.3 1747.4,2135.6 1748.2,2135.1 1749.0,2135.8 1749.8,2136.6 1750.6,2136.5 1751.4,2136.6 1752.2,2138.1 1753.0,2138.2 1753.8,2138.8 1754.6,2140.6 1755.4,2141.0" stroke="#5EA8F2" stroke-width="2.4" fill="none" stroke-linejoin="round"/>
<polyline points="1402.3,2127.3 1403.1,2126.3 1403.9,2127.9 1404.7,2126.6 1405.5,2126.1 1406.3,2127.6 1407.1,2127.8 1407.9,2126.1 1408.7,2126.6 1409.5,2127.2 1410.3,2126.1 1411.1,2125.5 1411.9,2124.8 1412.7,2124.3 1413.5,2126.1 1414.3,2125.6 1415.1,2123.8 1415.9,2124.6 1416.7,2123.1 1417.5,2124.1 1418.3,2122.8 1419.2,2123.1 1420.0,2122.2 1420.8,2120.6 1421.6,2121.3 1422.4,2120.9 1423.2,2118.8 1424.0,2118.1 1424.8,2117.9 1425.6,2118.3 1426.4,2118.0 1427.2,2115.9 1428.0,2115.9 1428.8,2114.6 1429.6,2112.4 1430.4,2111.7 1431.2,2111.5 1432.0,2109.3 1432.8,2108.0 1433.6,2107.1 1434.4,2104.3 1435.2,2103.5 1436.0,2102.0 1436.8,2100.5 1437.6,2099.2 1438.4,2096.5 1439.2,2095.4 1440.0,2093.8 1440.8,2091.4 1441.6,2091.7 1442.4,2090.9 1443.2,2088.8 1444.0,2087.6 1444.8,2086.9 1445.6,2086.7 1446.4,2086.4 1447.2,2086.3 1448.0,2088.4 1448.8,2087.7 1449.6,2088.2 1450.5,2090.5 1451.3,2090.2 1452.1,2092.6 1452.9,2094.7 1453.7,2097.0 1454.5,2097.6 1455.3,2098.7 1456.1,2102.7 1456.9,2102.2 1457.7,2105.0 1458.5,2106.9 1459.3,2109.7 1460.1,2109.8 1460.9,2111.1 1461.7,2112.6 1462.5,2114.2 1463.3,2115.0 1464.1,2118.1 1464.9,2118.3 1465.7,2120.0 1466.5,2119.9 1467.3,2121.9 1468.1,2123.4 1468.9,2122.6 1469.7,2125.2 1470.5,2124.4 1471.3,2126.2 1472.1,2127.4 1472.9,2126.9 1473.7,2128.6 1474.5,2127.9 1475.3,2128.6 1476.1,2130.3 1476.9,2130.0 1477.7,2129.1 1478.5,2129.8 1479.3,2131.1 1480.1,2131.0 1480.9,2130.6 1481.7,2132.8 1482.5,2131.9 1483.4,2133.6 1484.2,2132.5 1485.0,2132.3 1485.8,2133.1 1486.6,2134.2 1487.4,2134.5 1488.2,2133.8 1489.0,2133.1 1489.8,2133.9 1490.6,2133.2 1491.4,2133.4 1492.2,2132.5 1493.0,2132.5 1493.8,2134.5 1494.6,2133.9 1495.4,2132.3 1496.2,2132.9 1497.0,2131.1 1497.8,2132.4 1498.6,2131.2 1499.4,2130.7 1500.2,2129.1 1501.0,2128.0 1501.8,2127.7 1502.6,2125.1 1503.4,2122.8 1504.2,2121.1 1505.0,2121.1 1505.8,2117.5 1506.6,2115.1 1507.4,2114.6 1508.2,2112.3 1509.0,2112.3 1509.8,2113.3 1510.6,2112.8 1511.4,2114.7 1512.2,2117.9 1513.0,2120.0 1513.8,2122.3 1514.7,2122.6 1515.5,2127.0 1516.3,2128.0 1517.1,2128.8 1517.9,2132.4 1518.7,2131.8 1519.5,2135.1 1520.3,2133.9 1521.1,2135.0 1521.9,2136.8 1522.7,2137.9 1523.5,2138.5 1524.3,2139.7 1525.1,2138.5 1525.9,2140.5 1526.7,2139.9 1527.5,2141.8 1528.3,2141.4 1529.1,2141.8 1529.9,2140.8 1530.7,2142.9 1531.5,2141.6 1532.3,2141.6 1533.1,2142.3 1533.9,2143.3 1534.7,2142.4 1535.5,2142.9 1536.3,2143.4 1537.1,2142.7 1537.9,2142.5 1538.7,2143.3 1539.5,2144.1 1540.3,2144.1 1541.1,2143.1 1541.9,2144.3 1542.7,2144.8 1543.5,2144.5 1544.3,2143.4 1545.1,2143.1 1545.9,2145.4 1546.8,2144.8 1547.6,2143.8 1548.4,2144.9 1549.2,2144.6 1550.0,2144.7 1550.8,2144.1 1551.6,2144.8 1552.4,2144.1 1553.2,2144.1 1554.0,2143.9 1554.8,2144.9 1555.6,2145.1 1556.4,2143.7 1557.2,2143.1 1558.0,2143.4 1558.8,2144.4 1559.6,2143.3 1560.4,2142.3 1561.2,2144.1 1562.0,2142.8 1562.8,2141.6 1563.6,2142.9 1564.4,2141.9 1565.2,2142.3 1566.0,2141.7 1566.8,2141.1 1567.6,2140.6 1568.4,2138.7 1569.2,2138.9 1570.0,2137.3 1570.8,2136.8 1571.6,2134.8 1572.4,2135.0 1573.2,2132.9 1574.0,2134.2 1574.8,2132.2 1575.6,2133.1 1576.4,2133.9 1577.2,2134.3 1578.0,2135.0 1578.8,2134.8 1579.7,2134.9 1580.5,2138.0 1581.3,2137.4 1582.1,2139.7 1582.9,2139.4 1583.7,2140.3 1584.5,2141.3 1585.3,2142.0 1586.1,2143.1 1586.9,2143.2 1587.7,2142.7 1588.5,2144.0 1589.3,2143.3 1590.1,2145.4 1590.9,2144.1 1591.7,2144.8 1592.5,2145.6 1593.3,2145.2 1594.1,2146.6 1594.9,2146.5 1595.7,2145.6 1596.5,2145.9 1597.3,2146.7 1598.1,2146.3 1598.9,2146.6 1599.7,2146.0 1600.5,2146.5 1601.3,2146.6 1602.1,2147.4 1602.9,2146.1 1603.7,2147.1 1604.5,2145.7 1605.3,2145.8 1606.1,2145.7 1606.9,2147.3 1607.7,2145.2 1608.5,2145.6 1609.3,2146.0 1610.1,2146.5 1611.0,2146.3 1611.8,2144.9 1612.6,2145.4 1613.4,2146.1 1614.2,2144.6 1615.0,2144.5 1615.8,2146.0 1616.6,2143.9 1617.4,2143.9 1618.2,2144.0 1619.0,2145.4 1619.8,2143.9 1620.6,2143.6 1621.4,2143.2 1622.2,2143.2 1623.0,2140.3 1623.8,2139.6 1624.6,2138.9 1625.4,2138.3 1626.2,2135.8 1627.0,2135.2 1627.8,2134.2 1628.6,2131.6 1629.4,2130.9 1630.2,2128.9 1631.0,2129.6 1631.8,2126.2 1632.6,2125.4 1633.4,2125.5 1634.2,2123.6 1635.0,2123.6 1635.8,2122.3 1636.6,2123.3 1637.4,2121.9 1638.2,2120.9 1639.0,2120.1 1639.8,2120.4 1640.6,2120.8 1641.4,2120.3 1642.2,2119.9 1643.0,2119.1 1643.9,2119.9 1644.7,2118.3 1645.5,2118.4 1646.3,2119.2 1647.1,2118.6 1647.9,2117.6 1648.7,2118.2 1649.5,2118.0 1650.3,2116.7 1651.1,2116.9 1651.9,2117.7 1652.7,2116.7 1653.5,2116.6 1654.3,2117.0 1655.1,2115.9 1655.9,2116.3 1656.7,2118.1 1657.5,2116.4 1658.3,2117.8 1659.1,2115.9 1659.9,2116.7 1660.7,2117.4 1661.5,2117.0 1662.3,2118.7 1663.1,2118.8 1663.9,2117.4 1664.7,2117.2 1665.5,2119.2 1666.3,2119.1 1667.1,2118.5 1667.9,2117.6 1668.7,2117.5 1669.5,2119.3 1670.3,2119.3 1671.1,2118.8 1671.9,2118.5 1672.7,2118.3 1673.5,2118.5 1674.3,2118.5 1675.2,2118.8 1676.0,2118.2 1676.8,2117.7 1677.6,2117.1 1678.4,2117.7 1679.2,2117.9 1680.0,2115.5 1680.8,2116.1 1681.6,2115.0 1682.4,2113.0 1683.2,2111.6 1684.0,2111.9 1684.8,2108.8 1685.6,2107.1 1686.4,2105.3 1687.2,2105.2 1688.0,2102.4 1688.8,2099.9 1689.6,2099.2 1690.4,2098.8 1691.2,2098.3 1692.0,2097.8 1692.8,2100.3 1693.6,2101.4 1694.4,2102.4 1695.2,2104.8 1696.0,2107.3 1696.8,2109.3 1697.6,2113.4 1698.4,2115.1 1699.2,2118.5 1700.0,2121.2 1700.8,2122.0 1701.6,2123.9 1702.4,2125.9 1703.2,2127.8 1704.0,2128.3 1704.8,2130.5 1705.6,2131.6 1706.4,2132.4 1707.2,2135.2 1708.1,2136.0 1708.9,2136.5 1709.7,2136.4 1710.5,2138.9 1711.3,2139.0 1712.1,2141.0 1712.9,2141.2 1713.7,2141.0 1714.5,2143.0 1715.3,2143.3 1716.1,2143.5 1716.9,2145.2 1717.7,2144.7 1718.5,2144.9 1719.3,2145.3 1720.1,2147.3 1720.9,2147.1 1721.7,2147.4 1722.5,2147.8 1723.3,2150.1 1724.1,2149.5 1724.9,2151.4 1725.7,2152.1 1726.5,2152.5 1727.3,2151.6 1728.1,2153.9 1728.9,2153.6 1729.7,2154.7 1730.5,2155.4 1731.3,2154.5 1732.1,2155.2 1732.9,2156.9 1733.7,2156.0 1734.5,2156.0 1735.3,2156.4 1736.1,2158.2 1736.9,2158.1 1737.7,2160.1 1738.5,2158.4 1739.4,2159.8 1740.2,2161.0 1741.0,2161.3 1741.8,2162.3 1742.6,2162.3 1743.4,2163.4 1744.2,2164.1 1745.0,2164.3 1745.8,2164.1 1746.6,2164.1 1747.4,2164.9 1748.2,2164.6 1749.0,2165.2 1749.8,2166.3 1750.6,2166.5 1751.4,2166.9 1752.2,2166.6 1753.0,2169.2 1753.8,2168.1 1754.6,2168.9 1755.4,2169.0" stroke="#A2D8F2" stroke-width="2.4" fill="none" stroke-linejoin="round"/>
<polyline points="1402.3,2156.7 1403.1,2157.1 1403.9,2157.4 1404.7,2156.5 1405.5,2157.3 1406.3,2155.8 1407.1,2155.9 1407.9,2155.5 1408.7,2156.9 1409.5,2154.7 1410.3,2154.8 1411.1,2155.9 1411.9,2154.4 1412.7,2153.8 1413.5,2154.3 1414.3,2154.3 1415.1,2154.0 1415.9,2153.2 1416.7,2153.2 1417.5,2152.7 1418.3,2152.0 1419.2,2152.5 1420.0,2151.4 1420.8,2150.8 1421.6,2152.1 1422.4,2151.5 1423.2,2149.7 1424.0,2149.4 1424.8,2147.7 1425.6,2146.8 1426.4,2147.2 1427.2,2147.4 1428.0,2144.5 1428.8,2144.5 1429.6,2144.3 1430.4,2141.3 1431.2,2141.6 1432.0,2139.6 1432.8,2139.5 1433.6,2138.3 1434.4,2137.1 1435.2,2135.4 1436.0,2132.2 1436.8,2132.1 1437.6,2130.3 1438.4,2128.1 1439.2,2126.4 1440.0,2125.5 1440.8,2124.0 1441.6,2122.6 1442.4,2122.8 1443.2,2120.0 1444.0,2120.7 1444.8,2118.5 1445.6,2119.4 1446.4,2118.8 1447.2,2118.8 1448.0,2119.5 1448.8,2119.4 1449.6,2120.5 1450.5,2122.1 1451.3,2122.9 1452.1,2126.0 1452.9,2127.2 1453.7,2128.8 1454.5,2130.7 1455.3,2131.2 1456.1,2132.6 1456.9,2134.5 1457.7,2138.1 1458.5,2138.9 1459.3,2141.7 1460.1,2141.7 1460.9,2143.4 1461.7,2145.4 1462.5,2147.3 1463.3,2147.6 1464.1,2149.0 1464.9,2149.8 1465.7,2150.7 1466.5,2153.3 1467.3,2154.3 1468.1,2154.1 1468.9,2154.3 1469.7,2156.9 1470.5,2156.7 1471.3,2158.1 1472.1,2158.1 1472.9,2157.9 1473.7,2160.1 1474.5,2159.2 1475.3,2161.7 1476.1,2160.4 1476.9,2161.3 1477.7,2161.0 1478.5,2162.0 1479.3,2163.4 1480.1,2162.5 1480.9,2162.9 1481.7,2163.1 1482.5,2163.3 1483.4,2164.8 1484.2,2164.4 1485.0,2165.9 1485.8,2166.0 1486.6,2165.8 1487.4,2167.0 1488.2,2167.3 1489.0,2165.8 1489.8,2167.0 1490.6,2166.9 1491.4,2165.8 1492.2,2167.2 1493.0,2165.4 1493.8,2166.9 1494.6,2167.3 1495.4,2166.6 1496.2,2166.5 1497.0,2166.1 1497.8,2165.2 1498.6,2164.0 1499.4,2164.1 1500.2,2163.3 1501.0,2163.8 1501.8,2163.0 1502.6,2162.2 1503.4,2159.4 1504.2,2159.4 1505.0,2158.0 1505.8,2154.3 1506.6,2154.1 1507.4,2151.7 1508.2,2150.7 1509.0,2151.1 1509.8,2151.7 1510.6,2151.0 1511.4,2152.4 1512.2,2154.2 1513.0,2156.0 1513.8,2156.6 1514.7,2158.4 1515.5,2159.6 1516.3,2161.8 1517.1,2164.6 1517.9,2163.8 1518.7,2166.2 1519.5,2166.8 1520.3,2168.1 1521.1,2168.6 1521.9,2167.4 1522.7,2168.6 1523.5,2170.3 1524.3,2170.2 1525.1,2171.1 1525.9,2169.4 1526.7,2171.6 1527.5,2170.8 1528.3,2172.0 1529.1,2171.7 1529.9,2171.3 1530.7,2171.9 1531.5,2170.9 1532.3,2173.2 1533.1,2173.2 1533.9,2172.8 1534.7,2172.9 1535.5,2173.2 1536.3,2172.6 1537.1,2172.2 1537.9,2173.3 1538.7,2174.1 1539.5,2173.9 1540.3,2173.8 1541.1,2172.4 1541.9,2172.8 1542.7,2172.8 1543.5,2173.5 1544.3,2174.4 1545.1,2173.7 1545.9,2173.7 1546.8,2173.3 1547.6,2172.8 1548.4,2173.0 1549.2,2174.7 1550.0,2174.6 1550.8,2173.9 1551.6,2174.0 1552.4,2172.9 1553.2,2172.4 1554.0,2172.4 1554.8,2172.3 1555.6,2172.7 1556.4,2174.5 1557.2,2173.4 1558.0,2172.4 1558.8,2172.0 1559.6,2171.7 1560.4,2171.5 1561.2,2171.6 1562.0,2171.8 1562.8,2171.1 1563.6,2171.0 1564.4,2171.5 1565.2,2169.9 1566.0,2169.5 1566.8,2170.4 1567.6,2168.7 1568.4,2168.8 1569.2,2167.3 1570.0,2167.5 1570.8,2165.0 1571.6,2164.8 1572.4,2165.5 1573.2,2163.4 1574.0,2163.7 1574.8,2162.4 1575.6,2162.0 1576.4,2162.9 1577.2,2163.4 1578.0,2163.0 1578.8,2165.0 1579.7,2165.6 1580.5,2166.3 1581.3,2168.1 1582.1,2169.3 1582.9,2169.0 1583.7,2169.4 1584.5,2171.2 1585.3,2171.8 1586.1,2171.8 1586.9,2172.5 1587.7,2172.3 1588.5,2173.6 1589.3,2173.6 1590.1,2174.5 1590.9,2173.5 1591.7,2173.1 1592.5,2175.3 1593.3,2174.8 1594.1,2175.4 1594.9,2175.4 1595.7,2175.6 1596.5,2174.7 1597.3,2176.0 1598.1,2175.5 1598.9,2175.0 1599.7,2174.5 1600.5,2174.4 1601.3,2174.7 1602.1,2174.9 1602.9,2174.9 1603.7,2175.6 1604.5,2176.4 1605.3,2175.4 1606.1,2175.7 1606.9,2174.0 1607.7,2175.6 1608.5,2175.2 1609.3,2175.7 1610.1,2174.6 1611.0,2175.2 1611.8,2174.8 1612.6,2175.4 1613.4,2174.4 1614.2,2175.2 1615.0,2175.2 1615.8,2174.3 1616.6,2174.1 1617.4,2174.4 1618.2,2173.8 1619.0,2174.8 1619.8,2174.4 1620.6,2172.8 1621.4,2172.6 1622.2,2170.5 1623.0,2171.5 1623.8,2169.8 1624.6,2167.3 1625.4,2166.1 1626.2,2166.9 1627.0,2165.5 1627.8,2163.8 1628.6,2162.0 1629.4,2160.3 1630.2,2159.6 1631.0,2159.4 1631.8,2157.6 1632.6,2155.1 1633.4,2154.4 1634.2,2153.2 1635.0,2154.3 1635.8,2153.6 1636.6,2153.2 1637.4,2151.6 1638.2,2150.9 1639.0,2149.9 1639.8,2150.0 1640.6,2149.8 1641.4,2149.6 1642.2,2149.1 1643.0,2149.8 1643.9,2149.8 1644.7,2148.3 1645.5,2149.1 1646.3,2147.6 1647.1,2147.4 1647.9,2148.4 1648.7,2146.6 1649.5,2146.4 1650.3,2148.4 1651.1,2147.1 1651.9,2146.8 1652.7,2147.6 1653.5,2147.8 1654.3,2146.5 1655.1,2147.6 1655.9,2146.0 1656.7,2147.8 1657.5,2146.7 1658.3,2146.7 1659.1,2145.9 1659.9,2146.1 1660.7,2147.0 1661.5,2146.5 1662.3,2148.0 1663.1,2149.0 1663.9,2147.5 1664.7,2148.8 1665.5,2148.6 1666.3,2148.9 1667.1,2149.5 1667.9,2148.9 1668.7,2149.9 1669.5,2148.5 1670.3,2149.9 1671.1,2149.6 1671.9,2149.0 1672.7,2149.1 1673.5,2150.9 1674.3,2150.2 1675.2,2149.9 1676.0,2149.9 1676.8,2150.7 1677.6,2150.1 1678.4,2148.9 1679.2,2150.4 1680.0,2149.9 1680.8,2149.4 1681.6,2148.8 1682.4,2148.1 1683.2,2146.7 1684.0,2147.5 1684.8,2146.0 1685.6,2143.8 1686.4,2144.3 1687.2,2142.3 1688.0,2140.4 1688.8,2141.4 1689.6,2139.1 1690.4,2139.1 1691.2,2138.2 1692.0,2139.5 1692.8,2140.2 1693.6,2142.0 1694.4,2143.8 1695.2,2145.3 1696.0,2146.6 1696.8,2147.8 1697.6,2151.0 1698.4,2151.1 1699.2,2153.0 1700.0,2155.2 1700.8,2156.3 1701.6,2158.2 1702.4,2158.4 1703.2,2159.9 1704.0,2160.6 1704.8,2162.6 1705.6,2163.2 1706.4,2165.5 1707.2,2165.0 1708.1,2165.7 1708.9,2167.8 1709.7,2167.3 1710.5,2169.6 1711.3,2169.6 1712.1,2169.3 1712.9,2171.4 1713.7,2172.7 1714.5,2171.7 1715.3,2172.9 1716.1,2173.5 1716.9,2175.1 1717.7,2175.7 1718.5,2174.1 1719.3,2175.4 1720.1,2177.0 1720.9,2176.6 1721.7,2177.4 1722.5,2178.0 1723.3,2177.3 1724.1,2177.8 1724.9,2180.4 1725.7,2179.7 1726.5,2180.4 1727.3,2181.2 1728.1,2182.1 1728.9,2183.0 1729.7,2181.5 1730.5,2183.3 1731.3,2182.3 1732.1,2184.1 1732.9,2185.3 1733.7,2184.9 1734.5,2185.2 1735.3,2186.8 1736.1,2186.9 1736.9,2187.9 1737.7,2187.5 1738.5,2187.4 1739.4,2188.8 1740.2,2188.8 1741.0,2188.1 1741.8,2188.9 1742.6,2191.3 1743.4,2191.0 1744.2,2190.0 1745.0,2192.2 1745.8,2192.7 1746.6,2191.4 1747.4,2194.1 1748.2,2192.6 1749.0,2193.9 1749.8,2194.8 1750.6,2194.7 1751.4,2194.8 1752.2,2195.6 1753.0,2196.4 1753.8,2197.6 1754.6,2197.8 1755.4,2198.5" stroke="#F26A12" stroke-width="2.4" fill="none" stroke-linejoin="round"/>
<polyline points="1402.3,2188.4 1403.1,2187.5 1403.9,2187.1 1404.7,2188.3 1405.5,2188.2 1406.3,2186.6 1407.1,2187.6 1407.9,2186.4 1408.7,2185.5 1409.5,2186.3 1410.3,2187.2 1411.1,2186.1 1411.9,2186.5 1412.7,2186.3 1413.5,2185.9 1414.3,2184.4 1415.1,2185.6 1415.9,2183.3 1416.7,2183.9 1417.5,2182.5 1418.3,2182.8 1419.2,2183.5 1420.0,2182.9 1420.8,2182.8 1421.6,2181.2 1422.4,2180.5 1423.2,2179.0 1424.0,2179.1 1424.8,2179.3 1425.6,2177.2 1426.4,2177.6 1427.2,2175.3 1428.0,2175.6 1428.8,2173.1 1429.6,2173.8 1430.4,2170.6 1431.2,2169.3 1432.0,2169.2 1432.8,2168.3 1433.6,2166.7 1434.4,2164.4 1435.2,2163.6 1436.0,2160.7 1436.8,2159.4 1437.6,2157.6 1438.4,2155.8 1439.2,2153.7 1440.0,2152.5 1440.8,2151.7 1441.6,2150.5 1442.4,2148.5 1443.2,2148.1 1444.0,2146.5 1444.8,2147.0 1445.6,2144.7 1446.4,2146.4 1447.2,2146.9 1448.0,2146.6 1448.8,2147.4 1449.6,2149.2 1450.5,2148.4 1451.3,2149.7 1452.1,2152.2 1452.9,2154.4 1453.7,2155.7 1454.5,2157.3 1455.3,2159.1 1456.1,2161.0 1456.9,2163.8 1457.7,2163.7 1458.5,2166.8 1459.3,2167.2 1460.1,2170.6 1460.9,2170.8 1461.7,2173.6 1462.5,2173.9 1463.3,2176.0 1464.1,2177.0 1464.9,2179.3 1465.7,2179.3 1466.5,2180.4 1467.3,2181.4 1468.1,2181.8 1468.9,2184.4 1469.7,2183.8 1470.5,2184.2 1471.3,2185.1 1472.1,2187.0 1472.9,2188.2 1473.7,2188.1 1474.5,2189.6 1475.3,2188.4 1476.1,2190.5 1476.9,2190.7 1477.7,2189.9 1478.5,2190.1 1479.3,2191.3 1480.1,2191.7 1480.9,2192.3 1481.7,2193.2 1482.5,2192.3 1483.4,2192.7 1484.2,2193.2 1485.0,2193.1 1485.8,2194.0 1486.6,2194.6 1487.4,2194.1 1488.2,2193.9 1489.0,2195.5 1489.8,2194.1 1490.6,2196.1 1491.4,2195.6 1492.2,2194.8 1493.0,2194.3 1493.8,2196.3 1494.6,2194.3 1495.4,2196.0 1496.2,2195.4 1497.0,2195.6 1497.8,2194.3 1498.6,2195.3 1499.4,2193.8 1500.2,2194.2 1501.0,2194.5 1501.8,2193.0 1502.6,2191.3 1503.4,2190.6 1504.2,2190.1 1505.0,2190.1 1505.8,2189.0 1506.6,2187.0 1507.4,2186.6 1508.2,2185.4 1509.0,2185.5 1509.8,2185.2 1510.6,2187.2 1511.4,2186.8 1512.2,2187.8 1513.0,2189.8 1513.8,2190.2 1514.7,2191.3 1515.5,2193.4 1516.3,2195.5 1517.1,2195.4 1517.9,2196.2 1518.7,2197.0 1519.5,2198.5 1520.3,2198.4 1521.1,2199.6 1521.9,2200.1 1522.7,2199.4 1523.5,2200.5 1524.3,2202.0 1525.1,2200.9 1525.9,2202.4 1526.7,2201.1 1527.5,2202.3 1528.3,2202.3 1529.1,2203.0 1529.9,2201.6 1530.7,2202.0 1531.5,2202.8 1532.3,2204.1 1533.1,2203.2 1533.9,2204.2 1534.7,2203.5 1535.5,2204.6 1536.3,2202.5 1537.1,2204.5 1537.9,2203.1 1538.7,2203.0 1539.5,2203.8 1540.3,2203.6 1541.1,2205.0 1541.9,2204.9 1542.7,2204.4 1543.5,2203.3 1544.3,2203.2 1545.1,2203.7 1545.9,2203.4 1546.8,2203.2 1547.6,2203.2 1548.4,2203.3 1549.2,2203.3 1550.0,2202.8 1550.8,2203.3 1551.6,2204.8 1552.4,2204.4 1553.2,2203.8 1554.0,2204.5 1554.8,2204.4 1555.6,2202.3 1556.4,2202.0 1557.2,2202.5 1558.0,2202.9 1558.8,2203.8 1559.6,2201.2 1560.4,2202.6 1561.2,2202.5 1562.0,2200.9 1562.8,2201.7 1563.6,2201.6 1564.4,2199.2 1565.2,2200.0 1566.0,2199.0 1566.8,2199.0 1567.6,2196.7 1568.4,2197.1 1569.2,2194.7 1570.0,2193.8 1570.8,2193.7 1571.6,2192.5 1572.4,2191.8 1573.2,2190.4 1574.0,2191.6 1574.8,2189.8 1575.6,2189.8 1576.4,2189.6 1577.2,2191.3 1578.0,2190.3 1578.8,2193.0 1579.7,2192.1 1580.5,2194.8 1581.3,2194.7 1582.1,2196.1 1582.9,2196.1 1583.7,2198.4 1584.5,2197.7 1585.3,2199.7 1586.1,2200.0 1586.9,2201.2 1587.7,2201.9 1588.5,2201.8 1589.3,2200.7 1590.1,2202.6 1590.9,2201.1 1591.7,2203.1 1592.5,2203.5 1593.3,2201.8 1594.1,2201.8 1594.9,2203.8 1595.7,2202.8 1596.5,2203.6 1597.3,2204.1 1598.1,2204.4 1598.9,2203.4 1599.7,2204.2 1600.5,2204.4 1601.3,2204.1 1602.1,2203.1 1602.9,2204.4 1603.7,2203.2 1604.5,2204.4 1605.3,2203.1 1606.1,2203.3 1606.9,2202.1 1607.7,2202.2 1608.5,2204.1 1609.3,2202.9 1610.1,2203.5 1611.0,2202.8 1611.8,2203.3 1612.6,2202.7 1613.4,2201.7 1614.2,2202.0 1615.0,2202.6 1615.8,2201.3 1616.6,2203.1 1617.4,2200.8 1618.2,2201.9 1619.0,2202.5 1619.8,2201.8 1620.6,2200.0 1621.4,2199.3 1622.2,2200.1 1623.0,2198.6 1623.8,2196.9 1624.6,2196.0 1625.4,2196.3 1626.2,2193.7 1627.0,2193.2 1627.8,2193.6 1628.6,2190.8 1629.4,2191.1 1630.2,2188.0 1631.0,2187.3 1631.8,2185.9 1632.6,2186.5 1633.4,2185.2 1634.2,2184.8 1635.0,2184.2 1635.8,2183.4 1636.6,2181.4 1637.4,2181.8 1638.2,2180.3 1639.0,2181.7 1639.8,2180.3 1640.6,2180.1 1641.4,2180.7 1642.2,2180.6 1643.0,2179.3 1643.9,2178.4 1644.7,2179.2 1645.5,2178.8 1646.3,2177.0 1647.1,2177.3 1647.9,2178.2 1648.7,2178.0 1649.5,2177.6 1650.3,2176.3 1651.1,2175.3 1651.9,2176.9 1652.7,2175.1 1653.5,2175.9 1654.3,2175.3 1655.1,2176.3 1655.9,2175.0 1656.7,2175.0 1657.5,2176.1 1658.3,2175.8 1659.1,2176.5 1659.9,2174.4 1660.7,2174.5 1661.5,2175.9 1662.3,2175.6 1663.1,2176.7 1663.9,2175.8 1664.7,2175.0 1665.5,2176.2 1666.3,2175.8 1667.1,2177.3 1667.9,2177.5 1668.7,2177.8 1669.5,2176.1 1670.3,2177.3 1671.1,2176.5 1671.9,2178.5 1672.7,2176.5 1673.5,2177.8 1674.3,2178.0 1675.2,2176.7 1676.0,2177.6 1676.8,2176.4 1677.6,2176.1 1678.4,2176.5 1679.2,2175.7 1680.0,2176.3 1680.8,2176.5 1681.6,2176.6 1682.4,2174.4 1683.2,2174.3 1684.0,2174.0 1684.8,2172.2 1685.6,2171.2 1686.4,2170.3 1687.2,2170.3 1688.0,2168.1 1688.8,2168.1 1689.6,2165.8 1690.4,2165.7 1691.2,2165.5 1692.0,2165.6 1692.8,2166.2 1693.6,2167.8 1694.4,2170.3 1695.2,2171.5 1696.0,2174.2 1696.8,2174.4 1697.6,2176.2 1698.4,2177.9 1699.2,2180.2 1700.0,2181.0 1700.8,2184.1 1701.6,2184.6 1702.4,2185.0 1703.2,2187.3 1704.0,2188.3 1704.8,2188.8 1705.6,2190.0 1706.4,2191.9 1707.2,2193.5 1708.1,2193.4 1708.9,2193.4 1709.7,2193.6 1710.5,2195.0 1711.3,2195.5 1712.1,2196.7 1712.9,2197.4 1713.7,2197.6 1714.5,2197.9 1715.3,2200.4 1716.1,2201.0 1716.9,2201.1 1717.7,2202.1 1718.5,2201.8 1719.3,2202.8 1720.1,2202.6 1720.9,2203.7 1721.7,2204.7 1722.5,2204.8 1723.3,2205.6 1724.1,2205.6 1724.9,2205.5 1725.7,2207.1 1726.5,2207.8 1727.3,2206.7 1728.1,2207.1 1728.9,2207.2 1729.7,2208.2 1730.5,2208.6 1731.3,2209.1 1732.1,2209.5 1732.9,2210.3 1733.7,2210.4 1734.5,2212.8 1735.3,2211.1 1736.1,2211.5 1736.9,2214.1 1737.7,2213.3 1738.5,2214.6 1739.4,2214.0 1740.2,2213.8 1741.0,2214.3 1741.8,2216.8 1742.6,2215.2 1743.4,2216.6 1744.2,2216.6 1745.0,2218.0 1745.8,2217.8 1746.6,2219.2 1747.4,2218.2 1748.2,2219.4 1749.0,2220.9 1749.8,2220.3 1750.6,2221.7 1751.4,2220.0 1752.2,2222.4 1753.0,2221.6 1753.8,2223.5 1754.6,2223.2 1755.4,2222.5" stroke="#F0A840" stroke-width="2.4" fill="none" stroke-linejoin="round"/>
<rect x="1427.7" y="1878.7" width="47.8" height="348.3" fill="rgba(205,205,205,0.4)" />
<rect x="1499.5" y="1931.0" width="42.1" height="298.0" fill="rgba(130,195,205,0.48)" />
<line x1="1402.7" y1="2308.0" x2="1402.7" y2="2293.2" stroke="#118A5C" stroke-width="2.4" />
<line x1="1415.3" y1="2308.0" x2="1415.3" y2="2298.2" stroke="#118A5C" stroke-width="2.4" />
<line x1="1436.1" y1="2308.0" x2="1436.1" y2="2298.2" stroke="#118A5C" stroke-width="2.4" />
<line x1="1441.1" y1="2308.0" x2="1441.1" y2="2298.2" stroke="#118A5C" stroke-width="2.4" />
<line x1="1474.0" y1="2308.0" x2="1474.0" y2="2298.2" stroke="#118A5C" stroke-width="2.4" />
<line x1="1487.6" y1="2308.0" x2="1487.6" y2="2287.7" stroke="#118A5C" stroke-width="2.4" />
<line x1="1498.2" y1="2308.0" x2="1498.2" y2="2293.5" stroke="#118A5C" stroke-width="2.4" />
<line x1="1517.9" y1="2308.0" x2="1517.9" y2="2233.2" stroke="#118A5C" stroke-width="2.4" />
<line x1="1554.8" y1="2308.0" x2="1554.8" y2="2268.0" stroke="#118A5C" stroke-width="2.4" />
<line x1="1558.4" y1="2308.0" x2="1558.4" y2="2299.2" stroke="#118A5C" stroke-width="2.4" />
<line x1="1572.9" y1="2308.0" x2="1572.9" y2="2292.1" stroke="#118A5C" stroke-width="2.4" />
<line x1="1575.8" y1="2308.0" x2="1575.8" y2="2285.7" stroke="#118A5C" stroke-width="2.4" />
<line x1="1595.6" y1="2308.0" x2="1595.6" y2="2298.2" stroke="#118A5C" stroke-width="2.4" />
<line x1="1598.1" y1="2308.0" x2="1598.1" y2="2290.0" stroke="#118A5C" stroke-width="2.4" />
<line x1="1644.1" y1="2308.0" x2="1644.1" y2="2260.7" stroke="#118A5C" stroke-width="2.4" />
<line x1="1649.9" y1="2308.0" x2="1649.9" y2="2258.7" stroke="#118A5C" stroke-width="2.4" />
<line x1="1676.2" y1="2308.0" x2="1676.2" y2="2265.4" stroke="#118A5C" stroke-width="2.4" />
<line x1="1700.3" y1="2308.0" x2="1700.3" y2="2256.4" stroke="#118A5C" stroke-width="2.4" />
<line x1="1724.1" y1="2308.0" x2="1724.1" y2="2299.2" stroke="#118A5C" stroke-width="2.4" />
<line x1="1729.8" y1="2308.0" x2="1729.8" y2="2291.5" stroke="#118A5C" stroke-width="2.4" />
<line x1="1431.3" y1="2385.7" x2="1431.3" y2="2376.9" stroke="#C8161E" stroke-width="2.4" />
<line x1="1436.1" y1="2385.7" x2="1436.1" y2="2373.9" stroke="#C8161E" stroke-width="2.4" />
<line x1="1442.0" y1="2385.7" x2="1442.0" y2="2373.5" stroke="#C8161E" stroke-width="2.4" />
<line x1="1450.7" y1="2385.7" x2="1450.7" y2="2376.1" stroke="#C8161E" stroke-width="2.4" />
<line x1="1473.4" y1="2385.7" x2="1473.4" y2="2376.9" stroke="#C8161E" stroke-width="2.4" />
<line x1="1492.4" y1="2385.7" x2="1492.4" y2="2341.5" stroke="#C8161E" stroke-width="2.4" />
<line x1="1496.5" y1="2385.7" x2="1496.5" y2="2367.7" stroke="#C8161E" stroke-width="2.4" />
<line x1="1501.7" y1="2385.7" x2="1501.7" y2="2310.2" stroke="#C8161E" stroke-width="2.4" />
<line x1="1528.7" y1="2385.7" x2="1528.7" y2="2339.2" stroke="#C8161E" stroke-width="2.4" />
<line x1="1533.0" y1="2385.7" x2="1533.0" y2="2375.5" stroke="#C8161E" stroke-width="2.4" />
<line x1="1542.3" y1="2385.7" x2="1542.3" y2="2370.6" stroke="#C8161E" stroke-width="2.4" />
<line x1="1576.6" y1="2385.7" x2="1576.6" y2="2349.9" stroke="#C8161E" stroke-width="2.4" />
<line x1="1589.7" y1="2385.7" x2="1589.7" y2="2367.4" stroke="#C8161E" stroke-width="2.4" />
<line x1="1593.8" y1="2385.7" x2="1593.8" y2="2367.4" stroke="#C8161E" stroke-width="2.4" />
<line x1="1616.0" y1="2385.7" x2="1616.0" y2="2361.6" stroke="#C8161E" stroke-width="2.4" />
<line x1="1636.0" y1="2385.7" x2="1636.0" y2="2328.2" stroke="#C8161E" stroke-width="2.4" />
<line x1="1652.8" y1="2385.7" x2="1652.8" y2="2375.5" stroke="#C8161E" stroke-width="2.4" />
<line x1="1663.7" y1="2385.7" x2="1663.7" y2="2326.7" stroke="#C8161E" stroke-width="2.4" />
<line x1="1687.2" y1="2385.7" x2="1687.2" y2="2324.1" stroke="#C8161E" stroke-width="2.4" />
<line x1="1700.3" y1="2385.7" x2="1700.3" y2="2319.8" stroke="#C8161E" stroke-width="2.4" />
<line x1="1721.2" y1="2385.7" x2="1721.2" y2="2376.9" stroke="#C8161E" stroke-width="2.4" />
<line x1="1725.5" y1="2385.7" x2="1725.5" y2="2376.1" stroke="#C8161E" stroke-width="2.4" />
<line x1="1754.7" y1="2385.7" x2="1754.7" y2="2376.9" stroke="#C8161E" stroke-width="2.4" />
<line x1="1428.0" y1="1803.0" x2="1428.0" y2="1823.3" stroke="#777" stroke-width="2.3" />
<line x1="1451.1" y1="1803.0" x2="1451.1" y2="1823.3" stroke="#777" stroke-width="2.3" />
<line x1="1578.2" y1="1803.0" x2="1578.2" y2="1823.3" stroke="#777" stroke-width="2.3" />
<line x1="1665.2" y1="1803.0" x2="1665.2" y2="1823.3" stroke="#777" stroke-width="2.3" />
<line x1="1708.9" y1="1803.0" x2="1708.9" y2="1823.3" stroke="#777" stroke-width="2.3" />
<text x="1757.3" y="1829.0" font-size="42" fill="#808080" ><tspan font-style="italic">t</tspan></text>
<rect x="1402.3" y="1770.2" width="353.1" height="617.4" fill="none" stroke="#1a1a1a" stroke-width="1.9"/>
<line x1="1418.3" y1="2387.6" x2="1418.3" y2="2393.6" stroke="#333" stroke-width="1.8" />
<line x1="1466.5" y1="2387.6" x2="1466.5" y2="2399.6" stroke="#333" stroke-width="1.8" />
<line x1="1514.7" y1="2387.6" x2="1514.7" y2="2393.6" stroke="#333" stroke-width="1.8" />
<line x1="1562.8" y1="2387.6" x2="1562.8" y2="2399.6" stroke="#333" stroke-width="1.8" />
<line x1="1611.0" y1="2387.6" x2="1611.0" y2="2393.6" stroke="#333" stroke-width="1.8" />
<line x1="1659.1" y1="2387.6" x2="1659.1" y2="2399.6" stroke="#333" stroke-width="1.8" />
<line x1="1707.2" y1="2387.6" x2="1707.2" y2="2393.6" stroke="#333" stroke-width="1.8" />
<line x1="1755.4" y1="2387.6" x2="1755.4" y2="2399.6" stroke="#333" stroke-width="1.8" />
<text x="1429.4" y="2443.0" font-size="44.5" fill="#000" ><tspan>300</tspan></text>
<text x="1526.0" y="2443.0" font-size="44.5" fill="#000" ><tspan>450</tspan></text>
<text x="1621.7" y="2443.0" font-size="44.5" fill="#000" ><tspan>600</tspan></text>
<text x="1718.0" y="2443.0" font-size="44.5" fill="#000" ><tspan>750</tspan></text>
<text x="0" y="0" font-size="44" fill="#000" transform="translate(1410.76,2485.00) scale(1.0354,1)" ><tspan>Raman shift (cm</tspan></text>
<text x="1740.6" y="2467.6" font-size="28.0" fill="#000" ><tspan>-1</tspan></text>
<text x="1767.5" y="2485.0" font-size="44" fill="#000" ><tspan>)</tspan></text>
<text x="-3.81" y="0" font-size="46.5" fill="#000" transform="translate(1393.8,2391.8) rotate(-90) scale(0.9666,1)">Normalized intensity (arb.units.)</text>
<text x="476.6" y="2321.0" font-size="42" fill="#118A5C" ><tspan font-style="italic">o</tspan><tspan>-AFE</tspan></text>
<text x="476.6" y="2389.2" font-size="42" fill="#D0343E" ><tspan font-style="italic">o</tspan><tspan>-FE</tspan></text>
<text x="1119.6" y="2319.5" font-size="42" fill="#118A5C" ><tspan font-style="italic">o</tspan><tspan>-AFE</tspan></text>
<text x="1119.6" y="2382.0" font-size="42" fill="#D0343E" ><tspan font-style="italic">o</tspan><tspan>-FE</tspan></text>
<text x="1757.8" y="2320.7" font-size="42" fill="#118A5C" ><tspan font-style="italic">o</tspan><tspan>-AFE</tspan></text>
<text x="1757.8" y="2390.3" font-size="42" fill="#D0343E" ><tspan font-style="italic">o</tspan><tspan>-FE</tspan></text>
<circle cx="617.2" cy="1790.6" r="50" fill="url(#glowR)"/>
<clipPath id="arcclip617"><rect x="517.2" y="1690.6" width="51.7" height="200"/><rect x="665.5" y="1690.6" width="51.7" height="200"/></clipPath>
<path d="M578.5,1717.8 A82.5,82.5 0 0 0 578.5,1863.4" fill="none" stroke="#B6E0E4" stroke-width="6.9" clip-path="url(#arcclip617)"/>
<path d="M655.9,1717.8 A82.5,82.5 0 0 1 655.9,1863.4" fill="none" stroke="#B6E0E4" stroke-width="6.9" clip-path="url(#arcclip617)"/>
<line x1="546.6" y1="1747.3" x2="687.8" y2="1835.4" stroke="#7A6199" stroke-width="2" />
<line x1="546.6" y1="1747.3" x2="557.0" y2="1777.4" stroke="#7A6199" stroke-width="2" />
<line x1="546.6" y1="1835.4" x2="557.0" y2="1806.2" stroke="#7A6199" stroke-width="2" />
<rect x="551.7" y="1777.4" width="10.6" height="28.8" fill="#F9D2A2" stroke="#5CB8C8" stroke-width="1.7"/>
<line x1="687.8" y1="1747.3" x2="546.6" y2="1835.4" stroke="#7A6199" stroke-width="2" />
<line x1="687.8" y1="1747.3" x2="677.4" y2="1777.4" stroke="#7A6199" stroke-width="2" />
<line x1="687.8" y1="1835.4" x2="677.4" y2="1806.2" stroke="#7A6199" stroke-width="2" />
<rect x="672.1" y="1777.4" width="10.6" height="28.8" fill="#F9D2A2" stroke="#5CB8C8" stroke-width="1.7"/>
<rect x="611.5" y="1791.4" width="11.3" height="37.7" fill="#B8E2E8" stroke="#000" stroke-width="2.4"/>
<circle cx="1255.1" cy="1787.8" r="50" fill="url(#glowR)"/>
<clipPath id="arcclip1255"><rect x="1155.1" y="1687.8" width="51.7" height="200"/><rect x="1303.4" y="1687.8" width="51.7" height="200"/></clipPath>
<path d="M1216.4,1715.0 A82.5,82.5 0 0 0 1216.4,1860.6" fill="none" stroke="#B6E0E4" stroke-width="6.9" clip-path="url(#arcclip1255)"/>
<path d="M1293.8,1715.0 A82.5,82.5 0 0 1 1293.8,1860.6" fill="none" stroke="#B6E0E4" stroke-width="6.9" clip-path="url(#arcclip1255)"/>
<line x1="1184.5" y1="1744.5" x2="1325.7" y2="1832.6" stroke="#7A6199" stroke-width="2" />
<line x1="1184.5" y1="1744.5" x2="1194.9" y2="1774.6" stroke="#7A6199" stroke-width="2" />
<line x1="1184.5" y1="1832.6" x2="1194.9" y2="1803.4" stroke="#7A6199" stroke-width="2" />
<rect x="1189.6" y="1774.6" width="10.6" height="28.8" fill="#F9D2A2" stroke="#5CB8C8" stroke-width="1.7"/>
<line x1="1325.7" y1="1744.5" x2="1184.5" y2="1832.6" stroke="#7A6199" stroke-width="2" />
<line x1="1325.7" y1="1744.5" x2="1315.3" y2="1774.6" stroke="#7A6199" stroke-width="2" />
<line x1="1325.7" y1="1832.6" x2="1315.3" y2="1803.4" stroke="#7A6199" stroke-width="2" />
<rect x="1310.0" y="1774.6" width="10.6" height="28.8" fill="#F9D2A2" stroke="#5CB8C8" stroke-width="1.7"/>
<line x1="1255.1" y1="1797.6" x2="1255.1" y2="1817.0" stroke="#111" stroke-width="3" />
<polygon points="1255.1,1789.6 1247.8,1802.6 1255.1,1798.6 1262.4,1802.6" fill="#111" />
<polygon points="1255.1,1825.0 1247.8,1812.0 1255.1,1816.0 1262.4,1812.0" fill="#111" />
<rect x="1249.8" y="1825" width="10.6" height="37.8" fill="#B8E2E8" stroke="#000" stroke-width="2.4"/>
<text x="1274.9" y="1833.5" font-size="40" fill="#000" ><tspan font-style="italic">d</tspan></text>
<circle cx="1893.3" cy="1790.7" r="50" fill="url(#glowR)"/>
<clipPath id="arcclip1893"><rect x="1793.3" y="1690.7" width="51.7" height="200"/><rect x="1941.6" y="1690.7" width="51.7" height="200"/></clipPath>
<path d="M1854.6,1717.9 A82.5,82.5 0 0 0 1854.6,1863.5" fill="none" stroke="#B6E0E4" stroke-width="6.9" clip-path="url(#arcclip1893)"/>
<path d="M1932.0,1717.9 A82.5,82.5 0 0 1 1932.0,1863.5" fill="none" stroke="#B6E0E4" stroke-width="6.9" clip-path="url(#arcclip1893)"/>
<line x1="1822.7" y1="1747.4" x2="1963.9" y2="1835.5" stroke="#7A6199" stroke-width="2" />
<line x1="1822.7" y1="1747.4" x2="1833.1" y2="1777.5" stroke="#7A6199" stroke-width="2" />
<line x1="1822.7" y1="1835.5" x2="1833.1" y2="1806.3" stroke="#7A6199" stroke-width="2" />
<rect x="1827.8" y="1777.5" width="10.6" height="28.8" fill="#F9D2A2" stroke="#5CB8C8" stroke-width="1.7"/>
<line x1="1963.9" y1="1747.4" x2="1822.7" y2="1835.5" stroke="#7A6199" stroke-width="2" />
<line x1="1963.9" y1="1747.4" x2="1953.5" y2="1777.5" stroke="#7A6199" stroke-width="2" />
<line x1="1963.9" y1="1835.5" x2="1953.5" y2="1806.3" stroke="#7A6199" stroke-width="2" />
<rect x="1948.2" y="1777.5" width="10.6" height="28.8" fill="#F9D2A2" stroke="#5CB8C8" stroke-width="1.7"/>
<line x1="1893.3" y1="1799.4" x2="1893.3" y2="1829.8" stroke="#111" stroke-width="3" />
<polygon points="1893.3,1791.4 1886.0,1804.4 1893.3,1800.4 1900.6,1804.4" fill="#111" />
<polygon points="1893.3,1837.8 1886.0,1824.8 1893.3,1828.8 1900.6,1824.8" fill="#111" />
<rect x="1888.5" y="1837.3" width="11.0" height="38.1" fill="#B8E2E8" stroke="#000" stroke-width="2.4"/>
<text x="1915.3" y="1841.5" font-size="40" fill="#000" ><tspan font-style="italic">d</tspan></text>
<clipPath id="ph1"><rect x="547.3" y="1878.2" width="144.2" height="341.0"/></clipPath>
<g clip-path="url(#ph1)">
<rect x="547.3" y="1878.2" width="144.2" height="341.0" fill="#C9D6D1" />
<line x1="295.1" y1="1878.2" x2="295.1" y2="2219.2" stroke="#651A1A" stroke-width="2.8" />
<line x1="308.2" y1="1878.2" x2="308.2" y2="2219.2" stroke="#651A1A" stroke-width="1.7" />
<line x1="321.4" y1="1878.2" x2="321.4" y2="2219.2" stroke="#651A1A" stroke-width="1.7" />
<line x1="334.5" y1="1878.2" x2="334.5" y2="2219.2" stroke="#651A1A" stroke-width="1.7" />
<line x1="347.7" y1="1878.2" x2="347.7" y2="2219.2" stroke="#651A1A" stroke-width="1.7" />
<line x1="360.8" y1="1878.2" x2="360.8" y2="2219.2" stroke="#651A1A" stroke-width="2.8" />
<line x1="374.0" y1="1878.2" x2="374.0" y2="2219.2" stroke="#651A1A" stroke-width="1.7" />
<line x1="387.1" y1="1878.2" x2="387.1" y2="2219.2" stroke="#651A1A" stroke-width="1.7" />
<line x1="400.3" y1="1878.2" x2="400.3" y2="2219.2" stroke="#651A1A" stroke-width="1.7" />
<line x1="413.4" y1="1878.2" x2="413.4" y2="2219.2" stroke="#651A1A" stroke-width="1.7" />
<line x1="426.6" y1="1878.2" x2="426.6" y2="2219.2" stroke="#651A1A" stroke-width="2.8" />
<line x1="439.7" y1="1878.2" x2="439.7" y2="2219.2" stroke="#651A1A" stroke-width="1.7" />
<line x1="452.9" y1="1878.2" x2="452.9" y2="2219.2" stroke="#651A1A" stroke-width="1.7" />
<line x1="466.0" y1="1878.2" x2="466.0" y2="2219.2" stroke="#651A1A" stroke-width="1.7" />
<line x1="479.2" y1="1878.2" x2="479.2" y2="2219.2" stroke="#651A1A" stroke-width="1.7" />
<line x1="492.3" y1="1878.2" x2="492.3" y2="2219.2" stroke="#651A1A" stroke-width="2.8" />
<line x1="505.5" y1="1878.2" x2="505.5" y2="2219.2" stroke="#651A1A" stroke-width="1.7" />
<line x1="518.6" y1="1878.2" x2="518.6" y2="2219.2" stroke="#651A1A" stroke-width="1.7" />
<line x1="531.8" y1="1878.2" x2="531.8" y2="2219.2" stroke="#651A1A" stroke-width="1.7" />
<line x1="544.9" y1="1878.2" x2="544.9" y2="2219.2" stroke="#651A1A" stroke-width="1.7" />
<line x1="558.1" y1="1878.2" x2="558.1" y2="2219.2" stroke="#651A1A" stroke-width="2.8" />
<line x1="571.2" y1="1878.2" x2="571.2" y2="2219.2" stroke="#651A1A" stroke-width="1.7" />
<line x1="584.4" y1="1878.2" x2="584.4" y2="2219.2" stroke="#651A1A" stroke-width="1.7" />
<line x1="597.5" y1="1878.2" x2="597.5" y2="2219.2" stroke="#651A1A" stroke-width="1.7" />
<line x1="610.7" y1="1878.2" x2="610.7" y2="2219.2" stroke="#651A1A" stroke-width="1.7" />
<line x1="623.8" y1="1878.2" x2="623.8" y2="2219.2" stroke="#651A1A" stroke-width="2.8" />
<line x1="637.0" y1="1878.2" x2="637.0" y2="2219.2" stroke="#651A1A" stroke-width="1.7" />
<line x1="650.1" y1="1878.2" x2="650.1" y2="2219.2" stroke="#651A1A" stroke-width="1.7" />
<line x1="663.3" y1="1878.2" x2="663.3" y2="2219.2" stroke="#651A1A" stroke-width="1.7" />
<line x1="676.4" y1="1878.2" x2="676.4" y2="2219.2" stroke="#651A1A" stroke-width="1.7" />
<line x1="689.6" y1="1878.2" x2="689.6" y2="2219.2" stroke="#651A1A" stroke-width="2.8" />
<line x1="702.7" y1="1878.2" x2="702.7" y2="2219.2" stroke="#651A1A" stroke-width="1.7" />
<line x1="547.3" y1="1521.1" x2="691.5" y2="1521.1" stroke="#651A1A" stroke-width="2.8" />
<line x1="547.3" y1="1534.8" x2="691.5" y2="1534.8" stroke="#651A1A" stroke-width="1.7" />
<line x1="547.3" y1="1548.4" x2="691.5" y2="1548.4" stroke="#651A1A" stroke-width="1.7" />
<line x1="547.3" y1="1562.1" x2="691.5" y2="1562.1" stroke="#651A1A" stroke-width="1.7" />
<line x1="547.3" y1="1575.7" x2="691.5" y2="1575.7" stroke="#651A1A" stroke-width="1.7" />
<line x1="547.3" y1="1589.4" x2="691.5" y2="1589.4" stroke="#651A1A" stroke-width="2.8" />
<line x1="547.3" y1="1603.1" x2="691.5" y2="1603.1" stroke="#651A1A" stroke-width="1.7" />
<line x1="547.3" y1="1616.7" x2="691.5" y2="1616.7" stroke="#651A1A" stroke-width="1.7" />
<line x1="547.3" y1="1630.4" x2="691.5" y2="1630.4" stroke="#651A1A" stroke-width="1.7" />
<line x1="547.3" y1="1644.0" x2="691.5" y2="1644.0" stroke="#651A1A" stroke-width="1.7" />
<line x1="547.3" y1="1657.7" x2="691.5" y2="1657.7" stroke="#651A1A" stroke-width="2.8" />
<line x1="547.3" y1="1671.4" x2="691.5" y2="1671.4" stroke="#651A1A" stroke-width="1.7" />
<line x1="547.3" y1="1685.0" x2="691.5" y2="1685.0" stroke="#651A1A" stroke-width="1.7" />
<line x1="547.3" y1="1698.7" x2="691.5" y2="1698.7" stroke="#651A1A" stroke-width="1.7" />
<line x1="547.3" y1="1712.3" x2="691.5" y2="1712.3" stroke="#651A1A" stroke-width="1.7" />
<line x1="547.3" y1="1726.0" x2="691.5" y2="1726.0" stroke="#651A1A" stroke-width="2.8" />
<line x1="547.3" y1="1739.7" x2="691.5" y2="1739.7" stroke="#651A1A" stroke-width="1.7" />
<line x1="547.3" y1="1753.3" x2="691.5" y2="1753.3" stroke="#651A1A" stroke-width="1.7" />
<line x1="547.3" y1="1767.0" x2="691.5" y2="1767.0" stroke="#651A1A" stroke-width="1.7" />
<line x1="547.3" y1="1780.6" x2="691.5" y2="1780.6" stroke="#651A1A" stroke-width="1.7" />
<line x1="547.3" y1="1794.3" x2="691.5" y2="1794.3" stroke="#651A1A" stroke-width="2.8" />
<line x1="547.3" y1="1808.0" x2="691.5" y2="1808.0" stroke="#651A1A" stroke-width="1.7" />
<line x1="547.3" y1="1821.6" x2="691.5" y2="1821.6" stroke="#651A1A" stroke-width="1.7" />
<line x1="547.3" y1="1835.3" x2="691.5" y2="1835.3" stroke="#651A1A" stroke-width="1.7" />
<line x1="547.3" y1="1848.9" x2="691.5" y2="1848.9" stroke="#651A1A" stroke-width="1.7" />
<line x1="547.3" y1="1862.6" x2="691.5" y2="1862.6" stroke="#651A1A" stroke-width="2.8" />
<line x1="547.3" y1="1876.3" x2="691.5" y2="1876.3" stroke="#651A1A" stroke-width="1.7" />
<line x1="547.3" y1="1889.9" x2="691.5" y2="1889.9" stroke="#651A1A" stroke-width="1.7" />
<line x1="547.3" y1="1903.6" x2="691.5" y2="1903.6" stroke="#651A1A" stroke-width="1.7" />
<line x1="547.3" y1="1917.2" x2="691.5" y2="1917.2" stroke="#651A1A" stroke-width="1.7" />
<line x1="547.3" y1="1930.9" x2="691.5" y2="1930.9" stroke="#651A1A" stroke-width="2.8" />
<line x1="547.3" y1="1944.6" x2="691.5" y2="1944.6" stroke="#651A1A" stroke-width="1.7" />
<line x1="547.3" y1="1958.2" x2="691.5" y2="1958.2" stroke="#651A1A" stroke-width="1.7" />
<line x1="547.3" y1="1971.9" x2="691.5" y2="1971.9" stroke="#651A1A" stroke-width="1.7" />
<line x1="547.3" y1="1985.5" x2="691.5" y2="1985.5" stroke="#651A1A" stroke-width="1.7" />
<line x1="547.3" y1="1999.2" x2="691.5" y2="1999.2" stroke="#651A1A" stroke-width="2.8" />
<line x1="547.3" y1="2012.9" x2="691.5" y2="2012.9" stroke="#651A1A" stroke-width="1.7" />
<line x1="547.3" y1="2026.5" x2="691.5" y2="2026.5" stroke="#651A1A" stroke-width="1.7" />
<line x1="547.3" y1="2040.2" x2="691.5" y2="2040.2" stroke="#651A1A" stroke-width="1.7" />
<line x1="547.3" y1="2053.8" x2="691.5" y2="2053.8" stroke="#651A1A" stroke-width="1.7" />
<line x1="547.3" y1="2067.5" x2="691.5" y2="2067.5" stroke="#651A1A" stroke-width="2.8" />
<line x1="547.3" y1="2081.2" x2="691.5" y2="2081.2" stroke="#651A1A" stroke-width="1.7" />
<line x1="547.3" y1="2094.8" x2="691.5" y2="2094.8" stroke="#651A1A" stroke-width="1.7" />
<line x1="547.3" y1="2108.5" x2="691.5" y2="2108.5" stroke="#651A1A" stroke-width="1.7" />
<line x1="547.3" y1="2122.1" x2="691.5" y2="2122.1" stroke="#651A1A" stroke-width="1.7" />
<line x1="547.3" y1="2135.8" x2="691.5" y2="2135.8" stroke="#651A1A" stroke-width="2.8" />
<line x1="547.3" y1="2149.5" x2="691.5" y2="2149.5" stroke="#651A1A" stroke-width="1.7" />
<line x1="547.3" y1="2163.1" x2="691.5" y2="2163.1" stroke="#651A1A" stroke-width="1.7" />
<line x1="547.3" y1="2176.8" x2="691.5" y2="2176.8" stroke="#651A1A" stroke-width="1.7" />
<line x1="547.3" y1="2190.4" x2="691.5" y2="2190.4" stroke="#651A1A" stroke-width="1.7" />
<line x1="547.3" y1="2204.1" x2="691.5" y2="2204.1" stroke="#651A1A" stroke-width="2.8" />
<line x1="547.3" y1="2217.8" x2="691.5" y2="2217.8" stroke="#651A1A" stroke-width="1.7" />
<line x1="547.3" y1="2231.4" x2="691.5" y2="2231.4" stroke="#651A1A" stroke-width="1.7" />
<path d="M584.0,2219.2 L584.5,1973.2 C585.5,1961.2 593.1,1947.2 602.6,1936.2 L604.6,1935.2 L606.6,1936.2 C616.2,1947.2 623.8,1961.2 624.8,1973.2 L625.3,2219.2 Z" fill="url(#rodG)"/>
<ellipse cx="603.6" cy="1957.2" rx="1.6" ry="4.5" fill="#fff" opacity="0.95" transform="rotate(-20 603.6 1957.2)"/>
<rect x="559.0" y="1899.3" width="64.7" height="11.3" fill="#FFFFFF" />
</g>
<text x="594.9" y="2069.0" font-size="46" fill="#000" ><tspan font-style="italic">t</tspan></text>
<text x="572.6" y="2197.8" font-size="46" fill="#000" ><tspan font-style="italic">t+o</tspan></text>
<clipPath id="ph2"><rect x="1184.9" y="1878.5" width="151.7" height="337.6"/></clipPath>
<g clip-path="url(#ph2)">
<rect x="1184.9" y="1878.5" width="151.7" height="337.6" fill="#C9D6D1" />
<line x1="964.2" y1="1878.5" x2="964.2" y2="2216.1" stroke="#651A1A" stroke-width="2.8" />
<line x1="977.4" y1="1878.5" x2="977.4" y2="2216.1" stroke="#651A1A" stroke-width="1.7" />
<line x1="990.6" y1="1878.5" x2="990.6" y2="2216.1" stroke="#651A1A" stroke-width="1.7" />
<line x1="1003.9" y1="1878.5" x2="1003.9" y2="2216.1" stroke="#651A1A" stroke-width="1.7" />
<line x1="1017.1" y1="1878.5" x2="1017.1" y2="2216.1" stroke="#651A1A" stroke-width="1.7" />
<line x1="1030.3" y1="1878.5" x2="1030.3" y2="2216.1" stroke="#651A1A" stroke-width="2.8" />
<line x1="1043.5" y1="1878.5" x2="1043.5" y2="2216.1" stroke="#651A1A" stroke-width="1.7" />
<line x1="1056.7" y1="1878.5" x2="1056.7" y2="2216.1" stroke="#651A1A" stroke-width="1.7" />
<line x1="1070.0" y1="1878.5" x2="1070.0" y2="2216.1" stroke="#651A1A" stroke-width="1.7" />
<line x1="1083.2" y1="1878.5" x2="1083.2" y2="2216.1" stroke="#651A1A" stroke-width="1.7" />
<line x1="1096.4" y1="1878.5" x2="1096.4" y2="2216.1" stroke="#651A1A" stroke-width="2.8" />
<line x1="1109.6" y1="1878.5" x2="1109.6" y2="2216.1" stroke="#651A1A" stroke-width="1.7" />
<line x1="1122.8" y1="1878.5" x2="1122.8" y2="2216.1" stroke="#651A1A" stroke-width="1.7" />
<line x1="1136.1" y1="1878.5" x2="1136.1" y2="2216.1" stroke="#651A1A" stroke-width="1.7" />
<line x1="1149.3" y1="1878.5" x2="1149.3" y2="2216.1" stroke="#651A1A" stroke-width="1.7" />
<line x1="1162.5" y1="1878.5" x2="1162.5" y2="2216.1" stroke="#651A1A" stroke-width="2.8" />
<line x1="1175.7" y1="1878.5" x2="1175.7" y2="2216.1" stroke="#651A1A" stroke-width="1.7" />
<line x1="1188.9" y1="1878.5" x2="1188.9" y2="2216.1" stroke="#651A1A" stroke-width="1.7" />
<line x1="1202.2" y1="1878.5" x2="1202.2" y2="2216.1" stroke="#651A1A" stroke-width="1.7" />
<line x1="1215.4" y1="1878.5" x2="1215.4" y2="2216.1" stroke="#651A1A" stroke-width="1.7" />
<line x1="1228.6" y1="1878.5" x2="1228.6" y2="2216.1" stroke="#651A1A" stroke-width="2.8" />
<line x1="1241.8" y1="1878.5" x2="1241.8" y2="2216.1" stroke="#651A1A" stroke-width="1.7" />
<line x1="1255.0" y1="1878.5" x2="1255.0" y2="2216.1" stroke="#651A1A" stroke-width="1.7" />
<line x1="1268.3" y1="1878.5" x2="1268.3" y2="2216.1" stroke="#651A1A" stroke-width="1.7" />
<line x1="1281.5" y1="1878.5" x2="1281.5" y2="2216.1" stroke="#651A1A" stroke-width="1.7" />
<line x1="1294.7" y1="1878.5" x2="1294.7" y2="2216.1" stroke="#651A1A" stroke-width="2.8" />
<line x1="1307.9" y1="1878.5" x2="1307.9" y2="2216.1" stroke="#651A1A" stroke-width="1.7" />
<line x1="1321.1" y1="1878.5" x2="1321.1" y2="2216.1" stroke="#651A1A" stroke-width="1.7" />
<line x1="1334.4" y1="1878.5" x2="1334.4" y2="2216.1" stroke="#651A1A" stroke-width="1.7" />
<line x1="1347.6" y1="1878.5" x2="1347.6" y2="2216.1" stroke="#651A1A" stroke-width="1.7" />
<line x1="1184.9" y1="1573.5" x2="1336.6" y2="1573.5" stroke="#651A1A" stroke-width="2.8" />
<line x1="1184.9" y1="1586.9" x2="1336.6" y2="1586.9" stroke="#651A1A" stroke-width="1.7" />
<line x1="1184.9" y1="1600.3" x2="1336.6" y2="1600.3" stroke="#651A1A" stroke-width="1.7" />
<line x1="1184.9" y1="1613.7" x2="1336.6" y2="1613.7" stroke="#651A1A" stroke-width="1.7" />
<line x1="1184.9" y1="1627.1" x2="1336.6" y2="1627.1" stroke="#651A1A" stroke-width="1.7" />
<line x1="1184.9" y1="1640.5" x2="1336.6" y2="1640.5" stroke="#651A1A" stroke-width="2.8" />
<line x1="1184.9" y1="1653.9" x2="1336.6" y2="1653.9" stroke="#651A1A" stroke-width="1.7" />
<line x1="1184.9" y1="1667.3" x2="1336.6" y2="1667.3" stroke="#651A1A" stroke-width="1.7" />
<line x1="1184.9" y1="1680.7" x2="1336.6" y2="1680.7" stroke="#651A1A" stroke-width="1.7" />
<line x1="1184.9" y1="1694.1" x2="1336.6" y2="1694.1" stroke="#651A1A" stroke-width="1.7" />
<line x1="1184.9" y1="1707.5" x2="1336.6" y2="1707.5" stroke="#651A1A" stroke-width="2.8" />
<line x1="1184.9" y1="1720.9" x2="1336.6" y2="1720.9" stroke="#651A1A" stroke-width="1.7" />
<line x1="1184.9" y1="1734.3" x2="1336.6" y2="1734.3" stroke="#651A1A" stroke-width="1.7" />
<line x1="1184.9" y1="1747.7" x2="1336.6" y2="1747.7" stroke="#651A1A" stroke-width="1.7" />
<line x1="1184.9" y1="1761.1" x2="1336.6" y2="1761.1" stroke="#651A1A" stroke-width="1.7" />
<line x1="1184.9" y1="1774.5" x2="1336.6" y2="1774.5" stroke="#651A1A" stroke-width="2.8" />
<line x1="1184.9" y1="1787.9" x2="1336.6" y2="1787.9" stroke="#651A1A" stroke-width="1.7" />
<line x1="1184.9" y1="1801.3" x2="1336.6" y2="1801.3" stroke="#651A1A" stroke-width="1.7" />
<line x1="1184.9" y1="1814.7" x2="1336.6" y2="1814.7" stroke="#651A1A" stroke-width="1.7" />
<line x1="1184.9" y1="1828.1" x2="1336.6" y2="1828.1" stroke="#651A1A" stroke-width="1.7" />
<line x1="1184.9" y1="1841.5" x2="1336.6" y2="1841.5" stroke="#651A1A" stroke-width="2.8" />
<line x1="1184.9" y1="1854.9" x2="1336.6" y2="1854.9" stroke="#651A1A" stroke-width="1.7" />
<line x1="1184.9" y1="1868.3" x2="1336.6" y2="1868.3" stroke="#651A1A" stroke-width="1.7" />
<line x1="1184.9" y1="1881.7" x2="1336.6" y2="1881.7" stroke="#651A1A" stroke-width="1.7" />
<line x1="1184.9" y1="1895.1" x2="1336.6" y2="1895.1" stroke="#651A1A" stroke-width="1.7" />
<line x1="1184.9" y1="1908.5" x2="1336.6" y2="1908.5" stroke="#651A1A" stroke-width="2.8" />
<line x1="1184.9" y1="1921.9" x2="1336.6" y2="1921.9" stroke="#651A1A" stroke-width="1.7" />
<line x1="1184.9" y1="1935.3" x2="1336.6" y2="1935.3" stroke="#651A1A" stroke-width="1.7" />
<line x1="1184.9" y1="1948.7" x2="1336.6" y2="1948.7" stroke="#651A1A" stroke-width="1.7" />
<line x1="1184.9" y1="1962.1" x2="1336.6" y2="1962.1" stroke="#651A1A" stroke-width="1.7" />
<line x1="1184.9" y1="1975.5" x2="1336.6" y2="1975.5" stroke="#651A1A" stroke-width="2.8" />
<line x1="1184.9" y1="1988.9" x2="1336.6" y2="1988.9" stroke="#651A1A" stroke-width="1.7" />
<line x1="1184.9" y1="2002.3" x2="1336.6" y2="2002.3" stroke="#651A1A" stroke-width="1.7" />
<line x1="1184.9" y1="2015.7" x2="1336.6" y2="2015.7" stroke="#651A1A" stroke-width="1.7" />
<line x1="1184.9" y1="2029.1" x2="1336.6" y2="2029.1" stroke="#651A1A" stroke-width="1.7" />
<line x1="1184.9" y1="2042.5" x2="1336.6" y2="2042.5" stroke="#651A1A" stroke-width="2.8" />
<line x1="1184.9" y1="2055.9" x2="1336.6" y2="2055.9" stroke="#651A1A" stroke-width="1.7" />
<line x1="1184.9" y1="2069.3" x2="1336.6" y2="2069.3" stroke="#651A1A" stroke-width="1.7" />
<line x1="1184.9" y1="2082.7" x2="1336.6" y2="2082.7" stroke="#651A1A" stroke-width="1.7" />
<line x1="1184.9" y1="2096.1" x2="1336.6" y2="2096.1" stroke="#651A1A" stroke-width="1.7" />
<line x1="1184.9" y1="2109.5" x2="1336.6" y2="2109.5" stroke="#651A1A" stroke-width="2.8" />
<line x1="1184.9" y1="2122.9" x2="1336.6" y2="2122.9" stroke="#651A1A" stroke-width="1.7" />
<line x1="1184.9" y1="2136.3" x2="1336.6" y2="2136.3" stroke="#651A1A" stroke-width="1.7" />
<line x1="1184.9" y1="2149.7" x2="1336.6" y2="2149.7" stroke="#651A1A" stroke-width="1.7" />
<line x1="1184.9" y1="2163.1" x2="1336.6" y2="2163.1" stroke="#651A1A" stroke-width="1.7" />
<line x1="1184.9" y1="2176.5" x2="1336.6" y2="2176.5" stroke="#651A1A" stroke-width="2.8" />
<line x1="1184.9" y1="2189.9" x2="1336.6" y2="2189.9" stroke="#651A1A" stroke-width="1.7" />
<line x1="1184.9" y1="2203.3" x2="1336.6" y2="2203.3" stroke="#651A1A" stroke-width="1.7" />
<line x1="1184.9" y1="2216.7" x2="1336.6" y2="2216.7" stroke="#651A1A" stroke-width="1.7" />
<path d="M1233.4,2216.1 L1233.9,1975.6 C1234.9,1963.6 1243.1,1949.6 1253.5,1938.6 L1255.5,1937.6 L1257.5,1938.6 C1267.8,1949.6 1276.0,1963.6 1277.0,1975.6 L1277.5,2216.1 Z" fill="url(#rodG)"/>
<ellipse cx="1254.5" cy="1959.6" rx="1.6" ry="4.5" fill="#fff" opacity="0.95" transform="rotate(-20 1254.5 1959.6)"/>
<rect x="1225.5" y="1895.3" width="67.0" height="11.4" fill="#FFFFFF" />
</g>
<text x="1244.5" y="2032.7" font-size="46" fill="#000" ><tspan font-style="italic">t</tspan></text>
<text x="1219.9" y="2182.4" font-size="46" fill="#000" ><tspan font-style="italic">t+o</tspan></text>
<clipPath id="ph3"><rect x="1822.6" y="1882.4" width="147.8" height="336.6"/></clipPath>
<g clip-path="url(#ph3)">
<rect x="1822.6" y="1882.4" width="147.8" height="336.6" fill="#C9D6D1" />
<line x1="1577.3" y1="1882.4" x2="1577.3" y2="2219.0" stroke="#651A1A" stroke-width="2.8" />
<line x1="1590.8" y1="1882.4" x2="1590.8" y2="2219.0" stroke="#651A1A" stroke-width="1.7" />
<line x1="1604.3" y1="1882.4" x2="1604.3" y2="2219.0" stroke="#651A1A" stroke-width="1.7" />
<line x1="1617.9" y1="1882.4" x2="1617.9" y2="2219.0" stroke="#651A1A" stroke-width="1.7" />
<line x1="1631.4" y1="1882.4" x2="1631.4" y2="2219.0" stroke="#651A1A" stroke-width="1.7" />
<line x1="1644.9" y1="1882.4" x2="1644.9" y2="2219.0" stroke="#651A1A" stroke-width="2.8" />
<line x1="1658.4" y1="1882.4" x2="1658.4" y2="2219.0" stroke="#651A1A" stroke-width="1.7" />
<line x1="1671.9" y1="1882.4" x2="1671.9" y2="2219.0" stroke="#651A1A" stroke-width="1.7" />
<line x1="1685.5" y1="1882.4" x2="1685.5" y2="2219.0" stroke="#651A1A" stroke-width="1.7" />
<line x1="1699.0" y1="1882.4" x2="1699.0" y2="2219.0" stroke="#651A1A" stroke-width="1.7" />
<line x1="1712.5" y1="1882.4" x2="1712.5" y2="2219.0" stroke="#651A1A" stroke-width="2.8" />
<line x1="1726.0" y1="1882.4" x2="1726.0" y2="2219.0" stroke="#651A1A" stroke-width="1.7" />
<line x1="1739.5" y1="1882.4" x2="1739.5" y2="2219.0" stroke="#651A1A" stroke-width="1.7" />
<line x1="1753.1" y1="1882.4" x2="1753.1" y2="2219.0" stroke="#651A1A" stroke-width="1.7" />
<line x1="1766.6" y1="1882.4" x2="1766.6" y2="2219.0" stroke="#651A1A" stroke-width="1.7" />
<line x1="1780.1" y1="1882.4" x2="1780.1" y2="2219.0" stroke="#651A1A" stroke-width="2.8" />
<line x1="1793.6" y1="1882.4" x2="1793.6" y2="2219.0" stroke="#651A1A" stroke-width="1.7" />
<line x1="1807.1" y1="1882.4" x2="1807.1" y2="2219.0" stroke="#651A1A" stroke-width="1.7" />
<line x1="1820.7" y1="1882.4" x2="1820.7" y2="2219.0" stroke="#651A1A" stroke-width="1.7" />
<line x1="1834.2" y1="1882.4" x2="1834.2" y2="2219.0" stroke="#651A1A" stroke-width="1.7" />
<line x1="1847.7" y1="1882.4" x2="1847.7" y2="2219.0" stroke="#651A1A" stroke-width="2.8" />
<line x1="1861.2" y1="1882.4" x2="1861.2" y2="2219.0" stroke="#651A1A" stroke-width="1.7" />
<line x1="1874.7" y1="1882.4" x2="1874.7" y2="2219.0" stroke="#651A1A" stroke-width="1.7" />
<line x1="1888.3" y1="1882.4" x2="1888.3" y2="2219.0" stroke="#651A1A" stroke-width="1.7" />
<line x1="1901.8" y1="1882.4" x2="1901.8" y2="2219.0" stroke="#651A1A" stroke-width="1.7" />
<line x1="1915.3" y1="1882.4" x2="1915.3" y2="2219.0" stroke="#651A1A" stroke-width="2.8" />
<line x1="1928.8" y1="1882.4" x2="1928.8" y2="2219.0" stroke="#651A1A" stroke-width="1.7" />
<line x1="1942.3" y1="1882.4" x2="1942.3" y2="2219.0" stroke="#651A1A" stroke-width="1.7" />
<line x1="1955.9" y1="1882.4" x2="1955.9" y2="2219.0" stroke="#651A1A" stroke-width="1.7" />
<line x1="1969.4" y1="1882.4" x2="1969.4" y2="2219.0" stroke="#651A1A" stroke-width="1.7" />
<line x1="1982.9" y1="1882.4" x2="1982.9" y2="2219.0" stroke="#651A1A" stroke-width="2.8" />
<line x1="1822.6" y1="1587.4" x2="1970.4" y2="1587.4" stroke="#651A1A" stroke-width="2.8" />
<line x1="1822.6" y1="1600.8" x2="1970.4" y2="1600.8" stroke="#651A1A" stroke-width="1.7" />
<line x1="1822.6" y1="1614.3" x2="1970.4" y2="1614.3" stroke="#651A1A" stroke-width="1.7" />
<line x1="1822.6" y1="1627.7" x2="1970.4" y2="1627.7" stroke="#651A1A" stroke-width="1.7" />
<line x1="1822.6" y1="1641.2" x2="1970.4" y2="1641.2" stroke="#651A1A" stroke-width="1.7" />
<line x1="1822.6" y1="1654.6" x2="1970.4" y2="1654.6" stroke="#651A1A" stroke-width="2.8" />
<line x1="1822.6" y1="1668.0" x2="1970.4" y2="1668.0" stroke="#651A1A" stroke-width="1.7" />
<line x1="1822.6" y1="1681.5" x2="1970.4" y2="1681.5" stroke="#651A1A" stroke-width="1.7" />
<line x1="1822.6" y1="1694.9" x2="1970.4" y2="1694.9" stroke="#651A1A" stroke-width="1.7" />
<line x1="1822.6" y1="1708.4" x2="1970.4" y2="1708.4" stroke="#651A1A" stroke-width="1.7" />
<line x1="1822.6" y1="1721.8" x2="1970.4" y2="1721.8" stroke="#651A1A" stroke-width="2.8" />
<line x1="1822.6" y1="1735.2" x2="1970.4" y2="1735.2" stroke="#651A1A" stroke-width="1.7" />
<line x1="1822.6" y1="1748.7" x2="1970.4" y2="1748.7" stroke="#651A1A" stroke-width="1.7" />
<line x1="1822.6" y1="1762.1" x2="1970.4" y2="1762.1" stroke="#651A1A" stroke-width="1.7" />
<line x1="1822.6" y1="1775.6" x2="1970.4" y2="1775.6" stroke="#651A1A" stroke-width="1.7" />
<line x1="1822.6" y1="1789.0" x2="1970.4" y2="1789.0" stroke="#651A1A" stroke-width="2.8" />
<line x1="1822.6" y1="1802.4" x2="1970.4" y2="1802.4" stroke="#651A1A" stroke-width="1.7" />
<line x1="1822.6" y1="1815.9" x2="1970.4" y2="1815.9" stroke="#651A1A" stroke-width="1.7" />
<line x1="1822.6" y1="1829.3" x2="1970.4" y2="1829.3" stroke="#651A1A" stroke-width="1.7" />
<line x1="1822.6" y1="1842.8" x2="1970.4" y2="1842.8" stroke="#651A1A" stroke-width="1.7" />
<line x1="1822.6" y1="1856.2" x2="1970.4" y2="1856.2" stroke="#651A1A" stroke-width="2.8" />
<line x1="1822.6" y1="1869.6" x2="1970.4" y2="1869.6" stroke="#651A1A" stroke-width="1.7" />
<line x1="1822.6" y1="1883.1" x2="1970.4" y2="1883.1" stroke="#651A1A" stroke-width="1.7" />
<line x1="1822.6" y1="1896.5" x2="1970.4" y2="1896.5" stroke="#651A1A" stroke-width="1.7" />
<line x1="1822.6" y1="1910.0" x2="1970.4" y2="1910.0" stroke="#651A1A" stroke-width="1.7" />
<line x1="1822.6" y1="1923.4" x2="1970.4" y2="1923.4" stroke="#651A1A" stroke-width="2.8" />
<line x1="1822.6" y1="1936.8" x2="1970.4" y2="1936.8" stroke="#651A1A" stroke-width="1.7" />
<line x1="1822.6" y1="1950.3" x2="1970.4" y2="1950.3" stroke="#651A1A" stroke-width="1.7" />
<line x1="1822.6" y1="1963.7" x2="1970.4" y2="1963.7" stroke="#651A1A" stroke-width="1.7" />
<line x1="1822.6" y1="1977.2" x2="1970.4" y2="1977.2" stroke="#651A1A" stroke-width="1.7" />
<line x1="1822.6" y1="1990.6" x2="1970.4" y2="1990.6" stroke="#651A1A" stroke-width="2.8" />
<line x1="1822.6" y1="2004.0" x2="1970.4" y2="2004.0" stroke="#651A1A" stroke-width="1.7" />
<line x1="1822.6" y1="2017.5" x2="1970.4" y2="2017.5" stroke="#651A1A" stroke-width="1.7" />
<line x1="1822.6" y1="2030.9" x2="1970.4" y2="2030.9" stroke="#651A1A" stroke-width="1.7" />
<line x1="1822.6" y1="2044.4" x2="1970.4" y2="2044.4" stroke="#651A1A" stroke-width="1.7" />
<line x1="1822.6" y1="2057.8" x2="1970.4" y2="2057.8" stroke="#651A1A" stroke-width="2.8" />
<line x1="1822.6" y1="2071.2" x2="1970.4" y2="2071.2" stroke="#651A1A" stroke-width="1.7" />
<line x1="1822.6" y1="2084.7" x2="1970.4" y2="2084.7" stroke="#651A1A" stroke-width="1.7" />
<line x1="1822.6" y1="2098.1" x2="1970.4" y2="2098.1" stroke="#651A1A" stroke-width="1.7" />
<line x1="1822.6" y1="2111.6" x2="1970.4" y2="2111.6" stroke="#651A1A" stroke-width="1.7" />
<line x1="1822.6" y1="2125.0" x2="1970.4" y2="2125.0" stroke="#651A1A" stroke-width="2.8" />
<line x1="1822.6" y1="2138.4" x2="1970.4" y2="2138.4" stroke="#651A1A" stroke-width="1.7" />
<line x1="1822.6" y1="2151.9" x2="1970.4" y2="2151.9" stroke="#651A1A" stroke-width="1.7" />
<line x1="1822.6" y1="2165.3" x2="1970.4" y2="2165.3" stroke="#651A1A" stroke-width="1.7" />
<line x1="1822.6" y1="2178.8" x2="1970.4" y2="2178.8" stroke="#651A1A" stroke-width="1.7" />
<line x1="1822.6" y1="2192.2" x2="1970.4" y2="2192.2" stroke="#651A1A" stroke-width="2.8" />
<line x1="1822.6" y1="2205.6" x2="1970.4" y2="2205.6" stroke="#651A1A" stroke-width="1.7" />
<line x1="1822.6" y1="2219.1" x2="1970.4" y2="2219.1" stroke="#651A1A" stroke-width="1.7" />
<path d="M1864.0,2219 L1864.5,1972.2 C1865.5,1960.2 1873.4,1946.2 1883.3,1935.2 L1885.3,1934.2 L1887.3,1935.2 C1897.2,1946.2 1905.1,1960.2 1906.1,1972.2 L1906.6,2219 Z" fill="url(#rodG)"/>
<ellipse cx="1884.3" cy="1956.2" rx="1.6" ry="4.5" fill="#fff" opacity="0.95" transform="rotate(-20 1884.3 1956.2)"/>
<rect x="1847.7" y="1899.2" width="67.6" height="11.2" fill="#FFFFFF" />
</g>
<text x="1855.6" y="2120.8" font-size="46" fill="#000" ><tspan font-style="italic">t+o</tspan></text>
<line x1="476.0" y1="1974.7" x2="649.3" y2="1974.7" stroke="#FF0000" stroke-width="5.2" stroke-dasharray="23 17"/>
<line x1="476.0" y1="2223.0" x2="649.3" y2="2223.0" stroke="#FF0000" stroke-width="5.2" stroke-dasharray="23 17"/>
<line x1="566.1" y1="1974.7" x2="566.1" y2="2223.0" stroke="#FF0000" stroke-width="5.2" stroke-dasharray="23 17"/>
<line x1="649.3" y1="1974.7" x2="649.3" y2="2223.0" stroke="#FF0000" stroke-width="5.2" stroke-dasharray="23 17"/>
<line x1="566.1" y1="2136.3" x2="649.3" y2="2136.3" stroke="#FF0000" stroke-width="5.2" stroke-dasharray="23 17"/>
<line x1="1121.0" y1="1975.0" x2="1295.3" y2="1975.0" stroke="#FF0000" stroke-width="5.2" stroke-dasharray="23 17"/>
<line x1="1121.0" y1="2221.5" x2="1295.3" y2="2221.5" stroke="#FF0000" stroke-width="5.2" stroke-dasharray="23 17"/>
<line x1="1211.6" y1="1975.0" x2="1211.6" y2="2221.5" stroke="#FF0000" stroke-width="5.2" stroke-dasharray="23 17"/>
<line x1="1295.3" y1="1975.0" x2="1295.3" y2="2221.5" stroke="#FF0000" stroke-width="5.2" stroke-dasharray="23 17"/>
<line x1="1211.6" y1="2082.7" x2="1295.3" y2="2082.7" stroke="#FF0000" stroke-width="5.2" stroke-dasharray="23 17"/>
<line x1="1758.8" y1="1976.8" x2="1929.1" y2="1976.8" stroke="#FF0000" stroke-width="5.2" stroke-dasharray="23 17"/>
<line x1="1758.8" y1="2223.5" x2="1929.1" y2="2223.5" stroke="#FF0000" stroke-width="5.2" stroke-dasharray="23 17"/>
<line x1="1845.2" y1="1976.8" x2="1845.2" y2="2223.5" stroke="#FF0000" stroke-width="5.2" stroke-dasharray="23 17"/>
<line x1="1929.1" y1="1976.8" x2="1929.1" y2="2223.5" stroke="#FF0000" stroke-width="5.2" stroke-dasharray="23 17"/>
</svg></body></html>
